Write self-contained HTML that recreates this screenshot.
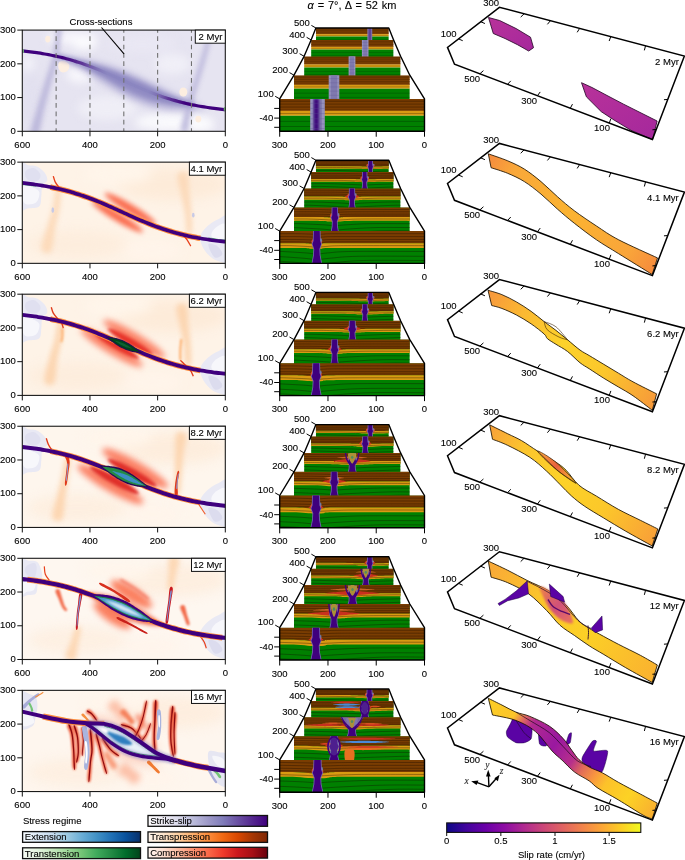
<!DOCTYPE html>
<html><head><meta charset="utf-8"><style>
html,body{margin:0;padding:0;background:#fff;width:685px;height:860px;overflow:hidden}
svg{display:block;font-family:"Liberation Sans", sans-serif;}
text{opacity:0.999;stroke:#000;stroke-width:0.18px;stroke-opacity:0.6}
</style></head><body>
<svg width="685" height="860" viewBox="0 0 685 860">
<defs>
<clipPath id="lc0"><rect x="22.30" y="30.10" width="203.00" height="101.20"/></clipPath>
<filter id="b4" filterUnits="userSpaceOnUse" x="-100" y="-100" width="900" height="1100" color-interpolation-filters="sRGB"><feGaussianBlur stdDeviation="4"/></filter>
<filter id="b2_6" filterUnits="userSpaceOnUse" x="-100" y="-100" width="900" height="1100" color-interpolation-filters="sRGB"><feGaussianBlur stdDeviation="2.6"/></filter>
<filter id="b2_4" filterUnits="userSpaceOnUse" x="-100" y="-100" width="900" height="1100" color-interpolation-filters="sRGB"><feGaussianBlur stdDeviation="2.4"/></filter>
<filter id="b3_2" filterUnits="userSpaceOnUse" x="-100" y="-100" width="900" height="1100" color-interpolation-filters="sRGB"><feGaussianBlur stdDeviation="3.2"/></filter>
<filter id="b2_8" filterUnits="userSpaceOnUse" x="-100" y="-100" width="900" height="1100" color-interpolation-filters="sRGB"><feGaussianBlur stdDeviation="2.8"/></filter>
<filter id="b0_6" filterUnits="userSpaceOnUse" x="-100" y="-100" width="900" height="1100" color-interpolation-filters="sRGB"><feGaussianBlur stdDeviation="0.6"/></filter>
<linearGradient id="fg0" gradientUnits="userSpaceOnUse" x1="0" y1="0" x2="203" y2="0"><stop offset="0" stop-color="#3f007d"/><stop offset="0.2" stop-color="#3f007d"/><stop offset="0.3" stop-color="#54278f" stop-opacity="0.85"/><stop offset="0.42" stop-color="#807dba" stop-opacity="0.25"/><stop offset="0.62" stop-color="#807dba" stop-opacity="0.25"/><stop offset="0.72" stop-color="#54278f" stop-opacity="0.85"/><stop offset="0.8" stop-color="#3f007d"/><stop offset="1" stop-color="#3f007d"/></linearGradient>
<filter id="b2_2" filterUnits="userSpaceOnUse" x="-100" y="-100" width="900" height="1100" color-interpolation-filters="sRGB"><feGaussianBlur stdDeviation="2.2"/></filter>
<clipPath id="lc1"><rect x="22.30" y="162.15" width="203.00" height="101.20"/></clipPath>
<filter id="b6" filterUnits="userSpaceOnUse" x="-100" y="-100" width="900" height="1100" color-interpolation-filters="sRGB"><feGaussianBlur stdDeviation="6"/></filter>
<filter id="b2_5" filterUnits="userSpaceOnUse" x="-100" y="-100" width="900" height="1100" color-interpolation-filters="sRGB"><feGaussianBlur stdDeviation="2.5"/></filter>
<filter id="b0_3" filterUnits="userSpaceOnUse" x="-100" y="-100" width="900" height="1100" color-interpolation-filters="sRGB"><feGaussianBlur stdDeviation="0.3"/></filter>
<clipPath id="lc2"><rect x="22.30" y="294.20" width="203.00" height="101.20"/></clipPath>
<filter id="b3" filterUnits="userSpaceOnUse" x="-100" y="-100" width="900" height="1100" color-interpolation-filters="sRGB"><feGaussianBlur stdDeviation="3"/></filter>
<filter id="b1_5" filterUnits="userSpaceOnUse" x="-100" y="-100" width="900" height="1100" color-interpolation-filters="sRGB"><feGaussianBlur stdDeviation="1.5"/></filter>
<filter id="b0_35" filterUnits="userSpaceOnUse" x="-100" y="-100" width="900" height="1100" color-interpolation-filters="sRGB"><feGaussianBlur stdDeviation="0.35"/></filter>
<filter id="b0_8" filterUnits="userSpaceOnUse" x="-100" y="-100" width="900" height="1100" color-interpolation-filters="sRGB"><feGaussianBlur stdDeviation="0.8"/></filter>
<clipPath id="lc3"><rect x="22.30" y="426.25" width="203.00" height="101.20"/></clipPath>
<filter id="b1_6" filterUnits="userSpaceOnUse" x="-100" y="-100" width="900" height="1100" color-interpolation-filters="sRGB"><feGaussianBlur stdDeviation="1.6"/></filter>
<filter id="b0_4" filterUnits="userSpaceOnUse" x="-100" y="-100" width="900" height="1100" color-interpolation-filters="sRGB"><feGaussianBlur stdDeviation="0.4"/></filter>
<clipPath id="lc4"><rect x="22.30" y="558.30" width="203.00" height="101.20"/></clipPath>
<filter id="b2" filterUnits="userSpaceOnUse" x="-100" y="-100" width="900" height="1100" color-interpolation-filters="sRGB"><feGaussianBlur stdDeviation="2"/></filter>
<filter id="b1_2" filterUnits="userSpaceOnUse" x="-100" y="-100" width="900" height="1100" color-interpolation-filters="sRGB"><feGaussianBlur stdDeviation="1.2"/></filter>
<filter id="b1_8" filterUnits="userSpaceOnUse" x="-100" y="-100" width="900" height="1100" color-interpolation-filters="sRGB"><feGaussianBlur stdDeviation="1.8"/></filter>
<filter id="b1_3" filterUnits="userSpaceOnUse" x="-100" y="-100" width="900" height="1100" color-interpolation-filters="sRGB"><feGaussianBlur stdDeviation="1.3"/></filter>
<filter id="b1" filterUnits="userSpaceOnUse" x="-100" y="-100" width="900" height="1100" color-interpolation-filters="sRGB"><feGaussianBlur stdDeviation="1"/></filter>
<clipPath id="lc5"><rect x="22.30" y="690.35" width="203.00" height="101.20"/></clipPath>
<filter id="b0_5" filterUnits="userSpaceOnUse" x="-100" y="-100" width="900" height="1100" color-interpolation-filters="sRGB"><feGaussianBlur stdDeviation="0.5"/></filter>
<filter id="b0_2" filterUnits="userSpaceOnUse" x="-100" y="-100" width="900" height="1100" color-interpolation-filters="sRGB"><feGaussianBlur stdDeviation="0.2"/></filter>
<filter id="b0_7" filterUnits="userSpaceOnUse" x="-100" y="-100" width="900" height="1100" color-interpolation-filters="sRGB"><feGaussianBlur stdDeviation="0.7"/></filter>
<clipPath id="ms1"><rect x="315.90" y="28.00" width="72.90" height="16.27"/></clipPath>
<clipPath id="ms2"><rect x="311.10" y="39.90" width="82.50" height="18.41"/></clipPath>
<clipPath id="ms3"><rect x="304.10" y="56.30" width="96.50" height="21.54"/></clipPath>
<clipPath id="ms4"><rect x="294.00" y="75.20" width="115.80" height="25.85"/></clipPath>
<clipPath id="ms5"><rect x="279.70" y="98.90" width="144.80" height="32.32"/></clipPath>
<clipPath id="ms6"><rect x="315.90" y="160.20" width="72.90" height="16.27"/></clipPath>
<clipPath id="ms7"><rect x="311.10" y="172.10" width="82.50" height="18.41"/></clipPath>
<clipPath id="ms8"><rect x="304.10" y="188.50" width="96.50" height="21.54"/></clipPath>
<clipPath id="ms9"><rect x="294.00" y="207.40" width="115.80" height="25.85"/></clipPath>
<clipPath id="ms10"><rect x="279.70" y="231.10" width="144.80" height="32.32"/></clipPath>
<clipPath id="ms11"><rect x="315.90" y="292.40" width="72.90" height="16.27"/></clipPath>
<clipPath id="ms12"><rect x="311.10" y="304.30" width="82.50" height="18.41"/></clipPath>
<clipPath id="ms13"><rect x="304.10" y="320.70" width="96.50" height="21.54"/></clipPath>
<clipPath id="ms14"><rect x="294.00" y="339.60" width="115.80" height="25.85"/></clipPath>
<clipPath id="ms15"><rect x="279.70" y="363.30" width="144.80" height="32.32"/></clipPath>
<clipPath id="ms16"><rect x="315.90" y="424.60" width="72.90" height="16.27"/></clipPath>
<clipPath id="ms17"><rect x="311.10" y="436.50" width="82.50" height="18.41"/></clipPath>
<clipPath id="ms18"><rect x="304.10" y="452.90" width="96.50" height="21.54"/></clipPath>
<clipPath id="ms19"><rect x="294.00" y="471.80" width="115.80" height="25.85"/></clipPath>
<clipPath id="ms20"><rect x="279.70" y="495.50" width="144.80" height="32.32"/></clipPath>
<clipPath id="ms21"><rect x="315.90" y="556.80" width="72.90" height="16.27"/></clipPath>
<clipPath id="ms22"><rect x="311.10" y="568.70" width="82.50" height="18.41"/></clipPath>
<clipPath id="ms23"><rect x="304.10" y="585.10" width="96.50" height="21.54"/></clipPath>
<clipPath id="ms24"><rect x="294.00" y="604.00" width="115.80" height="25.85"/></clipPath>
<clipPath id="ms25"><rect x="279.70" y="627.70" width="144.80" height="32.32"/></clipPath>
<clipPath id="ms26"><rect x="315.90" y="689.00" width="72.90" height="16.27"/></clipPath>
<clipPath id="ms27"><rect x="311.10" y="700.90" width="82.50" height="18.41"/></clipPath>
<clipPath id="ms28"><rect x="304.10" y="717.30" width="96.50" height="21.54"/></clipPath>
<clipPath id="ms29"><rect x="294.00" y="736.20" width="115.80" height="25.85"/></clipPath>
<clipPath id="ms30"><rect x="279.70" y="759.90" width="144.80" height="32.32"/></clipPath>
<linearGradient id="rg0" x1="0" y1="0" x2="1" y2="1"><stop offset="0" stop-color="#b8329a"/><stop offset="1" stop-color="#a5289c"/></linearGradient>
<linearGradient id="rg1" gradientUnits="userSpaceOnUse" x1="488" y1="156.1" x2="655" y2="266.1"><stop offset="0" stop-color="#f58a3e"/><stop offset="0.15" stop-color="#f9a83a"/><stop offset="0.5" stop-color="#fbb331"/><stop offset="0.85" stop-color="#f9a53a"/><stop offset="1" stop-color="#f68c3c"/></linearGradient>
<linearGradient id="rg2" gradientUnits="userSpaceOnUse" x1="488" y1="292.2" x2="655" y2="402.2"><stop offset="0" stop-color="#f7963c"/><stop offset="0.2" stop-color="#fbb832"/><stop offset="0.45" stop-color="#fcd22a"/><stop offset="0.7" stop-color="#fbc72c"/><stop offset="1" stop-color="#f79a3a"/></linearGradient>
<linearGradient id="rg3" gradientUnits="userSpaceOnUse" x1="488" y1="428.4" x2="655" y2="538.4"><stop offset="0" stop-color="#f8a03a"/><stop offset="0.2" stop-color="#fbc42e"/><stop offset="0.45" stop-color="#fcd228"/><stop offset="0.7" stop-color="#fcc82a"/><stop offset="1" stop-color="#f8a038"/></linearGradient>
<linearGradient id="rl3" gradientUnits="userSpaceOnUse" x1="540" y1="453.4" x2="575" y2="483.4"><stop offset="0" stop-color="#f8a040"/><stop offset="0.45" stop-color="#e8603c"/><stop offset="1" stop-color="#fbc030"/></linearGradient>
<linearGradient id="rg4" gradientUnits="userSpaceOnUse" x1="488" y1="564.5" x2="655" y2="674.5"><stop offset="0" stop-color="#f9a838"/><stop offset="0.3" stop-color="#fbc42c"/><stop offset="0.6" stop-color="#fcd026"/><stop offset="1" stop-color="#fab230"/></linearGradient>
<linearGradient id="rl5" gradientUnits="userSpaceOnUse" x1="545" y1="589.5" x2="572" y2="620.5"><stop offset="0" stop-color="#e87a50"/><stop offset="0.5" stop-color="#d0507a"/><stop offset="1" stop-color="#e87060"/></linearGradient>
<linearGradient id="rg5" gradientUnits="userSpaceOnUse" x1="488" y1="700.6" x2="655" y2="810.6"><stop offset="0" stop-color="#fcce25"/><stop offset="0.15" stop-color="#fbc42a"/><stop offset="0.2" stop-color="#e06a60"/><stop offset="0.25" stop-color="#b12a90"/><stop offset="0.4" stop-color="#9a18a0"/><stop offset="0.52" stop-color="#b8308a"/><stop offset="0.58" stop-color="#e06a5a"/><stop offset="0.65" stop-color="#f89540"/><stop offset="0.72" stop-color="#fcc22a"/><stop offset="0.85" stop-color="#fcd225"/><stop offset="1" stop-color="#f9b030"/></linearGradient>
<linearGradient id="gPurples" x1="0" y1="0" x2="1" y2="0"><stop offset="0.000" stop-color="#fcfbfd"/><stop offset="0.125" stop-color="#efedf5"/><stop offset="0.250" stop-color="#dadaeb"/><stop offset="0.375" stop-color="#bcbddc"/><stop offset="0.500" stop-color="#9e9ac8"/><stop offset="0.625" stop-color="#807dba"/><stop offset="0.750" stop-color="#6a51a3"/><stop offset="0.875" stop-color="#54278f"/><stop offset="1.000" stop-color="#3f007d"/></linearGradient>
<linearGradient id="gBlues" x1="0" y1="0" x2="1" y2="0"><stop offset="0.000" stop-color="#f7fbff"/><stop offset="0.125" stop-color="#deebf7"/><stop offset="0.250" stop-color="#c6dbef"/><stop offset="0.375" stop-color="#9ecae1"/><stop offset="0.500" stop-color="#6baed6"/><stop offset="0.625" stop-color="#4292c6"/><stop offset="0.750" stop-color="#2171b5"/><stop offset="0.875" stop-color="#08519c"/><stop offset="1.000" stop-color="#08306b"/></linearGradient>
<linearGradient id="gGreens" x1="0" y1="0" x2="1" y2="0"><stop offset="0.000" stop-color="#f7fcf5"/><stop offset="0.125" stop-color="#e5f5e0"/><stop offset="0.250" stop-color="#c7e9c0"/><stop offset="0.375" stop-color="#a1d99b"/><stop offset="0.500" stop-color="#74c476"/><stop offset="0.625" stop-color="#41ab5d"/><stop offset="0.750" stop-color="#238b45"/><stop offset="0.875" stop-color="#006d2c"/><stop offset="1.000" stop-color="#00441b"/></linearGradient>
<linearGradient id="gOranges" x1="0" y1="0" x2="1" y2="0"><stop offset="0.000" stop-color="#fff5eb"/><stop offset="0.125" stop-color="#fee6ce"/><stop offset="0.250" stop-color="#fdd0a2"/><stop offset="0.375" stop-color="#fdae6b"/><stop offset="0.500" stop-color="#fd8d3c"/><stop offset="0.625" stop-color="#f16913"/><stop offset="0.750" stop-color="#d94801"/><stop offset="0.875" stop-color="#a63603"/><stop offset="1.000" stop-color="#7f2704"/></linearGradient>
<linearGradient id="gReds" x1="0" y1="0" x2="1" y2="0"><stop offset="0.000" stop-color="#fff5f0"/><stop offset="0.125" stop-color="#fee0d2"/><stop offset="0.250" stop-color="#fcbba1"/><stop offset="0.375" stop-color="#fc9272"/><stop offset="0.500" stop-color="#fb6a4a"/><stop offset="0.625" stop-color="#ef3b2c"/><stop offset="0.750" stop-color="#cb181d"/><stop offset="0.875" stop-color="#a50f15"/><stop offset="1.000" stop-color="#67000d"/></linearGradient>
<linearGradient id="gPlasma" x1="0" y1="0" x2="1" y2="0"><stop offset="0.000" stop-color="#0d0887"/><stop offset="0.100" stop-color="#41049d"/><stop offset="0.200" stop-color="#6a00a8"/><stop offset="0.300" stop-color="#8f0da4"/><stop offset="0.400" stop-color="#b12a90"/><stop offset="0.500" stop-color="#cc4778"/><stop offset="0.600" stop-color="#e16462"/><stop offset="0.700" stop-color="#f2844b"/><stop offset="0.800" stop-color="#fca636"/><stop offset="0.900" stop-color="#fcce25"/><stop offset="1.000" stop-color="#f0f921"/></linearGradient>
</defs>
<g clip-path="url(#lc0)"><g transform="translate(22.30 30.10)">
<rect x="-2" y="-2" width="208" height="106" fill="#e6e4f1"/><g filter="url(#b4)"><ellipse cx="50" cy="8" rx="26" ry="6" fill="#f8f7fc"/><ellipse cx="62" cy="14" rx="12" ry="6" fill="#fbfbfd"/><ellipse cx="58" cy="44" rx="14" ry="9" fill="#f7f6fb"/><ellipse cx="150" cy="92" rx="38" ry="9" fill="#f9f9fc"/><ellipse cx="178" cy="94" rx="14" ry="8" fill="#fbfbfd"/><ellipse cx="10" cy="66" rx="9" ry="28" fill="#e2e0ef"/><ellipse cx="120" cy="14" rx="35" ry="9" fill="#e9e7f3"/><ellipse cx="85" cy="78" rx="30" ry="12" fill="#efeef6"/><ellipse cx="150" cy="34" rx="18" ry="10" fill="#f0eff7"/><ellipse cx="6" cy="34" rx="6" ry="8" fill="#f3f2f9"/></g><path d="M15.88,104.97 C18.11,101.29 19.47,89.11 21.52,80.93 C23.56,72.76 25.93,63.96 28.15,55.92 C30.37,47.88 33.27,39.62 34.84,32.69 C36.40,25.77 36.81,20.11 37.53,14.37 C38.26,8.64 39.64,1.05 39.18,-1.73 C38.73,-4.50 35.94,-4.83 34.82,-2.27 C33.70,0.29 33.41,8.03 32.47,13.63 C31.52,19.22 30.93,24.57 29.16,31.31 C27.39,38.05 24.30,46.12 21.85,54.08 C19.40,62.04 16.77,70.91 14.48,79.07 C12.19,87.22 7.89,98.71 8.12,103.03 C8.35,107.35 13.65,108.65 15.88,104.97Z" fill="#b8b4d9" filter="url(#b2_6)" opacity="0.9"/><path d="M186.04,-2.39 C184.68,0.79 183.73,10.18 181.83,17.46 C179.92,24.74 177.03,33.65 174.63,41.28 C172.22,48.91 169.31,56.90 167.39,63.24 C165.47,69.59 164.53,73.34 163.11,79.36 C161.69,85.38 158.52,95.83 158.86,99.37 C159.20,102.92 163.47,103.75 165.14,100.63 C166.81,97.51 167.64,86.62 168.89,80.64 C170.14,74.66 170.87,71.08 172.61,64.76 C174.36,58.44 177.11,50.42 179.37,42.72 C181.63,35.02 184.41,25.93 186.17,18.54 C187.94,11.15 189.98,1.88 189.96,-1.61 C189.94,-5.10 187.39,-5.57 186.04,-2.39Z" fill="#b5b1d8" filter="url(#b2_4)" opacity="0.85"/><path d="M40.00,28.57 C40.00,28.00 44.03,28.54 46.04,28.58 C48.06,28.62 50.07,28.68 52.08,28.79 C54.10,28.90 56.11,29.04 58.12,29.23 C60.14,29.41 62.15,29.64 64.17,29.91 C66.18,30.19 68.19,30.50 70.21,30.86 C72.22,31.23 74.24,31.63 76.25,32.09 C78.26,32.54 80.28,33.04 82.29,33.59 C84.31,34.13 86.32,34.72 88.33,35.35 C90.35,35.98 92.36,36.65 94.38,37.36 C96.39,38.07 98.40,38.82 100.42,39.60 C102.43,40.38 104.44,41.19 106.46,42.03 C108.47,42.87 110.49,43.74 112.50,44.63 C114.51,45.51 116.53,46.43 118.54,47.35 C120.56,48.28 122.57,49.22 124.58,50.17 C126.60,51.13 128.61,52.10 130.62,53.07 C132.64,54.04 134.65,55.02 136.67,55.99 C138.68,56.97 140.69,57.96 142.71,58.94 C144.72,59.92 146.74,60.90 148.75,61.87 C150.76,62.84 152.78,63.81 154.79,64.78 C156.81,65.74 158.82,66.69 160.83,67.64 C162.85,68.58 164.86,69.52 166.88,70.44 C168.89,71.36 170.90,72.27 172.92,73.16 C174.93,74.06 176.94,74.94 178.96,75.80 C180.97,76.66 185.00,77.77 185.00,78.33 C185.00,78.90 180.97,78.93 178.96,79.19 C176.94,79.45 174.93,79.69 172.92,79.89 C170.90,80.09 168.89,80.26 166.88,80.39 C164.86,80.51 162.85,80.60 160.83,80.64 C158.82,80.67 156.81,80.67 154.79,80.60 C152.78,80.54 150.76,80.43 148.75,80.25 C146.74,80.08 144.72,79.85 142.71,79.56 C140.69,79.27 138.68,78.92 136.67,78.51 C134.65,78.10 132.64,77.62 130.62,77.09 C128.61,76.55 126.60,75.95 124.58,75.29 C122.57,74.63 120.56,73.91 118.54,73.13 C116.53,72.35 114.51,71.51 112.50,70.63 C110.49,69.74 108.47,68.79 106.46,67.81 C104.44,66.82 102.43,65.78 100.42,64.71 C98.40,63.64 96.39,62.52 94.38,61.38 C92.36,60.24 90.35,59.06 88.33,57.87 C86.32,56.67 84.31,55.45 82.29,54.21 C80.28,52.98 78.26,51.73 76.25,50.47 C74.24,49.22 72.22,47.95 70.21,46.69 C68.19,45.43 66.18,44.16 64.17,42.91 C62.15,41.66 60.14,40.41 58.12,39.18 C56.11,37.94 54.10,36.72 52.08,35.52 C50.07,34.32 48.06,33.13 46.04,31.97 C44.03,30.82 40.00,29.13 40.00,28.57Z" fill="#bcb8db" filter="url(#b3_2)"/><path d="M60.00,34.25 C60.00,33.90 62.92,34.61 64.38,34.81 C65.83,35.01 67.29,35.23 68.75,35.47 C70.21,35.71 71.67,35.96 73.12,36.24 C74.58,36.52 76.04,36.82 77.50,37.14 C78.96,37.46 80.42,37.80 81.88,38.16 C83.33,38.53 84.79,38.91 86.25,39.32 C87.71,39.73 89.17,40.16 90.62,40.61 C92.08,41.07 93.54,41.54 95.00,42.04 C96.46,42.53 97.92,43.05 99.38,43.59 C100.83,44.12 102.29,44.68 103.75,45.26 C105.21,45.83 106.67,46.43 108.12,47.04 C109.58,47.65 111.04,48.28 112.50,48.93 C113.96,49.57 115.42,50.23 116.88,50.90 C118.33,51.57 119.79,52.25 121.25,52.95 C122.71,53.64 124.17,54.35 125.62,55.06 C127.08,55.77 128.54,56.49 130.00,57.22 C131.46,57.94 132.92,58.67 134.38,59.41 C135.83,60.14 137.29,60.88 138.75,61.62 C140.21,62.35 141.67,63.09 143.12,63.83 C144.58,64.56 146.04,65.30 147.50,66.03 C148.96,66.76 150.42,67.48 151.88,68.20 C153.33,68.92 154.79,69.63 156.25,70.33 C157.71,71.03 159.17,71.73 160.62,72.41 C162.08,73.09 165.00,74.07 165.00,74.41 C165.00,74.76 162.08,74.49 160.62,74.50 C159.17,74.51 157.71,74.50 156.25,74.47 C154.79,74.44 153.33,74.40 151.88,74.32 C150.42,74.25 148.96,74.15 147.50,74.03 C146.04,73.90 144.58,73.75 143.12,73.57 C141.67,73.38 140.21,73.17 138.75,72.93 C137.29,72.69 135.83,72.41 134.38,72.10 C132.92,71.79 131.46,71.45 130.00,71.07 C128.54,70.70 127.08,70.29 125.62,69.84 C124.17,69.40 122.71,68.92 121.25,68.40 C119.79,67.89 118.33,67.34 116.88,66.76 C115.42,66.18 113.96,65.57 112.50,64.93 C111.04,64.28 109.58,63.61 108.12,62.90 C106.67,62.20 105.21,61.47 103.75,60.71 C102.29,59.96 100.83,59.17 99.38,58.37 C97.92,57.57 96.46,56.74 95.00,55.89 C93.54,55.05 92.08,54.18 90.62,53.31 C89.17,52.43 87.71,51.54 86.25,50.64 C84.79,49.73 83.33,48.82 81.88,47.90 C80.42,46.99 78.96,46.06 77.50,45.14 C76.04,44.22 74.58,43.29 73.12,42.37 C71.67,41.44 70.21,40.52 68.75,39.61 C67.29,38.70 65.83,37.79 64.38,36.90 C62.92,36.00 60.00,34.60 60.00,34.25Z" fill="#948fc5" filter="url(#b2_8)"/><g filter="url(#b0_6)" fill="#fdeee0"><ellipse cx="25.5" cy="9" rx="2.6" ry="3.4"/><path d="M37.00,32.00 C38.00,31.00 40.33,30.50 42.00,31.00 C43.67,31.50 46.50,33.33 47.00,35.00 C47.50,36.67 46.33,39.83 45.00,41.00 C43.67,42.17 40.50,42.67 39.00,42.00 C37.50,41.33 36.33,38.67 36.00,37.00 C35.67,35.33 36.00,33.00 37.00,32.00Z"/><ellipse cx="161" cy="62" rx="4" ry="4.6"/><ellipse cx="176" cy="89" rx="3" ry="3.4"/></g><path d="M35.00,26.39 C35.68,26.55 37.73,27.01 39.09,27.34 C40.45,27.68 41.82,28.02 43.18,28.38 C44.55,28.74 45.91,29.11 47.27,29.49 C48.64,29.87 50.00,30.27 51.36,30.68 C52.73,31.09 54.09,31.51 55.45,31.95 C56.82,32.38 58.18,32.83 59.55,33.30 C60.91,33.76 62.27,34.23 63.64,34.72 C65.00,35.21 66.36,35.71 67.73,36.22 C69.09,36.74 70.45,37.26 71.82,37.80 C73.18,38.33 74.55,38.88 75.91,39.43 C77.27,39.99 78.64,40.56 80.00,41.13 C81.36,41.71 82.73,42.29 84.09,42.88 C85.45,43.47 86.82,44.07 88.18,44.68 C89.55,45.28 90.91,45.89 92.27,46.50 C93.64,47.11 95.00,47.73 96.36,48.35 C97.73,48.97 99.09,49.59 100.45,50.21 C101.82,50.83 103.18,51.45 104.55,52.06 C105.91,52.68 107.27,53.30 108.64,53.91 C110.00,54.52 111.36,55.13 112.73,55.73 C114.09,56.33 115.45,56.92 116.82,57.51 C118.18,58.10 119.55,58.68 120.91,59.25 C122.27,59.82 123.64,60.38 125.00,60.94 C126.36,61.49 127.73,62.03 129.09,62.56 C130.45,63.09 131.82,63.61 133.18,64.12 C134.55,64.62 135.91,65.12 137.27,65.60 C138.64,66.08 140.00,66.55 141.36,67.01 C142.73,67.47 144.09,67.91 145.45,68.34 C146.82,68.77 148.18,69.19 149.55,69.59 C150.91,70.00 152.27,70.39 153.64,70.76 C155.00,71.14 156.36,71.51 157.73,71.86 C159.09,72.21 160.45,72.55 161.82,72.88 C163.18,73.20 164.55,73.52 165.91,73.82 C167.27,74.12 169.32,74.54 170.00,74.69" fill="none" stroke="#8a84c0" stroke-width="6" filter="url(#b2_2)" opacity="0.7"/><path d="M-4.00,20.33 C-3.33,20.40 -1.33,20.60 0.00,20.75 C1.33,20.89 2.67,21.04 4.00,21.20 C5.33,21.36 6.67,21.52 8.00,21.69 C9.33,21.86 10.67,22.04 12.00,22.23 C13.33,22.42 14.67,22.61 16.00,22.82 C17.33,23.02 18.67,23.23 20.00,23.46 C21.33,23.68 22.67,23.91 24.00,24.15 C25.33,24.40 26.67,24.65 28.00,24.91 C29.33,25.17 30.67,25.44 32.00,25.73 C33.33,26.01 34.67,26.31 36.00,26.61 C37.33,26.92 38.67,27.24 40.00,27.57 C41.33,27.90 42.67,28.24 44.00,28.59 C45.33,28.95 46.67,29.32 48.00,29.69 C49.33,30.07 50.67,30.47 52.00,30.87 C53.33,31.28 54.67,31.69 56.00,32.12 C57.33,32.55 58.67,33.00 60.00,33.45 C61.33,33.91 62.67,34.37 64.00,34.85 C65.33,35.33 66.67,35.82 68.00,36.33 C69.33,36.83 70.67,37.34 72.00,37.87 C73.33,38.39 74.67,38.93 76.00,39.47 C77.33,40.02 78.67,40.57 80.00,41.13 C81.33,41.69 82.67,42.27 84.00,42.84 C85.33,43.42 86.67,44.01 88.00,44.60 C89.33,45.18 90.67,45.78 92.00,46.38 C93.33,46.98 94.67,47.58 96.00,48.18 C97.33,48.79 98.67,49.39 100.00,50.00 C101.33,50.61 102.67,51.21 104.00,51.82 C105.33,52.42 106.67,53.02 108.00,53.62 C109.33,54.22 110.67,54.82 112.00,55.40 C113.33,55.99 114.67,56.58 116.00,57.16 C117.33,57.73 118.67,58.31 120.00,58.87 C121.33,59.43 122.67,59.98 124.00,60.53 C125.33,61.07 126.67,61.61 128.00,62.13 C129.33,62.66 130.67,63.17 132.00,63.67 C133.33,64.18 134.67,64.67 136.00,65.15 C137.33,65.63 138.67,66.09 140.00,66.55 C141.33,67.00 142.67,67.45 144.00,67.88 C145.33,68.31 146.67,68.72 148.00,69.13 C149.33,69.53 150.67,69.93 152.00,70.31 C153.33,70.68 154.67,71.05 156.00,71.41 C157.33,71.76 158.67,72.10 160.00,72.43 C161.33,72.76 162.67,73.08 164.00,73.39 C165.33,73.69 166.67,73.99 168.00,74.27 C169.33,74.56 170.67,74.83 172.00,75.09 C173.33,75.35 174.67,75.60 176.00,75.85 C177.33,76.09 178.67,76.32 180.00,76.54 C181.33,76.77 182.67,76.98 184.00,77.18 C185.33,77.39 186.67,77.58 188.00,77.77 C189.33,77.96 190.67,78.14 192.00,78.31 C193.33,78.48 194.67,78.64 196.00,78.80 C197.33,78.96 198.67,79.11 200.00,79.25 C201.33,79.40 202.67,79.53 204.00,79.67 C205.33,79.80 207.33,79.98 208.00,80.04" fill="none" stroke="url(#fg0)" stroke-width="3.2"/><path d="M-1,19.2 h2.5 v3.5 h-2.5z" fill="#7ad07a"/><path d="M201.5,77.1 h2.5 v3.5 h-2.5z" fill="#7ad07a"/><line x1="33.83" y1="0" x2="33.83" y2="101.2" stroke="#707070" stroke-width="1.1" stroke-dasharray="4.7,3.65" stroke-dashoffset="2.15"/><line x1="67.67" y1="0" x2="67.67" y2="101.2" stroke="#707070" stroke-width="1.1" stroke-dasharray="4.7,3.65" stroke-dashoffset="2.15"/><line x1="101.50" y1="0" x2="101.50" y2="101.2" stroke="#707070" stroke-width="1.1" stroke-dasharray="4.7,3.65" stroke-dashoffset="2.15"/><line x1="135.33" y1="0" x2="135.33" y2="101.2" stroke="#707070" stroke-width="1.1" stroke-dasharray="4.7,3.65" stroke-dashoffset="2.15"/><line x1="169.17" y1="0" x2="169.17" y2="101.2" stroke="#707070" stroke-width="1.1" stroke-dasharray="4.7,3.65" stroke-dashoffset="2.15"/>
</g></g>
<rect x="22.30" y="30.10" width="203.00" height="101.20" fill="none" stroke="#1a1a1a" stroke-width="1.1"/>
<rect x="195.30" y="30.10" width="30.00" height="13.10" fill="#fff" stroke="#111" stroke-width="1"/>
<text x="222.30" y="39.70" font-size="9.5" text-anchor="end" >2 Myr</text>
<line x1="17.30" y1="131.30" x2="22.30" y2="131.30" stroke="#111" stroke-width="1"/>
<text x="15.80" y="134.00" font-size="9.5" text-anchor="end" >0</text>
<line x1="17.30" y1="97.57" x2="22.30" y2="97.57" stroke="#111" stroke-width="1"/>
<text x="15.80" y="100.27" font-size="9.5" text-anchor="end" >100</text>
<line x1="17.30" y1="63.83" x2="22.30" y2="63.83" stroke="#111" stroke-width="1"/>
<text x="15.80" y="66.53" font-size="9.5" text-anchor="end" >200</text>
<line x1="17.30" y1="30.10" x2="22.30" y2="30.10" stroke="#111" stroke-width="1"/>
<text x="15.80" y="32.80" font-size="9.5" text-anchor="end" >300</text>
<line x1="22.30" y1="131.30" x2="22.30" y2="136.30" stroke="#111" stroke-width="1"/>
<text x="22.30" y="147.60" font-size="9.5" text-anchor="middle" >600</text>
<line x1="89.97" y1="131.30" x2="89.97" y2="136.30" stroke="#111" stroke-width="1"/>
<text x="89.97" y="147.60" font-size="9.5" text-anchor="middle" >400</text>
<line x1="157.63" y1="131.30" x2="157.63" y2="136.30" stroke="#111" stroke-width="1"/>
<text x="157.63" y="147.60" font-size="9.5" text-anchor="middle" >200</text>
<line x1="225.30" y1="131.30" x2="225.30" y2="136.30" stroke="#111" stroke-width="1"/>
<text x="225.30" y="147.60" font-size="9.5" text-anchor="middle" >0</text>
<g clip-path="url(#lc1)"><g transform="translate(22.30 162.15)">
<rect x="-2" y="-2" width="208" height="106" fill="#fef3e7"/><g filter="url(#b6)" opacity="1.0"><ellipse cx="150" cy="22" rx="55" ry="16" fill="#fdebd9"/><ellipse cx="55" cy="82" rx="50" ry="14" fill="#fdeddd"/><ellipse cx="95" cy="12" rx="35" ry="10" fill="#fff5ea"/><ellipse cx="130" cy="88" rx="30" ry="10" fill="#fff4ea"/></g><g filter="url(#b0_6)"><path d="M-3.00,2.00 C-1.50,-5.00 3.17,2.67 6.00,3.00 C8.83,3.33 11.33,2.83 14.00,4.00 C16.67,5.17 20.17,7.67 22.00,10.00 C23.83,12.33 25.33,15.67 25.00,18.00 C24.67,20.33 21.00,21.33 20.00,24.00 C19.00,26.67 19.50,30.67 19.00,34.00 C18.50,37.33 19.17,42.00 17.00,44.00 C14.83,46.00 9.33,45.83 6.00,46.00 C2.67,46.17 -1.50,52.33 -3.00,45.00 C-4.50,37.67 -4.50,9.00 -3.00,2.00Z" fill="#e9e9f4"/><path d="M1.00,24.00 C2.67,22.17 7.33,24.00 10.00,25.00 C12.67,26.00 16.33,27.50 17.00,30.00 C17.67,32.50 16.17,38.00 14.00,40.00 C11.83,42.00 6.33,42.67 4.00,42.00 C1.67,41.33 0.50,39.00 0.00,36.00 C-0.50,33.00 -0.67,25.83 1.00,24.00Z" fill="#f7f7fb"/><path d="M4.00,8.00 C5.50,6.67 9.67,5.33 12.00,6.00 C14.33,6.67 17.33,10.00 18.00,12.00 C18.67,14.00 17.67,16.83 16.00,18.00 C14.33,19.17 10.17,19.67 8.00,19.00 C5.83,18.33 3.67,15.83 3.00,14.00 C2.33,12.17 2.50,9.33 4.00,8.00Z" fill="#e0e0f0"/><path d="M207.00,56.00 C205.17,48.83 199.67,55.67 196.00,57.00 C192.33,58.33 188.00,61.17 185.00,64.00 C182.00,66.83 178.67,70.33 178.00,74.00 C177.33,77.67 179.00,82.33 181.00,86.00 C183.00,89.67 186.83,93.67 190.00,96.00 C193.17,98.33 197.17,99.33 200.00,100.00 C202.83,100.67 205.83,107.33 207.00,100.00 C208.17,92.67 208.83,63.17 207.00,56.00Z" fill="#e9e9f4"/><path d="M203.00,62.00 C201.50,60.17 196.33,63.33 194.00,65.00 C191.67,66.67 189.17,69.83 189.00,72.00 C188.83,74.17 190.67,77.33 193.00,78.00 C195.33,78.67 201.33,78.67 203.00,76.00 C204.67,73.33 204.50,63.83 203.00,62.00Z" fill="#f7f7fb"/><path d="M186.00,82.00 C186.50,80.17 192.67,82.33 195.00,84.00 C197.33,85.67 200.50,90.17 200.00,92.00 C199.50,93.83 194.33,96.67 192.00,95.00 C189.67,93.33 185.50,83.83 186.00,82.00Z" fill="#dcdcee"/></g><path d="M33.51,25.74 C32.22,28.76 32.15,38.02 30.72,44.41 C29.29,50.80 26.88,56.97 24.94,64.06 C23.01,71.14 18.46,82.77 19.11,86.94 C19.77,91.11 26.56,92.56 28.89,89.06 C31.21,85.56 31.66,73.19 33.06,65.94 C34.46,58.70 36.38,52.20 37.28,45.59 C38.19,38.98 39.11,29.57 38.49,26.26 C37.86,22.95 34.81,22.71 33.51,25.74Z" fill="#fcd9b8" filter="url(#b2_5)" opacity="0.9"/><path d="M169.50,69.86 C170.30,66.78 169.71,58.06 169.32,51.65 C168.92,45.24 167.85,38.11 167.12,31.38 C166.39,24.65 166.96,14.36 164.94,11.26 C162.93,8.15 156.07,9.18 155.06,12.74 C154.04,16.30 157.61,26.02 158.88,32.62 C160.15,39.22 161.75,46.10 162.68,52.35 C163.62,58.60 163.37,67.22 164.50,70.14 C165.64,73.06 168.69,72.94 169.50,69.86Z" fill="#fcd9b8" filter="url(#b2_5)" opacity="0.9"/><ellipse cx="108.0" cy="46.5" rx="30.0" ry="4.2" fill="#fa6a4c" transform="rotate(31.0 108.0 46.5)" filter="url(#b2_4)"/><ellipse cx="95.0" cy="54.5" rx="30.0" ry="4.2" fill="#fa6a4c" transform="rotate(31.0 95.0 54.5)" filter="url(#b2_4)"/><path d="M28.00,24.91 C28.68,25.05 30.70,25.45 32.05,25.74 C33.41,26.03 34.76,26.33 36.11,26.64 C37.46,26.95 38.81,27.27 40.16,27.61 C41.51,27.94 42.86,28.29 44.22,28.65 C45.57,29.01 46.92,29.39 48.27,29.77 C49.62,30.16 50.97,30.56 52.32,30.97 C53.68,31.38 55.03,31.81 56.38,32.25 C57.73,32.68 59.08,33.13 60.43,33.60 C61.78,34.06 63.14,34.54 64.49,35.03 C65.84,35.52 67.19,36.02 68.54,36.53 C69.89,37.04 71.24,37.57 72.59,38.10 C73.95,38.64 75.30,39.18 76.65,39.74 C78.00,40.29 79.35,40.86 80.70,41.43 C82.05,42.00 83.41,42.58 84.76,43.17 C86.11,43.76 87.46,44.36 88.81,44.95 C90.16,45.55 91.51,46.16 92.86,46.77 C94.22,47.38 95.57,47.99 96.92,48.60 C98.27,49.21 99.62,49.83 100.97,50.44 C102.32,51.06 103.68,51.67 105.03,52.28 C106.38,52.89 107.73,53.50 109.08,54.11 C110.43,54.71 111.78,55.31 113.14,55.91 C114.49,56.50 115.84,57.09 117.19,57.67 C118.54,58.25 119.89,58.82 121.24,59.39 C122.59,59.95 123.95,60.51 125.30,61.06 C126.65,61.60 128.00,62.14 129.35,62.66 C130.70,63.19 132.05,63.70 133.41,64.20 C134.76,64.70 136.11,65.19 137.46,65.67 C138.81,66.14 140.16,66.61 141.51,67.06 C142.86,67.51 144.22,67.95 145.57,68.38 C146.92,68.80 148.27,69.22 149.62,69.61 C150.97,70.01 152.32,70.40 153.68,70.78 C155.03,71.15 156.38,71.51 157.73,71.86 C159.08,72.21 160.43,72.54 161.78,72.87 C163.14,73.19 164.49,73.50 165.84,73.80 C167.19,74.10 168.54,74.39 169.89,74.67 C171.24,74.94 172.59,75.21 173.95,75.47 C175.30,75.72 177.32,76.08 178.00,76.20" fill="none" stroke="#fd8d3c" stroke-width="5.6" opacity="1.0"/><path d="M31.00,14.00 C31.33,15.00 32.00,18.08 33.00,20.00 C34.00,21.92 36.33,24.58 37.00,25.50" fill="none" stroke="#e8401c" stroke-width="1.3" filter="url(#b0_3)"/><path d="M161.00,73.00 C161.67,73.83 163.75,76.17 165.00,78.00 C166.25,79.83 167.92,83.00 168.50,84.00" fill="none" stroke="#e8401c" stroke-width="1.3" filter="url(#b0_3)"/><g fill="#c8cae6"><ellipse cx="30.5" cy="48" rx="1.3" ry="2.8"/><ellipse cx="171" cy="53" rx="1.3" ry="2.4"/></g><path d="M0.00,22.25 C1.33,22.40 5.67,22.90 8.00,23.19 C10.33,23.49 13.00,23.88 14.00,24.02" fill="none" stroke="#41ab5d" stroke-width="1.1" opacity="0.85"/><path d="M186.00,75.98 C187.67,76.20 193.00,76.94 196.00,77.30 C199.00,77.67 202.67,78.02 204.00,78.17" fill="none" stroke="#41ab5d" stroke-width="1.1" opacity="0.85"/><path d="M-4.00,20.33 C-3.33,20.40 -1.33,20.60 0.00,20.75 C1.33,20.89 2.67,21.04 4.00,21.20 C5.33,21.36 6.67,21.52 8.00,21.69 C9.33,21.86 10.67,22.04 12.00,22.23 C13.33,22.42 14.67,22.61 16.00,22.82 C17.33,23.02 18.67,23.23 20.00,23.46 C21.33,23.68 22.67,23.91 24.00,24.15 C25.33,24.40 26.67,24.65 28.00,24.91 C29.33,25.17 30.67,25.44 32.00,25.73 C33.33,26.01 34.67,26.31 36.00,26.61 C37.33,26.92 38.67,27.24 40.00,27.57 C41.33,27.90 42.67,28.24 44.00,28.59 C45.33,28.95 46.67,29.32 48.00,29.69 C49.33,30.07 50.67,30.47 52.00,30.87 C53.33,31.28 54.67,31.69 56.00,32.12 C57.33,32.55 58.67,33.00 60.00,33.45 C61.33,33.91 62.67,34.37 64.00,34.85 C65.33,35.33 66.67,35.82 68.00,36.33 C69.33,36.83 70.67,37.34 72.00,37.87 C73.33,38.39 74.67,38.93 76.00,39.47 C77.33,40.02 78.67,40.57 80.00,41.13 C81.33,41.69 82.67,42.27 84.00,42.84 C85.33,43.42 86.67,44.01 88.00,44.60 C89.33,45.18 90.67,45.78 92.00,46.38 C93.33,46.98 94.67,47.58 96.00,48.18 C97.33,48.79 98.67,49.39 100.00,50.00 C101.33,50.61 102.67,51.21 104.00,51.82 C105.33,52.42 106.67,53.02 108.00,53.62 C109.33,54.22 110.67,54.82 112.00,55.40 C113.33,55.99 114.67,56.58 116.00,57.16 C117.33,57.73 118.67,58.31 120.00,58.87 C121.33,59.43 122.67,59.98 124.00,60.53 C125.33,61.07 126.67,61.61 128.00,62.13 C129.33,62.66 130.67,63.17 132.00,63.67 C133.33,64.18 134.67,64.67 136.00,65.15 C137.33,65.63 138.67,66.09 140.00,66.55 C141.33,67.00 142.67,67.45 144.00,67.88 C145.33,68.31 146.67,68.72 148.00,69.13 C149.33,69.53 150.67,69.93 152.00,70.31 C153.33,70.68 154.67,71.05 156.00,71.41 C157.33,71.76 158.67,72.10 160.00,72.43 C161.33,72.76 162.67,73.08 164.00,73.39 C165.33,73.69 166.67,73.99 168.00,74.27 C169.33,74.56 170.67,74.83 172.00,75.09 C173.33,75.35 174.67,75.60 176.00,75.85 C177.33,76.09 178.67,76.32 180.00,76.54 C181.33,76.77 182.67,76.98 184.00,77.18 C185.33,77.39 186.67,77.58 188.00,77.77 C189.33,77.96 190.67,78.14 192.00,78.31 C193.33,78.48 194.67,78.64 196.00,78.80 C197.33,78.96 198.67,79.11 200.00,79.25 C201.33,79.40 202.67,79.53 204.00,79.67 C205.33,79.80 207.33,79.98 208.00,80.04" fill="none" stroke="#3f007d" stroke-width="3.6"/>
</g></g>
<rect x="22.30" y="162.15" width="203.00" height="101.20" fill="none" stroke="#1a1a1a" stroke-width="1.1"/>
<rect x="189.40" y="162.15" width="35.90" height="13.10" fill="#fff" stroke="#111" stroke-width="1"/>
<text x="222.30" y="171.75" font-size="9.5" text-anchor="end" >4.1 Myr</text>
<line x1="17.30" y1="263.35" x2="22.30" y2="263.35" stroke="#111" stroke-width="1"/>
<text x="15.80" y="266.05" font-size="9.5" text-anchor="end" >0</text>
<line x1="17.30" y1="229.62" x2="22.30" y2="229.62" stroke="#111" stroke-width="1"/>
<text x="15.80" y="232.32" font-size="9.5" text-anchor="end" >100</text>
<line x1="17.30" y1="195.88" x2="22.30" y2="195.88" stroke="#111" stroke-width="1"/>
<text x="15.80" y="198.58" font-size="9.5" text-anchor="end" >200</text>
<line x1="17.30" y1="162.15" x2="22.30" y2="162.15" stroke="#111" stroke-width="1"/>
<text x="15.80" y="164.85" font-size="9.5" text-anchor="end" >300</text>
<line x1="22.30" y1="263.35" x2="22.30" y2="268.35" stroke="#111" stroke-width="1"/>
<text x="22.30" y="279.65" font-size="9.5" text-anchor="middle" >600</text>
<line x1="89.97" y1="263.35" x2="89.97" y2="268.35" stroke="#111" stroke-width="1"/>
<text x="89.97" y="279.65" font-size="9.5" text-anchor="middle" >400</text>
<line x1="157.63" y1="263.35" x2="157.63" y2="268.35" stroke="#111" stroke-width="1"/>
<text x="157.63" y="279.65" font-size="9.5" text-anchor="middle" >200</text>
<line x1="225.30" y1="263.35" x2="225.30" y2="268.35" stroke="#111" stroke-width="1"/>
<text x="225.30" y="279.65" font-size="9.5" text-anchor="middle" >0</text>
<g clip-path="url(#lc2)"><g transform="translate(22.30 294.20)">
<rect x="-2" y="-2" width="208" height="106" fill="#fef3e7"/><g filter="url(#b6)" opacity="1.0"><ellipse cx="150" cy="22" rx="55" ry="16" fill="#fdebd9"/><ellipse cx="55" cy="82" rx="50" ry="14" fill="#fdeddd"/><ellipse cx="95" cy="12" rx="35" ry="10" fill="#fff5ea"/><ellipse cx="130" cy="88" rx="30" ry="10" fill="#fff4ea"/></g><g filter="url(#b0_6)"><path d="M-3.00,2.00 C-1.50,-5.00 3.17,2.67 6.00,3.00 C8.83,3.33 11.33,2.83 14.00,4.00 C16.67,5.17 20.17,7.67 22.00,10.00 C23.83,12.33 25.33,15.67 25.00,18.00 C24.67,20.33 21.00,21.33 20.00,24.00 C19.00,26.67 19.50,30.67 19.00,34.00 C18.50,37.33 19.17,42.00 17.00,44.00 C14.83,46.00 9.33,45.83 6.00,46.00 C2.67,46.17 -1.50,52.33 -3.00,45.00 C-4.50,37.67 -4.50,9.00 -3.00,2.00Z" fill="#e9e9f4"/><path d="M1.00,24.00 C2.67,22.17 7.33,24.00 10.00,25.00 C12.67,26.00 16.33,27.50 17.00,30.00 C17.67,32.50 16.17,38.00 14.00,40.00 C11.83,42.00 6.33,42.67 4.00,42.00 C1.67,41.33 0.50,39.00 0.00,36.00 C-0.50,33.00 -0.67,25.83 1.00,24.00Z" fill="#f7f7fb"/><path d="M4.00,8.00 C5.50,6.67 9.67,5.33 12.00,6.00 C14.33,6.67 17.33,10.00 18.00,12.00 C18.67,14.00 17.67,16.83 16.00,18.00 C14.33,19.17 10.17,19.67 8.00,19.00 C5.83,18.33 3.67,15.83 3.00,14.00 C2.33,12.17 2.50,9.33 4.00,8.00Z" fill="#e0e0f0"/><path d="M207.00,56.00 C205.17,48.83 199.67,55.67 196.00,57.00 C192.33,58.33 188.00,61.17 185.00,64.00 C182.00,66.83 178.67,70.33 178.00,74.00 C177.33,77.67 179.00,82.33 181.00,86.00 C183.00,89.67 186.83,93.67 190.00,96.00 C193.17,98.33 197.17,99.33 200.00,100.00 C202.83,100.67 205.83,107.33 207.00,100.00 C208.17,92.67 208.83,63.17 207.00,56.00Z" fill="#e9e9f4"/><path d="M203.00,62.00 C201.50,60.17 196.33,63.33 194.00,65.00 C191.67,66.67 189.17,69.83 189.00,72.00 C188.83,74.17 190.67,77.33 193.00,78.00 C195.33,78.67 201.33,78.67 203.00,76.00 C204.67,73.33 204.50,63.83 203.00,62.00Z" fill="#f7f7fb"/><path d="M186.00,82.00 C186.50,80.17 192.67,82.33 195.00,84.00 C197.33,85.67 200.50,90.17 200.00,92.00 C199.50,93.83 194.33,96.67 192.00,95.00 C189.67,93.33 185.50,83.83 186.00,82.00Z" fill="#dcdcee"/></g><path d="M35.52,27.71 C34.22,30.39 34.16,38.31 32.72,44.38 C31.29,50.45 28.70,57.02 26.92,64.15 C25.15,71.27 21.24,83.02 22.07,87.14 C22.91,91.26 29.76,92.40 31.93,88.86 C34.09,85.31 33.85,73.06 35.08,65.85 C36.30,58.65 38.37,51.88 39.28,45.62 C40.18,39.36 41.11,31.28 40.48,28.29 C39.86,25.31 36.81,25.03 35.52,27.71Z" fill="#fcd5b0" filter="url(#b2_5)" opacity="0.95"/><path d="M168.50,69.86 C169.30,66.78 168.71,58.06 168.32,51.65 C167.92,45.24 166.85,38.11 166.12,31.38 C165.39,24.65 165.96,14.36 163.94,11.26 C161.93,8.15 155.07,9.18 154.06,12.74 C153.04,16.30 156.61,26.02 157.88,32.62 C159.15,39.22 160.75,46.10 161.68,52.35 C162.62,58.60 162.37,67.22 163.50,70.14 C164.64,73.06 167.69,72.94 168.50,69.86Z" fill="#fcd5b0" filter="url(#b2_5)" opacity="0.95"/><ellipse cx="112.0" cy="44.7" rx="36.0" ry="6.0" fill="#fb8064" transform="rotate(31.0 112.0 44.7)" filter="url(#b3)"/><ellipse cx="89.3" cy="53.5" rx="36.0" ry="6.0" fill="#fb8064" transform="rotate(31.0 89.3 53.5)" filter="url(#b3)"/><ellipse cx="108.0" cy="47.5" rx="26.0" ry="3.5" fill="#e8352a" transform="rotate(30.0 108.0 47.5)" filter="url(#b1_5)"/><ellipse cx="94.0" cy="51.5" rx="26.0" ry="3.5" fill="#e8352a" transform="rotate(30.0 94.0 51.5)" filter="url(#b1_5)"/><path d="M28.00,24.91 C28.68,25.05 30.70,25.45 32.05,25.74 C33.41,26.03 34.76,26.33 36.11,26.64 C37.46,26.95 38.81,27.27 40.16,27.61 C41.51,27.94 42.86,28.29 44.22,28.65 C45.57,29.01 46.92,29.39 48.27,29.77 C49.62,30.16 50.97,30.56 52.32,30.97 C53.68,31.38 55.03,31.81 56.38,32.25 C57.73,32.68 59.08,33.13 60.43,33.60 C61.78,34.06 63.14,34.54 64.49,35.03 C65.84,35.52 67.19,36.02 68.54,36.53 C69.89,37.04 71.24,37.57 72.59,38.10 C73.95,38.64 75.30,39.18 76.65,39.74 C78.00,40.29 79.35,40.86 80.70,41.43 C82.05,42.00 83.41,42.58 84.76,43.17 C86.11,43.76 87.46,44.36 88.81,44.95 C90.16,45.55 91.51,46.16 92.86,46.77 C94.22,47.38 95.57,47.99 96.92,48.60 C98.27,49.21 99.62,49.83 100.97,50.44 C102.32,51.06 103.68,51.67 105.03,52.28 C106.38,52.89 107.73,53.50 109.08,54.11 C110.43,54.71 111.78,55.31 113.14,55.91 C114.49,56.50 115.84,57.09 117.19,57.67 C118.54,58.25 119.89,58.82 121.24,59.39 C122.59,59.95 123.95,60.51 125.30,61.06 C126.65,61.60 128.00,62.14 129.35,62.66 C130.70,63.19 132.05,63.70 133.41,64.20 C134.76,64.70 136.11,65.19 137.46,65.67 C138.81,66.14 140.16,66.61 141.51,67.06 C142.86,67.51 144.22,67.95 145.57,68.38 C146.92,68.80 148.27,69.22 149.62,69.61 C150.97,70.01 152.32,70.40 153.68,70.78 C155.03,71.15 156.38,71.51 157.73,71.86 C159.08,72.21 160.43,72.54 161.78,72.87 C163.14,73.19 164.49,73.50 165.84,73.80 C167.19,74.10 168.54,74.39 169.89,74.67 C171.24,74.94 172.59,75.21 173.95,75.47 C175.30,75.72 177.32,76.08 178.00,76.20" fill="none" stroke="#fd8d3c" stroke-width="5.6" opacity="1.0"/><path d="M29.00,13.00 C29.33,14.00 30.00,17.17 31.00,19.00 C32.00,20.83 33.67,22.50 35.00,24.00 C36.33,25.50 38.00,26.33 39.00,28.00 C40.00,29.67 40.67,33.00 41.00,34.00" fill="none" stroke="#e03a1a" stroke-width="1.4" filter="url(#b0_35)"/><path d="M40.00,34.00 C40.00,35.33 40.17,39.67 40.00,42.00 C39.83,44.33 39.17,47.00 39.00,48.00" fill="none" stroke="#fdae6b" stroke-width="2" filter="url(#b0_8)"/><path d="M158.00,66.00 C158.83,66.83 161.33,69.33 163.00,71.00 C164.67,72.67 166.67,74.17 168.00,76.00 C169.33,77.83 170.50,81.00 171.00,82.00" fill="none" stroke="#e03a1a" stroke-width="1.4" filter="url(#b0_35)"/><path d="M158.00,66.00 C158.00,64.17 157.83,58.50 158.00,55.00 C158.17,51.50 158.83,46.67 159.00,45.00" fill="none" stroke="#fdae6b" stroke-width="2" filter="url(#b0_8)"/><path d="M-4.00,20.33 C-3.33,20.40 -1.33,20.60 0.00,20.75 C1.33,20.89 2.67,21.04 4.00,21.20 C5.33,21.36 6.67,21.52 8.00,21.69 C9.33,21.86 10.67,22.04 12.00,22.23 C13.33,22.42 14.67,22.61 16.00,22.82 C17.33,23.02 18.67,23.23 20.00,23.46 C21.33,23.68 22.67,23.91 24.00,24.15 C25.33,24.40 26.67,24.65 28.00,24.91 C29.33,25.17 30.67,25.44 32.00,25.73 C33.33,26.01 34.67,26.31 36.00,26.61 C37.33,26.92 38.67,27.24 40.00,27.57 C41.33,27.90 42.67,28.24 44.00,28.59 C45.33,28.95 46.67,29.32 48.00,29.69 C49.33,30.07 50.67,30.47 52.00,30.87 C53.33,31.28 54.67,31.69 56.00,32.12 C57.33,32.55 58.67,33.00 60.00,33.45 C61.33,33.91 62.67,34.37 64.00,34.85 C65.33,35.33 66.67,35.82 68.00,36.33 C69.33,36.83 70.67,37.34 72.00,37.87 C73.33,38.39 74.67,38.93 76.00,39.47 C77.33,40.02 78.67,40.57 80.00,41.13 C81.33,41.69 82.67,42.27 84.00,42.84 C85.33,43.42 86.67,44.01 88.00,44.60 C89.33,45.18 90.67,45.78 92.00,46.38 C93.33,46.98 94.67,47.58 96.00,48.18 C97.33,48.79 98.67,49.39 100.00,50.00 C101.33,50.61 102.67,51.21 104.00,51.82 C105.33,52.42 106.67,53.02 108.00,53.62 C109.33,54.22 110.67,54.82 112.00,55.40 C113.33,55.99 114.67,56.58 116.00,57.16 C117.33,57.73 118.67,58.31 120.00,58.87 C121.33,59.43 122.67,59.98 124.00,60.53 C125.33,61.07 126.67,61.61 128.00,62.13 C129.33,62.66 130.67,63.17 132.00,63.67 C133.33,64.18 134.67,64.67 136.00,65.15 C137.33,65.63 138.67,66.09 140.00,66.55 C141.33,67.00 142.67,67.45 144.00,67.88 C145.33,68.31 146.67,68.72 148.00,69.13 C149.33,69.53 150.67,69.93 152.00,70.31 C153.33,70.68 154.67,71.05 156.00,71.41 C157.33,71.76 158.67,72.10 160.00,72.43 C161.33,72.76 162.67,73.08 164.00,73.39 C165.33,73.69 166.67,73.99 168.00,74.27 C169.33,74.56 170.67,74.83 172.00,75.09 C173.33,75.35 174.67,75.60 176.00,75.85 C177.33,76.09 178.67,76.32 180.00,76.54 C181.33,76.77 182.67,76.98 184.00,77.18 C185.33,77.39 186.67,77.58 188.00,77.77 C189.33,77.96 190.67,78.14 192.00,78.31 C193.33,78.48 194.67,78.64 196.00,78.80 C197.33,78.96 198.67,79.11 200.00,79.25 C201.33,79.40 202.67,79.53 204.00,79.67 C205.33,79.80 207.33,79.98 208.00,80.04" fill="none" stroke="#3f007d" stroke-width="3.8"/><path d="M83.00,42.41 C83.00,42.23 84.03,42.49 84.54,42.53 C85.06,42.57 85.57,42.62 86.08,42.66 C86.60,42.71 87.11,42.76 87.62,42.82 C88.14,42.88 88.65,42.94 89.17,43.01 C89.68,43.08 90.19,43.16 90.71,43.24 C91.22,43.33 91.74,43.42 92.25,43.52 C92.76,43.62 93.28,43.73 93.79,43.85 C94.31,43.97 94.82,44.10 95.33,44.24 C95.85,44.39 96.36,44.54 96.88,44.70 C97.39,44.86 97.90,45.04 98.42,45.22 C98.93,45.41 99.44,45.61 99.96,45.82 C100.47,46.03 100.99,46.25 101.50,46.48 C102.01,46.71 102.53,46.96 103.04,47.22 C103.56,47.47 104.07,47.74 104.58,48.02 C105.10,48.30 105.61,48.59 106.12,48.90 C106.64,49.20 107.15,49.51 107.67,49.83 C108.18,50.16 108.69,50.49 109.21,50.83 C109.72,51.17 110.24,51.52 110.75,51.88 C111.26,52.24 111.78,52.60 112.29,52.98 C112.81,53.35 113.32,53.73 113.83,54.11 C114.35,54.50 114.86,54.89 115.38,55.28 C115.89,55.67 116.40,56.07 116.92,56.47 C117.43,56.86 117.94,57.26 118.46,57.66 C118.97,58.07 120.00,58.68 120.00,58.87 C120.00,59.05 118.97,58.80 118.46,58.76 C117.94,58.72 117.43,58.68 116.92,58.64 C116.40,58.59 115.89,58.55 115.38,58.49 C114.86,58.44 114.35,58.38 113.83,58.31 C113.32,58.24 112.81,58.17 112.29,58.09 C111.78,58.01 111.26,57.92 110.75,57.82 C110.24,57.72 109.72,57.61 109.21,57.49 C108.69,57.38 108.18,57.25 107.67,57.11 C107.15,56.97 106.64,56.82 106.12,56.66 C105.61,56.50 105.10,56.32 104.58,56.14 C104.07,55.95 103.56,55.75 103.04,55.55 C102.53,55.34 102.01,55.11 101.50,54.88 C100.99,54.65 100.47,54.40 99.96,54.15 C99.44,53.89 98.93,53.62 98.42,53.34 C97.90,53.06 97.39,52.76 96.88,52.46 C96.36,52.16 95.85,51.84 95.33,51.52 C94.82,51.20 94.31,50.86 93.79,50.52 C93.28,50.17 92.76,49.82 92.25,49.46 C91.74,49.10 91.22,48.73 90.71,48.36 C90.19,47.98 89.68,47.60 89.17,47.21 C88.65,46.83 88.14,46.43 87.62,46.04 C87.11,45.64 86.60,45.24 86.08,44.84 C85.57,44.44 85.06,44.03 84.54,43.63 C84.03,43.22 83.00,42.59 83.00,42.41Z" fill="#2a0a55"/><path d="M86.00,43.72 C86.00,43.58 86.86,43.81 87.29,43.87 C87.72,43.92 88.15,43.97 88.58,44.03 C89.01,44.08 89.44,44.14 89.88,44.20 C90.31,44.27 90.74,44.33 91.17,44.41 C91.60,44.48 92.03,44.55 92.46,44.64 C92.89,44.72 93.32,44.81 93.75,44.90 C94.18,45.00 94.61,45.10 95.04,45.21 C95.47,45.32 95.90,45.44 96.33,45.56 C96.76,45.69 97.19,45.82 97.62,45.96 C98.06,46.11 98.49,46.26 98.92,46.42 C99.35,46.58 99.78,46.74 100.21,46.92 C100.64,47.10 101.07,47.29 101.50,47.48 C101.93,47.68 102.36,47.88 102.79,48.10 C103.22,48.31 103.65,48.53 104.08,48.76 C104.51,48.99 104.94,49.23 105.38,49.48 C105.81,49.73 106.24,49.99 106.67,50.25 C107.10,50.51 107.53,50.79 107.96,51.06 C108.39,51.34 108.82,51.63 109.25,51.92 C109.68,52.21 110.11,52.51 110.54,52.81 C110.97,53.11 111.40,53.42 111.83,53.73 C112.26,54.04 112.69,54.36 113.12,54.68 C113.56,54.99 113.99,55.32 114.42,55.64 C114.85,55.96 115.28,56.29 115.71,56.61 C116.14,56.94 117.00,57.45 117.00,57.59 C117.00,57.73 116.14,57.50 115.71,57.45 C115.28,57.40 114.85,57.35 114.42,57.30 C113.99,57.24 113.56,57.19 113.12,57.13 C112.69,57.06 112.26,57.00 111.83,56.93 C111.40,56.86 110.97,56.79 110.54,56.71 C110.11,56.62 109.68,56.54 109.25,56.44 C108.82,56.35 108.39,56.25 107.96,56.14 C107.53,56.03 107.10,55.92 106.67,55.79 C106.24,55.67 105.81,55.54 105.38,55.39 C104.94,55.25 104.51,55.10 104.08,54.94 C103.65,54.79 103.22,54.62 102.79,54.44 C102.36,54.26 101.93,54.08 101.50,53.88 C101.07,53.69 100.64,53.48 100.21,53.27 C99.78,53.05 99.35,52.83 98.92,52.60 C98.49,52.37 98.06,52.13 97.62,51.88 C97.19,51.63 96.76,51.37 96.33,51.11 C95.90,50.84 95.47,50.57 95.04,50.29 C94.61,50.01 94.18,49.72 93.75,49.43 C93.32,49.14 92.89,48.84 92.46,48.53 C92.03,48.23 91.60,47.92 91.17,47.61 C90.74,47.29 90.31,46.97 89.88,46.65 C89.44,46.33 89.01,46.01 88.58,45.68 C88.15,45.36 87.72,45.03 87.29,44.70 C86.86,44.37 86.00,43.85 86.00,43.72Z" fill="#00441b"/><path d="M92.00,46.38 C92.00,46.32 92.50,46.49 92.75,46.55 C93.00,46.60 93.25,46.66 93.50,46.72 C93.75,46.78 94.00,46.83 94.25,46.89 C94.50,46.96 94.75,47.02 95.00,47.08 C95.25,47.15 95.50,47.21 95.75,47.28 C96.00,47.35 96.25,47.42 96.50,47.49 C96.75,47.56 97.00,47.64 97.25,47.72 C97.50,47.80 97.75,47.88 98.00,47.97 C98.25,48.05 98.50,48.14 98.75,48.23 C99.00,48.32 99.25,48.42 99.50,48.52 C99.75,48.62 100.00,48.72 100.25,48.82 C100.50,48.93 100.75,49.04 101.00,49.15 C101.25,49.27 101.50,49.39 101.75,49.51 C102.00,49.63 102.25,49.75 102.50,49.88 C102.75,50.01 103.00,50.14 103.25,50.27 C103.50,50.41 103.75,50.55 104.00,50.69 C104.25,50.83 104.50,50.98 104.75,51.12 C105.00,51.27 105.25,51.42 105.50,51.58 C105.75,51.73 106.00,51.88 106.25,52.04 C106.50,52.20 106.75,52.36 107.00,52.52 C107.25,52.68 107.50,52.85 107.75,53.01 C108.00,53.18 108.25,53.34 108.50,53.51 C108.75,53.68 109.00,53.84 109.25,54.01 C109.50,54.18 110.00,54.46 110.00,54.52 C110.00,54.57 109.50,54.41 109.25,54.35 C109.00,54.30 108.75,54.24 108.50,54.18 C108.25,54.12 108.00,54.07 107.75,54.01 C107.50,53.95 107.25,53.88 107.00,53.82 C106.75,53.76 106.50,53.69 106.25,53.62 C106.00,53.56 105.75,53.49 105.50,53.41 C105.25,53.34 105.00,53.27 104.75,53.19 C104.50,53.11 104.25,53.03 104.00,52.94 C103.75,52.86 103.50,52.77 103.25,52.68 C103.00,52.59 102.75,52.49 102.50,52.39 C102.25,52.29 102.00,52.19 101.75,52.08 C101.50,51.98 101.25,51.87 101.00,51.75 C100.75,51.64 100.50,51.52 100.25,51.40 C100.00,51.28 99.75,51.16 99.50,51.03 C99.25,50.90 99.00,50.77 98.75,50.63 C98.50,50.50 98.25,50.36 98.00,50.22 C97.75,50.08 97.50,49.93 97.25,49.78 C97.00,49.63 96.75,49.48 96.50,49.33 C96.25,49.18 96.00,49.02 95.75,48.86 C95.50,48.70 95.25,48.54 95.00,48.38 C94.75,48.22 94.50,48.06 94.25,47.89 C94.00,47.72 93.75,47.56 93.50,47.39 C93.25,47.22 93.00,47.05 92.75,46.89 C92.50,46.72 92.00,46.44 92.00,46.38Z" fill="#11683a" opacity="0.8"/>
</g></g>
<rect x="22.30" y="294.20" width="203.00" height="101.20" fill="none" stroke="#1a1a1a" stroke-width="1.1"/>
<rect x="189.40" y="294.20" width="35.90" height="13.10" fill="#fff" stroke="#111" stroke-width="1"/>
<text x="222.30" y="303.80" font-size="9.5" text-anchor="end" >6.2 Myr</text>
<line x1="17.30" y1="395.40" x2="22.30" y2="395.40" stroke="#111" stroke-width="1"/>
<text x="15.80" y="398.10" font-size="9.5" text-anchor="end" >0</text>
<line x1="17.30" y1="361.67" x2="22.30" y2="361.67" stroke="#111" stroke-width="1"/>
<text x="15.80" y="364.37" font-size="9.5" text-anchor="end" >100</text>
<line x1="17.30" y1="327.93" x2="22.30" y2="327.93" stroke="#111" stroke-width="1"/>
<text x="15.80" y="330.63" font-size="9.5" text-anchor="end" >200</text>
<line x1="17.30" y1="294.20" x2="22.30" y2="294.20" stroke="#111" stroke-width="1"/>
<text x="15.80" y="296.90" font-size="9.5" text-anchor="end" >300</text>
<line x1="22.30" y1="395.40" x2="22.30" y2="400.40" stroke="#111" stroke-width="1"/>
<text x="22.30" y="411.70" font-size="9.5" text-anchor="middle" >600</text>
<line x1="89.97" y1="395.40" x2="89.97" y2="400.40" stroke="#111" stroke-width="1"/>
<text x="89.97" y="411.70" font-size="9.5" text-anchor="middle" >400</text>
<line x1="157.63" y1="395.40" x2="157.63" y2="400.40" stroke="#111" stroke-width="1"/>
<text x="157.63" y="411.70" font-size="9.5" text-anchor="middle" >200</text>
<line x1="225.30" y1="395.40" x2="225.30" y2="400.40" stroke="#111" stroke-width="1"/>
<text x="225.30" y="411.70" font-size="9.5" text-anchor="middle" >0</text>
<g clip-path="url(#lc3)"><g transform="translate(22.30 426.25)">
<rect x="-2" y="-2" width="208" height="106" fill="#fef6ed"/><g filter="url(#b6)" opacity="0.8"><ellipse cx="150" cy="22" rx="55" ry="16" fill="#fdebd9"/><ellipse cx="55" cy="82" rx="50" ry="14" fill="#fdeddd"/><ellipse cx="95" cy="12" rx="35" ry="10" fill="#fff5ea"/><ellipse cx="130" cy="88" rx="30" ry="10" fill="#fff4ea"/></g><g filter="url(#b0_6)"><path d="M-3.00,2.00 C-1.50,-5.00 3.17,2.67 6.00,3.00 C8.83,3.33 11.33,2.83 14.00,4.00 C16.67,5.17 20.17,7.67 22.00,10.00 C23.83,12.33 25.33,15.67 25.00,18.00 C24.67,20.33 21.00,21.33 20.00,24.00 C19.00,26.67 19.50,30.67 19.00,34.00 C18.50,37.33 19.17,42.00 17.00,44.00 C14.83,46.00 9.33,45.83 6.00,46.00 C2.67,46.17 -1.50,52.33 -3.00,45.00 C-4.50,37.67 -4.50,9.00 -3.00,2.00Z" fill="#e9e9f4"/><path d="M1.00,24.00 C2.67,22.17 7.33,24.00 10.00,25.00 C12.67,26.00 16.33,27.50 17.00,30.00 C17.67,32.50 16.17,38.00 14.00,40.00 C11.83,42.00 6.33,42.67 4.00,42.00 C1.67,41.33 0.50,39.00 0.00,36.00 C-0.50,33.00 -0.67,25.83 1.00,24.00Z" fill="#f7f7fb"/><path d="M4.00,8.00 C5.50,6.67 9.67,5.33 12.00,6.00 C14.33,6.67 17.33,10.00 18.00,12.00 C18.67,14.00 17.67,16.83 16.00,18.00 C14.33,19.17 10.17,19.67 8.00,19.00 C5.83,18.33 3.67,15.83 3.00,14.00 C2.33,12.17 2.50,9.33 4.00,8.00Z" fill="#e0e0f0"/><path d="M207.00,56.00 C205.17,48.83 199.67,55.67 196.00,57.00 C192.33,58.33 188.00,61.17 185.00,64.00 C182.00,66.83 178.67,70.33 178.00,74.00 C177.33,77.67 179.00,82.33 181.00,86.00 C183.00,89.67 186.83,93.67 190.00,96.00 C193.17,98.33 197.17,99.33 200.00,100.00 C202.83,100.67 205.83,107.33 207.00,100.00 C208.17,92.67 208.83,63.17 207.00,56.00Z" fill="#e9e9f4"/><path d="M203.00,62.00 C201.50,60.17 196.33,63.33 194.00,65.00 C191.67,66.67 189.17,69.83 189.00,72.00 C188.83,74.17 190.67,77.33 193.00,78.00 C195.33,78.67 201.33,78.67 203.00,76.00 C204.67,73.33 204.50,63.83 203.00,62.00Z" fill="#f7f7fb"/><path d="M186.00,82.00 C186.50,80.17 192.67,82.33 195.00,84.00 C197.33,85.67 200.50,90.17 200.00,92.00 C199.50,93.83 194.33,96.67 192.00,95.00 C189.67,93.33 185.50,83.83 186.00,82.00Z" fill="#dcdcee"/></g><path d="M43.53,31.59 C42.08,34.42 41.16,43.12 39.72,49.40 C38.28,55.67 36.51,62.27 34.91,69.22 C33.30,76.17 29.25,87.16 30.08,91.11 C30.92,95.05 37.75,96.28 39.92,92.89 C42.09,89.51 42.03,77.83 43.09,70.78 C44.15,63.73 45.38,57.00 46.28,50.60 C47.17,44.21 48.92,35.58 48.47,32.41 C48.01,29.24 44.99,28.76 43.53,31.59Z" fill="#fcd5b0" filter="url(#b2_5)" opacity="0.95"/><path d="M157.50,66.14 C158.63,63.19 158.72,54.48 159.33,48.18 C159.94,41.87 160.38,34.92 161.15,28.31 C161.93,21.70 165.16,11.97 163.98,8.50 C162.79,5.03 155.88,4.30 154.02,7.50 C152.17,10.70 153.07,20.97 152.85,27.69 C152.62,34.41 152.73,41.46 152.67,47.82 C152.61,54.19 151.70,62.81 152.50,65.86 C153.31,68.91 156.36,69.09 157.50,66.14Z" fill="#fcd5b0" filter="url(#b2_5)" opacity="0.95"/><ellipse cx="113.0" cy="42.0" rx="38.0" ry="7.0" fill="#fb8064" transform="rotate(30.0 113.0 42.0)" filter="url(#b3)"/><ellipse cx="88.0" cy="58.0" rx="38.0" ry="7.0" fill="#fb8064" transform="rotate(30.0 88.0 58.0)" filter="url(#b3)"/><ellipse cx="110.0" cy="46.5" rx="28.0" ry="4.0" fill="#e0302a" transform="rotate(29.0 110.0 46.5)" filter="url(#b1_6)"/><ellipse cx="92.0" cy="54.0" rx="28.0" ry="4.0" fill="#e0302a" transform="rotate(29.0 92.0 54.0)" filter="url(#b1_6)"/><path d="M28.00,24.91 C28.68,25.05 30.70,25.45 32.05,25.74 C33.41,26.03 34.76,26.33 36.11,26.64 C37.46,26.95 38.81,27.27 40.16,27.61 C41.51,27.94 42.86,28.29 44.22,28.65 C45.57,29.01 46.92,29.39 48.27,29.77 C49.62,30.16 50.97,30.56 52.32,30.97 C53.68,31.38 55.03,31.81 56.38,32.25 C57.73,32.68 59.08,33.13 60.43,33.60 C61.78,34.06 63.14,34.54 64.49,35.03 C65.84,35.52 67.19,36.02 68.54,36.53 C69.89,37.04 71.24,37.57 72.59,38.10 C73.95,38.64 75.30,39.18 76.65,39.74 C78.00,40.29 79.35,40.86 80.70,41.43 C82.05,42.00 83.41,42.58 84.76,43.17 C86.11,43.76 87.46,44.36 88.81,44.95 C90.16,45.55 91.51,46.16 92.86,46.77 C94.22,47.38 95.57,47.99 96.92,48.60 C98.27,49.21 99.62,49.83 100.97,50.44 C102.32,51.06 103.68,51.67 105.03,52.28 C106.38,52.89 107.73,53.50 109.08,54.11 C110.43,54.71 111.78,55.31 113.14,55.91 C114.49,56.50 115.84,57.09 117.19,57.67 C118.54,58.25 119.89,58.82 121.24,59.39 C122.59,59.95 123.95,60.51 125.30,61.06 C126.65,61.60 128.00,62.14 129.35,62.66 C130.70,63.19 132.05,63.70 133.41,64.20 C134.76,64.70 136.11,65.19 137.46,65.67 C138.81,66.14 140.16,66.61 141.51,67.06 C142.86,67.51 144.22,67.95 145.57,68.38 C146.92,68.80 148.27,69.22 149.62,69.61 C150.97,70.01 152.32,70.40 153.68,70.78 C155.03,71.15 156.38,71.51 157.73,71.86 C159.08,72.21 160.43,72.54 161.78,72.87 C163.14,73.19 164.49,73.50 165.84,73.80 C167.19,74.10 168.54,74.39 169.89,74.67 C171.24,74.94 172.59,75.21 173.95,75.47 C175.30,75.72 177.32,76.08 178.00,76.20" fill="none" stroke="#fd8d3c" stroke-width="5.6" opacity="1.0"/><path d="M24.00,12.00 C24.33,13.00 25.17,16.17 26.00,18.00 C26.83,19.83 28.50,22.17 29.00,23.00" fill="none" stroke="#e03a1a" stroke-width="1.4" filter="url(#b0_35)"/><path d="M42.46,29.44 C42.31,30.69 44.40,33.34 44.64,36.08 C44.87,38.82 44.21,42.24 43.87,45.87 C43.54,49.51 42.52,55.85 42.61,57.89 C42.69,59.93 43.81,60.07 44.39,58.11 C44.98,56.15 45.63,49.83 46.13,46.13 C46.62,42.43 47.46,38.85 47.36,35.92 C47.27,32.99 46.36,29.64 45.54,28.56 C44.72,27.48 42.61,28.19 42.46,29.44Z" fill="#e03a1a" filter="url(#b0_4)"/><path d="M45.00,37.97 C44.76,39.29 44.78,43.29 44.55,45.96 C44.32,48.62 43.63,52.60 43.60,53.95 C43.58,55.30 44.09,55.37 44.40,54.05 C44.70,52.73 45.18,48.71 45.45,46.04 C45.72,43.37 46.07,39.38 46.00,38.03 C45.92,36.69 45.24,36.65 45.00,37.97Z" fill="#8c9ad6"/><path d="M155.50,68.00 C155.95,66.35 154.96,61.75 155.20,58.11 C155.43,54.47 156.90,48.19 156.89,46.15 C156.87,44.11 155.79,43.89 155.11,45.85 C154.43,47.81 153.24,54.20 152.80,57.89 C152.37,61.58 152.05,66.32 152.50,68.00 C152.95,69.68 155.05,69.65 155.50,68.00Z" fill="#e03a1a" filter="url(#b0_4)"/><path d="M155.00,62.04 C155.24,60.88 155.21,57.38 155.45,55.05 C155.68,52.72 156.37,49.24 156.40,48.06 C156.42,46.87 155.91,46.79 155.60,47.94 C155.30,49.09 154.82,52.62 154.55,54.95 C154.29,57.29 153.93,60.78 154.00,61.96 C154.08,63.14 154.76,63.19 155.00,62.04Z" fill="#8c9ad6"/><path d="M175.00,76.00 C175.67,77.00 177.67,80.00 179.00,82.00 C180.33,84.00 182.33,87.00 183.00,88.00" fill="none" stroke="#f06030" stroke-width="1.2" filter="url(#b0_4)"/><path d="M-4.00,20.33 C-3.33,20.40 -1.33,20.60 0.00,20.75 C1.33,20.89 2.67,21.04 4.00,21.20 C5.33,21.36 6.67,21.52 8.00,21.69 C9.33,21.86 10.67,22.04 12.00,22.23 C13.33,22.42 14.67,22.61 16.00,22.82 C17.33,23.02 18.67,23.23 20.00,23.46 C21.33,23.68 22.67,23.91 24.00,24.15 C25.33,24.40 26.67,24.65 28.00,24.91 C29.33,25.17 30.67,25.44 32.00,25.73 C33.33,26.01 34.67,26.31 36.00,26.61 C37.33,26.92 38.67,27.24 40.00,27.57 C41.33,27.90 42.67,28.24 44.00,28.59 C45.33,28.95 46.67,29.32 48.00,29.69 C49.33,30.07 50.67,30.47 52.00,30.87 C53.33,31.28 54.67,31.69 56.00,32.12 C57.33,32.55 58.67,33.00 60.00,33.45 C61.33,33.91 62.67,34.37 64.00,34.85 C65.33,35.33 66.67,35.82 68.00,36.33 C69.33,36.83 70.67,37.34 72.00,37.87 C73.33,38.39 74.67,38.93 76.00,39.47 C77.33,40.02 78.67,40.57 80.00,41.13 C81.33,41.69 82.67,42.27 84.00,42.84 C85.33,43.42 86.67,44.01 88.00,44.60 C89.33,45.18 90.67,45.78 92.00,46.38 C93.33,46.98 94.67,47.58 96.00,48.18 C97.33,48.79 98.67,49.39 100.00,50.00 C101.33,50.61 102.67,51.21 104.00,51.82 C105.33,52.42 106.67,53.02 108.00,53.62 C109.33,54.22 110.67,54.82 112.00,55.40 C113.33,55.99 114.67,56.58 116.00,57.16 C117.33,57.73 118.67,58.31 120.00,58.87 C121.33,59.43 122.67,59.98 124.00,60.53 C125.33,61.07 126.67,61.61 128.00,62.13 C129.33,62.66 130.67,63.17 132.00,63.67 C133.33,64.18 134.67,64.67 136.00,65.15 C137.33,65.63 138.67,66.09 140.00,66.55 C141.33,67.00 142.67,67.45 144.00,67.88 C145.33,68.31 146.67,68.72 148.00,69.13 C149.33,69.53 150.67,69.93 152.00,70.31 C153.33,70.68 154.67,71.05 156.00,71.41 C157.33,71.76 158.67,72.10 160.00,72.43 C161.33,72.76 162.67,73.08 164.00,73.39 C165.33,73.69 166.67,73.99 168.00,74.27 C169.33,74.56 170.67,74.83 172.00,75.09 C173.33,75.35 174.67,75.60 176.00,75.85 C177.33,76.09 178.67,76.32 180.00,76.54 C181.33,76.77 182.67,76.98 184.00,77.18 C185.33,77.39 186.67,77.58 188.00,77.77 C189.33,77.96 190.67,78.14 192.00,78.31 C193.33,78.48 194.67,78.64 196.00,78.80 C197.33,78.96 198.67,79.11 200.00,79.25 C201.33,79.40 202.67,79.53 204.00,79.67 C205.33,79.80 207.33,79.98 208.00,80.04" fill="none" stroke="#3f007d" stroke-width="4"/><path d="M77.00,39.28 C77.00,39.01 78.39,39.28 79.08,39.29 C79.78,39.29 80.47,39.30 81.17,39.32 C81.86,39.34 82.56,39.36 83.25,39.39 C83.94,39.43 84.64,39.47 85.33,39.52 C86.03,39.58 86.72,39.64 87.42,39.72 C88.11,39.80 88.81,39.89 89.50,39.99 C90.19,40.10 90.89,40.22 91.58,40.36 C92.28,40.49 92.97,40.64 93.67,40.81 C94.36,40.98 95.06,41.17 95.75,41.37 C96.44,41.58 97.14,41.80 97.83,42.04 C98.53,42.28 99.22,42.54 99.92,42.82 C100.61,43.10 101.31,43.39 102.00,43.71 C102.69,44.02 103.39,44.36 104.08,44.71 C104.78,45.06 105.47,45.43 106.17,45.82 C106.86,46.21 107.56,46.61 108.25,47.04 C108.94,47.46 109.64,47.90 110.33,48.35 C111.03,48.80 111.72,49.27 112.42,49.75 C113.11,50.23 113.81,50.73 114.50,51.24 C115.19,51.74 115.89,52.26 116.58,52.79 C117.28,53.32 117.97,53.86 118.67,54.40 C119.36,54.95 120.06,55.50 120.75,56.06 C121.44,56.61 122.14,57.18 122.83,57.74 C123.53,58.31 124.22,58.87 124.92,59.44 C125.61,60.01 127.00,60.86 127.00,61.14 C127.00,61.41 125.61,61.11 124.92,61.08 C124.22,61.06 123.53,61.04 122.83,61.00 C122.14,60.97 121.44,60.93 120.75,60.88 C120.06,60.83 119.36,60.77 118.67,60.70 C117.97,60.63 117.28,60.55 116.58,60.46 C115.89,60.37 115.19,60.27 114.50,60.15 C113.81,60.03 113.11,59.90 112.42,59.75 C111.72,59.60 111.03,59.44 110.33,59.26 C109.64,59.08 108.94,58.89 108.25,58.68 C107.56,58.46 106.86,58.24 106.17,57.99 C105.47,57.75 104.78,57.48 104.08,57.20 C103.39,56.92 102.69,56.62 102.00,56.31 C101.31,55.99 100.61,55.66 99.92,55.31 C99.22,54.96 98.53,54.59 97.83,54.21 C97.14,53.83 96.44,53.43 95.75,53.01 C95.06,52.60 94.36,52.17 93.67,51.73 C92.97,51.28 92.28,50.82 91.58,50.35 C90.89,49.88 90.19,49.40 89.50,48.90 C88.81,48.41 88.11,47.90 87.42,47.39 C86.72,46.88 86.03,46.35 85.33,45.82 C84.64,45.29 83.94,44.76 83.25,44.22 C82.56,43.68 81.86,43.13 81.17,42.58 C80.47,42.03 79.78,41.48 79.08,40.93 C78.39,40.38 77.00,39.56 77.00,39.28Z" fill="#2a0a55"/><path d="M80.00,40.53 C80.00,40.33 81.22,40.61 81.83,40.66 C82.44,40.70 83.06,40.75 83.67,40.81 C84.28,40.86 84.89,40.92 85.50,40.98 C86.11,41.05 86.72,41.12 87.33,41.20 C87.94,41.28 88.56,41.37 89.17,41.47 C89.78,41.57 90.39,41.68 91.00,41.80 C91.61,41.91 92.22,42.04 92.83,42.19 C93.44,42.33 94.06,42.48 94.67,42.65 C95.28,42.82 95.89,43.00 96.50,43.19 C97.11,43.39 97.72,43.59 98.33,43.81 C98.94,44.03 99.56,44.27 100.17,44.52 C100.78,44.77 101.39,45.03 102.00,45.31 C102.61,45.59 103.22,45.88 103.83,46.18 C104.44,46.49 105.06,46.81 105.67,47.14 C106.28,47.47 106.89,47.82 107.50,48.18 C108.11,48.53 108.72,48.91 109.33,49.29 C109.94,49.67 110.56,50.06 111.17,50.47 C111.78,50.87 112.39,51.29 113.00,51.71 C113.61,52.13 114.22,52.57 114.83,53.01 C115.44,53.44 116.06,53.89 116.67,54.34 C117.28,54.80 117.89,55.26 118.50,55.72 C119.11,56.18 119.72,56.65 120.33,57.11 C120.94,57.58 121.56,58.05 122.17,58.52 C122.78,58.99 124.00,59.72 124.00,59.93 C124.00,60.14 122.78,59.82 122.17,59.76 C121.56,59.70 120.94,59.64 120.33,59.57 C119.72,59.50 119.11,59.43 118.50,59.35 C117.89,59.27 117.28,59.19 116.67,59.09 C116.06,59.00 115.44,58.90 114.83,58.79 C114.22,58.68 113.61,58.56 113.00,58.43 C112.39,58.30 111.78,58.16 111.17,58.01 C110.56,57.85 109.94,57.69 109.33,57.52 C108.72,57.34 108.11,57.15 107.50,56.95 C106.89,56.75 106.28,56.54 105.67,56.32 C105.06,56.09 104.44,55.85 103.83,55.60 C103.22,55.35 102.61,55.09 102.00,54.81 C101.39,54.53 100.78,54.24 100.17,53.94 C99.56,53.63 98.94,53.32 98.33,52.99 C97.72,52.66 97.11,52.32 96.50,51.97 C95.89,51.62 95.28,51.25 94.67,50.88 C94.06,50.50 93.44,50.12 92.83,49.72 C92.22,49.33 91.61,48.92 91.00,48.51 C90.39,48.10 89.78,47.68 89.17,47.25 C88.56,46.83 87.94,46.39 87.33,45.95 C86.72,45.51 86.11,45.07 85.50,44.62 C84.89,44.17 84.28,43.72 83.67,43.26 C83.06,42.81 82.44,42.35 81.83,41.90 C81.22,41.44 80.00,40.74 80.00,40.53Z" fill="#238b45"/><path d="M90.00,44.88 C90.00,44.78 90.86,45.04 91.29,45.12 C91.72,45.20 92.15,45.28 92.58,45.37 C93.01,45.45 93.44,45.54 93.88,45.63 C94.31,45.72 94.74,45.81 95.17,45.91 C95.60,46.00 96.03,46.10 96.46,46.21 C96.89,46.31 97.32,46.42 97.75,46.54 C98.18,46.65 98.61,46.78 99.04,46.90 C99.47,47.03 99.90,47.16 100.33,47.30 C100.76,47.44 101.19,47.58 101.62,47.74 C102.06,47.89 102.49,48.05 102.92,48.21 C103.35,48.38 103.78,48.55 104.21,48.73 C104.64,48.91 105.07,49.10 105.50,49.29 C105.93,49.49 106.36,49.69 106.79,49.90 C107.22,50.11 107.65,50.32 108.08,50.55 C108.51,50.77 108.94,51.00 109.38,51.23 C109.81,51.47 110.24,51.71 110.67,51.96 C111.10,52.21 111.53,52.46 111.96,52.72 C112.39,52.98 112.82,53.25 113.25,53.52 C113.68,53.79 114.11,54.06 114.54,54.34 C114.97,54.62 115.40,54.90 115.83,55.18 C116.26,55.47 116.69,55.76 117.12,56.05 C117.56,56.34 117.99,56.63 118.42,56.92 C118.85,57.22 119.28,57.51 119.71,57.80 C120.14,58.10 121.00,58.58 121.00,58.69 C121.00,58.79 120.14,58.53 119.71,58.44 C119.28,58.36 118.85,58.28 118.42,58.19 C117.99,58.10 117.56,58.01 117.12,57.92 C116.69,57.83 116.26,57.73 115.83,57.63 C115.40,57.53 114.97,57.43 114.54,57.32 C114.11,57.21 113.68,57.10 113.25,56.98 C112.82,56.86 112.39,56.74 111.96,56.61 C111.53,56.48 111.10,56.35 110.67,56.20 C110.24,56.06 109.81,55.92 109.38,55.76 C108.94,55.61 108.51,55.45 108.08,55.28 C107.65,55.11 107.22,54.94 106.79,54.76 C106.36,54.58 105.93,54.39 105.50,54.19 C105.07,54.00 104.64,53.80 104.21,53.59 C103.78,53.38 103.35,53.17 102.92,52.95 C102.49,52.73 102.06,52.50 101.62,52.26 C101.19,52.03 100.76,51.79 100.33,51.54 C99.90,51.30 99.47,51.05 99.04,50.79 C98.61,50.53 98.18,50.27 97.75,50.00 C97.32,49.74 96.89,49.47 96.46,49.19 C96.03,48.92 95.60,48.64 95.17,48.36 C94.74,48.08 94.31,47.79 93.88,47.50 C93.44,47.22 93.01,46.93 92.58,46.64 C92.15,46.35 91.72,46.05 91.29,45.76 C90.86,45.47 90.00,44.99 90.00,44.88Z" fill="#3d8ec4"/>
</g></g>
<rect x="22.30" y="426.25" width="203.00" height="101.20" fill="none" stroke="#1a1a1a" stroke-width="1.1"/>
<rect x="189.40" y="426.25" width="35.90" height="13.10" fill="#fff" stroke="#111" stroke-width="1"/>
<text x="222.30" y="435.85" font-size="9.5" text-anchor="end" >8.2 Myr</text>
<line x1="17.30" y1="527.45" x2="22.30" y2="527.45" stroke="#111" stroke-width="1"/>
<text x="15.80" y="530.15" font-size="9.5" text-anchor="end" >0</text>
<line x1="17.30" y1="493.72" x2="22.30" y2="493.72" stroke="#111" stroke-width="1"/>
<text x="15.80" y="496.42" font-size="9.5" text-anchor="end" >100</text>
<line x1="17.30" y1="459.98" x2="22.30" y2="459.98" stroke="#111" stroke-width="1"/>
<text x="15.80" y="462.68" font-size="9.5" text-anchor="end" >200</text>
<line x1="17.30" y1="426.25" x2="22.30" y2="426.25" stroke="#111" stroke-width="1"/>
<text x="15.80" y="428.95" font-size="9.5" text-anchor="end" >300</text>
<line x1="22.30" y1="527.45" x2="22.30" y2="532.45" stroke="#111" stroke-width="1"/>
<text x="22.30" y="543.75" font-size="9.5" text-anchor="middle" >600</text>
<line x1="89.97" y1="527.45" x2="89.97" y2="532.45" stroke="#111" stroke-width="1"/>
<text x="89.97" y="543.75" font-size="9.5" text-anchor="middle" >400</text>
<line x1="157.63" y1="527.45" x2="157.63" y2="532.45" stroke="#111" stroke-width="1"/>
<text x="157.63" y="543.75" font-size="9.5" text-anchor="middle" >200</text>
<line x1="225.30" y1="527.45" x2="225.30" y2="532.45" stroke="#111" stroke-width="1"/>
<text x="225.30" y="543.75" font-size="9.5" text-anchor="middle" >0</text>
<g clip-path="url(#lc4)"><g transform="translate(22.30 558.30)">
<rect x="-2" y="-2" width="208" height="106" fill="#fef7f0"/><g filter="url(#b6)" opacity="0.7"><ellipse cx="150" cy="22" rx="55" ry="16" fill="#fdebd9"/><ellipse cx="55" cy="82" rx="50" ry="14" fill="#fdeddd"/><ellipse cx="95" cy="12" rx="35" ry="10" fill="#fff5ea"/><ellipse cx="130" cy="88" rx="30" ry="10" fill="#fff4ea"/></g><g filter="url(#b0_6)"><path d="M-3.00,2.00 C-1.50,-3.60 3.17,2.20 6.00,2.40 C8.83,2.60 12.07,2.27 14.00,3.20 C15.93,4.13 16.60,5.53 17.60,8.00 C18.60,10.47 20.27,15.33 20.00,18.00 C19.73,20.67 16.80,22.47 16.00,24.00 C15.20,25.53 15.60,25.33 15.20,27.20 C14.80,29.07 15.13,33.60 13.60,35.20 C12.07,36.80 8.77,36.67 6.00,36.80 C3.23,36.93 -1.50,41.80 -3.00,36.00 C-4.50,30.20 -4.50,7.60 -3.00,2.00Z" fill="#e9e9f4"/><path d="M1.00,24.00 C2.67,22.17 7.90,25.00 10.00,25.00 C12.10,25.00 13.40,22.83 13.60,24.00 C13.80,25.17 12.80,30.40 11.20,32.00 C9.60,33.60 5.87,32.93 4.00,33.60 C2.13,34.27 0.50,37.60 0.00,36.00 C-0.50,34.40 -0.67,25.83 1.00,24.00Z" fill="#f7f7fb"/><path d="M4.00,8.00 C5.50,6.47 10.27,4.53 12.00,4.80 C13.73,5.07 14.27,7.40 14.40,9.60 C14.53,11.80 13.87,16.43 12.80,18.00 C11.73,19.57 9.63,19.67 8.00,19.00 C6.37,18.33 3.67,15.83 3.00,14.00 C2.33,12.17 2.50,9.53 4.00,8.00Z" fill="#e0e0f0"/><path d="M207.00,56.00 C205.17,48.83 199.67,55.67 196.00,57.00 C192.33,58.33 188.00,61.17 185.00,64.00 C182.00,66.83 178.67,70.33 178.00,74.00 C177.33,77.67 179.00,82.33 181.00,86.00 C183.00,89.67 186.83,93.67 190.00,96.00 C193.17,98.33 197.17,99.33 200.00,100.00 C202.83,100.67 205.83,107.33 207.00,100.00 C208.17,92.67 208.83,63.17 207.00,56.00Z" fill="#e9e9f4"/><path d="M203.00,62.00 C201.50,60.17 196.33,63.33 194.00,65.00 C191.67,66.67 189.17,69.83 189.00,72.00 C188.83,74.17 190.67,77.33 193.00,78.00 C195.33,78.67 201.33,78.67 203.00,76.00 C204.67,73.33 204.50,63.83 203.00,62.00Z" fill="#f7f7fb"/><path d="M186.00,82.00 C186.50,80.17 192.67,82.33 195.00,84.00 C197.33,85.67 200.50,90.17 200.00,92.00 C199.50,93.83 194.33,96.67 192.00,95.00 C189.67,93.33 185.50,83.83 186.00,82.00Z" fill="#dcdcee"/></g><path d="M53.58,69.36 C51.91,71.59 50.11,79.14 48.38,84.03 C46.64,88.93 42.43,95.84 43.17,98.71 C43.91,101.59 50.76,103.41 52.83,101.29 C54.91,99.16 54.69,91.07 55.62,85.97 C56.55,80.86 58.76,73.41 58.42,70.64 C58.08,67.88 55.26,67.12 53.58,69.36Z" fill="#fcd5b0" filter="url(#b2_5)" opacity="0.9"/><path d="M150.48,30.33 C151.84,27.97 152.64,20.44 153.72,15.50 C154.80,10.55 158.07,3.35 156.96,0.66 C155.84,-2.03 148.82,-2.97 147.04,-0.66 C145.26,1.65 146.54,9.45 146.28,14.50 C146.03,19.56 144.82,27.03 145.52,29.67 C146.22,32.31 149.11,32.69 150.48,30.33Z" fill="#fcd5b0" filter="url(#b2_5)" opacity="0.9"/><ellipse cx="109.0" cy="36.0" rx="24.0" ry="7.0" fill="#fb8060" transform="rotate(32.0 109.0 36.0)" filter="url(#b3_2)"/><ellipse cx="90.0" cy="57.0" rx="22.0" ry="7.0" fill="#fb8060" transform="rotate(34.0 90.0 57.0)" filter="url(#b3_2)"/><path d="M64.00,34.85 C64.00,34.50 66.17,34.94 67.25,35.00 C68.33,35.06 69.42,35.13 70.50,35.21 C71.58,35.29 72.67,35.39 73.75,35.50 C74.83,35.61 75.92,35.74 77.00,35.88 C78.08,36.03 79.17,36.19 80.25,36.37 C81.33,36.55 82.42,36.75 83.50,36.97 C84.58,37.19 85.67,37.43 86.75,37.70 C87.83,37.96 88.92,38.25 90.00,38.56 C91.08,38.86 92.17,39.20 93.25,39.55 C94.33,39.90 95.42,40.28 96.50,40.68 C97.58,41.08 98.67,41.51 99.75,41.95 C100.83,42.40 101.92,42.87 103.00,43.36 C104.08,43.85 105.17,44.37 106.25,44.90 C107.33,45.44 108.42,45.99 109.50,46.57 C110.58,47.14 111.67,47.73 112.75,48.34 C113.83,48.96 114.92,49.59 116.00,50.23 C117.08,50.87 118.17,51.53 119.25,52.20 C120.33,52.87 121.42,53.56 122.50,54.25 C123.58,54.95 124.67,55.66 125.75,56.37 C126.83,57.08 127.92,57.80 129.00,58.52 C130.08,59.25 131.17,59.98 132.25,60.71 C133.33,61.44 134.42,62.17 135.50,62.90 C136.58,63.62 137.67,64.35 138.75,65.08 C139.83,65.80 142.00,66.87 142.00,67.22 C142.00,67.57 139.83,67.19 138.75,67.16 C137.67,67.13 136.58,67.09 135.50,67.04 C134.42,66.98 133.33,66.92 132.25,66.83 C131.17,66.74 130.08,66.64 129.00,66.52 C127.92,66.40 126.83,66.27 125.75,66.11 C124.67,65.95 123.58,65.77 122.50,65.57 C121.42,65.37 120.33,65.14 119.25,64.90 C118.17,64.65 117.08,64.38 116.00,64.08 C114.92,63.79 113.83,63.47 112.75,63.13 C111.67,62.78 110.58,62.41 109.50,62.02 C108.42,61.63 107.33,61.21 106.25,60.76 C105.17,60.32 104.08,59.85 103.00,59.36 C101.92,58.87 100.83,58.36 99.75,57.82 C98.67,57.28 97.58,56.72 96.50,56.14 C95.42,55.56 94.33,54.95 93.25,54.33 C92.17,53.71 91.08,53.07 90.00,52.41 C88.92,51.76 87.83,51.08 86.75,50.39 C85.67,49.70 84.58,49.00 83.50,48.28 C82.42,47.57 81.33,46.84 80.25,46.11 C79.17,45.37 78.08,44.63 77.00,43.88 C75.92,43.13 74.83,42.38 73.75,41.62 C72.67,40.87 71.58,40.11 70.50,39.35 C69.42,38.60 68.33,37.84 67.25,37.09 C66.17,36.34 64.00,35.20 64.00,34.85Z" fill="#ee5a3a" filter="url(#b2)"/><path d="M77.93,26.58 C80.02,28.10 86.85,31.12 91.43,33.94 C96.01,36.76 102.87,42.23 105.43,43.50 C107.99,44.76 108.91,43.41 106.77,41.50 C104.63,39.60 97.22,34.84 92.57,32.06 C87.92,29.28 81.31,25.73 78.87,24.82 C76.43,23.91 75.83,25.06 77.93,26.58Z" fill="#d8301e" filter="url(#b0_6)"/><path d="M95.36,60.97 C97.54,62.48 104.89,65.51 109.53,67.88 C114.18,70.26 120.80,74.21 123.21,75.20 C125.62,76.19 126.11,75.31 123.99,73.80 C121.86,72.29 115.06,68.61 110.47,66.12 C105.88,63.62 98.96,59.69 96.44,58.83 C93.92,57.97 93.18,59.46 95.36,60.97Z" fill="#c8201a" filter="url(#b0_6)"/><path d="M33.13,32.70 C33.04,34.25 35.28,37.95 36.38,40.61 C37.47,43.27 38.58,46.64 39.69,48.66 C40.80,50.67 42.16,52.28 43.04,52.72 C43.92,53.16 45.08,52.18 44.96,51.28 C44.84,50.38 43.20,49.33 42.31,47.34 C41.42,45.36 40.53,42.07 39.62,39.39 C38.72,36.72 37.96,32.41 36.87,31.30 C35.79,30.18 33.21,31.15 33.13,32.70Z" fill="#f26a4a" filter="url(#b1_2)"/><path d="M98.32,23.11 C100.25,24.80 106.95,28.08 111.26,31.07 C115.57,34.06 121.79,39.71 124.21,41.03 C126.63,42.35 127.70,40.99 125.79,38.97 C123.88,36.95 117.09,31.94 112.74,28.93 C108.39,25.92 102.08,21.86 99.68,20.89 C97.28,19.92 96.39,21.41 98.32,23.11Z" fill="#f5806a" filter="url(#b1_8)"/><path d="M157.91,48.70 C157.78,50.41 160.17,54.61 161.29,57.57 C162.42,60.53 163.67,65.11 164.67,66.44 C165.68,67.77 167.32,67.23 167.33,65.56 C167.33,63.89 165.58,59.47 164.71,56.43 C163.83,53.39 163.22,48.59 162.09,47.30 C160.95,46.02 158.05,46.98 157.91,48.70Z" fill="#f26a4a" filter="url(#b1_3)"/><path d="M178.00,78.00 C178.67,79.00 181.00,82.00 182.00,84.00 C183.00,86.00 183.67,89.00 184.00,90.00" fill="none" stroke="#e8401c" stroke-width="1.2" filter="url(#b0_3)"/><path d="M22.00,8.00 C22.17,9.33 22.17,13.67 23.00,16.00 C23.83,18.33 26.33,21.00 27.00,22.00" fill="none" stroke="#e8401c" stroke-width="1.2" filter="url(#b0_3)"/><path d="M5.00,21.32 C5.68,21.40 7.71,21.65 9.06,21.83 C10.42,22.01 11.77,22.19 13.12,22.39 C14.48,22.59 15.83,22.79 17.19,23.00 C18.54,23.21 19.90,23.44 21.25,23.67 C22.60,23.90 23.96,24.14 25.31,24.39 C26.67,24.65 28.02,24.91 29.38,25.18 C30.73,25.46 32.08,25.74 33.44,26.04 C34.79,26.33 36.15,26.64 37.50,26.96 C38.85,27.28 40.21,27.62 41.56,27.96 C42.92,28.30 44.27,28.66 45.62,29.03 C46.98,29.40 48.33,29.79 49.69,30.18 C51.04,30.58 52.40,30.99 53.75,31.41 C55.10,31.83 56.46,32.27 57.81,32.72 C59.17,33.16 60.52,33.62 61.88,34.10 C63.23,34.57 64.58,35.06 65.94,35.56 C67.29,36.06 68.65,36.57 70.00,37.09 C71.35,37.61 72.71,38.14 74.06,38.69 C75.42,39.23 76.77,39.78 78.12,40.35 C79.48,40.91 80.83,41.48 82.19,42.06 C83.54,42.64 84.90,43.23 86.25,43.82 C87.60,44.42 88.96,45.02 90.31,45.62 C91.67,46.23 93.02,46.84 94.38,47.45 C95.73,48.06 97.08,48.68 98.44,49.29 C99.79,49.90 101.15,50.52 102.50,51.14 C103.85,51.75 105.21,52.36 106.56,52.97 C107.92,53.58 109.27,54.19 110.62,54.79 C111.98,55.40 113.33,56.00 114.69,56.59 C116.04,57.18 117.40,57.76 118.75,58.34 C120.10,58.91 121.46,59.48 122.81,60.04 C124.17,60.60 125.52,61.15 126.88,61.69 C128.23,62.23 129.58,62.75 130.94,63.27 C132.29,63.79 133.65,64.29 135.00,64.79 C136.35,65.28 137.71,65.76 139.06,66.23 C140.42,66.70 141.77,67.15 143.12,67.59 C144.48,68.04 145.83,68.46 147.19,68.88 C148.54,69.30 149.90,69.70 151.25,70.09 C152.60,70.48 153.96,70.86 155.31,71.22 C156.67,71.59 158.02,71.94 159.38,72.28 C160.73,72.62 162.08,72.94 163.44,73.26 C164.79,73.57 166.15,73.87 167.50,74.17 C168.85,74.46 170.21,74.74 171.56,75.00 C172.92,75.27 174.27,75.53 175.62,75.78 C176.98,76.03 178.33,76.26 179.69,76.49 C181.04,76.72 182.40,76.94 183.75,77.14 C185.10,77.35 186.46,77.55 187.81,77.74 C189.17,77.93 190.52,78.12 191.88,78.29 C193.23,78.47 194.58,78.63 195.94,78.79 C197.29,78.95 199.32,79.18 200.00,79.25" fill="none" stroke="#fd8d3c" stroke-width="5.8" opacity="1.0"/><path d="M57.02,35.78 C56.31,37.37 56.15,42.46 55.71,45.81 C55.28,49.16 54.76,51.86 54.41,55.89 C54.05,59.91 53.44,67.57 53.60,69.94 C53.77,72.30 54.90,72.37 55.40,70.06 C55.90,67.76 56.11,60.09 56.59,56.11 C57.08,52.14 57.72,49.51 58.29,46.19 C58.85,42.88 60.19,37.96 59.98,36.22 C59.77,34.49 57.73,34.18 57.02,35.78Z" fill="#cb181d"/><path d="M57.51,37.90 C57.09,39.20 56.82,42.90 56.41,45.91 C55.99,48.92 55.34,52.44 55.00,55.95 C54.67,59.46 54.37,65.13 54.40,66.97 C54.43,68.82 54.93,68.85 55.20,67.03 C55.47,65.20 55.60,59.54 56.00,56.05 C56.40,52.56 57.11,49.08 57.59,46.09 C58.08,43.10 58.91,39.47 58.89,38.10 C58.88,36.74 57.92,36.59 57.51,37.90Z" fill="#7d8fd0"/><path d="M145.69,64.15 C146.35,62.20 146.76,55.84 147.29,52.18 C147.82,48.52 148.35,45.85 148.89,42.19 C149.42,38.52 150.72,32.25 150.49,30.19 C150.26,28.12 148.24,27.88 147.51,29.81 C146.78,31.75 146.58,38.14 146.11,41.81 C145.65,45.48 145.18,48.15 144.71,51.82 C144.24,55.50 143.15,61.80 143.31,63.85 C143.47,65.91 145.03,66.09 145.69,64.15Z" fill="#cb181d"/><path d="M145.20,62.05 C145.55,60.40 146.01,55.39 146.50,52.07 C146.98,48.74 147.59,45.25 148.09,42.09 C148.59,38.93 149.49,34.63 149.49,33.10 C149.50,31.57 148.54,31.43 148.11,32.90 C147.68,34.37 147.34,38.74 146.91,41.91 C146.47,45.08 145.92,48.59 145.50,51.93 C145.09,55.27 144.45,60.27 144.40,61.95 C144.35,63.64 144.85,63.70 145.20,62.05Z" fill="#7d8fd0"/><path d="M-4.00,20.33 C-3.33,20.40 -1.33,20.60 0.00,20.75 C1.33,20.89 2.67,21.04 4.00,21.20 C5.33,21.36 6.67,21.52 8.00,21.69 C9.33,21.86 10.67,22.04 12.00,22.23 C13.33,22.42 14.67,22.61 16.00,22.82 C17.33,23.02 18.67,23.23 20.00,23.46 C21.33,23.68 22.67,23.91 24.00,24.15 C25.33,24.40 26.67,24.65 28.00,24.91 C29.33,25.17 30.67,25.44 32.00,25.73 C33.33,26.01 34.67,26.31 36.00,26.61 C37.33,26.92 38.67,27.24 40.00,27.57 C41.33,27.90 42.67,28.24 44.00,28.59 C45.33,28.95 46.67,29.32 48.00,29.69 C49.33,30.07 50.67,30.47 52.00,30.87 C53.33,31.28 54.67,31.69 56.00,32.12 C57.33,32.55 58.67,33.00 60.00,33.45 C61.33,33.91 62.67,34.37 64.00,34.85 C65.33,35.33 66.67,35.82 68.00,36.33 C69.33,36.83 70.67,37.34 72.00,37.87 C73.33,38.39 74.67,38.93 76.00,39.47 C77.33,40.02 79.33,40.86 80.00,41.13" fill="none" stroke="#3f007d" stroke-width="4.2"/><path d="M128.00,62.13 C128.67,62.39 130.67,63.17 132.00,63.67 C133.33,64.18 134.67,64.67 136.00,65.15 C137.33,65.63 138.67,66.09 140.00,66.55 C141.33,67.00 142.67,67.45 144.00,67.88 C145.33,68.31 146.67,68.72 148.00,69.13 C149.33,69.53 150.67,69.93 152.00,70.31 C153.33,70.68 154.67,71.05 156.00,71.41 C157.33,71.76 158.67,72.10 160.00,72.43 C161.33,72.76 162.67,73.08 164.00,73.39 C165.33,73.69 166.67,73.99 168.00,74.27 C169.33,74.56 170.67,74.83 172.00,75.09 C173.33,75.35 174.67,75.60 176.00,75.85 C177.33,76.09 178.67,76.32 180.00,76.54 C181.33,76.77 182.67,76.98 184.00,77.18 C185.33,77.39 186.67,77.58 188.00,77.77 C189.33,77.96 190.67,78.14 192.00,78.31 C193.33,78.48 194.67,78.64 196.00,78.80 C197.33,78.96 198.67,79.11 200.00,79.25 C201.33,79.40 202.67,79.53 204.00,79.67 C205.33,79.80 207.33,79.98 208.00,80.04" fill="none" stroke="#3f007d" stroke-width="4.2"/><path d="M68.00,36.03 C68.00,35.68 69.83,35.99 70.75,35.98 C71.67,35.98 72.58,35.97 73.50,35.99 C74.42,36.00 75.33,36.02 76.25,36.06 C77.17,36.10 78.08,36.15 79.00,36.21 C79.92,36.28 80.83,36.36 81.75,36.46 C82.67,36.56 83.58,36.68 84.50,36.82 C85.42,36.96 86.33,37.12 87.25,37.30 C88.17,37.48 89.08,37.68 90.00,37.91 C90.92,38.14 91.83,38.38 92.75,38.66 C93.67,38.93 94.58,39.22 95.50,39.54 C96.42,39.86 97.33,40.21 98.25,40.58 C99.17,40.95 100.08,41.34 101.00,41.75 C101.92,42.17 102.83,42.61 103.75,43.07 C104.67,43.54 105.58,44.02 106.50,44.53 C107.42,45.04 108.33,45.57 109.25,46.12 C110.17,46.67 111.08,47.24 112.00,47.83 C112.92,48.42 113.83,49.03 114.75,49.65 C115.67,50.27 116.58,50.91 117.50,51.56 C118.42,52.22 119.33,52.88 120.25,53.56 C121.17,54.23 122.08,54.92 123.00,55.62 C123.92,56.31 124.83,57.02 125.75,57.72 C126.67,58.43 127.58,59.14 128.50,59.86 C129.42,60.57 130.33,61.28 131.25,61.99 C132.17,62.70 134.00,63.78 134.00,64.12 C134.00,64.46 132.17,64.09 131.25,64.06 C130.33,64.03 129.42,63.99 128.50,63.94 C127.58,63.90 126.67,63.84 125.75,63.77 C124.83,63.70 123.92,63.62 123.00,63.52 C122.08,63.42 121.17,63.31 120.25,63.18 C119.33,63.05 118.42,62.90 117.50,62.74 C116.58,62.57 115.67,62.39 114.75,62.18 C113.83,61.98 112.92,61.76 112.00,61.51 C111.08,61.27 110.17,61.00 109.25,60.72 C108.33,60.43 107.42,60.12 106.50,59.79 C105.58,59.46 104.67,59.11 103.75,58.74 C102.83,58.37 101.92,57.97 101.00,57.55 C100.08,57.14 99.17,56.70 98.25,56.24 C97.33,55.78 96.42,55.30 95.50,54.81 C94.58,54.31 93.67,53.79 92.75,53.25 C91.83,52.72 90.92,52.16 90.00,51.59 C89.08,51.02 88.17,50.44 87.25,49.84 C86.33,49.24 85.42,48.62 84.50,47.99 C83.58,47.37 82.67,46.73 81.75,46.08 C80.83,45.43 79.92,44.78 79.00,44.11 C78.08,43.45 77.17,42.78 76.25,42.11 C75.33,41.43 74.42,40.75 73.50,40.08 C72.58,39.40 71.67,38.72 70.75,38.04 C69.83,37.37 68.00,36.37 68.00,36.03Z" fill="#3f007d"/><path d="M72.00,37.57 C72.00,37.34 73.61,37.72 74.42,37.80 C75.22,37.88 76.03,37.97 76.83,38.06 C77.64,38.16 78.44,38.26 79.25,38.37 C80.06,38.49 80.86,38.61 81.67,38.74 C82.47,38.87 83.28,39.01 84.08,39.17 C84.89,39.33 85.69,39.49 86.50,39.67 C87.31,39.86 88.11,40.05 88.92,40.26 C89.72,40.47 90.53,40.69 91.33,40.93 C92.14,41.17 92.94,41.42 93.75,41.69 C94.56,41.96 95.36,42.25 96.17,42.55 C96.97,42.85 97.78,43.17 98.58,43.50 C99.39,43.84 100.19,44.19 101.00,44.55 C101.81,44.92 102.61,45.30 103.42,45.70 C104.22,46.10 105.03,46.51 105.83,46.94 C106.64,47.36 107.44,47.80 108.25,48.26 C109.06,48.71 109.86,49.18 110.67,49.66 C111.47,50.14 112.28,50.64 113.08,51.14 C113.89,51.64 114.69,52.16 115.50,52.68 C116.31,53.20 117.11,53.73 117.92,54.27 C118.72,54.81 119.53,55.36 120.33,55.91 C121.14,56.46 121.94,57.01 122.75,57.57 C123.56,58.13 124.36,58.69 125.17,59.25 C125.97,59.81 126.78,60.38 127.58,60.94 C128.39,61.50 130.00,62.38 130.00,62.61 C130.00,62.84 128.39,62.42 127.58,62.32 C126.78,62.22 125.97,62.11 125.17,62.00 C124.36,61.88 123.56,61.76 122.75,61.63 C121.94,61.50 121.14,61.36 120.33,61.21 C119.53,61.06 118.72,60.90 117.92,60.73 C117.11,60.55 116.31,60.37 115.50,60.17 C114.69,59.98 113.89,59.77 113.08,59.55 C112.28,59.33 111.47,59.09 110.67,58.84 C109.86,58.59 109.06,58.33 108.25,58.05 C107.44,57.77 106.64,57.48 105.83,57.17 C105.03,56.87 104.22,56.55 103.42,56.21 C102.61,55.87 101.81,55.52 101.00,55.15 C100.19,54.79 99.39,54.41 98.58,54.01 C97.78,53.62 96.97,53.21 96.17,52.79 C95.36,52.37 94.56,51.93 93.75,51.49 C92.94,51.04 92.14,50.58 91.33,50.11 C90.53,49.64 89.72,49.16 88.92,48.67 C88.11,48.18 87.31,47.68 86.50,47.17 C85.69,46.66 84.89,46.15 84.08,45.62 C83.28,45.10 82.47,44.57 81.67,44.04 C80.86,43.51 80.06,42.97 79.25,42.43 C78.44,41.89 77.64,41.35 76.83,40.81 C76.03,40.27 75.22,39.72 74.42,39.18 C73.61,38.64 72.00,37.80 72.00,37.57Z" fill="#1f8a45"/><path d="M75.00,38.76 C75.00,38.58 76.44,38.97 77.17,39.08 C77.89,39.18 78.61,39.30 79.33,39.41 C80.06,39.53 80.78,39.65 81.50,39.79 C82.22,39.92 82.94,40.05 83.67,40.20 C84.39,40.35 85.11,40.50 85.83,40.66 C86.56,40.83 87.28,41.00 88.00,41.18 C88.72,41.37 89.44,41.56 90.17,41.77 C90.89,41.97 91.61,42.19 92.33,42.42 C93.06,42.65 93.78,42.89 94.50,43.14 C95.22,43.39 95.94,43.66 96.67,43.94 C97.39,44.21 98.11,44.50 98.83,44.81 C99.56,45.11 100.28,45.43 101.00,45.75 C101.72,46.08 102.44,46.42 103.17,46.78 C103.89,47.13 104.61,47.49 105.33,47.87 C106.06,48.25 106.78,48.63 107.50,49.03 C108.22,49.43 108.94,49.84 109.67,50.26 C110.39,50.67 111.11,51.10 111.83,51.54 C112.56,51.98 113.28,52.42 114.00,52.87 C114.72,53.33 115.44,53.79 116.17,54.25 C116.89,54.71 117.61,55.19 118.33,55.66 C119.06,56.13 119.78,56.61 120.50,57.09 C121.22,57.57 121.94,58.06 122.67,58.54 C123.39,59.03 124.11,59.51 124.83,59.99 C125.56,60.48 127.00,61.25 127.00,61.44 C127.00,61.62 125.56,61.21 124.83,61.09 C124.11,60.97 123.39,60.85 122.67,60.72 C121.94,60.59 121.22,60.45 120.50,60.31 C119.78,60.17 119.06,60.02 118.33,59.86 C117.61,59.70 116.89,59.54 116.17,59.36 C115.44,59.19 114.72,59.01 114.00,58.81 C113.28,58.62 112.56,58.42 111.83,58.20 C111.11,57.99 110.39,57.77 109.67,57.53 C108.94,57.30 108.22,57.05 107.50,56.79 C106.78,56.53 106.06,56.26 105.33,55.98 C104.61,55.70 103.89,55.41 103.17,55.10 C102.44,54.80 101.72,54.48 101.00,54.15 C100.28,53.83 99.56,53.49 98.83,53.14 C98.11,52.78 97.39,52.42 96.67,52.05 C95.94,51.68 95.22,51.29 94.50,50.90 C93.78,50.51 93.06,50.10 92.33,49.69 C91.61,49.28 90.89,48.86 90.17,48.43 C89.44,48.00 88.72,47.57 88.00,47.12 C87.28,46.68 86.56,46.23 85.83,45.78 C85.11,45.32 84.39,44.86 83.67,44.40 C82.94,43.94 82.22,43.47 81.50,43.00 C80.78,42.53 80.06,42.06 79.33,41.59 C78.61,41.12 77.89,40.64 77.17,40.17 C76.44,39.70 75.00,38.95 75.00,38.76Z" fill="#4a98cc"/><path d="M82.00,41.68 C82.00,41.57 83.08,41.90 83.62,42.02 C84.17,42.13 84.71,42.24 85.25,42.36 C85.79,42.48 86.33,42.60 86.88,42.73 C87.42,42.85 87.96,42.98 88.50,43.12 C89.04,43.25 89.58,43.39 90.12,43.54 C90.67,43.68 91.21,43.83 91.75,43.99 C92.29,44.14 92.83,44.31 93.38,44.48 C93.92,44.65 94.46,44.82 95.00,45.01 C95.54,45.19 96.08,45.38 96.62,45.58 C97.17,45.78 97.71,45.99 98.25,46.20 C98.79,46.41 99.33,46.64 99.88,46.87 C100.42,47.10 100.96,47.34 101.50,47.58 C102.04,47.83 102.58,48.08 103.12,48.34 C103.67,48.60 104.21,48.87 104.75,49.15 C105.29,49.43 105.83,49.71 106.38,50.00 C106.92,50.29 107.46,50.59 108.00,50.90 C108.54,51.20 109.08,51.51 109.62,51.83 C110.17,52.14 110.71,52.47 111.25,52.79 C111.79,53.12 112.33,53.45 112.88,53.79 C113.42,54.12 113.96,54.46 114.50,54.80 C115.04,55.15 115.58,55.49 116.12,55.84 C116.67,56.19 117.21,56.54 117.75,56.89 C118.29,57.24 118.83,57.59 119.38,57.94 C119.92,58.29 121.00,58.87 121.00,58.99 C121.00,59.10 119.92,58.74 119.38,58.62 C118.83,58.49 118.29,58.36 117.75,58.23 C117.21,58.10 116.67,57.97 116.12,57.83 C115.58,57.69 115.04,57.55 114.50,57.40 C113.96,57.26 113.42,57.11 112.88,56.95 C112.33,56.80 111.79,56.64 111.25,56.47 C110.71,56.30 110.17,56.13 109.62,55.95 C109.08,55.77 108.54,55.59 108.00,55.40 C107.46,55.21 106.92,55.01 106.38,54.81 C105.83,54.60 105.29,54.39 104.75,54.17 C104.21,53.96 103.67,53.73 103.12,53.50 C102.58,53.27 102.04,53.03 101.50,52.78 C100.96,52.54 100.42,52.28 99.88,52.02 C99.33,51.76 98.79,51.50 98.25,51.22 C97.71,50.95 97.17,50.67 96.62,50.38 C96.08,50.10 95.54,49.81 95.00,49.51 C94.46,49.21 93.92,48.91 93.38,48.60 C92.83,48.29 92.29,47.98 91.75,47.66 C91.21,47.35 90.67,47.03 90.12,46.70 C89.58,46.38 89.04,46.05 88.50,45.72 C87.96,45.39 87.42,45.05 86.88,44.72 C86.33,44.38 85.79,44.05 85.25,43.71 C84.71,43.37 84.17,43.03 83.62,42.69 C83.08,42.36 82.00,41.80 82.00,41.68Z" fill="#d2e6f3" filter="url(#b1)"/>
</g></g>
<rect x="22.30" y="558.30" width="203.00" height="101.20" fill="none" stroke="#1a1a1a" stroke-width="1.1"/>
<rect x="191.50" y="558.30" width="33.80" height="13.10" fill="#fff" stroke="#111" stroke-width="1"/>
<text x="222.30" y="567.90" font-size="9.5" text-anchor="end" >12 Myr</text>
<line x1="17.30" y1="659.50" x2="22.30" y2="659.50" stroke="#111" stroke-width="1"/>
<text x="15.80" y="662.20" font-size="9.5" text-anchor="end" >0</text>
<line x1="17.30" y1="625.77" x2="22.30" y2="625.77" stroke="#111" stroke-width="1"/>
<text x="15.80" y="628.47" font-size="9.5" text-anchor="end" >100</text>
<line x1="17.30" y1="592.03" x2="22.30" y2="592.03" stroke="#111" stroke-width="1"/>
<text x="15.80" y="594.73" font-size="9.5" text-anchor="end" >200</text>
<line x1="17.30" y1="558.30" x2="22.30" y2="558.30" stroke="#111" stroke-width="1"/>
<text x="15.80" y="561.00" font-size="9.5" text-anchor="end" >300</text>
<line x1="22.30" y1="659.50" x2="22.30" y2="664.50" stroke="#111" stroke-width="1"/>
<text x="22.30" y="675.80" font-size="9.5" text-anchor="middle" >600</text>
<line x1="89.97" y1="659.50" x2="89.97" y2="664.50" stroke="#111" stroke-width="1"/>
<text x="89.97" y="675.80" font-size="9.5" text-anchor="middle" >400</text>
<line x1="157.63" y1="659.50" x2="157.63" y2="664.50" stroke="#111" stroke-width="1"/>
<text x="157.63" y="675.80" font-size="9.5" text-anchor="middle" >200</text>
<line x1="225.30" y1="659.50" x2="225.30" y2="664.50" stroke="#111" stroke-width="1"/>
<text x="225.30" y="675.80" font-size="9.5" text-anchor="middle" >0</text>
<g clip-path="url(#lc5)"><g transform="translate(22.30 690.35)">
<rect x="-2" y="-2" width="208" height="106" fill="#fef6ee"/><g filter="url(#b6)" opacity="0.7"><ellipse cx="150" cy="22" rx="55" ry="16" fill="#fdebd9"/><ellipse cx="55" cy="82" rx="50" ry="14" fill="#fdeddd"/><ellipse cx="95" cy="12" rx="35" ry="10" fill="#fff5ea"/><ellipse cx="130" cy="88" rx="30" ry="10" fill="#fff4ea"/></g><g filter="url(#b0_6)"><path d="M-3.00,3.00 C-1.17,-2.50 5.17,3.17 8.00,4.00 C10.83,4.83 12.83,5.67 14.00,8.00 C15.17,10.33 15.17,14.67 15.00,18.00 C14.83,21.33 13.83,25.00 13.00,28.00 C12.17,31.00 12.67,34.50 10.00,36.00 C7.33,37.50 -0.83,42.50 -3.00,37.00 C-5.17,31.50 -4.83,8.50 -3.00,3.00Z" fill="#e6e6f2"/><path d="M0.00,24.00 C1.33,22.50 6.00,23.67 8.00,25.00 C10.00,26.33 12.67,30.17 12.00,32.00 C11.33,33.83 6.00,35.67 4.00,36.00 C2.00,36.33 0.67,36.00 0.00,34.00 C-0.67,32.00 -1.33,25.50 0.00,24.00Z" fill="#f6f6fa"/><path d="M186.00,62.00 C187.33,59.00 192.83,61.33 196.00,62.00 C199.17,62.67 203.50,60.50 205.00,66.00 C206.50,71.50 206.83,90.67 205.00,95.00 C203.17,99.33 196.83,94.50 194.00,92.00 C191.17,89.50 189.33,85.00 188.00,80.00 C186.67,75.00 184.67,65.00 186.00,62.00Z" fill="#e6e6f2"/><path d="M190.00,66.00 C190.67,64.67 197.67,66.33 200.00,68.00 C202.33,69.67 204.67,74.67 204.00,76.00 C203.33,77.33 198.33,77.67 196.00,76.00 C193.67,74.33 189.33,67.33 190.00,66.00Z" fill="#f6f6fa"/></g><path d="M2.13,18.13 C3.64,17.33 6.49,13.25 8.92,11.06 C11.35,8.86 15.66,6.30 16.72,4.96 C17.78,3.62 16.89,2.38 15.28,3.04 C13.67,3.70 9.65,6.80 7.08,8.94 C4.51,11.08 0.69,14.34 -0.13,15.87 C-0.96,17.40 0.62,18.93 2.13,18.13Z" fill="#a8acd8" filter="url(#b0_6)"/><path d="M6.11,13.45 C6.13,14.25 7.58,16.05 8.06,17.35 C8.55,18.65 8.55,20.67 9.03,21.24 C9.51,21.81 10.82,21.52 10.97,20.76 C11.12,19.99 10.45,18.02 9.94,16.65 C9.42,15.28 8.53,13.09 7.89,12.55 C7.26,12.02 6.08,12.65 6.11,13.45Z" fill="#74c476" filter="url(#b0_4)"/><path d="M13.00,7.00 C13.67,6.58 15.67,5.33 17.00,4.50 C18.33,3.67 20.33,2.42 21.00,2.00" fill="none" stroke="#f59040" stroke-width="1.2" filter="url(#b0_3)"/><path d="M191.15,80.85 C191.36,81.62 193.11,82.64 194.09,83.78 C195.07,84.93 196.23,87.30 197.04,87.72 C197.85,88.14 199.15,87.20 198.96,86.28 C198.77,85.36 196.93,83.41 195.91,82.22 C194.89,81.03 193.64,79.38 192.85,79.15 C192.06,78.92 190.94,80.08 191.15,80.85Z" fill="#74c476" filter="url(#b0_5)"/><path d="M184.93,78.54 C185.26,80.05 187.67,84.21 189.04,86.55 C190.42,88.88 192.20,91.74 193.17,92.55 C194.13,93.37 195.20,92.63 194.83,91.45 C194.46,90.26 192.25,87.78 190.96,85.45 C189.66,83.12 188.08,78.62 187.07,77.46 C186.07,76.31 184.60,77.02 184.93,78.54Z" fill="#a8acd8" filter="url(#b0_6)"/><path d="M85.46,16.54 C85.43,18.86 90.05,20.95 92.34,23.41 C94.64,25.87 96.83,31.08 99.24,31.29 C101.64,31.51 106.69,27.16 106.76,24.71 C106.83,22.26 102.03,19.13 99.66,16.59 C97.28,14.05 94.90,9.47 92.54,9.46 C90.17,9.46 85.50,14.21 85.46,16.54Z" fill="#fcc0a8" filter="url(#b3)"/><path d="M95.40,81.80 C95.56,84.31 100.81,85.27 103.53,87.27 C106.25,89.26 109.25,93.93 111.71,93.76 C114.17,93.59 118.50,88.74 118.29,86.24 C118.09,83.73 113.08,81.07 110.47,78.73 C107.85,76.39 105.11,71.69 102.60,72.20 C100.09,72.71 95.24,79.29 95.40,81.80Z" fill="#fcc0a8" filter="url(#b3)"/><path d="M112.50,26.66 C112.33,28.20 115.13,30.43 116.45,32.57 C117.76,34.71 118.87,38.83 120.40,39.49 C121.92,40.14 125.41,38.19 125.60,36.51 C125.80,34.83 122.91,31.62 121.55,29.43 C120.20,27.23 119.00,23.80 117.50,23.34 C115.99,22.88 112.68,25.12 112.50,26.66Z" fill="#f9a088" filter="url(#b2)"/><path d="M97.93,22.47 C98.34,24.05 102.17,26.44 103.91,28.44 C105.66,30.44 106.98,33.98 108.39,34.49 C109.81,35.00 112.53,33.07 112.41,31.51 C112.29,29.96 109.51,27.26 107.69,25.16 C105.86,23.06 103.09,19.38 101.47,18.93 C99.84,18.48 97.52,20.88 97.93,22.47Z" fill="#f5805a" filter="url(#b1_5)"/><path d="M80.89,63.58 C80.82,65.39 84.03,68.89 85.64,71.42 C87.26,73.94 89.06,77.97 90.59,78.74 C92.12,79.51 94.85,77.75 94.81,76.06 C94.77,74.37 91.81,71.16 90.36,68.58 C88.91,66.01 87.68,61.45 86.11,60.62 C84.53,59.78 80.97,61.78 80.89,63.58Z" fill="#f8906c" filter="url(#b2)"/><path d="M60.00,24.45 C60.00,24.06 62.22,24.43 63.33,24.44 C64.44,24.45 65.56,24.46 66.67,24.50 C67.78,24.53 68.89,24.58 70.00,24.64 C71.11,24.71 72.22,24.79 73.33,24.90 C74.44,25.00 75.56,25.12 76.67,25.27 C77.78,25.41 78.89,25.58 80.00,25.77 C81.11,25.96 82.22,26.17 83.33,26.42 C84.44,26.66 85.56,26.92 86.67,27.21 C87.78,27.51 88.89,27.82 90.00,28.17 C91.11,28.51 92.22,28.89 93.33,29.29 C94.44,29.68 95.56,30.11 96.67,30.56 C97.78,31.02 98.89,31.50 100.00,32.00 C101.11,32.50 102.22,33.04 103.33,33.59 C104.44,34.15 105.56,34.73 106.67,35.33 C107.78,35.93 108.89,36.56 110.00,37.20 C111.11,37.85 112.22,38.51 113.33,39.20 C114.44,39.88 115.56,40.59 116.67,41.30 C117.78,42.02 118.89,42.76 120.00,43.50 C121.11,44.25 122.22,45.01 123.33,45.78 C124.44,46.54 125.56,47.32 126.67,48.10 C127.78,48.89 128.89,49.68 130.00,50.47 C131.11,51.26 132.22,52.05 133.33,52.84 C134.44,53.63 135.56,54.43 136.67,55.21 C137.78,56.00 140.00,57.16 140.00,57.55 C140.00,57.94 137.78,57.57 136.67,57.56 C135.56,57.55 134.44,57.54 133.33,57.50 C132.22,57.47 131.11,57.42 130.00,57.36 C128.89,57.29 127.78,57.21 126.67,57.10 C125.56,57.00 124.44,56.88 123.33,56.73 C122.22,56.59 121.11,56.42 120.00,56.23 C118.89,56.04 117.78,55.83 116.67,55.58 C115.56,55.34 114.44,55.08 113.33,54.79 C112.22,54.49 111.11,54.18 110.00,53.83 C108.89,53.49 107.78,53.11 106.67,52.71 C105.56,52.32 104.44,51.89 103.33,51.44 C102.22,50.98 101.11,50.50 100.00,50.00 C98.89,49.50 97.78,48.96 96.67,48.41 C95.56,47.85 94.44,47.27 93.33,46.67 C92.22,46.07 91.11,45.44 90.00,44.80 C88.89,44.15 87.78,43.49 86.67,42.80 C85.56,42.12 84.44,41.41 83.33,40.70 C82.22,39.98 81.11,39.24 80.00,38.50 C78.89,37.75 77.78,36.99 76.67,36.22 C75.56,35.46 74.44,34.68 73.33,33.90 C72.22,33.11 71.11,32.32 70.00,31.53 C68.89,30.74 67.78,29.95 66.67,29.16 C65.56,28.37 64.44,27.57 63.33,26.79 C62.22,26.00 60.00,24.84 60.00,24.45Z" fill="#fcc8b4" filter="url(#b4)" opacity="0.7"/><path d="M60.00,43.45 C60.00,43.06 62.22,43.43 63.33,43.44 C64.44,43.45 65.56,43.46 66.67,43.50 C67.78,43.53 68.89,43.58 70.00,43.64 C71.11,43.71 72.22,43.79 73.33,43.90 C74.44,44.00 75.56,44.12 76.67,44.27 C77.78,44.41 78.89,44.58 80.00,44.77 C81.11,44.96 82.22,45.17 83.33,45.42 C84.44,45.66 85.56,45.92 86.67,46.21 C87.78,46.51 88.89,46.82 90.00,47.17 C91.11,47.51 92.22,47.89 93.33,48.29 C94.44,48.68 95.56,49.11 96.67,49.56 C97.78,50.02 98.89,50.50 100.00,51.00 C101.11,51.50 102.22,52.04 103.33,52.59 C104.44,53.15 105.56,53.73 106.67,54.33 C107.78,54.93 108.89,55.56 110.00,56.20 C111.11,56.85 112.22,57.51 113.33,58.20 C114.44,58.88 115.56,59.59 116.67,60.30 C117.78,61.02 118.89,61.76 120.00,62.50 C121.11,63.25 122.22,64.01 123.33,64.78 C124.44,65.54 125.56,66.32 126.67,67.10 C127.78,67.89 128.89,68.68 130.00,69.47 C131.11,70.26 132.22,71.05 133.33,71.84 C134.44,72.63 135.56,73.43 136.67,74.21 C137.78,75.00 140.00,76.16 140.00,76.55 C140.00,76.94 137.78,76.57 136.67,76.56 C135.56,76.55 134.44,76.54 133.33,76.50 C132.22,76.47 131.11,76.42 130.00,76.36 C128.89,76.29 127.78,76.21 126.67,76.10 C125.56,76.00 124.44,75.88 123.33,75.73 C122.22,75.59 121.11,75.42 120.00,75.23 C118.89,75.04 117.78,74.83 116.67,74.58 C115.56,74.34 114.44,74.08 113.33,73.79 C112.22,73.49 111.11,73.18 110.00,72.83 C108.89,72.49 107.78,72.11 106.67,71.71 C105.56,71.32 104.44,70.89 103.33,70.44 C102.22,69.98 101.11,69.50 100.00,69.00 C98.89,68.50 97.78,67.96 96.67,67.41 C95.56,66.85 94.44,66.27 93.33,65.67 C92.22,65.07 91.11,64.44 90.00,63.80 C88.89,63.15 87.78,62.49 86.67,61.80 C85.56,61.12 84.44,60.41 83.33,59.70 C82.22,58.98 81.11,58.24 80.00,57.50 C78.89,56.75 77.78,55.99 76.67,55.22 C75.56,54.46 74.44,53.68 73.33,52.90 C72.22,52.11 71.11,51.32 70.00,50.53 C68.89,49.74 67.78,48.95 66.67,48.16 C65.56,47.37 64.44,46.57 63.33,45.79 C62.22,45.00 60.00,43.84 60.00,43.45Z" fill="#fcc8b4" filter="url(#b4)" opacity="0.7"/><path d="M44.67,35.19 C44.48,36.90 47.00,40.08 47.81,44.07 C48.61,48.05 49.04,53.56 49.49,59.12 C49.94,64.69 49.80,74.43 50.50,77.47 C51.20,80.50 53.26,80.43 53.70,77.33 C54.13,74.23 53.43,64.54 53.11,58.88 C52.79,53.21 52.49,47.51 51.79,43.33 C51.10,39.16 50.12,35.16 48.93,33.81 C47.74,32.45 44.86,33.48 44.67,35.19Z" fill="#ee5a3a" filter="url(#b0_8)"/><path d="M46.12,34.72 C46.39,36.31 48.38,39.77 49.14,43.82 C49.91,47.87 50.29,53.44 50.69,59.04 C51.09,64.64 51.21,74.37 51.54,77.42 C51.87,80.48 52.60,80.45 52.66,77.38 C52.72,74.30 52.28,64.59 51.91,58.96 C51.54,53.33 51.19,47.69 50.46,43.58 C49.72,39.47 48.21,35.75 47.48,34.28 C46.76,32.80 45.84,33.13 46.12,34.72Z" fill="#8a0a10" filter="url(#b0_2)"/><path d="M50.08,36.58 C49.95,38.52 52.62,42.84 53.32,47.08 C54.02,51.32 54.37,58.05 54.30,62.04 C54.23,66.04 52.66,69.46 52.92,71.04 C53.19,72.63 55.08,73.04 55.88,71.56 C56.67,70.08 57.50,66.33 57.70,62.16 C57.90,57.98 57.68,50.98 57.08,46.52 C56.48,42.06 55.28,37.08 54.12,35.42 C52.95,33.76 50.21,34.64 50.08,36.58Z" fill="#ee5a3a" filter="url(#b0_8)"/><path d="M51.45,36.19 C51.76,38.03 53.92,42.58 54.58,46.89 C55.24,51.21 55.54,58.03 55.43,62.08 C55.31,66.13 53.97,69.66 53.88,71.21 C53.80,72.76 54.47,72.91 54.92,71.39 C55.37,69.87 56.42,66.23 56.57,62.12 C56.72,58.01 56.46,51.09 55.82,46.71 C55.18,42.32 53.48,37.57 52.75,35.81 C52.02,34.06 51.15,34.34 51.45,36.19Z" fill="#8a0a10" filter="url(#b0_2)"/><path d="M66.11,40.77 C65.69,43.87 67.73,53.94 67.80,59.00 C67.87,64.06 66.94,66.04 66.51,71.13 C66.08,76.23 64.92,86.46 65.20,89.58 C65.49,92.69 67.41,92.84 68.20,89.82 C68.98,86.80 69.32,76.60 69.89,71.47 C70.46,66.33 71.53,64.17 71.60,59.00 C71.67,53.83 71.21,43.47 70.29,40.43 C69.38,37.39 66.52,37.68 66.11,40.77Z" fill="#ee5a3a" filter="url(#b0_8)"/><path d="M67.53,40.65 C67.56,43.73 69.06,53.90 69.08,59.00 C69.09,64.10 68.11,66.13 67.63,71.24 C67.14,76.35 66.24,86.57 66.18,89.66 C66.11,92.74 66.79,92.79 67.22,89.74 C67.66,86.69 68.26,76.48 68.77,71.36 C69.29,66.23 70.31,64.14 70.33,59.00 C70.34,53.86 69.34,43.60 68.87,40.55 C68.41,37.49 67.49,37.58 67.53,40.65Z" fill="#8a0a10" filter="url(#b0_2)"/><path d="M78.79,49.52 C79.55,51.70 84.09,57.42 86.77,60.21 C89.45,63.01 93.21,65.66 94.87,66.28 C96.53,66.89 97.64,65.34 96.73,63.92 C95.83,62.51 91.85,60.59 89.43,57.79 C87.01,54.98 83.99,48.46 82.21,47.08 C80.44,45.71 78.03,47.33 78.79,49.52Z" fill="#ee5a3a" filter="url(#b0_8)"/><path d="M79.95,48.69 C81.05,50.61 85.07,56.60 87.66,59.40 C90.24,62.21 94.06,64.63 95.47,65.51 C96.89,66.39 97.28,65.84 96.13,64.69 C94.97,63.54 91.06,61.39 88.54,58.60 C86.03,55.80 82.48,49.56 81.05,47.91 C79.62,46.26 78.85,46.78 79.95,48.69Z" fill="#8a0a10" filter="url(#b0_2)"/><path d="M131.16,11.41 C130.33,14.19 130.85,22.42 130.68,28.31 C130.50,34.21 130.02,41.42 130.09,46.80 C130.16,52.18 130.40,58.33 131.10,60.59 C131.80,62.86 133.86,62.71 134.30,60.41 C134.73,58.11 133.64,52.12 133.71,46.80 C133.78,41.48 134.40,34.35 134.72,28.49 C135.05,22.62 136.23,14.44 135.64,11.59 C135.04,8.75 131.99,8.62 131.16,11.41Z" fill="#ee5a3a" filter="url(#b0_8)"/><path d="M132.68,11.47 C132.33,14.28 132.27,22.48 132.03,28.37 C131.80,34.26 131.27,41.44 131.29,46.80 C131.30,52.16 131.81,58.25 132.14,60.53 C132.47,62.81 133.20,62.76 133.26,60.47 C133.32,58.18 132.50,52.14 132.51,46.80 C132.53,41.46 133.10,34.31 133.37,28.43 C133.63,22.55 134.23,14.36 134.12,11.53 C134.01,8.70 133.03,8.66 132.68,11.47Z" fill="#8a0a10" filter="url(#b0_2)"/><path d="M148.07,17.41 C147.09,20.42 146.87,30.23 146.68,35.90 C146.48,41.58 146.43,46.53 146.89,51.44 C147.35,56.35 148.47,63.13 149.42,65.36 C150.37,67.60 152.40,67.20 152.58,64.84 C152.76,62.47 150.82,55.95 150.51,51.16 C150.20,46.37 150.39,41.66 150.72,36.10 C151.06,30.54 152.97,20.91 152.53,17.79 C152.09,14.68 149.04,14.39 148.07,17.41Z" fill="#ee5a3a" filter="url(#b0_8)"/><path d="M149.58,17.54 C149.09,20.59 148.28,30.33 148.03,35.97 C147.79,41.60 147.69,46.48 148.09,51.35 C148.49,56.22 149.87,62.92 150.45,65.19 C151.02,67.47 151.74,67.33 151.55,65.01 C151.36,62.68 149.68,56.08 149.31,51.25 C148.95,46.42 149.08,41.63 149.37,36.03 C149.65,30.43 150.98,20.74 151.02,17.66 C151.05,14.58 150.08,14.49 149.58,17.54Z" fill="#8a0a10" filter="url(#b0_2)"/><path d="M150.78,23.73 C150.09,27.03 150.15,37.30 150.24,43.70 C150.33,50.10 150.69,59.10 151.30,62.16 C151.91,65.21 153.56,65.12 153.90,62.04 C154.24,58.97 153.27,50.06 153.36,43.70 C153.45,37.34 154.85,27.20 154.42,23.87 C153.99,20.54 151.48,20.42 150.78,23.73Z" fill="#ee5a3a" filter="url(#b0_8)"/><path d="M152.02,23.78 C151.70,27.09 151.26,37.31 151.28,43.70 C151.30,50.09 151.85,59.06 152.15,62.12 C152.44,65.18 153.03,65.15 153.05,62.08 C153.08,59.01 152.30,50.08 152.32,43.70 C152.34,37.32 153.24,27.14 153.18,23.82 C153.13,20.50 152.33,20.46 152.02,23.78Z" fill="#8a0a10" filter="url(#b0_2)"/><path d="M99.07,36.36 C100.35,37.44 105.53,37.72 107.99,39.12 C110.44,40.52 112.06,42.83 113.81,44.75 C115.56,46.67 117.33,49.94 118.48,50.64 C119.63,51.34 121.10,50.29 120.72,48.96 C120.34,47.63 118.01,44.80 116.19,42.65 C114.38,40.51 112.46,37.75 109.81,36.08 C107.17,34.41 102.12,32.60 100.33,32.64 C98.54,32.69 97.80,35.28 99.07,36.36Z" fill="#ee5a3a" filter="url(#b0_8)"/><path d="M99.50,35.10 C100.95,35.80 106.08,36.61 108.60,38.10 C111.12,39.59 112.83,42.05 114.60,44.05 C116.36,46.05 118.31,49.19 119.21,50.10 C120.11,51.00 120.63,50.63 119.99,49.50 C119.36,48.38 117.20,45.41 115.40,43.35 C113.61,41.28 111.78,38.67 109.20,37.10 C106.62,35.53 101.52,34.24 99.90,33.90 C98.28,33.57 98.05,34.40 99.50,35.10Z" fill="#8a0a10" filter="url(#b0_2)"/><path d="M63.93,22.44 C64.29,23.46 66.90,23.68 68.43,25.07 C69.96,26.47 71.92,30.15 73.10,30.80 C74.28,31.46 75.85,30.38 75.50,29.00 C75.14,27.62 72.51,24.20 70.97,22.53 C69.44,20.85 67.45,18.97 66.27,18.96 C65.10,18.94 63.57,21.42 63.93,22.44Z" fill="#ee5a3a" filter="url(#b0_8)"/><path d="M64.72,21.26 C65.36,21.94 67.75,22.73 69.28,24.22 C70.80,25.72 72.97,29.32 73.88,30.22 C74.79,31.11 75.35,30.72 74.72,29.58 C74.09,28.44 71.66,24.95 70.12,23.38 C68.58,21.80 66.38,20.49 65.48,20.14 C64.58,19.79 64.09,20.58 64.72,21.26Z" fill="#8a0a10" filter="url(#b0_2)"/><path d="M72.11,44.52 C72.01,46.51 74.22,51.45 75.28,55.43 C76.34,59.41 77.24,63.91 78.46,68.40 C79.69,72.89 81.51,80.18 82.65,82.38 C83.80,84.59 85.53,84.08 85.35,81.62 C85.16,79.15 82.64,72.11 81.54,67.60 C80.43,63.09 79.66,58.59 78.72,54.57 C77.78,50.55 76.99,45.16 75.89,43.48 C74.79,41.81 72.21,42.52 72.11,44.52Z" fill="#ee5a3a" filter="url(#b0_8)"/><path d="M73.39,44.17 C73.70,46.05 75.42,51.15 76.43,55.14 C77.45,59.14 78.30,63.64 79.48,68.13 C80.66,72.63 82.70,79.85 83.53,82.13 C84.36,84.42 84.97,84.24 84.47,81.87 C83.97,79.49 81.67,72.37 80.52,67.87 C79.37,63.36 78.55,58.86 77.57,54.86 C76.58,50.85 75.30,45.62 74.61,43.83 C73.91,42.05 73.09,42.28 73.39,44.17Z" fill="#8a0a10" filter="url(#b0_2)"/><path d="M113.63,48.81 C114.99,47.39 117.06,42.36 118.52,38.62 C119.99,34.88 121.30,30.77 122.42,26.38 C123.55,21.99 125.22,14.71 125.27,12.27 C125.32,9.83 123.68,9.50 122.73,11.73 C121.78,13.95 120.79,21.34 119.58,25.62 C118.37,29.89 117.01,33.78 115.48,37.38 C113.94,40.97 110.68,45.28 110.37,47.19 C110.06,49.09 112.27,50.24 113.63,48.81Z" fill="#ee5a3a" filter="url(#b0_8)"/><path d="M112.52,48.26 C113.53,46.67 116.01,41.89 117.50,38.21 C118.99,34.52 120.32,30.48 121.48,26.13 C122.64,21.78 124.10,14.47 124.44,12.10 C124.79,9.72 124.21,9.61 123.56,11.90 C122.90,14.20 121.69,21.56 120.52,25.87 C119.34,30.19 118.01,34.15 116.50,37.79 C114.99,41.44 112.14,45.99 111.48,47.74 C110.81,49.48 111.52,49.85 112.52,48.26Z" fill="#8a0a10" filter="url(#b0_2)"/><path d="M119.23,52.92 C120.63,51.85 123.52,47.73 125.15,44.64 C126.79,41.56 128.72,36.25 129.02,34.41 C129.33,32.57 128.01,32.10 126.98,33.59 C125.95,35.08 124.55,40.44 122.85,43.36 C121.14,46.27 117.37,49.48 116.77,51.08 C116.17,52.67 117.83,54.00 119.23,52.92Z" fill="#ee5a3a" filter="url(#b0_8)"/><path d="M118.40,52.30 C119.53,51.05 122.72,47.24 124.38,44.21 C126.04,41.19 127.81,35.87 128.36,34.14 C128.90,32.42 128.43,32.25 127.64,33.86 C126.85,35.46 125.29,40.81 123.62,43.79 C121.94,46.76 118.47,50.28 117.60,51.70 C116.73,53.12 117.27,53.55 118.40,52.30Z" fill="#8a0a10" filter="url(#b0_2)"/><path d="M58.47,38.13 C58.16,40.15 59.61,45.70 59.68,50.00 C59.75,54.30 58.67,61.58 58.90,63.92 C59.14,66.27 60.53,66.40 61.10,64.08 C61.67,61.76 62.25,54.37 62.32,50.00 C62.39,45.63 62.18,39.85 61.53,37.87 C60.89,35.89 58.77,36.11 58.47,38.13Z" fill="#ee5a3a" filter="url(#b0_8)"/><path d="M59.51,38.04 C59.52,40.05 60.54,45.68 60.56,50.00 C60.58,54.32 59.65,61.63 59.62,63.97 C59.59,66.31 60.08,66.36 60.38,64.03 C60.69,61.70 61.42,54.34 61.44,50.00 C61.46,45.66 60.82,39.95 60.49,37.96 C60.17,35.97 59.50,36.03 59.51,38.04Z" fill="#8a0a10" filter="url(#b0_2)"/><path d="M124.67,72.43 C125.08,73.55 127.58,75.15 129.41,76.89 C131.24,78.63 134.33,82.14 135.65,82.85 C136.97,83.56 138.06,82.47 137.35,81.15 C136.64,79.83 133.13,76.74 131.39,74.91 C129.65,73.08 128.05,70.58 126.93,70.17 C125.81,69.76 124.26,71.31 124.67,72.43Z" fill="#f07a30" filter="url(#b0_5)"/><path d="M59.15,24.85 C59.54,25.78 62.00,27.43 63.17,28.72 C64.35,30.02 65.43,32.15 66.20,32.60 C66.97,33.05 68.03,32.29 67.80,31.40 C67.57,30.51 65.99,28.65 64.83,27.28 C63.67,25.90 61.79,23.56 60.85,23.15 C59.90,22.75 58.76,23.92 59.15,24.85Z" fill="#f59040" filter="url(#b0_4)"/><path d="M59.72,37.93 C59.48,41.57 62.65,52.53 63.00,59.08 C63.35,65.63 61.41,74.18 61.81,77.25 C62.20,80.33 64.50,80.60 65.39,77.55 C66.29,74.49 67.35,65.63 67.20,58.92 C67.05,52.21 65.72,40.76 64.48,37.27 C63.23,33.77 59.97,34.30 59.72,37.93Z" fill="#a9b4de" filter="url(#b0_7)"/><path d="M62.50,52.10 C62.36,53.79 63.52,58.71 63.60,62.01 C63.68,65.32 62.84,70.27 63.00,71.94 C63.17,73.62 64.20,73.72 64.60,72.06 C65.00,70.40 65.42,65.35 65.40,61.99 C65.38,58.63 64.98,53.55 64.50,51.90 C64.01,50.25 62.65,50.41 62.50,52.10Z" fill="#ffffff" filter="url(#b0_5)"/><path d="M134.70,20.79 C134.27,23.35 135.77,31.40 135.70,35.95 C135.64,40.51 134.08,46.03 134.31,48.12 C134.54,50.21 136.32,50.49 137.09,48.48 C137.85,46.47 138.70,40.69 138.90,36.05 C139.10,31.40 139.00,23.15 138.30,20.61 C137.60,18.06 135.14,18.24 134.70,20.79Z" fill="#a9b4de" filter="url(#b0_6)"/><path d="M136.10,26.01 C135.92,27.68 136.15,34.35 136.40,36.01 C136.65,37.67 137.42,37.66 137.60,35.99 C137.78,34.32 137.75,27.65 137.50,25.99 C137.25,24.32 136.28,24.34 136.10,26.01Z" fill="#ffffff" filter="url(#b0_4)"/><path d="M20.70,26.10 C24.53,26.87 36.30,29.55 43.70,30.70 C51.10,31.85 58.72,32.53 65.10,33.00 C71.48,33.47 79.18,33.42 82.00,33.50" fill="none" stroke="#fd8d3c" stroke-width="6.2"/><path d="M150.00,69.50 C151.67,69.92 155.62,70.93 160.00,72.00 C164.38,73.07 171.97,74.98 176.30,75.90 C180.63,76.82 184.38,77.23 186.00,77.50" fill="none" stroke="#fd8d3c" stroke-width="6.0"/><path d="M65.10,33.00 C67.92,33.08 76.77,32.65 82.00,33.50 C87.23,34.35 91.65,35.88 96.50,38.10 C101.35,40.32 106.23,43.65 111.10,46.80 C115.97,49.95 121.80,54.32 125.70,57.00 C129.60,59.68 131.28,61.18 134.50,62.90 C137.72,64.62 141.92,66.08 145.00,67.30 C148.08,68.52 151.67,69.72 153.00,70.20 L153.00,70.20 C151.67,69.93 148.33,69.03 145.00,68.60 C141.67,68.17 137.43,68.07 133.00,67.60 C128.57,67.13 123.27,66.83 118.40,65.80 C113.53,64.77 108.67,63.58 103.80,61.40 C98.93,59.22 94.07,56.10 89.20,52.70 C84.33,49.30 78.25,43.87 74.60,41.00 C70.95,38.13 69.07,36.75 67.30,35.50 C65.53,34.25 64.55,33.83 64.00,33.50Z" fill="#e8f2f8"/><path d="M84.00,41.00 C84.83,40.33 91.67,42.83 95.00,44.00 C98.33,45.17 101.50,46.33 104.00,48.00 C106.50,49.67 110.67,53.00 110.00,54.00 C109.33,55.00 103.33,55.00 100.00,54.00 C96.67,53.00 92.67,50.17 90.00,48.00 C87.33,45.83 83.17,41.67 84.00,41.00Z" fill="#2f7fbf" filter="url(#b1_2)"/><path d="M74.00,37.00 C74.67,36.33 80.00,37.17 82.00,38.00 C84.00,38.83 86.67,41.33 86.00,42.00 C85.33,42.67 80.00,42.83 78.00,42.00 C76.00,41.17 73.33,37.67 74.00,37.00Z" fill="#ffffff" filter="url(#b0_8)"/><path d="M82.00,35.80 C84.42,36.57 91.65,38.18 96.50,40.40 C101.35,42.62 106.23,45.95 111.10,49.10 C115.97,52.25 121.80,56.62 125.70,59.30 C129.60,61.98 131.28,63.48 134.50,65.20 C137.72,66.92 143.25,68.87 145.00,69.60" fill="none" stroke="#238b45" stroke-width="1.0" filter="url(#b0_3)"/><path d="M67.30,33.50 C68.52,34.42 70.95,36.13 74.60,39.00 C78.25,41.87 84.33,47.30 89.20,50.70 C94.07,54.10 98.93,57.22 103.80,59.40 C108.67,61.58 113.53,62.77 118.40,63.80 C123.27,64.83 128.57,65.13 133.00,65.60 C137.43,66.07 143.00,66.43 145.00,66.60" fill="none" stroke="#238b45" stroke-width="1.0" filter="url(#b0_3)"/><path d="M65.10,33.00 C67.92,33.08 76.77,32.65 82.00,33.50 C87.23,34.35 91.65,35.88 96.50,38.10 C101.35,40.32 106.23,43.65 111.10,46.80 C115.97,49.95 121.80,54.32 125.70,57.00 C129.60,59.68 131.28,61.18 134.50,62.90 C137.72,64.62 141.92,66.08 145.00,67.30 C148.08,68.52 151.67,69.72 153.00,70.20" fill="none" stroke="#8a80c0" stroke-width="6" filter="url(#b1_5)" opacity="0.6"/><path d="M64.00,33.50 C64.55,33.83 65.53,34.25 67.30,35.50 C69.07,36.75 70.95,38.13 74.60,41.00 C78.25,43.87 84.33,49.30 89.20,52.70 C94.07,56.10 98.93,59.22 103.80,61.40 C108.67,63.58 113.53,64.77 118.40,65.80 C123.27,66.83 128.57,67.13 133.00,67.60 C137.43,68.07 141.67,68.17 145.00,68.60 C148.33,69.03 151.67,69.93 153.00,70.20" fill="none" stroke="#8a80c0" stroke-width="6" filter="url(#b1_5)" opacity="0.6"/><path d="M-4.00,20.33 C0.12,21.29 12.75,24.37 20.70,26.10 C28.65,27.83 36.30,29.55 43.70,30.70 C51.10,31.85 58.72,32.53 65.10,33.00 C71.48,33.47 76.77,32.65 82.00,33.50 C87.23,34.35 91.65,35.88 96.50,38.10 C101.35,40.32 106.23,43.65 111.10,46.80 C115.97,49.95 121.80,54.32 125.70,57.00 C129.60,59.68 131.28,61.18 134.50,62.90 C137.72,64.62 141.92,66.08 145.00,67.30 C148.08,68.52 151.67,69.72 153.00,70.20" fill="none" stroke="#3f007d" stroke-width="4.0"/><path d="M64.00,33.50 C64.55,33.83 65.53,34.25 67.30,35.50 C69.07,36.75 70.95,38.13 74.60,41.00 C78.25,43.87 84.33,49.30 89.20,52.70 C94.07,56.10 98.93,59.22 103.80,61.40 C108.67,63.58 113.53,64.77 118.40,65.80 C123.27,66.83 128.57,67.13 133.00,67.60 C137.43,68.07 141.67,68.17 145.00,68.60 C148.33,69.03 151.67,69.93 153.00,70.20" fill="none" stroke="#3f007d" stroke-width="3.4"/><path d="M145.00,68.20 C146.33,68.53 147.78,68.92 153.00,70.20 C158.22,71.48 167.13,74.02 176.30,75.90 C185.47,77.78 202.72,80.57 208.00,81.50" fill="none" stroke="#3f007d" stroke-width="4.6"/>
</g></g>
<rect x="22.30" y="690.35" width="203.00" height="101.20" fill="none" stroke="#1a1a1a" stroke-width="1.1"/>
<rect x="191.50" y="690.35" width="33.80" height="13.10" fill="#fff" stroke="#111" stroke-width="1"/>
<text x="222.30" y="699.95" font-size="9.5" text-anchor="end" >16 Myr</text>
<line x1="17.30" y1="791.55" x2="22.30" y2="791.55" stroke="#111" stroke-width="1"/>
<text x="15.80" y="794.25" font-size="9.5" text-anchor="end" >0</text>
<line x1="17.30" y1="757.82" x2="22.30" y2="757.82" stroke="#111" stroke-width="1"/>
<text x="15.80" y="760.52" font-size="9.5" text-anchor="end" >100</text>
<line x1="17.30" y1="724.08" x2="22.30" y2="724.08" stroke="#111" stroke-width="1"/>
<text x="15.80" y="726.78" font-size="9.5" text-anchor="end" >200</text>
<line x1="17.30" y1="690.35" x2="22.30" y2="690.35" stroke="#111" stroke-width="1"/>
<text x="15.80" y="693.05" font-size="9.5" text-anchor="end" >300</text>
<line x1="22.30" y1="791.55" x2="22.30" y2="796.55" stroke="#111" stroke-width="1"/>
<text x="22.30" y="807.85" font-size="9.5" text-anchor="middle" >600</text>
<line x1="89.97" y1="791.55" x2="89.97" y2="796.55" stroke="#111" stroke-width="1"/>
<text x="89.97" y="807.85" font-size="9.5" text-anchor="middle" >400</text>
<line x1="157.63" y1="791.55" x2="157.63" y2="796.55" stroke="#111" stroke-width="1"/>
<text x="157.63" y="807.85" font-size="9.5" text-anchor="middle" >200</text>
<line x1="225.30" y1="791.55" x2="225.30" y2="796.55" stroke="#111" stroke-width="1"/>
<text x="225.30" y="807.85" font-size="9.5" text-anchor="middle" >0</text>
<text x="101.00" y="25.40" font-size="9.5" text-anchor="middle" >Cross-sections</text>
<line x1="101.5" y1="27.5" x2="124" y2="53.8" stroke="#000" stroke-width="1.1"/>
<g clip-path="url(#ms1)"><rect x="315.90" y="28.00" width="72.90" height="6.10" fill="#7a3d02"/><rect x="315.90" y="34.10" width="72.90" height="2.39" fill="#d99a12"/><rect x="315.90" y="36.49" width="72.90" height="7.78" fill="#008000"/><rect x="315.90" y="28.81" width="72.90" height="0.73" fill="#5c2d00" opacity="0.9"/><rect x="315.90" y="30.28" width="72.90" height="0.73" fill="#5c2d00" opacity="0.7"/><rect x="315.90" y="31.74" width="72.90" height="0.73" fill="#5c2d00" opacity="0.8"/><rect x="315.90" y="33.21" width="72.90" height="0.73" fill="#5c2d00" opacity="0.6"/><rect x="315.90" y="33.61" width="72.90" height="0.49" fill="#b07010" opacity="0.5"/><rect x="315.90" y="35.16" width="72.90" height="0.41" fill="#000" opacity="0.3"/><rect x="315.90" y="39.06" width="72.90" height="0.41" fill="#000" opacity="0.3"/><rect x="315.90" y="41.67" width="72.90" height="0.41" fill="#000" opacity="0.3"/><rect x="367.40" y="26.00" width="4.80" height="20.27" fill="#9591bd" filter="url(#b0_5)"/><rect x="368.36" y="28.00" width="2.88" height="16.27" fill="#7f79ae"/><rect x="368.96" y="28.00" width="1.68" height="16.27" fill="#3f0a7d" filter="url(#b0_8)"/><rect x="367.40" y="29.95" width="4.80" height="0.49" fill="#5a5090" opacity="0.3"/><rect x="367.40" y="32.56" width="4.80" height="0.49" fill="#5a5090" opacity="0.3"/><rect x="367.40" y="35.16" width="4.80" height="0.49" fill="#5a5090" opacity="0.3"/><rect x="367.40" y="37.76" width="4.80" height="0.49" fill="#5a5090" opacity="0.3"/><rect x="367.40" y="40.37" width="4.80" height="0.49" fill="#5a5090" opacity="0.3"/><rect x="367.40" y="42.64" width="4.80" height="0.49" fill="#5a5090" opacity="0.3"/></g><g clip-path="url(#ms2)"><rect x="311.10" y="39.90" width="82.50" height="6.91" fill="#7a3d02"/><rect x="311.10" y="46.81" width="82.50" height="2.71" fill="#d99a12"/><rect x="311.10" y="49.51" width="82.50" height="8.80" fill="#008000"/><rect x="311.10" y="40.82" width="82.50" height="0.83" fill="#5c2d00" opacity="0.9"/><rect x="311.10" y="42.48" width="82.50" height="0.83" fill="#5c2d00" opacity="0.7"/><rect x="311.10" y="44.14" width="82.50" height="0.83" fill="#5c2d00" opacity="0.8"/><rect x="311.10" y="45.79" width="82.50" height="0.83" fill="#5c2d00" opacity="0.6"/><rect x="311.10" y="46.25" width="82.50" height="0.55" fill="#b07010" opacity="0.5"/><rect x="311.10" y="48.00" width="82.50" height="0.46" fill="#000" opacity="0.3"/><rect x="311.10" y="52.42" width="82.50" height="0.46" fill="#000" opacity="0.3"/><rect x="311.10" y="55.37" width="82.50" height="0.46" fill="#000" opacity="0.3"/><rect x="361.90" y="37.90" width="6.60" height="22.41" fill="#9591bd" filter="url(#b0_5)"/><rect x="363.22" y="39.90" width="3.96" height="18.41" fill="#7f79ae"/><rect x="361.90" y="42.11" width="6.60" height="0.55" fill="#5a5090" opacity="0.3"/><rect x="361.90" y="45.06" width="6.60" height="0.55" fill="#5a5090" opacity="0.3"/><rect x="361.90" y="48.00" width="6.60" height="0.55" fill="#5a5090" opacity="0.3"/><rect x="361.90" y="50.95" width="6.60" height="0.55" fill="#5a5090" opacity="0.3"/><rect x="361.90" y="53.89" width="6.60" height="0.55" fill="#5a5090" opacity="0.3"/><rect x="361.90" y="56.47" width="6.60" height="0.55" fill="#5a5090" opacity="0.3"/></g><g clip-path="url(#ms3)"><rect x="304.10" y="56.30" width="96.50" height="8.08" fill="#7a3d02"/><rect x="304.10" y="64.38" width="96.50" height="3.17" fill="#d99a12"/><rect x="304.10" y="67.54" width="96.50" height="10.30" fill="#008000"/><rect x="304.10" y="57.38" width="96.50" height="0.97" fill="#5c2d00" opacity="0.9"/><rect x="304.10" y="59.32" width="96.50" height="0.97" fill="#5c2d00" opacity="0.7"/><rect x="304.10" y="61.25" width="96.50" height="0.97" fill="#5c2d00" opacity="0.8"/><rect x="304.10" y="63.19" width="96.50" height="0.97" fill="#5c2d00" opacity="0.6"/><rect x="304.10" y="63.73" width="96.50" height="0.65" fill="#b07010" opacity="0.5"/><rect x="304.10" y="65.78" width="96.50" height="0.54" fill="#000" opacity="0.3"/><rect x="304.10" y="70.95" width="96.50" height="0.54" fill="#000" opacity="0.3"/><rect x="304.10" y="74.39" width="96.50" height="0.54" fill="#000" opacity="0.3"/><rect x="348.60" y="54.30" width="6.80" height="25.54" fill="#9591bd" filter="url(#b0_5)"/><rect x="349.96" y="56.30" width="4.08" height="21.54" fill="#7f79ae"/><rect x="348.60" y="58.88" width="6.80" height="0.65" fill="#5a5090" opacity="0.3"/><rect x="348.60" y="62.33" width="6.80" height="0.65" fill="#5a5090" opacity="0.3"/><rect x="348.60" y="65.78" width="6.80" height="0.65" fill="#5a5090" opacity="0.3"/><rect x="348.60" y="69.22" width="6.80" height="0.65" fill="#5a5090" opacity="0.3"/><rect x="348.60" y="72.67" width="6.80" height="0.65" fill="#5a5090" opacity="0.3"/><rect x="348.60" y="75.68" width="6.80" height="0.65" fill="#5a5090" opacity="0.3"/></g><g clip-path="url(#ms4)"><rect x="294.00" y="75.20" width="115.80" height="9.69" fill="#7a3d02"/><rect x="294.00" y="84.89" width="115.80" height="3.80" fill="#d99a12"/><rect x="294.00" y="88.69" width="115.80" height="12.35" fill="#008000"/><rect x="294.00" y="76.49" width="115.80" height="1.16" fill="#5c2d00" opacity="0.9"/><rect x="294.00" y="78.82" width="115.80" height="1.16" fill="#5c2d00" opacity="0.7"/><rect x="294.00" y="81.14" width="115.80" height="1.16" fill="#5c2d00" opacity="0.8"/><rect x="294.00" y="83.47" width="115.80" height="1.16" fill="#5c2d00" opacity="0.6"/><rect x="294.00" y="84.12" width="115.80" height="0.78" fill="#b07010" opacity="0.5"/><rect x="294.00" y="86.57" width="115.80" height="0.65" fill="#000" opacity="0.3"/><rect x="294.00" y="92.78" width="115.80" height="0.65" fill="#000" opacity="0.3"/><rect x="294.00" y="96.91" width="115.80" height="0.65" fill="#000" opacity="0.3"/><rect x="328.70" y="73.20" width="10.60" height="29.85" fill="#9591bd" filter="url(#b0_5)"/><rect x="330.82" y="75.20" width="6.36" height="25.85" fill="#7f79ae"/><rect x="328.70" y="78.30" width="10.60" height="0.78" fill="#5a5090" opacity="0.3"/><rect x="328.70" y="82.44" width="10.60" height="0.78" fill="#5a5090" opacity="0.3"/><rect x="328.70" y="86.57" width="10.60" height="0.78" fill="#5a5090" opacity="0.3"/><rect x="328.70" y="90.71" width="10.60" height="0.78" fill="#5a5090" opacity="0.3"/><rect x="328.70" y="94.84" width="10.60" height="0.78" fill="#5a5090" opacity="0.3"/><rect x="328.70" y="98.46" width="10.60" height="0.78" fill="#5a5090" opacity="0.3"/></g><g clip-path="url(#ms5)"><rect x="279.70" y="98.90" width="144.80" height="12.12" fill="#7a3d02"/><rect x="279.70" y="111.02" width="144.80" height="4.75" fill="#d99a12"/><rect x="279.70" y="115.77" width="144.80" height="15.45" fill="#008000"/><rect x="279.70" y="100.52" width="144.80" height="1.45" fill="#5c2d00" opacity="0.9"/><rect x="279.70" y="103.42" width="144.80" height="1.45" fill="#5c2d00" opacity="0.7"/><rect x="279.70" y="106.33" width="144.80" height="1.45" fill="#5c2d00" opacity="0.8"/><rect x="279.70" y="109.24" width="144.80" height="1.45" fill="#5c2d00" opacity="0.6"/><rect x="279.70" y="110.05" width="144.80" height="0.97" fill="#b07010" opacity="0.5"/><rect x="279.70" y="113.12" width="144.80" height="0.81" fill="#000" opacity="0.3"/><rect x="279.70" y="120.88" width="144.80" height="0.81" fill="#000" opacity="0.3"/><rect x="279.70" y="126.05" width="144.80" height="0.81" fill="#000" opacity="0.3"/><rect x="310.20" y="96.90" width="14.60" height="36.32" fill="#9591bd" filter="url(#b0_5)"/><rect x="313.12" y="98.90" width="8.76" height="32.32" fill="#7f79ae"/><rect x="313.75" y="98.90" width="5.11" height="32.32" fill="#3f0a7d" filter="url(#b0_8)"/><rect x="310.20" y="102.78" width="14.60" height="0.97" fill="#5a5090" opacity="0.3"/><rect x="310.20" y="107.95" width="14.60" height="0.97" fill="#5a5090" opacity="0.3"/><rect x="310.20" y="113.12" width="14.60" height="0.97" fill="#5a5090" opacity="0.3"/><rect x="310.20" y="118.29" width="14.60" height="0.97" fill="#5a5090" opacity="0.3"/><rect x="310.20" y="123.46" width="14.60" height="0.97" fill="#5a5090" opacity="0.3"/><rect x="310.20" y="127.99" width="14.60" height="0.97" fill="#5a5090" opacity="0.3"/></g><path d="M279.70,131.22 L279.70,98.90 L294.00,75.20 L304.10,56.30 L311.10,39.90 L315.90,28.00 L388.80,28.00 L393.60,39.90 L400.60,56.30 L409.80,75.20 L424.50,98.90 L424.50,131.22Z" fill="none" stroke="#000" stroke-width="1.4" stroke-linejoin="round"/><line x1="274.20" y1="108.40" x2="279.70" y2="108.40" stroke="#000" stroke-width="1"/><line x1="274.20" y1="118.10" x2="279.70" y2="118.10" stroke="#000" stroke-width="1"/><text x="273.20" y="121.00" font-size="9.5" text-anchor="end">-40</text><line x1="274.20" y1="127.30" x2="279.70" y2="127.30" stroke="#000" stroke-width="1"/><line x1="275.20" y1="96.30" x2="279.70" y2="98.90" stroke="#000" stroke-width="1"/><text x="273.70" y="96.50" font-size="9.5" text-anchor="end">100</text><line x1="289.50" y1="72.60" x2="294.00" y2="75.20" stroke="#000" stroke-width="1"/><text x="288.00" y="72.80" font-size="9.5" text-anchor="end">200</text><line x1="299.60" y1="53.70" x2="304.10" y2="56.30" stroke="#000" stroke-width="1"/><text x="298.10" y="53.90" font-size="9.5" text-anchor="end">300</text><line x1="306.60" y1="37.30" x2="311.10" y2="39.90" stroke="#000" stroke-width="1"/><text x="305.10" y="37.50" font-size="9.5" text-anchor="end">400</text><line x1="311.40" y1="25.40" x2="315.90" y2="28.00" stroke="#000" stroke-width="1"/><text x="309.90" y="25.60" font-size="9.5" text-anchor="end">500</text><line x1="279.70" y1="131.22" x2="279.70" y2="136.72" stroke="#000" stroke-width="1"/><text x="279.70" y="147.72" font-size="9.5" text-anchor="middle">300</text><line x1="327.97" y1="131.22" x2="327.97" y2="136.72" stroke="#000" stroke-width="1"/><text x="327.97" y="147.72" font-size="9.5" text-anchor="middle">200</text><line x1="376.23" y1="131.22" x2="376.23" y2="136.72" stroke="#000" stroke-width="1"/><text x="376.23" y="147.72" font-size="9.5" text-anchor="middle">100</text><line x1="424.50" y1="131.22" x2="424.50" y2="136.72" stroke="#000" stroke-width="1"/><text x="424.50" y="147.72" font-size="9.5" text-anchor="middle">0</text>
<g clip-path="url(#ms6)"><rect x="315.90" y="160.20" width="72.90" height="16.27" fill="#008000"/><path d="M314.90,159.20 C321.63,159.20 346.98,159.20 355.30,159.20 C363.62,159.20 362.27,159.20 364.80,159.20 C367.33,159.20 368.60,159.20 370.50,159.20 C372.40,159.20 373.67,159.20 376.20,159.20 C378.73,159.20 383.43,159.20 385.70,159.20 C387.97,159.20 389.12,159.20 389.80,159.20 L389.80,166.30 C389.12,166.30 387.97,166.26 385.70,166.30 C383.43,166.35 378.73,166.51 376.20,166.58 C373.67,166.64 372.40,166.69 370.50,166.69 C368.60,166.69 367.33,166.64 364.80,166.58 C362.27,166.51 363.62,166.35 355.30,166.30 C346.98,166.26 321.63,166.30 314.90,166.30Z" fill="#7a3d02"/><path d="M314.90,166.30 C321.63,166.30 346.98,166.26 355.30,166.30 C363.62,166.35 362.27,166.51 364.80,166.58 C367.33,166.64 368.60,166.69 370.50,166.69 C372.40,166.69 373.67,166.64 376.20,166.58 C378.73,166.51 383.43,166.35 385.70,166.30 C387.97,166.26 389.12,166.30 389.80,166.30 L389.80,168.69 C389.12,168.69 387.97,168.63 385.70,168.69 C383.43,168.75 378.73,168.96 376.20,169.05 C373.67,169.13 372.40,169.20 370.50,169.20 C368.60,169.20 367.33,169.13 364.80,169.05 C362.27,168.96 363.62,168.75 355.30,168.69 C346.98,168.63 321.63,168.69 314.90,168.69Z" fill="#d99a12"/><path d="M314.90,161.50 C320.75,161.50 341.85,161.47 349.98,161.50 C358.11,161.53 360.51,161.64 363.66,161.70 C366.81,161.75 367.49,161.81 368.90,161.83 C370.31,161.85 370.69,161.85 372.10,161.83 C373.51,161.81 374.19,161.75 377.34,161.70 C380.49,161.64 388.94,161.53 391.02,161.50 C393.10,161.47 390.00,161.50 389.80,161.50" fill="none" stroke="#140a00" stroke-width="0.5" opacity="0.7"/><path d="M314.90,162.97 C320.75,162.97 341.85,162.93 349.98,162.97 C358.11,163.00 360.51,163.11 363.66,163.16 C366.81,163.22 367.49,163.27 368.90,163.29 C370.31,163.31 370.69,163.31 372.10,163.29 C373.51,163.27 374.19,163.22 377.34,163.16 C380.49,163.11 388.94,163.00 391.02,162.97 C393.10,162.93 390.00,162.97 389.80,162.97" fill="none" stroke="#140a00" stroke-width="0.5" opacity="0.7"/><path d="M314.90,164.43 C320.75,164.43 341.85,164.40 349.98,164.43 C358.11,164.46 360.51,164.57 363.66,164.63 C366.81,164.68 367.49,164.73 368.90,164.76 C370.31,164.78 370.69,164.78 372.10,164.76 C373.51,164.73 374.19,164.68 377.34,164.63 C380.49,164.57 388.94,164.46 391.02,164.43 C393.10,164.40 390.00,164.43 389.80,164.43" fill="none" stroke="#140a00" stroke-width="0.5" opacity="0.7"/><path d="M314.90,165.57 C320.53,165.57 340.64,165.53 348.70,165.57 C356.75,165.61 359.87,165.74 363.23,165.81 C366.60,165.88 367.42,165.95 368.90,165.97 C370.38,166.00 370.62,166.00 372.10,165.97 C373.58,165.95 374.40,165.88 377.77,165.81 C381.13,165.74 390.30,165.61 392.30,165.57 C394.31,165.53 390.22,165.57 389.80,165.57" fill="none" stroke="#140a00" stroke-width="0.5" opacity="0.7"/><path d="M314.90,167.52 C319.68,167.52 335.80,167.45 343.57,167.52 C351.34,167.59 357.30,167.83 361.52,167.95 C365.74,168.07 367.14,168.19 368.90,168.24 C370.66,168.29 370.34,168.29 372.10,168.24 C373.86,168.19 375.26,168.07 379.48,167.95 C383.70,167.83 395.71,167.59 397.43,167.52 C399.15,167.45 391.07,167.52 389.80,167.52" fill="none" stroke="#140a00" stroke-width="0.5" opacity="0.7"/><path d="M314.90,170.45 C318.40,170.45 328.53,170.33 335.87,170.45 C343.22,170.57 353.45,170.96 358.96,171.16 C364.46,171.36 366.71,171.56 368.90,171.64 C371.09,171.71 369.91,171.71 372.10,171.64 C374.29,171.56 376.54,171.36 382.04,171.16 C387.55,170.96 403.83,170.57 405.13,170.45 C406.42,170.33 392.35,170.45 389.80,170.45" fill="none" stroke="#140a00" stroke-width="0.5" opacity="0.7"/><path d="M314.90,172.89 C317.33,172.89 322.47,172.73 329.46,172.89 C336.45,173.05 350.25,173.57 356.82,173.84 C363.39,174.10 366.35,174.36 368.90,174.47 C371.45,174.57 369.55,174.57 372.10,174.47 C374.65,174.36 377.61,174.10 384.18,173.84 C390.75,173.57 410.60,173.05 411.54,172.89 C412.48,172.73 393.42,172.89 389.80,172.89" fill="none" stroke="#140a00" stroke-width="0.5" opacity="0.7"/><path d="M314.90,175.01 C316.40,175.01 317.22,174.82 323.90,175.01 C330.58,175.20 347.47,175.84 354.97,176.15 C362.47,176.47 366.04,176.79 368.90,176.92 C371.76,177.05 369.24,177.05 372.10,176.92 C374.96,176.79 378.53,176.47 386.03,176.15 C393.53,175.84 416.47,175.20 417.10,175.01 C417.73,174.82 394.35,175.01 389.80,175.01" fill="none" stroke="#140a00" stroke-width="0.5" opacity="0.7"/><ellipse cx="370.50" cy="165.57" rx="4.10" ry="1.95" fill="#e04a2a" filter="url(#b0_5)"/><ellipse cx="373.30" cy="164.76" rx="1.20" ry="0.98" fill="#5a8fd0" opacity="0.7" filter="url(#b0_3)"/><path d="M368.10,159.20 L372.90,159.20 L373.06,165.08 L373.70,166.71 L372.74,169.15 L372.90,172.40 L373.86,177.47 L367.14,177.47 L368.10,172.40 L368.26,169.15 L367.30,166.71 L367.94,165.08Z" fill="#7467b0" filter="url(#b0_5)"/><path d="M368.90,159.20 L372.10,159.20 L372.26,165.08 L372.90,166.71 L371.94,169.15 L372.10,172.40 L373.06,177.47 L367.94,177.47 L368.90,172.40 L369.06,169.15 L368.10,166.71 L368.74,165.08Z" fill="#3f007d"/></g><g clip-path="url(#ms7)"><rect x="311.10" y="172.10" width="82.50" height="18.41" fill="#008000"/><path d="M310.10,171.10 C316.67,171.10 341.35,171.10 349.50,171.10 C357.65,171.10 356.47,171.10 359.00,171.10 C361.53,171.10 362.80,171.10 364.70,171.10 C366.60,171.10 367.87,171.10 370.40,171.10 C372.93,171.10 375.87,171.10 379.90,171.10 C383.93,171.10 392.15,171.10 394.60,171.10 L394.60,179.01 C392.15,179.01 383.93,178.95 379.90,179.01 C375.87,179.06 372.93,179.24 370.40,179.31 C367.87,179.39 366.60,179.45 364.70,179.45 C362.80,179.45 361.53,179.39 359.00,179.31 C356.47,179.24 357.65,179.06 349.50,179.01 C341.35,178.95 316.67,179.01 310.10,179.01Z" fill="#7a3d02"/><path d="M310.10,179.01 C316.67,179.01 341.35,178.95 349.50,179.01 C357.65,179.06 356.47,179.24 359.00,179.31 C361.53,179.39 362.80,179.45 364.70,179.45 C366.60,179.45 367.87,179.39 370.40,179.31 C372.93,179.24 375.87,179.06 379.90,179.01 C383.93,178.95 392.15,179.01 394.60,179.01 L394.60,181.71 C392.15,181.71 383.93,181.65 379.90,181.71 C375.87,181.78 372.93,182.02 370.40,182.11 C367.87,182.21 366.60,182.29 364.70,182.29 C362.80,182.29 361.53,182.21 359.00,182.11 C356.47,182.02 357.65,181.78 349.50,181.71 C341.35,181.65 316.67,181.71 310.10,181.71Z" fill="#d99a12"/><path d="M310.10,173.57 C315.78,173.57 336.22,173.54 344.18,173.57 C352.14,173.61 354.74,173.73 357.86,173.79 C360.98,173.86 361.46,173.92 362.90,173.94 C364.34,173.97 365.06,173.97 366.50,173.94 C367.94,173.92 368.42,173.86 371.54,173.79 C374.66,173.73 381.38,173.61 385.22,173.57 C389.06,173.54 393.04,173.57 394.60,173.57" fill="none" stroke="#140a00" stroke-width="0.5" opacity="0.7"/><path d="M310.10,175.23 C315.78,175.23 336.22,175.19 344.18,175.23 C352.14,175.27 354.74,175.39 357.86,175.45 C360.98,175.51 361.46,175.57 362.90,175.60 C364.34,175.62 365.06,175.62 366.50,175.60 C367.94,175.57 368.42,175.51 371.54,175.45 C374.66,175.39 381.38,175.27 385.22,175.23 C389.06,175.19 393.04,175.23 394.60,175.23" fill="none" stroke="#140a00" stroke-width="0.5" opacity="0.7"/><path d="M310.10,176.89 C315.78,176.89 336.22,176.85 344.18,176.89 C352.14,176.92 354.74,177.05 357.86,177.11 C360.98,177.17 361.46,177.23 362.90,177.26 C364.34,177.28 365.06,177.28 366.50,177.26 C367.94,177.23 368.42,177.17 371.54,177.11 C374.66,177.05 381.38,176.92 385.22,176.89 C389.06,176.85 393.04,176.89 394.60,176.89" fill="none" stroke="#140a00" stroke-width="0.5" opacity="0.7"/><path d="M310.10,178.18 C315.57,178.18 335.01,178.13 342.90,178.18 C350.79,178.22 354.10,178.37 357.43,178.45 C360.77,178.53 361.39,178.60 362.90,178.63 C364.41,178.66 364.99,178.66 366.50,178.63 C368.01,178.60 368.63,178.53 371.97,178.45 C375.30,178.37 382.73,178.22 386.50,178.18 C390.27,178.13 393.25,178.18 394.60,178.18" fill="none" stroke="#140a00" stroke-width="0.5" opacity="0.7"/><path d="M310.10,180.39 C314.71,180.39 330.16,180.31 337.77,180.39 C345.37,180.47 351.53,180.74 355.72,180.87 C359.91,181.01 361.10,181.14 362.90,181.20 C364.70,181.25 364.70,181.25 366.50,181.20 C368.30,181.14 369.49,181.01 373.68,180.87 C377.87,180.74 388.15,180.47 391.63,180.39 C395.12,180.31 394.11,180.39 394.60,180.39" fill="none" stroke="#140a00" stroke-width="0.5" opacity="0.7"/><path d="M310.10,183.70 C313.43,183.70 322.90,183.57 330.07,183.70 C337.25,183.83 347.69,184.28 353.16,184.51 C358.63,184.73 360.68,184.95 362.90,185.04 C365.12,185.13 364.28,185.13 366.50,185.04 C368.72,184.95 370.77,184.73 376.24,184.51 C381.71,184.28 396.27,183.83 399.33,183.70 C402.39,183.57 395.39,183.70 394.60,183.70" fill="none" stroke="#140a00" stroke-width="0.5" opacity="0.7"/><path d="M310.10,186.46 C312.36,186.46 316.84,186.28 323.66,186.46 C330.48,186.64 344.48,187.24 351.02,187.53 C357.56,187.83 360.32,188.13 362.90,188.25 C365.48,188.36 363.92,188.36 366.50,188.25 C369.08,188.13 371.84,187.83 378.38,187.53 C384.92,187.24 403.04,186.64 405.74,186.46 C408.44,186.28 396.46,186.46 394.60,186.46" fill="none" stroke="#140a00" stroke-width="0.5" opacity="0.7"/><path d="M310.10,188.86 C311.43,188.86 311.59,188.64 318.10,188.86 C324.61,189.07 341.70,189.80 349.17,190.16 C356.63,190.52 360.01,190.88 362.90,191.02 C365.79,191.17 363.61,191.17 366.50,191.02 C369.39,190.88 372.77,190.52 380.23,190.16 C387.70,189.80 408.90,189.07 411.30,188.86 C413.69,188.64 397.38,188.86 394.60,188.86" fill="none" stroke="#140a00" stroke-width="0.5" opacity="0.7"/><ellipse cx="364.70" cy="178.18" rx="4.30" ry="2.21" fill="#e04a2a" filter="url(#b0_5)"/><ellipse cx="367.70" cy="177.26" rx="1.20" ry="1.10" fill="#5a8fd0" opacity="0.7" filter="url(#b0_3)"/><path d="M362.10,171.10 L367.30,171.10 L367.48,177.62 L368.20,179.47 L367.12,182.23 L367.30,185.91 L368.38,191.51 L361.02,191.51 L362.10,185.91 L362.28,182.23 L361.20,179.47 L361.92,177.62Z" fill="#7467b0" filter="url(#b0_5)"/><path d="M362.90,171.10 L366.50,171.10 L366.68,177.62 L367.40,179.47 L366.32,182.23 L366.50,185.91 L367.58,191.51 L361.82,191.51 L362.90,185.91 L363.08,182.23 L362.00,179.47 L362.72,177.62Z" fill="#3f007d"/></g><g clip-path="url(#ms8)"><rect x="304.10" y="188.50" width="96.50" height="21.54" fill="#008000"/><path d="M303.10,187.50 C308.72,187.50 329.60,187.50 336.80,187.50 C344.00,187.50 343.77,187.50 346.30,187.50 C348.83,187.50 350.10,187.50 352.00,187.50 C353.90,187.50 355.17,187.50 357.70,187.50 C360.23,187.50 359.88,187.50 367.20,187.50 C374.52,187.50 395.87,187.50 401.60,187.50 L401.60,196.58 C395.87,196.58 374.52,196.52 367.20,196.58 C359.88,196.64 360.23,196.85 357.70,196.94 C355.17,197.03 353.90,197.09 352.00,197.09 C350.10,197.09 348.83,197.03 346.30,196.94 C343.77,196.85 344.00,196.64 336.80,196.58 C329.60,196.52 308.72,196.58 303.10,196.58Z" fill="#7a3d02"/><path d="M303.10,196.58 C308.72,196.58 329.60,196.52 336.80,196.58 C344.00,196.64 343.77,196.85 346.30,196.94 C348.83,197.03 350.10,197.09 352.00,197.09 C353.90,197.09 355.17,197.03 357.70,196.94 C360.23,196.85 359.88,196.64 367.20,196.58 C374.52,196.52 395.87,196.58 401.60,196.58 L401.60,199.74 C395.87,199.74 374.52,199.66 367.20,199.74 C359.88,199.82 360.23,200.10 357.70,200.21 C355.17,200.33 353.90,200.42 352.00,200.42 C350.10,200.42 348.83,200.33 346.30,200.21 C343.77,200.10 344.00,199.82 336.80,199.74 C329.60,199.66 308.72,199.74 303.10,199.74Z" fill="#d99a12"/><path d="M303.10,190.22 C307.83,190.22 324.47,190.18 331.48,190.22 C338.49,190.27 342.11,190.41 345.16,190.48 C348.21,190.55 348.29,190.63 349.80,190.65 C351.31,190.68 352.69,190.68 354.20,190.65 C355.71,190.63 355.79,190.55 358.84,190.48 C361.89,190.41 365.39,190.27 372.52,190.22 C379.65,190.18 396.75,190.22 401.60,190.22" fill="none" stroke="#140a00" stroke-width="0.5" opacity="0.7"/><path d="M303.10,192.16 C307.83,192.16 324.47,192.12 331.48,192.16 C338.49,192.20 342.11,192.35 345.16,192.42 C348.21,192.49 348.29,192.56 349.80,192.59 C351.31,192.62 352.69,192.62 354.20,192.59 C355.71,192.56 355.79,192.49 358.84,192.42 C361.89,192.35 365.39,192.20 372.52,192.16 C379.65,192.12 396.75,192.16 401.60,192.16" fill="none" stroke="#140a00" stroke-width="0.5" opacity="0.7"/><path d="M303.10,194.10 C307.83,194.10 324.47,194.06 331.48,194.10 C338.49,194.14 342.11,194.29 345.16,194.36 C348.21,194.43 348.29,194.50 349.80,194.53 C351.31,194.56 352.69,194.56 354.20,194.53 C355.71,194.50 355.79,194.43 358.84,194.36 C361.89,194.29 365.39,194.14 372.52,194.10 C379.65,194.06 396.75,194.10 401.60,194.10" fill="none" stroke="#140a00" stroke-width="0.5" opacity="0.7"/><path d="M303.10,195.61 C307.62,195.61 323.26,195.55 330.20,195.61 C337.14,195.66 341.47,195.84 344.73,195.93 C348.00,196.02 348.22,196.11 349.80,196.14 C351.38,196.18 352.62,196.18 354.20,196.14 C355.78,196.11 356.00,196.02 359.27,195.93 C362.53,195.84 366.75,195.66 373.80,195.61 C380.86,195.55 396.97,195.61 401.60,195.61" fill="none" stroke="#140a00" stroke-width="0.5" opacity="0.7"/><path d="M303.10,198.19 C306.76,198.19 318.41,198.10 325.07,198.19 C331.72,198.29 338.90,198.60 343.02,198.76 C347.14,198.92 347.94,199.08 349.80,199.14 C351.66,199.20 352.34,199.20 354.20,199.14 C356.06,199.08 356.86,198.92 360.98,198.76 C365.10,198.60 372.16,198.29 378.93,198.19 C385.70,198.10 397.82,198.19 401.60,198.19" fill="none" stroke="#140a00" stroke-width="0.5" opacity="0.7"/><path d="M303.10,202.07 C305.48,202.07 311.15,201.91 317.37,202.07 C323.60,202.23 335.05,202.75 340.46,203.01 C345.86,203.27 347.51,203.53 349.80,203.64 C352.09,203.74 351.91,203.74 354.20,203.64 C356.49,203.53 358.14,203.27 363.54,203.01 C368.95,202.75 380.28,202.23 386.63,202.07 C392.97,201.91 399.10,202.07 401.60,202.07" fill="none" stroke="#140a00" stroke-width="0.5" opacity="0.7"/><path d="M303.10,205.30 C304.41,205.30 305.09,205.09 310.96,205.30 C316.83,205.51 331.85,206.20 338.32,206.55 C344.79,206.90 347.15,207.25 349.80,207.39 C352.45,207.52 351.55,207.52 354.20,207.39 C356.85,207.25 359.21,206.90 365.68,206.55 C372.15,206.20 387.05,205.51 393.04,205.30 C399.03,205.09 400.17,205.30 401.60,205.30" fill="none" stroke="#140a00" stroke-width="0.5" opacity="0.7"/><path d="M303.10,208.10 C303.48,208.10 299.84,207.85 305.40,208.10 C310.96,208.35 329.07,209.20 336.47,209.62 C343.87,210.04 346.84,210.46 349.80,210.63 C352.76,210.80 351.24,210.80 354.20,210.63 C357.16,210.46 360.13,210.04 367.53,209.62 C374.93,209.20 392.92,208.35 398.60,208.10 C404.28,207.85 401.10,208.10 401.60,208.10" fill="none" stroke="#140a00" stroke-width="0.5" opacity="0.7"/><path d="M344.98,196.75 C344.98,196.29 346.70,195.50 347.87,195.05 C349.04,194.60 350.62,194.05 352.00,194.05 C353.38,194.05 354.96,194.60 356.13,195.05 C357.30,195.50 359.02,196.29 359.02,196.75 C359.02,197.22 357.30,197.54 356.13,197.85 C354.96,198.17 353.38,198.65 352.00,198.65 C350.62,198.65 349.04,198.17 347.87,197.85 C346.70,197.54 344.98,197.22 344.98,196.75Z" fill="#c8301e" filter="url(#b0_4)"/><ellipse cx="352.00" cy="195.61" rx="4.70" ry="2.58" fill="#e04a2a" filter="url(#b0_5)"/><ellipse cx="355.40" cy="194.53" rx="1.20" ry="1.29" fill="#5a8fd0" opacity="0.7" filter="url(#b0_3)"/><path d="M349.00,187.50 L355.00,187.50 L355.22,194.96 L356.10,197.12 L354.78,200.35 L355.00,204.65 L356.32,211.04 L347.68,211.04 L349.00,204.65 L349.22,200.35 L347.90,197.12 L348.78,194.96Z" fill="#7467b0" filter="url(#b0_5)"/><path d="M349.80,187.50 L354.20,187.50 L354.42,194.96 L355.30,197.12 L353.98,200.35 L354.20,204.65 L355.52,211.04 L348.48,211.04 L349.80,204.65 L350.02,200.35 L348.70,197.12 L349.58,194.96Z" fill="#3f007d"/></g><g clip-path="url(#ms9)"><rect x="294.00" y="207.40" width="115.80" height="25.85" fill="#008000"/><path d="M293.00,206.40 C297.43,206.40 313.58,206.40 319.60,206.40 C325.62,206.40 326.57,206.40 329.10,206.40 C331.63,206.40 332.90,206.40 334.80,206.40 C336.70,206.40 337.97,206.40 340.50,206.40 C343.03,206.40 338.28,206.40 350.00,206.40 C361.72,206.40 400.67,206.40 410.80,206.40 L410.80,217.09 C400.67,217.09 361.72,217.02 350.00,217.09 C338.28,217.16 343.03,217.42 340.50,217.53 C337.97,217.63 336.70,217.71 334.80,217.71 C332.90,217.71 331.63,217.63 329.10,217.53 C326.57,217.42 325.62,217.16 319.60,217.09 C313.58,217.02 297.43,217.09 293.00,217.09Z" fill="#7a3d02"/><path d="M293.00,217.09 C297.43,217.09 313.58,217.02 319.60,217.09 C325.62,217.16 326.57,217.42 329.10,217.53 C331.63,217.63 332.90,217.71 334.80,217.71 C336.70,217.71 337.97,217.63 340.50,217.53 C343.03,217.42 338.28,217.16 350.00,217.09 C361.72,217.02 400.67,217.09 410.80,217.09 L410.80,220.89 C400.67,220.89 361.72,220.80 350.00,220.89 C338.28,220.99 343.03,221.32 340.50,221.46 C337.97,221.59 336.70,221.70 334.80,221.70 C332.90,221.70 331.63,221.59 329.10,221.46 C326.57,221.32 325.62,220.99 319.60,220.89 C313.58,220.80 297.43,220.89 293.00,220.89Z" fill="#d99a12"/><path d="M293.00,209.47 C296.55,209.47 308.45,209.42 314.28,209.47 C320.11,209.52 324.92,209.69 327.96,209.78 C331.00,209.86 330.98,209.95 332.50,209.98 C334.02,210.02 335.58,210.02 337.10,209.98 C338.62,209.95 338.60,209.86 341.64,209.78 C344.68,209.69 343.79,209.52 355.32,209.47 C366.85,209.42 401.55,209.47 410.80,209.47" fill="none" stroke="#140a00" stroke-width="0.5" opacity="0.7"/><path d="M293.00,211.79 C296.55,211.79 308.45,211.74 314.28,211.79 C320.11,211.85 324.92,212.02 327.96,212.10 C331.00,212.19 330.98,212.28 332.50,212.31 C334.02,212.35 335.58,212.35 337.10,212.31 C338.62,212.28 338.60,212.19 341.64,212.10 C344.68,212.02 343.79,211.85 355.32,211.79 C366.85,211.74 401.55,211.79 410.80,211.79" fill="none" stroke="#140a00" stroke-width="0.5" opacity="0.7"/><path d="M293.00,214.12 C296.55,214.12 308.45,214.07 314.28,214.12 C320.11,214.17 324.92,214.34 327.96,214.43 C331.00,214.52 330.98,214.60 332.50,214.64 C334.02,214.67 335.58,214.67 337.10,214.64 C338.62,214.60 338.60,214.52 341.64,214.43 C344.68,214.34 343.79,214.17 355.32,214.12 C366.85,214.07 401.55,214.12 410.80,214.12" fill="none" stroke="#140a00" stroke-width="0.5" opacity="0.7"/><path d="M293.00,215.93 C296.33,215.93 307.24,215.87 313.00,215.93 C318.75,215.99 324.28,216.21 327.53,216.31 C330.78,216.42 330.91,216.53 332.50,216.57 C334.09,216.61 335.51,216.61 337.10,216.57 C338.69,216.53 338.82,216.42 342.07,216.31 C345.32,216.21 345.15,215.99 356.60,215.93 C368.06,215.87 401.77,215.93 410.80,215.93" fill="none" stroke="#140a00" stroke-width="0.5" opacity="0.7"/><path d="M293.00,219.03 C295.48,219.03 302.40,218.92 307.87,219.03 C313.34,219.14 321.72,219.52 325.82,219.71 C329.93,219.90 330.62,220.09 332.50,220.17 C334.38,220.24 335.22,220.24 337.10,220.17 C338.98,220.09 339.67,219.90 343.78,219.71 C347.88,219.52 350.56,219.14 361.73,219.03 C372.90,218.92 402.62,219.03 410.80,219.03" fill="none" stroke="#140a00" stroke-width="0.5" opacity="0.7"/><path d="M293.00,223.68 C294.20,223.68 295.13,223.50 300.17,223.68 C305.22,223.87 317.87,224.50 323.26,224.81 C328.65,225.13 330.19,225.44 332.50,225.56 C334.81,225.69 334.79,225.69 337.10,225.56 C339.41,225.44 340.95,225.13 346.34,224.81 C351.73,224.50 358.68,223.87 369.43,223.68 C380.17,223.50 403.90,223.68 410.80,223.68" fill="none" stroke="#140a00" stroke-width="0.5" opacity="0.7"/><path d="M293.00,227.56 C293.13,227.56 289.07,227.31 293.76,227.56 C298.45,227.81 314.66,228.64 321.12,229.06 C327.58,229.48 329.84,229.90 332.50,230.06 C335.16,230.23 334.44,230.23 337.10,230.06 C339.76,229.90 342.02,229.48 348.48,229.06 C354.94,228.64 365.45,227.81 375.84,227.56 C386.23,227.31 404.97,227.56 410.80,227.56" fill="none" stroke="#140a00" stroke-width="0.5" opacity="0.7"/><path d="M293.00,230.92 C292.20,230.92 283.82,230.62 288.20,230.92 C292.58,231.22 311.88,232.24 319.27,232.74 C326.65,233.25 329.53,233.76 332.50,233.96 C335.47,234.16 334.13,234.16 337.10,233.96 C340.07,233.76 342.95,233.25 350.33,232.74 C357.72,232.24 371.32,231.22 381.40,230.92 C391.48,230.62 405.90,230.92 410.80,230.92" fill="none" stroke="#140a00" stroke-width="0.5" opacity="0.7"/><ellipse cx="334.80" cy="215.93" rx="4.80" ry="3.10" fill="#e04a2a" filter="url(#b0_5)"/><ellipse cx="338.30" cy="214.64" rx="1.20" ry="1.55" fill="#5a8fd0" opacity="0.7" filter="url(#b0_3)"/><path d="M331.70,206.40 L337.90,206.40 L338.13,215.15 L339.05,217.74 L337.67,221.62 L337.90,226.78 L339.28,234.25 L330.32,234.25 L331.70,226.78 L331.93,221.62 L330.55,217.74 L331.47,215.15Z" fill="#7467b0" filter="url(#b0_5)"/><path d="M332.50,206.40 L337.10,206.40 L337.33,215.15 L338.25,217.74 L336.87,221.62 L337.10,226.78 L338.48,234.25 L331.12,234.25 L332.50,226.78 L332.73,221.62 L331.35,217.74 L332.27,215.15Z" fill="#3f007d"/></g><g clip-path="url(#ms10)"><rect x="279.70" y="231.10" width="144.80" height="32.32" fill="#008000"/><path d="M278.70,230.10 C282.52,230.10 296.20,230.10 301.60,230.10 C307.00,230.10 308.57,230.10 311.10,230.10 C313.63,230.10 314.90,230.10 316.80,230.10 C318.70,230.10 319.97,230.10 322.50,230.10 C325.03,230.10 314.83,230.10 332.00,230.10 C349.17,230.10 409.92,230.10 425.50,230.10 L425.50,243.22 C409.92,243.22 349.17,243.13 332.00,243.22 C314.83,243.31 325.03,243.63 322.50,243.76 C319.97,243.89 318.70,244.00 316.80,244.00 C314.90,244.00 313.63,243.89 311.10,243.76 C308.57,243.63 307.00,243.31 301.60,243.22 C296.20,243.13 282.52,243.22 278.70,243.22Z" fill="#7a3d02"/><path d="M278.70,243.22 C282.52,243.22 296.20,243.13 301.60,243.22 C307.00,243.31 308.57,243.63 311.10,243.76 C313.63,243.89 314.90,244.00 316.80,244.00 C318.70,244.00 319.97,243.89 322.50,243.76 C325.03,243.63 314.83,243.31 332.00,243.22 C349.17,243.13 409.92,243.22 425.50,243.22 L425.50,247.97 C409.92,247.97 349.17,247.85 332.00,247.97 C314.83,248.09 325.03,248.51 322.50,248.68 C319.97,248.84 318.70,248.98 316.80,248.98 C314.90,248.98 313.63,248.84 311.10,248.68 C308.57,248.51 307.00,248.09 301.60,247.97 C296.20,247.85 282.52,247.97 278.70,247.97Z" fill="#d99a12"/><path d="M278.70,233.69 C281.63,233.69 291.07,233.62 296.28,233.69 C301.49,233.75 307.02,233.97 309.96,234.07 C312.90,234.18 312.28,234.29 313.90,234.33 C315.52,234.38 318.08,234.38 319.70,234.33 C321.32,234.29 320.70,234.18 323.64,234.07 C326.58,233.97 320.34,233.75 337.32,233.69 C354.30,233.62 410.80,233.69 425.50,233.69" fill="none" stroke="#140a00" stroke-width="0.5" opacity="0.7"/><path d="M278.70,236.59 C281.63,236.59 291.07,236.53 296.28,236.59 C301.49,236.66 307.02,236.87 309.96,236.98 C312.90,237.09 312.28,237.20 313.90,237.24 C315.52,237.28 318.08,237.28 319.70,237.24 C321.32,237.20 320.70,237.09 323.64,236.98 C326.58,236.87 320.34,236.66 337.32,236.59 C354.30,236.53 410.80,236.59 425.50,236.59" fill="none" stroke="#140a00" stroke-width="0.5" opacity="0.7"/><path d="M278.70,239.50 C281.63,239.50 291.07,239.44 296.28,239.50 C301.49,239.57 307.02,239.78 309.96,239.89 C312.90,240.00 312.28,240.11 313.90,240.15 C315.52,240.19 318.08,240.19 319.70,240.15 C321.32,240.11 320.70,240.00 323.64,239.89 C326.58,239.78 320.34,239.57 337.32,239.50 C354.30,239.44 410.80,239.50 425.50,239.50" fill="none" stroke="#140a00" stroke-width="0.5" opacity="0.7"/><path d="M278.70,241.77 C281.42,241.77 289.86,241.69 295.00,241.77 C300.14,241.85 306.38,242.11 309.53,242.25 C312.68,242.38 312.21,242.51 313.90,242.57 C315.59,242.62 318.01,242.62 319.70,242.57 C321.39,242.51 320.92,242.38 324.07,242.25 C327.22,242.11 321.70,241.85 338.60,241.77 C355.51,241.69 411.02,241.77 425.50,241.77" fill="none" stroke="#140a00" stroke-width="0.5" opacity="0.7"/><path d="M278.70,245.64 C280.56,245.64 285.01,245.50 289.87,245.64 C294.72,245.79 303.82,246.26 307.82,246.50 C311.83,246.73 311.92,246.97 313.90,247.07 C315.88,247.16 317.72,247.16 319.70,247.07 C321.68,246.97 321.77,246.73 325.78,246.50 C329.78,246.26 327.11,245.79 343.73,245.64 C360.35,245.50 411.87,245.64 425.50,245.64" fill="none" stroke="#140a00" stroke-width="0.5" opacity="0.7"/><path d="M278.70,251.46 C279.28,251.46 277.75,251.23 282.17,251.46 C286.60,251.70 299.97,252.48 305.26,252.87 C310.55,253.27 311.49,253.66 313.90,253.81 C316.31,253.97 317.29,253.97 319.70,253.81 C322.11,253.66 323.05,253.27 328.34,252.87 C333.63,252.48 335.23,251.70 351.43,251.46 C367.62,251.23 413.15,251.46 425.50,251.46" fill="none" stroke="#140a00" stroke-width="0.5" opacity="0.7"/><path d="M278.70,256.31 C278.21,256.31 271.69,256.00 275.76,256.31 C279.83,256.62 296.76,257.66 303.12,258.19 C309.48,258.71 311.14,259.23 313.90,259.44 C316.66,259.65 316.94,259.65 319.70,259.44 C322.46,259.23 324.12,258.71 330.48,258.19 C336.84,257.66 342.00,256.62 357.84,256.31 C373.68,256.00 414.22,256.31 425.50,256.31" fill="none" stroke="#140a00" stroke-width="0.5" opacity="0.7"/><path d="M278.70,260.51 C277.28,260.51 266.44,260.13 270.20,260.51 C273.96,260.89 293.98,262.16 301.27,262.79 C308.55,263.42 310.83,264.06 313.90,264.31 C316.97,264.56 316.63,264.56 319.70,264.31 C322.77,264.06 325.05,263.42 332.33,262.79 C339.62,262.16 347.87,260.89 363.40,260.51 C378.93,260.13 415.15,260.51 425.50,260.51" fill="none" stroke="#140a00" stroke-width="0.5" opacity="0.7"/><ellipse cx="316.80" cy="241.77" rx="5.40" ry="3.88" fill="#e04a2a" filter="url(#b0_5)"/><ellipse cx="320.90" cy="240.15" rx="1.20" ry="1.94" fill="#5a8fd0" opacity="0.7" filter="url(#b0_3)"/><path d="M313.10,230.10 L320.50,230.10 L320.79,240.80 L321.95,244.03 L320.21,248.88 L320.50,255.34 L322.24,264.42 L311.36,264.42 L313.10,255.34 L313.39,248.88 L311.65,244.03 L312.81,240.80Z" fill="#7467b0" filter="url(#b0_5)"/><path d="M313.90,230.10 L319.70,230.10 L319.99,240.80 L321.15,244.03 L319.41,248.88 L319.70,255.34 L321.44,264.42 L312.16,264.42 L313.90,255.34 L314.19,248.88 L312.45,244.03 L313.61,240.80Z" fill="#3f007d"/></g><path d="M279.70,263.42 L279.70,231.10 L294.00,207.40 L304.10,188.50 L311.10,172.10 L315.90,160.20 L388.80,160.20 L393.60,172.10 L400.60,188.50 L409.80,207.40 L424.50,231.10 L424.50,263.42Z" fill="none" stroke="#000" stroke-width="1.4" stroke-linejoin="round"/><line x1="274.20" y1="240.60" x2="279.70" y2="240.60" stroke="#000" stroke-width="1"/><line x1="274.20" y1="250.30" x2="279.70" y2="250.30" stroke="#000" stroke-width="1"/><text x="273.20" y="253.20" font-size="9.5" text-anchor="end">-40</text><line x1="274.20" y1="259.50" x2="279.70" y2="259.50" stroke="#000" stroke-width="1"/><line x1="275.20" y1="228.50" x2="279.70" y2="231.10" stroke="#000" stroke-width="1"/><text x="273.70" y="228.70" font-size="9.5" text-anchor="end">100</text><line x1="289.50" y1="204.80" x2="294.00" y2="207.40" stroke="#000" stroke-width="1"/><text x="288.00" y="205.00" font-size="9.5" text-anchor="end">200</text><line x1="299.60" y1="185.90" x2="304.10" y2="188.50" stroke="#000" stroke-width="1"/><text x="298.10" y="186.10" font-size="9.5" text-anchor="end">300</text><line x1="306.60" y1="169.50" x2="311.10" y2="172.10" stroke="#000" stroke-width="1"/><text x="305.10" y="169.70" font-size="9.5" text-anchor="end">400</text><line x1="311.40" y1="157.60" x2="315.90" y2="160.20" stroke="#000" stroke-width="1"/><text x="309.90" y="157.80" font-size="9.5" text-anchor="end">500</text><line x1="279.70" y1="263.42" x2="279.70" y2="268.92" stroke="#000" stroke-width="1"/><text x="279.70" y="279.92" font-size="9.5" text-anchor="middle">300</text><line x1="327.97" y1="263.42" x2="327.97" y2="268.92" stroke="#000" stroke-width="1"/><text x="327.97" y="279.92" font-size="9.5" text-anchor="middle">200</text><line x1="376.23" y1="263.42" x2="376.23" y2="268.92" stroke="#000" stroke-width="1"/><text x="376.23" y="279.92" font-size="9.5" text-anchor="middle">100</text><line x1="424.50" y1="263.42" x2="424.50" y2="268.92" stroke="#000" stroke-width="1"/><text x="424.50" y="279.92" font-size="9.5" text-anchor="middle">0</text>
<g clip-path="url(#ms11)"><rect x="315.90" y="292.40" width="72.90" height="16.27" fill="#008000"/><path d="M314.90,291.40 C321.20,291.40 344.57,291.40 352.70,291.40 C360.83,291.40 360.77,291.40 363.70,291.40 C366.63,291.40 368.10,291.40 370.30,291.40 C372.50,291.40 373.97,291.40 376.90,291.40 C379.83,291.40 385.75,291.40 387.90,291.40 C390.05,291.40 389.48,291.40 389.80,291.40 L389.80,298.50 C389.48,298.50 390.05,298.45 387.90,298.50 C385.75,298.55 379.83,298.74 376.90,298.82 C373.97,298.90 372.50,298.96 370.30,298.96 C368.10,298.96 366.63,298.90 363.70,298.82 C360.77,298.74 360.83,298.55 352.70,298.50 C344.57,298.45 321.20,298.50 314.90,298.50Z" fill="#7a3d02"/><path d="M314.90,298.50 C321.20,298.50 344.57,298.45 352.70,298.50 C360.83,298.55 360.77,298.74 363.70,298.82 C366.63,298.90 368.10,298.96 370.30,298.96 C372.50,298.96 373.97,298.90 376.90,298.82 C379.83,298.74 385.75,298.55 387.90,298.50 C390.05,298.45 389.48,298.50 389.80,298.50 L389.80,300.89 C389.48,300.89 390.05,300.82 387.90,300.89 C385.75,300.96 379.83,301.21 376.90,301.31 C373.97,301.41 372.50,301.49 370.30,301.49 C368.10,301.49 366.63,301.41 363.70,301.31 C360.77,301.21 360.83,300.96 352.70,300.89 C344.57,300.82 321.20,300.89 314.90,300.89Z" fill="#d99a12"/><path d="M314.90,293.70 C320.17,293.70 338.63,293.67 346.54,293.70 C354.45,293.73 358.70,293.84 362.38,293.90 C366.06,293.95 367.00,294.01 368.60,294.03 C370.20,294.05 370.40,294.05 372.00,294.03 C373.60,294.01 374.54,293.95 378.22,293.90 C381.90,293.84 392.13,293.73 394.06,293.70 C395.99,293.67 390.51,293.70 389.80,293.70" fill="none" stroke="#140a00" stroke-width="0.5" opacity="0.7"/><path d="M314.90,295.17 C320.17,295.17 338.63,295.13 346.54,295.17 C354.45,295.20 358.70,295.31 362.38,295.36 C366.06,295.42 367.00,295.47 368.60,295.49 C370.20,295.51 370.40,295.51 372.00,295.49 C373.60,295.47 374.54,295.42 378.22,295.36 C381.90,295.31 392.13,295.20 394.06,295.17 C395.99,295.13 390.51,295.17 389.80,295.17" fill="none" stroke="#140a00" stroke-width="0.5" opacity="0.7"/><path d="M314.90,296.63 C320.17,296.63 338.63,296.60 346.54,296.63 C354.45,296.66 358.70,296.77 362.38,296.83 C366.06,296.88 367.00,296.93 368.60,296.96 C370.20,296.98 370.40,296.98 372.00,296.96 C373.60,296.93 374.54,296.88 378.22,296.83 C381.90,296.77 392.13,296.66 394.06,296.63 C395.99,296.60 390.51,296.63 389.80,296.63" fill="none" stroke="#140a00" stroke-width="0.5" opacity="0.7"/><path d="M314.90,297.77 C319.93,297.77 337.22,297.73 345.06,297.77 C352.89,297.81 357.96,297.94 361.88,298.01 C365.81,298.08 366.91,298.15 368.60,298.17 C370.29,298.20 370.31,298.20 372.00,298.17 C373.69,298.15 374.79,298.08 378.72,298.01 C382.64,297.94 393.70,297.81 395.55,297.77 C397.39,297.73 390.76,297.77 389.80,297.77" fill="none" stroke="#140a00" stroke-width="0.5" opacity="0.7"/><path d="M314.90,299.72 C318.94,299.72 331.61,299.65 339.12,299.72 C346.62,299.79 354.99,300.03 359.91,300.15 C364.82,300.27 366.58,300.39 368.60,300.44 C370.62,300.49 369.98,300.49 372.00,300.44 C374.02,300.39 375.78,300.27 380.69,300.15 C385.61,300.03 399.97,299.79 401.49,299.72 C403.00,299.65 391.75,299.72 389.80,299.72" fill="none" stroke="#140a00" stroke-width="0.5" opacity="0.7"/><path d="M314.90,302.65 C317.45,302.65 323.20,302.53 330.21,302.65 C337.21,302.77 350.54,303.16 356.94,303.36 C363.33,303.56 366.09,303.76 368.60,303.84 C371.11,303.91 369.49,303.91 372.00,303.84 C374.51,303.76 377.27,303.56 383.67,303.36 C390.06,303.16 409.37,302.77 410.39,302.65 C411.42,302.53 393.23,302.65 389.80,302.65" fill="none" stroke="#140a00" stroke-width="0.5" opacity="0.7"/><path d="M314.90,305.09 C316.21,305.09 316.19,304.93 322.78,305.09 C329.37,305.25 346.82,305.77 354.46,306.04 C362.10,306.30 365.68,306.56 368.60,306.67 C371.52,306.77 369.08,306.77 372.00,306.67 C374.92,306.56 378.50,306.30 386.14,306.04 C393.78,305.77 417.21,305.25 417.82,305.09 C418.43,304.93 394.47,305.09 389.80,305.09" fill="none" stroke="#140a00" stroke-width="0.5" opacity="0.7"/><path d="M314.90,307.21 C315.14,307.21 310.11,307.02 316.35,307.21 C322.58,307.40 343.61,308.04 352.31,308.35 C361.02,308.67 365.32,308.99 368.60,309.12 C371.88,309.25 368.72,309.25 372.00,309.12 C375.28,308.99 379.58,308.67 388.29,308.35 C396.99,308.04 424.00,307.40 424.25,307.21 C424.51,307.02 395.54,307.21 389.80,307.21" fill="none" stroke="#140a00" stroke-width="0.5" opacity="0.7"/><path d="M367.14,298.76 C367.14,298.29 367.49,297.51 368.02,297.06 C368.54,296.61 369.54,296.06 370.30,296.06 C371.06,296.06 372.06,296.61 372.58,297.06 C373.11,297.51 373.46,298.29 373.46,298.76 C373.46,299.22 373.11,299.54 372.58,299.86 C372.06,300.17 371.06,300.66 370.30,300.66 C369.54,300.66 368.54,300.17 368.02,299.86 C367.49,299.54 367.14,299.22 367.14,298.76Z" fill="#c8301e" filter="url(#b0_4)"/><ellipse cx="370.30" cy="297.77" rx="4.20" ry="1.95" fill="#e04a2a" filter="url(#b0_5)"/><ellipse cx="373.20" cy="296.96" rx="1.20" ry="0.98" fill="#5a8fd0" opacity="0.7" filter="url(#b0_3)"/><path d="M367.80,291.40 L372.80,291.40 L372.97,297.28 L373.65,298.91 L372.63,301.35 L372.80,304.60 L373.82,309.67 L366.78,309.67 L367.80,304.60 L367.97,301.35 L366.95,298.91 L367.63,297.28Z" fill="#7467b0" filter="url(#b0_5)"/><path d="M368.60,291.40 L372.00,291.40 L372.17,297.28 L372.85,298.91 L371.83,301.35 L372.00,304.60 L373.02,309.67 L367.58,309.67 L368.60,304.60 L368.77,301.35 L367.75,298.91 L368.43,297.28Z" fill="#3f007d"/></g><g clip-path="url(#ms12)"><rect x="311.10" y="304.30" width="82.50" height="18.41" fill="#008000"/><path d="M310.10,303.30 C316.30,303.30 339.27,303.30 347.30,303.30 C355.33,303.30 355.37,303.30 358.30,303.30 C361.23,303.30 362.70,303.30 364.90,303.30 C367.10,303.30 368.57,303.30 371.50,303.30 C374.43,303.30 378.65,303.30 382.50,303.30 C386.35,303.30 392.58,303.30 394.60,303.30 L394.60,311.21 C392.58,311.21 386.35,311.15 382.50,311.21 C378.65,311.27 374.43,311.48 371.50,311.57 C368.57,311.65 367.10,311.72 364.90,311.72 C362.70,311.72 361.23,311.65 358.30,311.57 C355.37,311.48 355.33,311.27 347.30,311.21 C339.27,311.15 316.30,311.21 310.10,311.21Z" fill="#7a3d02"/><path d="M310.10,311.21 C316.30,311.21 339.27,311.15 347.30,311.21 C355.33,311.27 355.37,311.48 358.30,311.57 C361.23,311.65 362.70,311.72 364.90,311.72 C367.10,311.72 368.57,311.65 371.50,311.57 C374.43,311.48 378.65,311.27 382.50,311.21 C386.35,311.15 392.58,311.21 394.60,311.21 L394.60,313.91 C392.58,313.91 386.35,313.83 382.50,313.91 C378.65,313.99 374.43,314.27 371.50,314.38 C368.57,314.49 367.10,314.58 364.90,314.58 C362.70,314.58 361.23,314.49 358.30,314.38 C355.37,314.27 355.33,313.99 347.30,313.91 C339.27,313.83 316.30,313.91 310.10,313.91Z" fill="#d99a12"/><path d="M310.10,305.77 C315.27,305.77 333.33,305.74 341.14,305.77 C348.95,305.81 353.34,305.93 356.98,305.99 C360.62,306.06 361.36,306.12 363.00,306.14 C364.64,306.17 365.16,306.17 366.80,306.14 C368.44,306.12 369.18,306.06 372.82,305.99 C376.46,305.93 385.03,305.81 388.66,305.77 C392.29,305.74 393.61,305.77 394.60,305.77" fill="none" stroke="#140a00" stroke-width="0.5" opacity="0.7"/><path d="M310.10,307.43 C315.27,307.43 333.33,307.39 341.14,307.43 C348.95,307.47 353.34,307.59 356.98,307.65 C360.62,307.71 361.36,307.77 363.00,307.80 C364.64,307.82 365.16,307.82 366.80,307.80 C368.44,307.77 369.18,307.71 372.82,307.65 C376.46,307.59 385.03,307.47 388.66,307.43 C392.29,307.39 393.61,307.43 394.60,307.43" fill="none" stroke="#140a00" stroke-width="0.5" opacity="0.7"/><path d="M310.10,309.09 C315.27,309.09 333.33,309.05 341.14,309.09 C348.95,309.12 353.34,309.25 356.98,309.31 C360.62,309.37 361.36,309.43 363.00,309.46 C364.64,309.48 365.16,309.48 366.80,309.46 C368.44,309.43 369.18,309.37 372.82,309.31 C376.46,309.25 385.03,309.12 388.66,309.09 C392.29,309.05 393.61,309.09 394.60,309.09" fill="none" stroke="#140a00" stroke-width="0.5" opacity="0.7"/><path d="M310.10,310.38 C315.03,310.38 331.92,310.33 339.65,310.38 C347.39,310.42 352.59,310.57 356.48,310.65 C360.38,310.73 361.28,310.80 363.00,310.83 C364.72,310.86 365.08,310.86 366.80,310.83 C368.52,310.80 369.42,310.73 373.31,310.65 C377.21,310.57 386.60,310.42 390.14,310.38 C393.69,310.33 393.86,310.38 394.60,310.38" fill="none" stroke="#140a00" stroke-width="0.5" opacity="0.7"/><path d="M310.10,312.59 C314.04,312.59 326.31,312.51 333.71,312.59 C341.12,312.67 349.62,312.94 354.50,313.07 C359.39,313.21 360.95,313.34 363.00,313.40 C365.05,313.45 364.75,313.45 366.80,313.40 C368.85,313.34 370.41,313.21 375.29,313.07 C380.18,312.94 392.87,312.67 396.08,312.59 C399.30,312.51 394.85,312.59 394.60,312.59" fill="none" stroke="#140a00" stroke-width="0.5" opacity="0.7"/><path d="M310.10,315.90 C312.55,315.90 317.90,315.77 324.80,315.90 C331.71,316.03 345.17,316.48 351.53,316.71 C357.90,316.93 360.46,317.15 363.00,317.24 C365.54,317.33 364.26,317.33 366.80,317.24 C369.34,317.15 371.90,316.93 378.26,316.71 C384.63,316.48 402.27,316.03 405.00,315.90 C407.72,315.77 396.33,315.90 394.60,315.90" fill="none" stroke="#140a00" stroke-width="0.5" opacity="0.7"/><path d="M310.10,318.66 C311.31,318.66 310.89,318.48 317.38,318.66 C323.87,318.84 341.46,319.44 349.06,319.73 C356.66,320.03 360.04,320.33 363.00,320.45 C365.96,320.56 363.84,320.56 366.80,320.45 C369.76,320.33 373.14,320.03 380.74,319.73 C388.34,319.44 410.11,318.84 412.42,318.66 C414.73,318.48 397.57,318.66 394.60,318.66" fill="none" stroke="#140a00" stroke-width="0.5" opacity="0.7"/><path d="M310.10,321.06 C310.24,321.06 304.81,320.84 310.94,321.06 C317.08,321.27 338.24,322.00 346.91,322.36 C355.59,322.72 359.69,323.08 363.00,323.22 C366.31,323.37 363.49,323.37 366.80,323.22 C370.11,323.08 374.21,322.72 382.88,322.36 C391.56,322.00 416.90,321.27 418.86,321.06 C420.81,320.84 398.64,321.06 394.60,321.06" fill="none" stroke="#140a00" stroke-width="0.5" opacity="0.7"/><path d="M360.52,311.43 C360.52,310.96 361.28,310.18 362.01,309.73 C362.74,309.28 363.94,308.73 364.90,308.73 C365.86,308.73 367.06,309.28 367.79,309.73 C368.52,310.18 369.27,310.96 369.27,311.43 C369.27,311.90 368.52,312.21 367.79,312.53 C367.06,312.85 365.86,313.33 364.90,313.33 C363.94,313.33 362.74,312.85 362.01,312.53 C361.28,312.21 360.52,311.90 360.52,311.43Z" fill="#c8301e" filter="url(#b0_4)"/><ellipse cx="364.90" cy="310.38" rx="4.40" ry="2.21" fill="#e04a2a" filter="url(#b0_5)"/><ellipse cx="368.00" cy="309.46" rx="1.20" ry="1.10" fill="#5a8fd0" opacity="0.7" filter="url(#b0_3)"/><path d="M362.20,303.30 L367.60,303.30 L367.79,309.82 L368.55,311.67 L367.41,314.43 L367.60,318.11 L368.74,323.71 L361.06,323.71 L362.20,318.11 L362.39,314.43 L361.25,311.67 L362.01,309.82Z" fill="#7467b0" filter="url(#b0_5)"/><path d="M363.00,303.30 L366.80,303.30 L366.99,309.82 L367.75,311.67 L366.61,314.43 L366.80,318.11 L367.94,323.71 L361.86,323.71 L363.00,318.11 L363.19,314.43 L362.05,311.67 L362.81,309.82Z" fill="#3f007d"/></g><g clip-path="url(#ms13)"><rect x="304.10" y="320.70" width="96.50" height="21.54" fill="#008000"/><path d="M303.10,319.70 C308.37,319.70 327.60,319.70 334.70,319.70 C341.80,319.70 342.77,319.70 345.70,319.70 C348.63,319.70 350.10,319.70 352.30,319.70 C354.50,319.70 355.97,319.70 358.90,319.70 C361.83,319.70 362.78,319.70 369.90,319.70 C377.02,319.70 396.32,319.70 401.60,319.70 L401.60,328.78 C396.32,328.78 377.02,328.71 369.90,328.78 C362.78,328.85 361.83,329.10 358.90,329.20 C355.97,329.30 354.50,329.38 352.30,329.38 C350.10,329.38 348.63,329.30 345.70,329.20 C342.77,329.10 341.80,328.85 334.70,328.78 C327.60,328.71 308.37,328.78 303.10,328.78Z" fill="#7a3d02"/><path d="M303.10,328.78 C308.37,328.78 327.60,328.71 334.70,328.78 C341.80,328.85 342.77,329.10 345.70,329.20 C348.63,329.30 350.10,329.38 352.30,329.38 C354.50,329.38 355.97,329.30 358.90,329.20 C361.83,329.10 362.78,328.85 369.90,328.78 C377.02,328.71 396.32,328.78 401.60,328.78 L401.60,331.94 C396.32,331.94 377.02,331.85 369.90,331.94 C362.78,332.03 361.83,332.36 358.90,332.49 C355.97,332.62 354.50,332.73 352.30,332.73 C350.10,332.73 348.63,332.62 345.70,332.49 C342.77,332.36 341.80,332.03 334.70,331.94 C327.60,331.85 308.37,331.94 303.10,331.94Z" fill="#d99a12"/><path d="M303.10,322.42 C307.34,322.42 321.66,322.38 328.54,322.42 C335.42,322.47 340.84,322.61 344.38,322.68 C347.92,322.75 348.06,322.83 349.80,322.85 C351.54,322.88 353.06,322.88 354.80,322.85 C356.54,322.83 356.68,322.75 360.22,322.68 C363.76,322.61 369.16,322.47 376.06,322.42 C382.96,322.38 397.34,322.42 401.60,322.42" fill="none" stroke="#140a00" stroke-width="0.5" opacity="0.7"/><path d="M303.10,324.36 C307.34,324.36 321.66,324.32 328.54,324.36 C335.42,324.40 340.84,324.55 344.38,324.62 C347.92,324.69 348.06,324.76 349.80,324.79 C351.54,324.82 353.06,324.82 354.80,324.79 C356.54,324.76 356.68,324.69 360.22,324.62 C363.76,324.55 369.16,324.40 376.06,324.36 C382.96,324.32 397.34,324.36 401.60,324.36" fill="none" stroke="#140a00" stroke-width="0.5" opacity="0.7"/><path d="M303.10,326.30 C307.34,326.30 321.66,326.26 328.54,326.30 C335.42,326.34 340.84,326.49 344.38,326.56 C347.92,326.63 348.06,326.70 349.80,326.73 C351.54,326.76 353.06,326.76 354.80,326.73 C356.54,326.70 356.68,326.63 360.22,326.56 C363.76,326.49 369.16,326.34 376.06,326.30 C382.96,326.26 397.34,326.30 401.60,326.30" fill="none" stroke="#140a00" stroke-width="0.5" opacity="0.7"/><path d="M303.10,327.81 C307.09,327.81 320.26,327.75 327.06,327.81 C333.85,327.86 340.09,328.04 343.88,328.13 C347.68,328.22 347.98,328.31 349.80,328.34 C351.62,328.38 352.98,328.38 354.80,328.34 C356.62,328.31 356.92,328.22 360.72,328.13 C364.51,328.04 370.73,327.86 377.55,327.81 C384.36,327.75 397.59,327.81 401.60,327.81" fill="none" stroke="#140a00" stroke-width="0.5" opacity="0.7"/><path d="M303.10,330.39 C306.10,330.39 314.65,330.30 321.12,330.39 C327.58,330.49 337.12,330.80 341.91,330.96 C346.69,331.12 347.65,331.28 349.80,331.34 C351.95,331.40 352.65,331.40 354.80,331.34 C356.95,331.28 357.91,331.12 362.69,330.96 C367.48,330.80 377.00,330.49 383.49,330.39 C389.97,330.30 398.58,330.39 401.60,330.39" fill="none" stroke="#140a00" stroke-width="0.5" opacity="0.7"/><path d="M303.10,334.27 C304.62,334.27 306.23,334.11 312.21,334.27 C318.18,334.43 332.67,334.95 338.94,335.21 C345.20,335.47 347.16,335.73 349.80,335.84 C352.44,335.94 352.16,335.94 354.80,335.84 C357.44,335.73 359.40,335.47 365.67,335.21 C371.93,334.95 386.41,334.43 392.39,334.27 C398.38,334.11 400.07,334.27 401.60,334.27" fill="none" stroke="#140a00" stroke-width="0.5" opacity="0.7"/><path d="M303.10,337.50 C303.38,337.50 299.22,337.29 304.78,337.50 C310.34,337.71 328.96,338.40 336.46,338.75 C343.96,339.10 346.74,339.45 349.80,339.59 C352.86,339.72 351.74,339.72 354.80,339.59 C357.86,339.45 360.64,339.10 368.14,338.75 C375.64,338.40 394.24,337.71 399.82,337.50 C405.40,337.29 401.30,337.50 401.60,337.50" fill="none" stroke="#140a00" stroke-width="0.5" opacity="0.7"/><path d="M303.10,340.30 C302.31,340.30 293.14,340.05 298.35,340.30 C303.55,340.55 325.74,341.40 334.31,341.82 C342.89,342.24 346.39,342.66 349.80,342.83 C353.21,343.00 351.39,343.00 354.80,342.83 C358.21,342.66 361.71,342.24 370.29,341.82 C378.86,341.40 401.04,340.55 406.25,340.30 C411.47,340.05 402.38,340.30 401.60,340.30" fill="none" stroke="#140a00" stroke-width="0.5" opacity="0.7"/><path d="M344.01,328.95 C344.01,328.49 346.10,327.70 347.48,327.25 C348.87,326.80 350.69,326.25 352.30,326.25 C353.91,326.25 355.73,326.80 357.12,327.25 C358.50,327.70 360.59,328.49 360.59,328.95 C360.59,329.42 358.50,329.74 357.12,330.05 C355.73,330.37 353.91,330.85 352.30,330.85 C350.69,330.85 348.87,330.37 347.48,330.05 C346.10,329.74 344.01,329.42 344.01,328.95Z" fill="#c8301e" filter="url(#b0_4)"/><ellipse cx="352.30" cy="327.81" rx="5.00" ry="2.58" fill="#e04a2a" filter="url(#b0_5)"/><ellipse cx="356.00" cy="326.73" rx="1.20" ry="1.29" fill="#5a8fd0" opacity="0.7" filter="url(#b0_3)"/><path d="M349.00,319.70 L355.60,319.70 L355.85,327.16 L356.85,329.32 L355.35,332.55 L355.60,336.85 L357.10,343.24 L347.50,343.24 L349.00,336.85 L349.25,332.55 L347.75,329.32 L348.75,327.16Z" fill="#7467b0" filter="url(#b0_5)"/><path d="M349.80,319.70 L354.80,319.70 L355.05,327.16 L356.05,329.32 L354.55,332.55 L354.80,336.85 L356.30,343.24 L348.30,343.24 L349.80,336.85 L350.05,332.55 L348.55,329.32 L349.55,327.16Z" fill="#3f007d"/></g><g clip-path="url(#ms14)"><rect x="294.00" y="339.60" width="115.80" height="25.85" fill="#008000"/><path d="M293.00,338.60 C297.00,338.60 311.17,338.60 317.00,338.60 C322.83,338.60 325.07,338.60 328.00,338.60 C330.93,338.60 332.40,338.60 334.60,338.60 C336.80,338.60 338.27,338.60 341.20,338.60 C344.13,338.60 340.60,338.60 352.20,338.60 C363.80,338.60 401.03,338.60 410.80,338.60 L410.80,349.29 C401.03,349.29 363.80,349.21 352.20,349.29 C340.60,349.38 344.13,349.68 341.20,349.80 C338.27,349.92 336.80,350.02 334.60,350.02 C332.40,350.02 330.93,349.92 328.00,349.80 C325.07,349.68 322.83,349.38 317.00,349.29 C311.17,349.21 297.00,349.29 293.00,349.29Z" fill="#7a3d02"/><path d="M293.00,349.29 C297.00,349.29 311.17,349.21 317.00,349.29 C322.83,349.38 325.07,349.68 328.00,349.80 C330.93,349.92 332.40,350.02 334.60,350.02 C336.80,350.02 338.27,349.92 341.20,349.80 C344.13,349.68 340.60,349.38 352.20,349.29 C363.80,349.21 401.03,349.29 410.80,349.29 L410.80,353.09 C401.03,353.09 363.80,352.98 352.20,353.09 C340.60,353.20 344.13,353.59 341.20,353.75 C338.27,353.91 336.80,354.03 334.60,354.03 C332.40,354.03 330.93,353.91 328.00,353.75 C325.07,353.59 322.83,353.20 317.00,353.09 C311.17,352.98 297.00,353.09 293.00,353.09Z" fill="#d99a12"/><path d="M293.00,341.67 C295.97,341.67 305.23,341.62 310.84,341.67 C316.45,341.72 323.12,341.89 326.68,341.98 C330.24,342.06 330.48,342.15 332.20,342.18 C333.92,342.22 335.28,342.22 337.00,342.18 C338.72,342.15 338.96,342.06 342.52,341.98 C346.08,341.89 346.98,341.72 358.36,341.67 C369.74,341.62 402.06,341.67 410.80,341.67" fill="none" stroke="#140a00" stroke-width="0.5" opacity="0.7"/><path d="M293.00,343.99 C295.97,343.99 305.23,343.94 310.84,343.99 C316.45,344.05 323.12,344.22 326.68,344.30 C330.24,344.39 330.48,344.48 332.20,344.51 C333.92,344.55 335.28,344.55 337.00,344.51 C338.72,344.48 338.96,344.39 342.52,344.30 C346.08,344.22 346.98,344.05 358.36,343.99 C369.74,343.94 402.06,343.99 410.80,343.99" fill="none" stroke="#140a00" stroke-width="0.5" opacity="0.7"/><path d="M293.00,346.32 C295.97,346.32 305.23,346.27 310.84,346.32 C316.45,346.37 323.12,346.54 326.68,346.63 C330.24,346.72 330.48,346.80 332.20,346.84 C333.92,346.87 335.28,346.87 337.00,346.84 C338.72,346.80 338.96,346.72 342.52,346.63 C346.08,346.54 346.98,346.37 358.36,346.32 C369.74,346.27 402.06,346.32 410.80,346.32" fill="none" stroke="#140a00" stroke-width="0.5" opacity="0.7"/><path d="M293.00,348.13 C295.73,348.13 303.82,348.07 309.36,348.13 C314.89,348.19 322.38,348.41 326.19,348.51 C329.99,348.62 330.40,348.73 332.20,348.77 C334.00,348.81 335.20,348.81 337.00,348.77 C338.80,348.73 339.21,348.62 343.02,348.51 C346.82,348.41 348.55,348.19 359.85,348.13 C371.14,348.07 402.31,348.13 410.80,348.13" fill="none" stroke="#140a00" stroke-width="0.5" opacity="0.7"/><path d="M293.00,351.23 C294.74,351.23 298.21,351.12 303.42,351.23 C308.62,351.34 319.41,351.72 324.21,351.91 C329.00,352.10 330.07,352.29 332.20,352.37 C334.33,352.44 334.87,352.44 337.00,352.37 C339.13,352.29 340.20,352.10 345.00,351.91 C349.79,351.72 354.82,351.34 365.79,351.23 C376.75,351.12 403.30,351.23 410.80,351.23" fill="none" stroke="#140a00" stroke-width="0.5" opacity="0.7"/><path d="M293.00,355.88 C293.25,355.88 289.80,355.70 294.50,355.88 C299.21,356.07 314.95,356.70 321.24,357.01 C327.52,357.33 329.57,357.64 332.20,357.76 C334.83,357.89 334.37,357.89 337.00,357.76 C339.63,357.64 341.68,357.33 347.97,357.01 C354.25,356.70 364.22,356.07 374.70,355.88 C385.17,355.70 404.78,355.88 410.80,355.88" fill="none" stroke="#140a00" stroke-width="0.5" opacity="0.7"/><path d="M293.00,359.76 C292.01,359.76 282.79,359.51 287.08,359.76 C291.37,360.01 311.24,360.84 318.76,361.26 C326.28,361.68 329.16,362.10 332.20,362.26 C335.24,362.43 333.96,362.43 337.00,362.26 C340.04,362.10 342.92,361.68 350.44,361.26 C357.96,360.84 372.06,360.01 382.12,359.76 C392.18,359.51 406.02,359.76 410.80,359.76" fill="none" stroke="#140a00" stroke-width="0.5" opacity="0.7"/><path d="M293.00,363.12 C290.94,363.12 276.71,362.82 280.64,363.12 C284.58,363.42 308.02,364.44 316.62,364.94 C325.21,365.45 328.80,365.96 332.20,366.16 C335.60,366.36 333.60,366.36 337.00,366.16 C340.40,365.96 343.99,365.45 352.59,364.94 C361.18,364.44 378.85,363.42 388.56,363.12 C398.26,362.82 407.09,363.12 410.80,363.12" fill="none" stroke="#140a00" stroke-width="0.5" opacity="0.7"/><path d="M327.57,349.40 C327.57,348.94 329.18,348.15 330.35,347.70 C331.52,347.25 333.18,346.70 334.60,346.70 C336.02,346.70 337.68,347.25 338.85,347.70 C340.02,348.15 341.63,348.94 341.63,349.40 C341.63,349.87 340.02,350.19 338.85,350.50 C337.68,350.82 336.02,351.30 334.60,351.30 C333.18,351.30 331.52,350.82 330.35,350.50 C329.18,350.19 327.57,349.87 327.57,349.40Z" fill="#c8301e" filter="url(#b0_4)"/><ellipse cx="334.60" cy="348.13" rx="4.90" ry="3.10" fill="#e04a2a" filter="url(#b0_5)"/><ellipse cx="338.20" cy="346.84" rx="1.20" ry="1.55" fill="#5a8fd0" opacity="0.7" filter="url(#b0_3)"/><path d="M331.40,338.60 L337.80,338.60 L338.04,347.35 L339.00,349.94 L337.56,353.82 L337.80,358.98 L339.24,366.45 L329.96,366.45 L331.40,358.98 L331.64,353.82 L330.20,349.94 L331.16,347.35Z" fill="#7467b0" filter="url(#b0_5)"/><path d="M332.20,338.60 L337.00,338.60 L337.24,347.35 L338.20,349.94 L336.76,353.82 L337.00,358.98 L338.44,366.45 L330.76,366.45 L332.20,358.98 L332.44,353.82 L331.00,349.94 L331.96,347.35Z" fill="#3f007d"/></g><g clip-path="url(#ms15)"><rect x="279.70" y="363.30" width="144.80" height="32.32" fill="#008000"/><path d="M278.70,362.30 C282.02,362.30 293.45,362.30 298.60,362.30 C303.75,362.30 306.67,362.30 309.60,362.30 C312.53,362.30 314.00,362.30 316.20,362.30 C318.40,362.30 319.87,362.30 322.80,362.30 C325.73,362.30 316.68,362.30 333.80,362.30 C350.92,362.30 410.22,362.30 425.50,362.30 L425.50,375.42 C410.22,375.42 350.92,375.31 333.80,375.42 C316.68,375.53 325.73,375.90 322.80,376.05 C319.87,376.20 318.40,376.32 316.20,376.32 C314.00,376.32 312.53,376.20 309.60,376.05 C306.67,375.90 303.75,375.53 298.60,375.42 C293.45,375.31 282.02,375.42 278.70,375.42Z" fill="#7a3d02"/><path d="M278.70,375.42 C282.02,375.42 293.45,375.31 298.60,375.42 C303.75,375.53 306.67,375.90 309.60,376.05 C312.53,376.20 314.00,376.32 316.20,376.32 C318.40,376.32 319.87,376.20 322.80,376.05 C325.73,375.90 316.68,375.53 333.80,375.42 C350.92,375.31 410.22,375.42 425.50,375.42 L425.50,380.17 C410.22,380.17 350.92,380.03 333.80,380.17 C316.68,380.31 325.73,380.80 322.80,380.99 C319.87,381.19 318.40,381.35 316.20,381.35 C314.00,381.35 312.53,381.19 309.60,380.99 C306.67,380.80 303.75,380.31 298.60,380.17 C293.45,380.03 282.02,380.17 278.70,380.17Z" fill="#d99a12"/><path d="M278.70,365.89 C280.99,365.89 287.51,365.82 292.44,365.89 C297.37,365.95 304.82,366.17 308.28,366.27 C311.74,366.38 311.38,366.49 313.20,366.53 C315.02,366.58 317.38,366.58 319.20,366.53 C321.02,366.49 320.66,366.38 324.12,366.27 C327.58,366.17 323.06,365.95 339.96,365.89 C356.86,365.82 411.24,365.89 425.50,365.89" fill="none" stroke="#140a00" stroke-width="0.5" opacity="0.7"/><path d="M278.70,368.79 C280.99,368.79 287.51,368.73 292.44,368.79 C297.37,368.86 304.82,369.07 308.28,369.18 C311.74,369.29 311.38,369.40 313.20,369.44 C315.02,369.48 317.38,369.48 319.20,369.44 C321.02,369.40 320.66,369.29 324.12,369.18 C327.58,369.07 323.06,368.86 339.96,368.79 C356.86,368.73 411.24,368.79 425.50,368.79" fill="none" stroke="#140a00" stroke-width="0.5" opacity="0.7"/><path d="M278.70,371.70 C280.99,371.70 287.51,371.64 292.44,371.70 C297.37,371.77 304.82,371.98 308.28,372.09 C311.74,372.20 311.38,372.31 313.20,372.35 C315.02,372.39 317.38,372.39 319.20,372.35 C321.02,372.31 320.66,372.20 324.12,372.09 C327.58,371.98 323.06,371.77 339.96,371.70 C356.86,371.64 411.24,371.70 425.50,371.70" fill="none" stroke="#140a00" stroke-width="0.5" opacity="0.7"/><path d="M278.70,373.97 C280.74,373.97 286.11,373.89 290.95,373.97 C295.80,374.05 304.08,374.31 307.78,374.45 C311.49,374.58 311.30,374.71 313.20,374.77 C315.10,374.82 317.30,374.82 319.20,374.77 C321.10,374.71 320.91,374.58 324.62,374.45 C328.32,374.31 324.63,374.05 341.44,373.97 C358.26,373.89 411.49,373.97 425.50,373.97" fill="none" stroke="#140a00" stroke-width="0.5" opacity="0.7"/><path d="M278.70,377.84 C279.75,377.84 280.50,377.70 285.01,377.84 C289.53,377.99 301.11,378.46 305.81,378.70 C310.50,378.93 310.97,379.17 313.20,379.27 C315.43,379.36 316.97,379.36 319.20,379.27 C321.43,379.17 321.90,378.93 326.59,378.70 C331.29,378.46 330.90,377.99 347.38,377.84 C363.87,377.70 412.48,377.84 425.50,377.84" fill="none" stroke="#140a00" stroke-width="0.5" opacity="0.7"/><path d="M278.70,383.66 C278.27,383.66 272.08,383.43 276.11,383.66 C280.13,383.90 296.65,384.68 302.83,385.07 C309.02,385.47 310.47,385.86 313.20,386.01 C315.93,386.17 316.47,386.17 319.20,386.01 C321.93,385.86 323.38,385.47 329.56,385.07 C335.75,384.68 340.31,383.90 356.29,383.66 C372.28,383.43 413.97,383.66 425.50,383.66" fill="none" stroke="#140a00" stroke-width="0.5" opacity="0.7"/><path d="M278.70,388.51 C277.03,388.51 265.07,388.20 268.68,388.51 C272.29,388.82 292.94,389.86 300.36,390.39 C307.78,390.91 310.06,391.43 313.20,391.64 C316.34,391.85 316.06,391.85 319.20,391.64 C322.34,391.43 324.62,390.91 332.04,390.39 C339.46,389.86 348.14,388.82 363.72,388.51 C379.30,388.20 415.20,388.51 425.50,388.51" fill="none" stroke="#140a00" stroke-width="0.5" opacity="0.7"/><path d="M278.70,392.71 C275.96,392.71 258.99,392.33 262.25,392.71 C265.50,393.09 289.72,394.36 298.21,394.99 C306.71,395.62 309.70,396.26 313.20,396.51 C316.70,396.76 315.70,396.76 319.20,396.51 C322.70,396.26 325.69,395.62 334.19,394.99 C342.68,394.36 354.94,393.09 370.15,392.71 C385.37,392.33 416.28,392.71 425.50,392.71" fill="none" stroke="#140a00" stroke-width="0.5" opacity="0.7"/><path d="M310.30,375.43 C310.30,374.97 311.06,374.18 312.04,373.73 C313.02,373.28 314.81,372.73 316.20,372.73 C317.59,372.73 319.38,373.28 320.36,373.73 C321.34,374.18 322.10,374.97 322.10,375.43 C322.10,375.90 321.34,376.22 320.36,376.53 C319.38,376.85 317.59,377.33 316.20,377.33 C314.81,377.33 313.02,376.85 312.04,376.53 C311.06,376.22 310.30,375.90 310.30,375.43Z" fill="#c8301e" filter="url(#b0_4)"/><ellipse cx="316.20" cy="373.97" rx="5.50" ry="3.88" fill="#e04a2a" filter="url(#b0_5)"/><ellipse cx="320.40" cy="372.35" rx="1.20" ry="1.94" fill="#5a8fd0" opacity="0.7" filter="url(#b0_3)"/><path d="M312.40,362.30 L320.00,362.30 L320.30,373.00 L321.50,376.23 L319.70,381.08 L320.00,387.54 L321.80,396.62 L310.60,396.62 L312.40,387.54 L312.70,381.08 L310.90,376.23 L312.10,373.00Z" fill="#7467b0" filter="url(#b0_5)"/><path d="M313.20,362.30 L319.20,362.30 L319.50,373.00 L320.70,376.23 L318.90,381.08 L319.20,387.54 L321.00,396.62 L311.40,396.62 L313.20,387.54 L313.50,381.08 L311.70,376.23 L312.90,373.00Z" fill="#3f007d"/></g><path d="M279.70,395.62 L279.70,363.30 L294.00,339.60 L304.10,320.70 L311.10,304.30 L315.90,292.40 L388.80,292.40 L393.60,304.30 L400.60,320.70 L409.80,339.60 L424.50,363.30 L424.50,395.62Z" fill="none" stroke="#000" stroke-width="1.4" stroke-linejoin="round"/><line x1="274.20" y1="372.80" x2="279.70" y2="372.80" stroke="#000" stroke-width="1"/><line x1="274.20" y1="382.50" x2="279.70" y2="382.50" stroke="#000" stroke-width="1"/><text x="273.20" y="385.40" font-size="9.5" text-anchor="end">-40</text><line x1="274.20" y1="391.70" x2="279.70" y2="391.70" stroke="#000" stroke-width="1"/><line x1="275.20" y1="360.70" x2="279.70" y2="363.30" stroke="#000" stroke-width="1"/><text x="273.70" y="360.90" font-size="9.5" text-anchor="end">100</text><line x1="289.50" y1="337.00" x2="294.00" y2="339.60" stroke="#000" stroke-width="1"/><text x="288.00" y="337.20" font-size="9.5" text-anchor="end">200</text><line x1="299.60" y1="318.10" x2="304.10" y2="320.70" stroke="#000" stroke-width="1"/><text x="298.10" y="318.30" font-size="9.5" text-anchor="end">300</text><line x1="306.60" y1="301.70" x2="311.10" y2="304.30" stroke="#000" stroke-width="1"/><text x="305.10" y="301.90" font-size="9.5" text-anchor="end">400</text><line x1="311.40" y1="289.80" x2="315.90" y2="292.40" stroke="#000" stroke-width="1"/><text x="309.90" y="290.00" font-size="9.5" text-anchor="end">500</text><line x1="279.70" y1="395.62" x2="279.70" y2="401.12" stroke="#000" stroke-width="1"/><text x="279.70" y="412.12" font-size="9.5" text-anchor="middle">300</text><line x1="327.97" y1="395.62" x2="327.97" y2="401.12" stroke="#000" stroke-width="1"/><text x="327.97" y="412.12" font-size="9.5" text-anchor="middle">200</text><line x1="376.23" y1="395.62" x2="376.23" y2="401.12" stroke="#000" stroke-width="1"/><text x="376.23" y="412.12" font-size="9.5" text-anchor="middle">100</text><line x1="424.50" y1="395.62" x2="424.50" y2="401.12" stroke="#000" stroke-width="1"/><text x="424.50" y="412.12" font-size="9.5" text-anchor="middle">0</text>
<g clip-path="url(#ms16)"><rect x="315.90" y="424.60" width="72.90" height="16.27" fill="#008000"/><path d="M314.90,423.60 C320.80,423.60 342.32,423.60 350.30,423.60 C358.28,423.60 359.47,423.60 362.80,423.60 C366.13,423.60 367.80,423.60 370.30,423.60 C372.80,423.60 374.47,423.60 377.80,423.60 C381.13,423.60 388.30,423.60 390.30,423.60 C392.30,423.60 389.88,423.60 389.80,423.60 L389.80,430.70 C389.88,430.70 392.30,430.64 390.30,430.70 C388.30,430.76 381.13,430.98 377.80,431.07 C374.47,431.15 372.80,431.22 370.30,431.22 C367.80,431.22 366.13,431.15 362.80,431.07 C359.47,430.98 358.28,430.76 350.30,430.70 C342.32,430.64 320.80,430.70 314.90,430.70Z" fill="#7a3d02"/><path d="M314.90,430.70 C320.80,430.70 342.32,430.64 350.30,430.70 C358.28,430.76 359.47,430.98 362.80,431.07 C366.13,431.15 367.80,431.22 370.30,431.22 C372.80,431.22 374.47,431.15 377.80,431.07 C381.13,430.98 388.30,430.76 390.30,430.70 C392.30,430.64 389.88,430.70 389.80,430.70 L389.80,433.09 C389.88,433.09 392.30,433.01 390.30,433.09 C388.30,433.17 381.13,433.45 377.80,433.57 C374.47,433.68 372.80,433.77 370.30,433.77 C367.80,433.77 366.13,433.68 362.80,433.57 C359.47,433.45 358.28,433.17 350.30,433.09 C342.32,433.01 320.80,433.09 314.90,433.09Z" fill="#d99a12"/><path d="M314.90,425.90 C319.63,425.90 335.57,425.87 343.30,425.90 C351.03,425.93 357.10,426.04 361.30,426.10 C365.50,426.15 366.70,426.21 368.50,426.23 C370.30,426.25 370.30,426.25 372.10,426.23 C373.90,426.21 375.10,426.15 379.30,426.10 C383.50,426.04 395.55,425.93 397.30,425.90 C399.05,425.87 391.05,425.90 389.80,425.90" fill="none" stroke="#140a00" stroke-width="0.5" opacity="0.7"/><path d="M314.90,427.37 C319.63,427.37 335.57,427.33 343.30,427.37 C351.03,427.40 357.10,427.51 361.30,427.56 C365.50,427.62 366.70,427.67 368.50,427.69 C370.30,427.71 370.30,427.71 372.10,427.69 C373.90,427.67 375.10,427.62 379.30,427.56 C383.50,427.51 395.55,427.40 397.30,427.37 C399.05,427.33 391.05,427.37 389.80,427.37" fill="none" stroke="#140a00" stroke-width="0.5" opacity="0.7"/><path d="M314.90,428.83 C319.63,428.83 335.57,428.80 343.30,428.83 C351.03,428.86 357.10,428.97 361.30,429.03 C365.50,429.08 366.70,429.13 368.50,429.16 C370.30,429.18 370.30,429.18 372.10,429.16 C373.90,429.13 375.10,429.08 379.30,429.03 C383.50,428.97 395.55,428.86 397.30,428.83 C399.05,428.80 391.05,428.83 389.80,428.83" fill="none" stroke="#140a00" stroke-width="0.5" opacity="0.7"/><path d="M314.90,429.97 C319.35,429.97 333.97,429.93 341.61,429.97 C349.25,430.01 356.26,430.14 360.74,430.21 C365.22,430.28 366.61,430.35 368.50,430.37 C370.39,430.40 370.21,430.40 372.10,430.37 C373.99,430.35 375.38,430.28 379.86,430.21 C384.34,430.14 397.33,430.01 398.99,429.97 C400.64,429.93 391.33,429.97 389.80,429.97" fill="none" stroke="#140a00" stroke-width="0.5" opacity="0.7"/><path d="M314.90,431.92 C318.23,431.92 327.60,431.85 334.86,431.92 C342.13,431.99 352.88,432.23 358.49,432.35 C364.09,432.47 366.23,432.59 368.50,432.64 C370.77,432.69 369.83,432.69 372.10,432.64 C374.37,432.59 376.51,432.47 382.11,432.35 C387.72,432.23 404.46,431.99 405.74,431.92 C407.02,431.85 392.46,431.92 389.80,431.92" fill="none" stroke="#140a00" stroke-width="0.5" opacity="0.7"/><path d="M314.90,434.85 C316.54,434.85 318.04,434.73 324.74,434.85 C331.44,434.97 347.82,435.36 355.11,435.56 C362.41,435.76 365.67,435.96 368.50,436.04 C371.33,436.11 369.27,436.11 372.10,436.04 C374.93,435.96 378.19,435.76 385.49,435.56 C392.78,435.36 415.14,434.97 415.86,434.85 C416.58,434.73 394.14,434.85 389.80,434.85" fill="none" stroke="#140a00" stroke-width="0.5" opacity="0.7"/><path d="M314.90,437.29 C315.13,437.29 310.07,437.13 316.30,437.29 C322.53,437.45 343.60,437.97 352.30,438.24 C361.00,438.50 365.20,438.76 368.50,438.87 C371.80,438.97 368.80,438.97 372.10,438.87 C375.40,438.76 379.60,438.50 388.30,438.24 C397.00,437.97 424.05,437.45 424.30,437.29 C424.55,437.13 395.55,437.29 389.80,437.29" fill="none" stroke="#140a00" stroke-width="0.5" opacity="0.7"/><path d="M314.90,439.41 C313.91,439.41 303.16,439.22 308.99,439.41 C314.81,439.60 339.94,440.24 349.86,440.55 C359.78,440.87 364.79,441.19 368.50,441.32 C372.21,441.45 368.39,441.45 372.10,441.32 C375.81,441.19 380.82,440.87 390.74,440.55 C400.66,440.24 431.77,439.60 431.61,439.41 C431.46,439.22 396.77,439.41 389.80,439.41" fill="none" stroke="#140a00" stroke-width="0.5" opacity="0.7"/><path d="M365.58,430.96 C365.58,430.49 366.55,429.71 367.33,429.26 C368.12,428.81 369.31,428.26 370.30,428.26 C371.29,428.26 372.48,428.81 373.27,429.26 C374.05,429.71 375.02,430.49 375.02,430.96 C375.02,431.42 374.05,431.74 373.27,432.06 C372.48,432.37 371.29,432.86 370.30,432.86 C369.31,432.86 368.12,432.37 367.33,432.06 C366.55,431.74 365.58,431.42 365.58,430.96Z" fill="#c8301e" filter="url(#b0_4)"/><ellipse cx="370.30" cy="429.97" rx="4.30" ry="1.95" fill="#e04a2a" filter="url(#b0_5)"/><ellipse cx="373.30" cy="429.16" rx="1.20" ry="0.98" fill="#5a8fd0" opacity="0.7" filter="url(#b0_3)"/><path d="M367.70,423.60 L372.90,423.60 L373.08,429.48 L373.80,431.11 L372.72,433.55 L372.90,436.80 L373.98,441.87 L366.62,441.87 L367.70,436.80 L367.88,433.55 L366.80,431.11 L367.52,429.48Z" fill="#7467b0" filter="url(#b0_5)"/><path d="M368.50,423.60 L372.10,423.60 L372.28,429.48 L373.00,431.11 L371.92,433.55 L372.10,436.80 L373.18,441.87 L367.42,441.87 L368.50,436.80 L368.68,433.55 L367.60,431.11 L368.32,429.48Z" fill="#3f007d"/></g><g clip-path="url(#ms17)"><rect x="311.10" y="436.50" width="82.50" height="18.41" fill="#008000"/><path d="M310.10,435.50 C315.95,435.50 337.27,435.50 345.20,435.50 C353.13,435.50 354.37,435.50 357.70,435.50 C361.03,435.50 362.70,435.50 365.20,435.50 C367.70,435.50 369.37,435.50 372.70,435.50 C376.03,435.50 381.55,435.50 385.20,435.50 C388.85,435.50 393.03,435.50 394.60,435.50 L394.60,443.41 C393.03,443.41 388.85,443.34 385.20,443.41 C381.55,443.47 376.03,443.72 372.70,443.82 C369.37,443.92 367.70,443.99 365.20,443.99 C362.70,443.99 361.03,443.92 357.70,443.82 C354.37,443.72 353.13,443.47 345.20,443.41 C337.27,443.34 315.95,443.41 310.10,443.41Z" fill="#7a3d02"/><path d="M310.10,443.41 C315.95,443.41 337.27,443.34 345.20,443.41 C353.13,443.47 354.37,443.72 357.70,443.82 C361.03,443.92 362.70,443.99 365.20,443.99 C367.70,443.99 369.37,443.92 372.70,443.82 C376.03,443.72 381.55,443.47 385.20,443.41 C388.85,443.34 393.03,443.41 394.60,443.41 L394.60,446.11 C393.03,446.11 388.85,446.02 385.20,446.11 C381.55,446.20 376.03,446.52 372.70,446.65 C369.37,446.78 367.70,446.88 365.20,446.88 C362.70,446.88 361.03,446.78 357.70,446.65 C354.37,446.52 353.13,446.20 345.20,446.11 C337.27,446.02 315.95,446.11 310.10,446.11Z" fill="#d99a12"/><path d="M310.10,437.97 C314.78,437.97 330.52,437.94 338.20,437.97 C345.88,438.01 352.05,438.13 356.20,438.19 C360.35,438.26 361.25,438.32 363.10,438.34 C364.95,438.37 365.45,438.37 367.30,438.34 C369.15,438.32 370.05,438.26 374.20,438.19 C378.35,438.13 388.80,438.01 392.20,437.97 C395.60,437.94 394.20,437.97 394.60,437.97" fill="none" stroke="#140a00" stroke-width="0.5" opacity="0.7"/><path d="M310.10,439.63 C314.78,439.63 330.52,439.59 338.20,439.63 C345.88,439.67 352.05,439.79 356.20,439.85 C360.35,439.91 361.25,439.97 363.10,440.00 C364.95,440.02 365.45,440.02 367.30,440.00 C369.15,439.97 370.05,439.91 374.20,439.85 C378.35,439.79 388.80,439.67 392.20,439.63 C395.60,439.59 394.20,439.63 394.60,439.63" fill="none" stroke="#140a00" stroke-width="0.5" opacity="0.7"/><path d="M310.10,441.29 C314.78,441.29 330.52,441.25 338.20,441.29 C345.88,441.32 352.05,441.45 356.20,441.51 C360.35,441.57 361.25,441.63 363.10,441.66 C364.95,441.68 365.45,441.68 367.30,441.66 C369.15,441.63 370.05,441.57 374.20,441.51 C378.35,441.45 388.80,441.32 392.20,441.29 C395.60,441.25 394.20,441.29 394.60,441.29" fill="none" stroke="#140a00" stroke-width="0.5" opacity="0.7"/><path d="M310.10,442.58 C314.50,442.58 328.92,442.53 336.51,442.58 C344.10,442.62 351.21,442.77 355.64,442.85 C360.07,442.93 361.16,443.00 363.10,443.03 C365.04,443.06 365.36,443.06 367.30,443.03 C369.24,443.00 370.33,442.93 374.76,442.85 C379.19,442.77 390.58,442.62 393.89,442.58 C397.19,442.53 394.48,442.58 394.60,442.58" fill="none" stroke="#140a00" stroke-width="0.5" opacity="0.7"/><path d="M310.10,444.79 C313.38,444.79 322.55,444.71 329.76,444.79 C336.98,444.87 347.83,445.14 353.39,445.27 C358.94,445.41 360.78,445.54 363.10,445.60 C365.42,445.65 364.98,445.65 367.30,445.60 C369.62,445.54 371.46,445.41 377.01,445.27 C382.57,445.14 397.71,444.87 400.64,444.79 C403.57,444.71 395.61,444.79 394.60,444.79" fill="none" stroke="#140a00" stroke-width="0.5" opacity="0.7"/><path d="M310.10,448.10 C311.69,448.10 312.99,447.97 319.64,448.10 C326.29,448.23 342.77,448.68 350.01,448.91 C357.26,449.13 360.22,449.35 363.10,449.44 C365.98,449.53 364.42,449.53 367.30,449.44 C370.18,449.35 373.14,449.13 380.39,448.91 C387.63,448.68 408.39,448.23 410.76,448.10 C413.13,447.97 397.29,448.10 394.60,448.10" fill="none" stroke="#140a00" stroke-width="0.5" opacity="0.7"/><path d="M310.10,450.86 C310.28,450.86 305.02,450.68 311.20,450.86 C317.38,451.04 338.55,451.64 347.20,451.93 C355.85,452.23 359.75,452.53 363.10,452.65 C366.45,452.76 363.95,452.76 367.30,452.65 C370.65,452.53 374.55,452.23 383.20,451.93 C391.85,451.64 417.30,451.04 419.20,450.86 C421.10,450.68 398.70,450.86 394.60,450.86" fill="none" stroke="#140a00" stroke-width="0.5" opacity="0.7"/><path d="M310.10,453.26 C309.06,453.26 298.11,453.04 303.89,453.26 C309.66,453.47 334.89,454.20 344.76,454.56 C354.63,454.92 359.34,455.28 363.10,455.42 C366.86,455.57 363.54,455.57 367.30,455.42 C371.06,455.28 375.77,454.92 385.64,454.56 C395.51,454.20 425.02,453.47 426.51,453.26 C428.01,453.04 399.92,453.26 394.60,453.26" fill="none" stroke="#140a00" stroke-width="0.5" opacity="0.7"/><path d="M358.97,443.63 C358.97,443.16 360.41,442.38 361.45,441.93 C362.49,441.48 363.95,440.93 365.20,440.93 C366.45,440.93 367.91,441.48 368.95,441.93 C369.99,442.38 371.43,443.16 371.43,443.63 C371.43,444.10 369.99,444.41 368.95,444.73 C367.91,445.05 366.45,445.53 365.20,445.53 C363.95,445.53 362.49,445.05 361.45,444.73 C360.41,444.41 358.97,444.10 358.97,443.63Z" fill="#c8301e" filter="url(#b0_4)"/><ellipse cx="365.20" cy="442.58" rx="4.60" ry="2.21" fill="#e04a2a" filter="url(#b0_5)"/><ellipse cx="368.50" cy="441.66" rx="1.20" ry="1.10" fill="#5a8fd0" opacity="0.7" filter="url(#b0_3)"/><path d="M362.30,435.50 L368.10,435.50 L368.31,442.02 L369.15,443.87 L367.89,446.63 L368.10,450.31 L369.36,455.91 L361.04,455.91 L362.30,450.31 L362.51,446.63 L361.25,443.87 L362.09,442.02Z" fill="#7467b0" filter="url(#b0_5)"/><path d="M363.10,435.50 L367.30,435.50 L367.51,442.02 L368.35,443.87 L367.09,446.63 L367.30,450.31 L368.56,455.91 L361.84,455.91 L363.10,450.31 L363.31,446.63 L362.05,443.87 L362.89,442.02Z" fill="#3f007d"/></g><g clip-path="url(#ms18)"><rect x="304.10" y="452.90" width="96.50" height="21.54" fill="#008000"/><path d="M303.10,451.90 C307.95,451.90 325.27,451.90 332.20,451.90 C339.13,451.90 341.37,451.90 344.70,451.90 C348.03,451.90 349.70,451.90 352.20,451.90 C354.70,451.90 356.37,451.90 359.70,451.90 C363.03,451.90 365.22,451.90 372.20,451.90 C379.18,451.90 396.70,451.90 401.60,451.90 L401.60,460.98 C396.70,460.98 379.18,460.90 372.20,460.98 C365.22,461.06 363.03,461.34 359.70,461.46 C356.37,461.57 354.70,461.67 352.20,461.67 C349.70,461.67 348.03,461.57 344.70,461.46 C341.37,461.34 339.13,461.06 332.20,460.98 C325.27,460.90 307.95,460.98 303.10,460.98Z" fill="#7a3d02"/><path d="M303.10,460.98 C307.95,460.98 325.27,460.90 332.20,460.98 C339.13,461.06 341.37,461.34 344.70,461.46 C348.03,461.57 349.70,461.67 352.20,461.67 C354.70,461.67 356.37,461.57 359.70,461.46 C363.03,461.34 365.22,461.06 372.20,460.98 C379.18,460.90 396.70,460.98 401.60,460.98 L401.60,464.14 C396.70,464.14 379.18,464.04 372.20,464.14 C365.22,464.25 363.03,464.62 359.70,464.77 C356.37,464.92 354.70,465.04 352.20,465.04 C349.70,465.04 348.03,464.92 344.70,464.77 C341.37,464.62 339.13,464.25 332.20,464.14 C325.27,464.04 307.95,464.14 303.10,464.14Z" fill="#d99a12"/><path d="M303.10,454.62 C306.78,454.62 318.52,454.58 325.20,454.62 C331.88,454.67 339.17,454.81 343.20,454.88 C347.23,454.95 347.43,455.03 349.40,455.05 C351.37,455.08 353.03,455.08 355.00,455.05 C356.97,455.03 357.17,454.95 361.20,454.88 C365.23,454.81 372.47,454.67 379.20,454.62 C385.93,454.58 397.87,454.62 401.60,454.62" fill="none" stroke="#140a00" stroke-width="0.5" opacity="0.7"/><path d="M303.10,456.56 C306.78,456.56 318.52,456.52 325.20,456.56 C331.88,456.60 339.17,456.75 343.20,456.82 C347.23,456.89 347.43,456.96 349.40,456.99 C351.37,457.02 353.03,457.02 355.00,456.99 C356.97,456.96 357.17,456.89 361.20,456.82 C365.23,456.75 372.47,456.60 379.20,456.56 C385.93,456.52 397.87,456.56 401.60,456.56" fill="none" stroke="#140a00" stroke-width="0.5" opacity="0.7"/><path d="M303.10,458.50 C306.78,458.50 318.52,458.46 325.20,458.50 C331.88,458.54 339.17,458.69 343.20,458.76 C347.23,458.83 347.43,458.90 349.40,458.93 C351.37,458.96 353.03,458.96 355.00,458.93 C356.97,458.90 357.17,458.83 361.20,458.76 C365.23,458.69 372.47,458.54 379.20,458.50 C385.93,458.46 397.87,458.50 401.60,458.50" fill="none" stroke="#140a00" stroke-width="0.5" opacity="0.7"/><path d="M303.10,460.01 C306.50,460.01 316.92,459.95 323.51,460.01 C330.10,460.06 338.32,460.24 342.64,460.33 C346.95,460.42 347.34,460.51 349.40,460.54 C351.46,460.58 352.94,460.58 355.00,460.54 C357.06,460.51 357.45,460.42 361.76,460.33 C366.08,460.24 374.25,460.06 380.89,460.01 C387.53,459.95 398.15,460.01 401.60,460.01" fill="none" stroke="#140a00" stroke-width="0.5" opacity="0.7"/><path d="M303.10,462.59 C305.38,462.59 310.55,462.50 316.76,462.59 C322.98,462.69 334.95,463.00 340.39,463.16 C345.83,463.32 346.96,463.48 349.40,463.54 C351.84,463.60 352.56,463.60 355.00,463.54 C357.44,463.48 358.57,463.32 364.01,463.16 C369.45,463.00 381.37,462.69 387.64,462.59 C393.90,462.50 399.27,462.59 401.60,462.59" fill="none" stroke="#140a00" stroke-width="0.5" opacity="0.7"/><path d="M303.10,466.47 C303.69,466.47 300.99,466.31 306.64,466.47 C312.29,466.63 329.89,467.15 337.01,467.41 C344.14,467.67 346.40,467.93 349.40,468.04 C352.40,468.14 352.00,468.14 355.00,468.04 C358.00,467.93 360.26,467.67 367.39,467.41 C374.51,467.15 392.06,466.63 397.76,466.47 C403.46,466.31 400.96,466.47 401.60,466.47" fill="none" stroke="#140a00" stroke-width="0.5" opacity="0.7"/><path d="M303.10,469.70 C302.28,469.70 293.02,469.49 298.20,469.70 C303.38,469.91 325.67,470.60 334.20,470.95 C342.73,471.30 345.93,471.65 349.40,471.79 C352.87,471.92 351.53,471.92 355.00,471.79 C358.47,471.65 361.67,471.30 370.20,470.95 C378.73,470.60 400.97,469.91 406.20,469.70 C411.43,469.49 402.37,469.70 401.60,469.70" fill="none" stroke="#140a00" stroke-width="0.5" opacity="0.7"/><path d="M303.10,472.50 C301.06,472.50 286.11,472.25 290.89,472.50 C295.66,472.75 322.01,473.60 331.76,474.02 C341.51,474.44 345.53,474.86 349.40,475.03 C353.27,475.20 351.13,475.20 355.00,475.03 C358.87,474.86 362.89,474.44 372.64,474.02 C382.39,473.60 408.69,472.75 413.51,472.50 C418.34,472.25 403.59,472.50 401.60,472.50" fill="none" stroke="#140a00" stroke-width="0.5" opacity="0.7"/><path d="M333.96,461.15 C333.96,460.69 340.18,459.90 343.22,459.45 C346.26,459.00 349.21,458.45 352.20,458.45 C355.19,458.45 358.14,459.00 361.18,459.45 C364.22,459.90 370.44,460.69 370.44,461.15 C370.44,461.62 364.22,461.94 361.18,462.25 C358.14,462.57 355.19,463.05 352.20,463.05 C349.21,463.05 346.26,462.57 343.22,462.25 C340.18,461.94 333.96,461.62 333.96,461.15Z" fill="#c8301e" filter="url(#b0_4)"/><path d="M337.05,457.65 C337.05,457.32 347.15,456.15 352.20,456.15 C357.25,456.15 367.35,457.32 367.35,457.65 C367.35,457.99 357.25,458.15 352.20,458.15 C347.15,458.15 337.05,457.99 337.05,457.65Z" fill="#e07030" opacity="0.8" filter="url(#b0_5)"/><ellipse cx="352.20" cy="460.01" rx="5.30" ry="2.58" fill="#e04a2a" filter="url(#b0_5)"/><ellipse cx="356.20" cy="458.93" rx="1.20" ry="1.29" fill="#5a8fd0" opacity="0.7" filter="url(#b0_3)"/><path d="M348.60,451.90 L355.80,451.90 L356.08,459.36 L357.20,461.52 L355.52,464.75 L355.80,469.05 L357.48,475.44 L346.92,475.44 L348.60,469.05 L348.88,464.75 L347.20,461.52 L348.32,459.36Z" fill="#7467b0" filter="url(#b0_5)"/><path d="M349.40,451.90 L355.00,451.90 L355.28,459.36 L356.40,461.52 L354.72,464.75 L355.00,469.05 L356.68,475.44 L347.72,475.44 L349.40,469.05 L349.68,464.75 L348.00,461.52 L349.12,459.36Z" fill="#3f007d"/><path d="M348.12,453.98 C348.80,452.36 355.60,452.36 356.28,453.98 C356.96,455.59 353.56,463.67 352.20,463.67 C350.84,463.67 347.44,455.59 348.12,453.98Z" fill="#b8a030" opacity="0.9"/><path d="M345.40,451.90 C345.63,453.14 345.86,457.04 346.76,459.36 C347.66,461.68 350.13,464.75 350.80,465.82" fill="none" stroke="#3f007d" stroke-width="1.4"/><path d="M359.00,451.90 C358.77,453.14 358.54,457.04 357.64,459.36 C356.74,461.68 354.27,464.75 353.60,465.82" fill="none" stroke="#3f007d" stroke-width="1.4"/><ellipse cx="352.20" cy="457.21" rx="1.20" ry="1.51" fill="#3a8a6a" opacity="0.8"/></g><g clip-path="url(#ms19)"><rect x="294.00" y="471.80" width="115.80" height="25.85" fill="#008000"/><path d="M293.00,470.80 C296.53,470.80 308.58,470.80 314.20,470.80 C319.82,470.80 323.37,470.80 326.70,470.80 C330.03,470.80 331.70,470.80 334.20,470.80 C336.70,470.80 338.37,470.80 341.70,470.80 C345.03,470.80 342.68,470.80 354.20,470.80 C365.72,470.80 401.37,470.80 410.80,470.80 L410.80,481.49 C401.37,481.49 365.72,481.40 354.20,481.49 C342.68,481.59 345.03,481.93 341.70,482.07 C338.37,482.21 336.70,482.32 334.20,482.32 C331.70,482.32 330.03,482.21 326.70,482.07 C323.37,481.93 319.82,481.59 314.20,481.49 C308.58,481.40 296.53,481.49 293.00,481.49Z" fill="#7a3d02"/><path d="M293.00,481.49 C296.53,481.49 308.58,481.40 314.20,481.49 C319.82,481.59 323.37,481.93 326.70,482.07 C330.03,482.21 331.70,482.32 334.20,482.32 C336.70,482.32 338.37,482.21 341.70,482.07 C345.03,481.93 342.68,481.59 354.20,481.49 C365.72,481.40 401.37,481.49 410.80,481.49 L410.80,485.29 C401.37,485.29 365.72,485.17 354.20,485.29 C342.68,485.42 345.03,485.87 341.70,486.04 C338.37,486.22 336.70,486.37 334.20,486.37 C331.70,486.37 330.03,486.22 326.70,486.04 C323.37,485.87 319.82,485.42 314.20,485.29 C308.58,485.17 296.53,485.29 293.00,485.29Z" fill="#d99a12"/><path d="M293.00,473.87 C295.37,473.87 301.83,473.82 307.20,473.87 C312.57,473.92 321.13,474.09 325.20,474.18 C329.27,474.26 329.67,474.35 331.60,474.38 C333.53,474.42 334.87,474.42 336.80,474.38 C338.73,474.35 339.13,474.26 343.20,474.18 C347.27,474.09 349.93,473.92 361.20,473.87 C372.47,473.82 402.53,473.87 410.80,473.87" fill="none" stroke="#140a00" stroke-width="0.5" opacity="0.7"/><path d="M293.00,476.19 C295.37,476.19 301.83,476.14 307.20,476.19 C312.57,476.25 321.13,476.42 325.20,476.50 C329.27,476.59 329.67,476.68 331.60,476.71 C333.53,476.75 334.87,476.75 336.80,476.71 C338.73,476.68 339.13,476.59 343.20,476.50 C347.27,476.42 349.93,476.25 361.20,476.19 C372.47,476.14 402.53,476.19 410.80,476.19" fill="none" stroke="#140a00" stroke-width="0.5" opacity="0.7"/><path d="M293.00,478.52 C295.37,478.52 301.83,478.47 307.20,478.52 C312.57,478.57 321.13,478.74 325.20,478.83 C329.27,478.92 329.67,479.00 331.60,479.04 C333.53,479.07 334.87,479.07 336.80,479.04 C338.73,479.00 339.13,478.92 343.20,478.83 C347.27,478.74 349.93,478.57 361.20,478.52 C372.47,478.47 402.53,478.52 410.80,478.52" fill="none" stroke="#140a00" stroke-width="0.5" opacity="0.7"/><path d="M293.00,480.33 C295.09,480.33 300.24,480.27 305.51,480.33 C310.79,480.39 320.29,480.61 324.64,480.71 C328.99,480.82 329.57,480.93 331.60,480.97 C333.63,481.01 334.77,481.01 336.80,480.97 C338.83,480.93 339.41,480.82 343.76,480.71 C348.11,480.61 351.71,480.39 362.89,480.33 C374.06,480.27 402.81,480.33 410.80,480.33" fill="none" stroke="#140a00" stroke-width="0.5" opacity="0.7"/><path d="M293.00,483.43 C293.96,483.43 293.86,483.32 298.76,483.43 C303.66,483.54 316.91,483.92 322.39,484.11 C327.86,484.30 329.20,484.49 331.60,484.57 C334.00,484.64 334.40,484.64 336.80,484.57 C339.20,484.49 340.54,484.30 346.01,484.11 C351.49,483.92 358.84,483.54 369.64,483.43 C380.44,483.32 403.94,483.43 410.80,483.43" fill="none" stroke="#140a00" stroke-width="0.5" opacity="0.7"/><path d="M293.00,488.08 C292.27,488.08 284.30,487.90 288.64,488.08 C292.97,488.27 311.85,488.90 319.01,489.21 C326.17,489.53 328.64,489.84 331.60,489.96 C334.56,490.09 333.84,490.09 336.80,489.96 C339.76,489.84 342.23,489.53 349.39,489.21 C356.55,488.90 369.53,488.27 379.76,488.08 C390.00,487.90 405.63,488.08 410.80,488.08" fill="none" stroke="#140a00" stroke-width="0.5" opacity="0.7"/><path d="M293.00,491.96 C290.87,491.96 276.33,491.71 280.20,491.96 C284.07,492.21 307.63,493.04 316.20,493.46 C324.77,493.88 328.17,494.30 331.60,494.46 C335.03,494.63 333.37,494.63 336.80,494.46 C340.23,494.30 343.63,493.88 352.20,493.46 C360.77,493.04 378.43,492.21 388.20,491.96 C397.97,491.71 407.03,491.96 410.80,491.96" fill="none" stroke="#140a00" stroke-width="0.5" opacity="0.7"/><path d="M293.00,495.32 C289.65,495.32 269.43,495.02 272.89,495.32 C276.35,495.62 303.98,496.64 313.76,497.14 C323.55,497.65 327.76,498.16 331.60,498.36 C335.44,498.56 332.96,498.56 336.80,498.36 C340.64,498.16 344.85,497.65 354.64,497.14 C364.42,496.64 386.15,495.62 395.51,495.32 C404.87,495.02 408.25,495.32 410.80,495.32" fill="none" stroke="#140a00" stroke-width="0.5" opacity="0.7"/><path d="M322.34,481.60 C322.34,481.14 325.92,480.35 327.89,479.90 C329.87,479.45 332.10,478.90 334.20,478.90 C336.30,478.90 338.53,479.45 340.51,479.90 C342.48,480.35 346.06,481.14 346.06,481.60 C346.06,482.07 342.48,482.39 340.51,482.70 C338.53,483.02 336.30,483.50 334.20,483.50 C332.10,483.50 329.87,483.02 327.89,482.70 C325.92,482.39 322.34,482.07 322.34,481.60Z" fill="#c8301e" filter="url(#b0_4)"/><path d="M324.19,478.10 C324.19,477.77 330.86,476.60 334.20,476.60 C337.54,476.60 344.21,477.77 344.21,478.10 C344.21,478.44 337.54,478.60 334.20,478.60 C330.86,478.60 324.19,478.44 324.19,478.10Z" fill="#e07030" opacity="0.8" filter="url(#b0_5)"/><ellipse cx="334.20" cy="480.33" rx="5.10" ry="3.10" fill="#e04a2a" filter="url(#b0_5)"/><ellipse cx="338.00" cy="479.04" rx="1.20" ry="1.55" fill="#5a8fd0" opacity="0.7" filter="url(#b0_3)"/><path d="M330.80,470.80 L337.60,470.80 L337.86,479.55 L338.90,482.14 L337.34,486.02 L337.60,491.18 L339.16,498.65 L329.24,498.65 L330.80,491.18 L331.06,486.02 L329.50,482.14 L330.54,479.55Z" fill="#7467b0" filter="url(#b0_5)"/><path d="M331.60,470.80 L336.80,470.80 L337.06,479.55 L338.10,482.14 L336.54,486.02 L336.80,491.18 L338.36,498.65 L330.04,498.65 L331.60,491.18 L331.86,486.02 L330.30,482.14 L331.34,479.55Z" fill="#3f007d"/></g><g clip-path="url(#ms20)"><rect x="279.70" y="495.50" width="144.80" height="32.32" fill="#008000"/><path d="M278.70,494.50 C281.58,494.50 291.03,494.50 296.00,494.50 C300.97,494.50 305.17,494.50 308.50,494.50 C311.83,494.50 313.50,494.50 316.00,494.50 C318.50,494.50 320.17,494.50 323.50,494.50 C326.83,494.50 319.00,494.50 336.00,494.50 C353.00,494.50 410.58,494.50 425.50,494.50 L425.50,507.62 C410.58,507.62 353.00,507.50 336.00,507.62 C319.00,507.74 326.83,508.17 323.50,508.34 C320.17,508.52 318.50,508.65 316.00,508.65 C313.50,508.65 311.83,508.52 308.50,508.34 C305.17,508.17 300.97,507.74 296.00,507.62 C291.03,507.50 281.58,507.62 278.70,507.62Z" fill="#7a3d02"/><path d="M278.70,507.62 C281.58,507.62 291.03,507.50 296.00,507.62 C300.97,507.74 305.17,508.17 308.50,508.34 C311.83,508.52 313.50,508.65 316.00,508.65 C318.50,508.65 320.17,508.52 323.50,508.34 C326.83,508.17 319.00,507.74 336.00,507.62 C353.00,507.50 410.58,507.62 425.50,507.62 L425.50,512.37 C410.58,512.37 353.00,512.21 336.00,512.37 C319.00,512.53 326.83,513.09 323.50,513.31 C320.17,513.54 318.50,513.72 316.00,513.72 C313.50,513.72 311.83,513.54 308.50,513.31 C305.17,513.09 300.97,512.53 296.00,512.37 C291.03,512.21 281.58,512.37 278.70,512.37Z" fill="#d99a12"/><path d="M278.70,498.09 C280.42,498.09 284.28,498.02 289.00,498.09 C293.72,498.15 303.02,498.37 307.00,498.47 C310.98,498.58 310.88,498.69 312.90,498.73 C314.92,498.78 317.08,498.78 319.10,498.73 C321.12,498.69 321.02,498.58 325.00,498.47 C328.98,498.37 326.25,498.15 343.00,498.09 C359.75,498.02 411.75,498.09 425.50,498.09" fill="none" stroke="#140a00" stroke-width="0.5" opacity="0.7"/><path d="M278.70,500.99 C280.42,500.99 284.28,500.93 289.00,500.99 C293.72,501.06 303.02,501.27 307.00,501.38 C310.98,501.49 310.88,501.60 312.90,501.64 C314.92,501.68 317.08,501.68 319.10,501.64 C321.12,501.60 321.02,501.49 325.00,501.38 C328.98,501.27 326.25,501.06 343.00,500.99 C359.75,500.93 411.75,500.99 425.50,500.99" fill="none" stroke="#140a00" stroke-width="0.5" opacity="0.7"/><path d="M278.70,503.90 C280.42,503.90 284.28,503.84 289.00,503.90 C293.72,503.97 303.02,504.18 307.00,504.29 C310.98,504.40 310.88,504.51 312.90,504.55 C314.92,504.59 317.08,504.59 319.10,504.55 C321.12,504.51 321.02,504.40 325.00,504.29 C328.98,504.18 326.25,503.97 343.00,503.90 C359.75,503.84 411.75,503.90 425.50,503.90" fill="none" stroke="#140a00" stroke-width="0.5" opacity="0.7"/><path d="M278.70,506.17 C280.14,506.17 282.69,506.09 287.31,506.17 C291.94,506.25 302.17,506.51 306.44,506.65 C310.70,506.78 310.79,506.91 312.90,506.97 C315.01,507.02 316.99,507.02 319.10,506.97 C321.21,506.91 321.30,506.78 325.56,506.65 C329.83,506.51 328.03,506.25 344.69,506.17 C361.34,506.09 412.03,506.17 425.50,506.17" fill="none" stroke="#140a00" stroke-width="0.5" opacity="0.7"/><path d="M278.70,510.04 C279.01,510.04 276.31,509.90 280.56,510.04 C284.81,510.19 298.80,510.66 304.19,510.90 C309.58,511.13 310.41,511.37 312.90,511.47 C315.39,511.56 316.61,511.56 319.10,511.47 C321.59,511.37 322.42,511.13 327.81,510.90 C333.20,510.66 335.16,510.19 351.44,510.04 C367.72,509.90 413.16,510.04 425.50,510.04" fill="none" stroke="#140a00" stroke-width="0.5" opacity="0.7"/><path d="M278.70,515.86 C277.32,515.86 266.75,515.63 270.44,515.86 C274.12,516.10 293.74,516.88 300.81,517.27 C307.89,517.67 309.85,518.06 312.90,518.21 C315.95,518.37 316.05,518.37 319.10,518.21 C322.15,518.06 324.11,517.67 331.19,517.27 C338.26,516.88 345.84,516.10 361.56,515.86 C377.28,515.63 414.84,515.86 425.50,515.86" fill="none" stroke="#140a00" stroke-width="0.5" opacity="0.7"/><path d="M278.70,520.71 C275.92,520.71 258.78,520.40 262.00,520.71 C265.22,521.02 289.52,522.06 298.00,522.59 C306.48,523.11 309.38,523.63 312.90,523.84 C316.42,524.05 315.58,524.05 319.10,523.84 C322.62,523.63 325.52,523.11 334.00,522.59 C342.48,522.06 354.75,521.02 370.00,520.71 C385.25,520.40 416.25,520.71 425.50,520.71" fill="none" stroke="#140a00" stroke-width="0.5" opacity="0.7"/><path d="M278.70,524.91 C274.70,524.91 251.88,524.53 254.69,524.91 C257.50,525.29 285.86,526.56 295.56,527.19 C305.26,527.82 308.98,528.46 312.90,528.71 C316.82,528.96 315.18,528.96 319.10,528.71 C323.02,528.46 326.74,527.82 336.44,527.19 C346.14,526.56 362.47,525.29 377.31,524.91 C392.16,524.53 417.47,524.91 425.50,524.91" fill="none" stroke="#140a00" stroke-width="0.5" opacity="0.7"/><path d="M308.56,507.63 C308.56,507.17 309.92,506.38 311.16,505.93 C312.40,505.48 314.39,504.93 316.00,504.93 C317.61,504.93 319.60,505.48 320.84,505.93 C322.08,506.38 323.44,507.17 323.44,507.63 C323.44,508.10 322.08,508.42 320.84,508.73 C319.60,509.05 317.61,509.53 316.00,509.53 C314.39,509.53 312.40,509.05 311.16,508.73 C309.92,508.42 308.56,508.10 308.56,507.63Z" fill="#c8301e" filter="url(#b0_4)"/><ellipse cx="316.00" cy="506.17" rx="5.60" ry="3.88" fill="#e04a2a" filter="url(#b0_5)"/><ellipse cx="320.30" cy="504.55" rx="1.20" ry="1.94" fill="#5a8fd0" opacity="0.7" filter="url(#b0_3)"/><path d="M312.10,494.50 L319.90,494.50 L320.21,505.20 L321.45,508.43 L319.59,513.28 L319.90,519.74 L321.76,528.82 L310.24,528.82 L312.10,519.74 L312.41,513.28 L310.55,508.43 L311.79,505.20Z" fill="#7467b0" filter="url(#b0_5)"/><path d="M312.90,494.50 L319.10,494.50 L319.41,505.20 L320.65,508.43 L318.79,513.28 L319.10,519.74 L320.96,528.82 L311.04,528.82 L312.90,519.74 L313.21,513.28 L311.35,508.43 L312.59,505.20Z" fill="#3f007d"/></g><path d="M279.70,527.82 L279.70,495.50 L294.00,471.80 L304.10,452.90 L311.10,436.50 L315.90,424.60 L388.80,424.60 L393.60,436.50 L400.60,452.90 L409.80,471.80 L424.50,495.50 L424.50,527.82Z" fill="none" stroke="#000" stroke-width="1.4" stroke-linejoin="round"/><line x1="274.20" y1="505.00" x2="279.70" y2="505.00" stroke="#000" stroke-width="1"/><line x1="274.20" y1="514.70" x2="279.70" y2="514.70" stroke="#000" stroke-width="1"/><text x="273.20" y="517.60" font-size="9.5" text-anchor="end">-40</text><line x1="274.20" y1="523.90" x2="279.70" y2="523.90" stroke="#000" stroke-width="1"/><line x1="275.20" y1="492.90" x2="279.70" y2="495.50" stroke="#000" stroke-width="1"/><text x="273.70" y="493.10" font-size="9.5" text-anchor="end">100</text><line x1="289.50" y1="469.20" x2="294.00" y2="471.80" stroke="#000" stroke-width="1"/><text x="288.00" y="469.40" font-size="9.5" text-anchor="end">200</text><line x1="299.60" y1="450.30" x2="304.10" y2="452.90" stroke="#000" stroke-width="1"/><text x="298.10" y="450.50" font-size="9.5" text-anchor="end">300</text><line x1="306.60" y1="433.90" x2="311.10" y2="436.50" stroke="#000" stroke-width="1"/><text x="305.10" y="434.10" font-size="9.5" text-anchor="end">400</text><line x1="311.40" y1="422.00" x2="315.90" y2="424.60" stroke="#000" stroke-width="1"/><text x="309.90" y="422.20" font-size="9.5" text-anchor="end">500</text><line x1="279.70" y1="527.82" x2="279.70" y2="533.32" stroke="#000" stroke-width="1"/><text x="279.70" y="544.32" font-size="9.5" text-anchor="middle">300</text><line x1="327.97" y1="527.82" x2="327.97" y2="533.32" stroke="#000" stroke-width="1"/><text x="327.97" y="544.32" font-size="9.5" text-anchor="middle">200</text><line x1="376.23" y1="527.82" x2="376.23" y2="533.32" stroke="#000" stroke-width="1"/><text x="376.23" y="544.32" font-size="9.5" text-anchor="middle">100</text><line x1="424.50" y1="527.82" x2="424.50" y2="533.32" stroke="#000" stroke-width="1"/><text x="424.50" y="544.32" font-size="9.5" text-anchor="middle">0</text>
<g clip-path="url(#ms21)"><rect x="315.90" y="556.80" width="72.90" height="16.27" fill="#008000"/><path d="M314.90,555.80 C320.32,555.80 339.65,555.80 347.40,555.80 C355.15,555.80 357.67,555.80 361.40,555.80 C365.13,555.80 367.00,555.80 369.80,555.80 C372.60,555.80 374.47,555.80 378.20,555.80 C381.93,555.80 390.27,555.80 392.20,555.80 C394.13,555.80 390.20,555.80 389.80,555.80 L389.80,562.90 C390.20,562.90 394.13,562.83 392.20,562.90 C390.27,562.97 381.93,563.21 378.20,563.31 C374.47,563.41 372.60,563.49 369.80,563.49 C367.00,563.49 365.13,563.41 361.40,563.31 C357.67,563.21 355.15,562.97 347.40,562.90 C339.65,562.83 320.32,562.90 314.90,562.90Z" fill="#7a3d02"/><path d="M314.90,562.90 C320.32,562.90 339.65,562.83 347.40,562.90 C355.15,562.97 357.67,563.21 361.40,563.31 C365.13,563.41 367.00,563.49 369.80,563.49 C372.60,563.49 374.47,563.41 378.20,563.31 C381.93,563.21 390.27,562.97 392.20,562.90 C394.13,562.83 390.20,562.90 389.80,562.90 L389.80,565.29 C390.20,565.29 394.13,565.20 392.20,565.29 C390.27,565.38 381.93,565.70 378.20,565.83 C374.47,565.95 372.60,566.06 369.80,566.06 C367.00,566.06 365.13,565.95 361.40,565.83 C357.67,565.70 355.15,565.38 347.40,565.29 C339.65,565.20 320.32,565.29 314.90,565.29Z" fill="#d99a12"/><path d="M314.90,558.10 C319.01,558.10 332.09,558.07 339.56,558.10 C347.03,558.13 355.00,558.24 359.72,558.30 C364.44,558.35 365.90,558.41 367.90,558.43 C369.90,558.45 369.70,558.45 371.70,558.43 C373.70,558.41 375.16,558.35 379.88,558.30 C384.60,558.24 398.39,558.13 400.04,558.10 C401.69,558.07 391.51,558.10 389.80,558.10" fill="none" stroke="#140a00" stroke-width="0.5" opacity="0.7"/><path d="M314.90,559.57 C319.01,559.57 332.09,559.53 339.56,559.57 C347.03,559.60 355.00,559.71 359.72,559.76 C364.44,559.82 365.90,559.87 367.90,559.89 C369.90,559.91 369.70,559.91 371.70,559.89 C373.70,559.87 375.16,559.82 379.88,559.76 C384.60,559.71 398.39,559.60 400.04,559.57 C401.69,559.53 391.51,559.57 389.80,559.57" fill="none" stroke="#140a00" stroke-width="0.5" opacity="0.7"/><path d="M314.90,561.03 C319.01,561.03 332.09,561.00 339.56,561.03 C347.03,561.06 355.00,561.17 359.72,561.23 C364.44,561.28 365.90,561.33 367.90,561.36 C369.90,561.38 369.70,561.38 371.70,561.36 C373.70,561.33 375.16,561.28 379.88,561.23 C384.60,561.17 398.39,561.06 400.04,561.03 C401.69,561.00 391.51,561.03 389.80,561.03" fill="none" stroke="#140a00" stroke-width="0.5" opacity="0.7"/><path d="M314.90,562.17 C318.69,562.17 330.31,562.13 337.67,562.17 C345.04,562.21 354.05,562.34 359.09,562.41 C364.13,562.48 365.80,562.55 367.90,562.57 C370.00,562.60 369.60,562.60 371.70,562.57 C373.80,562.55 375.47,562.48 380.51,562.41 C385.55,562.34 400.38,562.21 401.93,562.17 C403.48,562.13 391.82,562.17 389.80,562.17" fill="none" stroke="#140a00" stroke-width="0.5" opacity="0.7"/><path d="M314.90,564.12 C317.44,564.12 323.17,564.05 330.11,564.12 C337.06,564.19 350.27,564.43 356.57,564.55 C362.87,564.67 365.38,564.79 367.90,564.84 C370.42,564.89 369.18,564.89 371.70,564.84 C374.22,564.79 376.73,564.67 383.03,564.55 C389.33,564.43 408.36,564.19 409.49,564.12 C410.62,564.05 393.08,564.12 389.80,564.12" fill="none" stroke="#140a00" stroke-width="0.5" opacity="0.7"/><path d="M314.90,567.05 C315.54,567.05 312.46,566.93 318.77,567.05 C325.09,567.17 344.60,567.56 352.79,567.76 C360.98,567.96 364.75,568.16 367.90,568.24 C371.05,568.31 368.55,568.31 371.70,568.24 C374.85,568.16 378.62,567.96 386.81,567.76 C395.00,567.56 420.33,567.17 420.83,567.05 C421.33,566.93 394.97,567.05 389.80,567.05" fill="none" stroke="#140a00" stroke-width="0.5" opacity="0.7"/><path d="M314.90,569.49 C313.97,569.49 303.53,569.33 309.32,569.49 C315.11,569.65 339.88,570.17 349.64,570.44 C359.40,570.70 364.22,570.96 367.90,571.07 C371.58,571.17 368.02,571.17 371.70,571.07 C375.38,570.96 380.20,570.70 389.96,570.44 C399.72,570.17 430.31,569.65 430.28,569.49 C430.25,569.33 396.55,569.49 389.80,569.49" fill="none" stroke="#140a00" stroke-width="0.5" opacity="0.7"/><path d="M314.90,571.61 C312.60,571.61 295.79,571.42 301.13,571.61 C306.47,571.80 335.78,572.44 346.91,572.75 C358.04,573.07 363.77,573.39 367.90,573.52 C372.03,573.65 367.57,573.65 371.70,573.52 C375.83,573.39 381.56,573.07 392.69,572.75 C403.82,572.44 438.95,571.80 438.47,571.61 C437.99,571.42 397.91,571.61 389.80,571.61" fill="none" stroke="#140a00" stroke-width="0.5" opacity="0.7"/><path d="M364.26,563.16 C364.26,562.69 365.52,561.91 366.44,561.46 C367.37,561.01 368.68,560.46 369.80,560.46 C370.92,560.46 372.23,561.01 373.16,561.46 C374.08,561.91 375.34,562.69 375.34,563.16 C375.34,563.62 374.08,563.94 373.16,564.26 C372.23,564.57 370.92,565.06 369.80,565.06 C368.68,565.06 367.37,564.57 366.44,564.26 C365.52,563.94 364.26,563.62 364.26,563.16Z" fill="#c8301e" filter="url(#b0_4)"/><ellipse cx="369.80" cy="562.17" rx="4.40" ry="1.95" fill="#e04a2a" filter="url(#b0_5)"/><ellipse cx="372.90" cy="561.36" rx="1.20" ry="0.98" fill="#5a8fd0" opacity="0.7" filter="url(#b0_3)"/><path d="M367.10,555.80 L372.50,555.80 L372.69,561.68 L373.45,563.31 L372.31,565.75 L372.50,569.00 L373.64,574.07 L365.96,574.07 L367.10,569.00 L367.29,565.75 L366.15,563.31 L366.91,561.68Z" fill="#7467b0" filter="url(#b0_5)"/><path d="M367.90,555.80 L371.70,555.80 L371.89,561.68 L372.65,563.31 L371.51,565.75 L371.70,569.00 L372.84,574.07 L366.76,574.07 L367.90,569.00 L368.09,565.75 L366.95,563.31 L367.71,561.68Z" fill="#3f007d"/></g><g clip-path="url(#ms22)"><rect x="311.10" y="568.70" width="82.50" height="18.41" fill="#008000"/><path d="M310.10,567.70 C315.65,567.70 335.52,567.70 343.40,567.70 C351.28,567.70 353.67,567.70 357.40,567.70 C361.13,567.70 363.00,567.70 365.80,567.70 C368.60,567.70 370.47,567.70 374.20,567.70 C377.93,567.70 384.80,567.70 388.20,567.70 C391.60,567.70 393.53,567.70 394.60,567.70 L394.60,575.61 C393.53,575.61 391.60,575.53 388.20,575.61 C384.80,575.68 377.93,575.96 374.20,576.07 C370.47,576.18 368.60,576.27 365.80,576.27 C363.00,576.27 361.13,576.18 357.40,576.07 C353.67,575.96 351.28,575.68 343.40,575.61 C335.52,575.53 315.65,575.61 310.10,575.61Z" fill="#7a3d02"/><path d="M310.10,575.61 C315.65,575.61 335.52,575.53 343.40,575.61 C351.28,575.68 353.67,575.96 357.40,576.07 C361.13,576.18 363.00,576.27 365.80,576.27 C368.60,576.27 370.47,576.18 374.20,576.07 C377.93,575.96 384.80,575.68 388.20,575.61 C391.60,575.53 393.53,575.61 394.60,575.61 L394.60,578.31 C393.53,578.31 391.60,578.21 388.20,578.31 C384.80,578.41 377.93,578.77 374.20,578.92 C370.47,579.06 368.60,579.17 365.80,579.17 C363.00,579.17 361.13,579.06 357.40,578.92 C353.67,578.77 351.28,578.41 343.40,578.31 C335.52,578.21 315.65,578.31 310.10,578.31Z" fill="#d99a12"/><path d="M310.10,570.17 C314.34,570.17 327.96,570.14 335.56,570.17 C343.16,570.21 351.06,570.33 355.72,570.39 C360.38,570.46 361.44,570.52 363.50,570.54 C365.56,570.57 366.04,570.57 368.10,570.54 C370.16,570.52 371.22,570.46 375.88,570.39 C380.54,570.33 392.92,570.21 396.04,570.17 C399.16,570.14 394.84,570.17 394.60,570.17" fill="none" stroke="#140a00" stroke-width="0.5" opacity="0.7"/><path d="M310.10,571.83 C314.34,571.83 327.96,571.79 335.56,571.83 C343.16,571.87 351.06,571.99 355.72,572.05 C360.38,572.11 361.44,572.17 363.50,572.20 C365.56,572.22 366.04,572.22 368.10,572.20 C370.16,572.17 371.22,572.11 375.88,572.05 C380.54,571.99 392.92,571.87 396.04,571.83 C399.16,571.79 394.84,571.83 394.60,571.83" fill="none" stroke="#140a00" stroke-width="0.5" opacity="0.7"/><path d="M310.10,573.49 C314.34,573.49 327.96,573.45 335.56,573.49 C343.16,573.52 351.06,573.65 355.72,573.71 C360.38,573.77 361.44,573.83 363.50,573.86 C365.56,573.88 366.04,573.88 368.10,573.86 C370.16,573.83 371.22,573.77 375.88,573.71 C380.54,573.65 392.92,573.52 396.04,573.49 C399.16,573.45 394.84,573.49 394.60,573.49" fill="none" stroke="#140a00" stroke-width="0.5" opacity="0.7"/><path d="M310.10,574.78 C314.03,574.78 326.17,574.73 333.67,574.78 C341.17,574.82 350.12,574.97 355.09,575.05 C360.06,575.13 361.33,575.20 363.50,575.23 C365.67,575.26 365.93,575.26 368.10,575.23 C370.27,575.20 371.54,575.13 376.51,575.05 C381.48,574.97 394.92,574.82 397.93,574.78 C400.94,574.73 395.16,574.78 394.60,574.78" fill="none" stroke="#140a00" stroke-width="0.5" opacity="0.7"/><path d="M310.10,576.99 C312.77,576.99 319.03,576.91 326.11,576.99 C333.19,577.07 346.34,577.34 352.57,577.47 C358.80,577.61 360.91,577.74 363.50,577.80 C366.09,577.85 365.51,577.85 368.10,577.80 C370.69,577.74 372.80,577.61 379.03,577.47 C385.26,577.34 402.89,577.07 405.49,576.99 C408.09,576.91 396.42,576.99 394.60,576.99" fill="none" stroke="#140a00" stroke-width="0.5" opacity="0.7"/><path d="M310.10,580.30 C310.88,580.30 308.32,580.17 314.77,580.30 C321.22,580.43 340.67,580.88 348.79,581.11 C356.91,581.33 360.28,581.55 363.50,581.64 C366.72,581.73 364.88,581.73 368.10,581.64 C371.32,581.55 374.69,581.33 382.81,581.11 C390.93,580.88 414.87,580.43 416.83,580.30 C418.79,580.17 398.31,580.30 394.60,580.30" fill="none" stroke="#140a00" stroke-width="0.5" opacity="0.7"/><path d="M310.10,583.06 C309.30,583.06 299.40,582.88 305.32,583.06 C311.24,583.24 335.94,583.84 345.64,584.13 C355.34,584.43 359.76,584.73 363.50,584.85 C367.24,584.96 364.36,584.96 368.10,584.85 C371.84,584.73 376.26,584.43 385.96,584.13 C395.66,583.84 424.84,583.24 426.28,583.06 C427.72,582.88 399.88,583.06 394.60,583.06" fill="none" stroke="#140a00" stroke-width="0.5" opacity="0.7"/><path d="M310.10,585.46 C307.94,585.46 291.66,585.24 297.13,585.46 C302.60,585.67 331.85,586.40 342.91,586.76 C353.97,587.12 359.30,587.48 363.50,587.62 C367.70,587.77 363.90,587.77 368.10,587.62 C372.30,587.48 377.63,587.12 388.69,586.76 C399.75,586.40 433.49,585.67 434.47,585.46 C435.46,585.24 401.25,585.46 394.60,585.46" fill="none" stroke="#140a00" stroke-width="0.5" opacity="0.7"/><path d="M353.60,575.83 C353.60,575.36 357.51,574.58 359.54,574.13 C361.57,573.68 363.71,573.13 365.80,573.13 C367.89,573.13 370.03,573.68 372.06,574.13 C374.09,574.58 378.00,575.36 378.00,575.83 C378.00,576.30 374.09,576.61 372.06,576.93 C370.03,577.25 367.89,577.73 365.80,577.73 C363.71,577.73 361.57,577.25 359.54,576.93 C357.51,576.61 353.60,576.30 353.60,575.83Z" fill="#c8301e" filter="url(#b0_4)"/><path d="M355.58,572.33 C355.58,572.00 362.39,570.83 365.80,570.83 C369.21,570.83 376.02,572.00 376.02,572.33 C376.02,572.66 369.21,572.83 365.80,572.83 C362.39,572.83 355.58,572.66 355.58,572.33Z" fill="#e07030" opacity="0.8" filter="url(#b0_5)"/><ellipse cx="365.80" cy="574.78" rx="4.80" ry="2.21" fill="#e04a2a" filter="url(#b0_5)"/><ellipse cx="369.30" cy="573.86" rx="1.20" ry="1.10" fill="#5a8fd0" opacity="0.7" filter="url(#b0_3)"/><path d="M362.70,567.70 L368.90,567.70 L369.13,574.22 L370.05,576.07 L368.67,578.83 L368.90,582.51 L370.28,588.11 L361.32,588.11 L362.70,582.51 L362.93,578.83 L361.55,576.07 L362.47,574.22Z" fill="#7467b0" filter="url(#b0_5)"/><path d="M363.50,567.70 L368.10,567.70 L368.33,574.22 L369.25,576.07 L367.87,578.83 L368.10,582.51 L369.48,588.11 L362.12,588.11 L363.50,582.51 L363.73,578.83 L362.35,576.07 L363.27,574.22Z" fill="#3f007d"/><path d="M362.92,569.62 C363.40,568.24 368.20,568.24 368.68,569.62 C369.16,571.00 366.76,577.91 365.80,577.91 C364.84,577.91 362.44,571.00 362.92,569.62Z" fill="#b8a030" opacity="0.9"/><path d="M361.00,567.70 C361.16,568.79 361.35,572.22 361.96,574.22 C362.57,576.23 364.20,578.83 364.65,579.75" fill="none" stroke="#3f007d" stroke-width="1.4"/><path d="M370.60,567.70 C370.44,568.79 370.25,572.22 369.64,574.22 C369.03,576.23 367.40,578.83 366.95,579.75" fill="none" stroke="#3f007d" stroke-width="1.4"/><ellipse cx="365.80" cy="572.38" rx="1.20" ry="1.29" fill="#3a8a6a" opacity="0.8"/></g><g clip-path="url(#ms23)"><rect x="304.10" y="585.10" width="96.50" height="21.54" fill="#008000"/><path d="M303.10,584.10 C307.60,584.10 323.27,584.10 330.10,584.10 C336.93,584.10 340.37,584.10 344.10,584.10 C347.83,584.10 349.70,584.10 352.50,584.10 C355.30,584.10 357.17,584.10 360.90,584.10 C364.63,584.10 368.12,584.10 374.90,584.10 C381.68,584.10 397.15,584.10 401.60,584.10 L401.60,593.18 C397.15,593.18 381.68,593.09 374.90,593.18 C368.12,593.27 364.63,593.59 360.90,593.72 C357.17,593.85 355.30,593.95 352.50,593.95 C349.70,593.95 347.83,593.85 344.10,593.72 C340.37,593.59 336.93,593.27 330.10,593.18 C323.27,593.09 307.60,593.18 303.10,593.18Z" fill="#7a3d02"/><path d="M303.10,593.18 C307.60,593.18 323.27,593.09 330.10,593.18 C336.93,593.27 340.37,593.59 344.10,593.72 C347.83,593.85 349.70,593.95 352.50,593.95 C355.30,593.95 357.17,593.85 360.90,593.72 C364.63,593.59 368.12,593.27 374.90,593.18 C381.68,593.09 397.15,593.18 401.60,593.18 L401.60,596.34 C397.15,596.34 381.68,596.23 374.90,596.34 C368.12,596.46 364.63,596.88 360.90,597.05 C357.17,597.22 355.30,597.35 352.50,597.35 C349.70,597.35 347.83,597.22 344.10,597.05 C340.37,596.88 336.93,596.46 330.10,596.34 C323.27,596.23 307.60,596.34 303.10,596.34Z" fill="#d99a12"/><path d="M303.10,586.82 C306.29,586.82 315.71,586.78 322.26,586.82 C328.81,586.87 337.91,587.01 342.42,587.08 C346.93,587.15 347.09,587.23 349.30,587.25 C351.51,587.28 353.49,587.28 355.70,587.25 C357.91,587.23 358.07,587.15 362.58,587.08 C367.09,587.01 376.24,586.87 382.74,586.82 C389.24,586.78 398.46,586.82 401.60,586.82" fill="none" stroke="#140a00" stroke-width="0.5" opacity="0.7"/><path d="M303.10,588.76 C306.29,588.76 315.71,588.72 322.26,588.76 C328.81,588.80 337.91,588.95 342.42,589.02 C346.93,589.09 347.09,589.16 349.30,589.19 C351.51,589.22 353.49,589.22 355.70,589.19 C357.91,589.16 358.07,589.09 362.58,589.02 C367.09,588.95 376.24,588.80 382.74,588.76 C389.24,588.72 398.46,588.76 401.60,588.76" fill="none" stroke="#140a00" stroke-width="0.5" opacity="0.7"/><path d="M303.10,590.70 C306.29,590.70 315.71,590.66 322.26,590.70 C328.81,590.74 337.91,590.89 342.42,590.96 C346.93,591.03 347.09,591.10 349.30,591.13 C351.51,591.16 353.49,591.16 355.70,591.13 C357.91,591.10 358.07,591.03 362.58,590.96 C367.09,590.89 376.24,590.74 382.74,590.70 C389.24,590.66 398.46,590.70 401.60,590.70" fill="none" stroke="#140a00" stroke-width="0.5" opacity="0.7"/><path d="M303.10,592.21 C305.98,592.21 313.92,592.15 320.37,592.21 C326.82,592.26 336.97,592.44 341.79,592.53 C346.61,592.62 346.98,592.71 349.30,592.74 C351.62,592.78 353.38,592.78 355.70,592.74 C358.02,592.71 358.39,592.62 363.21,592.53 C368.03,592.44 378.23,592.26 384.63,592.21 C391.03,592.15 398.77,592.21 401.60,592.21" fill="none" stroke="#140a00" stroke-width="0.5" opacity="0.7"/><path d="M303.10,594.79 C304.72,594.79 306.78,594.70 312.81,594.79 C318.84,594.89 333.19,595.20 339.27,595.36 C345.35,595.52 346.56,595.68 349.30,595.74 C352.04,595.80 352.96,595.80 355.70,595.74 C358.44,595.68 359.65,595.52 365.73,595.36 C371.81,595.20 386.21,594.89 392.19,594.79 C398.17,594.70 400.03,594.79 401.60,594.79" fill="none" stroke="#140a00" stroke-width="0.5" opacity="0.7"/><path d="M303.10,598.67 C302.83,598.67 296.07,598.51 301.47,598.67 C306.87,598.83 327.52,599.35 335.49,599.61 C343.46,599.87 345.93,600.13 349.30,600.24 C352.67,600.34 352.33,600.34 355.70,600.24 C359.07,600.13 361.54,599.87 369.51,599.61 C377.48,599.35 398.18,598.83 403.53,598.67 C408.88,598.51 401.92,598.67 401.60,598.67" fill="none" stroke="#140a00" stroke-width="0.5" opacity="0.7"/><path d="M303.10,601.90 C301.25,601.90 287.15,601.69 292.02,601.90 C296.89,602.11 322.79,602.80 332.34,603.15 C341.89,603.50 345.41,603.85 349.30,603.99 C353.19,604.12 351.81,604.12 355.70,603.99 C359.59,603.85 363.11,603.50 372.66,603.15 C382.21,602.80 408.16,602.11 412.98,601.90 C417.80,601.69 403.50,601.90 401.60,601.90" fill="none" stroke="#140a00" stroke-width="0.5" opacity="0.7"/><path d="M303.10,604.70 C299.89,604.70 279.41,604.45 283.83,604.70 C288.25,604.95 318.70,605.80 329.61,606.22 C340.52,606.64 344.95,607.06 349.30,607.23 C353.65,607.40 351.35,607.40 355.70,607.23 C360.05,607.06 364.48,606.64 375.39,606.22 C386.30,605.80 416.80,604.95 421.17,604.70 C425.54,604.45 404.86,604.70 401.60,604.70" fill="none" stroke="#140a00" stroke-width="0.5" opacity="0.7"/><path d="M325.18,593.35 C325.18,592.89 335.10,592.10 339.65,591.65 C344.20,591.20 348.22,590.65 352.50,590.65 C356.78,590.65 360.80,591.20 365.35,591.65 C369.90,592.10 379.82,592.89 379.82,593.35 C379.82,593.82 369.90,594.14 365.35,594.45 C360.80,594.77 356.78,595.25 352.50,595.25 C348.22,595.25 344.20,594.77 339.65,594.45 C335.10,594.14 325.18,593.82 325.18,593.35Z" fill="#c8301e" filter="url(#b0_4)"/><path d="M330.00,589.85 C330.00,589.52 345.00,588.35 352.50,588.35 C360.00,588.35 375.00,589.52 375.00,589.85 C375.00,590.19 360.00,590.35 352.50,590.35 C345.00,590.35 330.00,590.19 330.00,589.85Z" fill="#e07030" opacity="0.8" filter="url(#b0_5)"/><ellipse cx="352.50" cy="592.21" rx="5.70" ry="2.58" fill="#e04a2a" filter="url(#b0_5)"/><ellipse cx="356.90" cy="591.13" rx="1.20" ry="1.29" fill="#5a8fd0" opacity="0.7" filter="url(#b0_3)"/><path d="M348.50,584.10 L356.50,584.10 L356.82,591.56 L358.10,593.72 L356.18,596.95 L356.50,601.25 L358.42,607.64 L346.58,607.64 L348.50,601.25 L348.82,596.95 L346.90,593.72 L348.18,591.56Z" fill="#7467b0" filter="url(#b0_5)"/><path d="M349.30,584.10 L355.70,584.10 L356.02,591.56 L357.30,593.72 L355.38,596.95 L355.70,601.25 L357.62,607.64 L347.38,607.64 L349.30,601.25 L349.62,596.95 L347.70,593.72 L348.98,591.56Z" fill="#3f007d"/><path d="M348.18,586.18 C348.90,584.56 356.10,584.56 356.82,586.18 C357.54,587.79 353.94,595.87 352.50,595.87 C351.06,595.87 347.46,587.79 348.18,586.18Z" fill="#b8a030" opacity="0.9"/><path d="M345.30,584.10 C345.54,585.34 345.81,589.24 346.74,591.56 C347.67,593.88 350.21,596.95 350.90,598.02" fill="none" stroke="#3f007d" stroke-width="1.4"/><path d="M359.70,584.10 C359.46,585.34 359.19,589.24 358.26,591.56 C357.33,593.88 354.79,596.95 354.10,598.02" fill="none" stroke="#3f007d" stroke-width="1.4"/><ellipse cx="352.50" cy="589.41" rx="1.20" ry="1.51" fill="#3a8a6a" opacity="0.8"/></g><g clip-path="url(#ms24)"><rect x="294.00" y="604.00" width="115.80" height="25.85" fill="#008000"/><path d="M293.00,603.00 C296.10,603.00 306.17,603.00 311.60,603.00 C317.03,603.00 321.87,603.00 325.60,603.00 C329.33,603.00 331.20,603.00 334.00,603.00 C336.80,603.00 338.67,603.00 342.40,603.00 C346.13,603.00 345.00,603.00 356.40,603.00 C367.80,603.00 401.73,603.00 410.80,603.00 L410.80,613.69 C401.73,613.69 367.80,613.58 356.40,613.69 C345.00,613.80 346.13,614.19 342.40,614.34 C338.67,614.50 336.80,614.62 334.00,614.62 C331.20,614.62 329.33,614.50 325.60,614.34 C321.87,614.19 317.03,613.80 311.60,613.69 C306.17,613.58 296.10,613.69 293.00,613.69Z" fill="#7a3d02"/><path d="M293.00,613.69 C296.10,613.69 306.17,613.58 311.60,613.69 C317.03,613.80 321.87,614.19 325.60,614.34 C329.33,614.50 331.20,614.62 334.00,614.62 C336.80,614.62 338.67,614.50 342.40,614.34 C346.13,614.19 345.00,613.80 356.40,613.69 C367.80,613.58 401.73,613.69 410.80,613.69 L410.80,617.49 C401.73,617.49 367.80,617.35 356.40,617.49 C345.00,617.63 346.13,618.14 342.40,618.34 C338.67,618.54 336.80,618.70 334.00,618.70 C331.20,618.70 329.33,618.54 325.60,618.34 C321.87,618.14 317.03,617.63 311.60,617.49 C306.17,617.35 296.10,617.49 293.00,617.49Z" fill="#d99a12"/><path d="M293.00,606.07 C294.79,606.07 298.61,606.02 303.76,606.07 C308.91,606.12 319.35,606.29 323.92,606.38 C328.49,606.46 329.05,606.55 331.20,606.58 C333.35,606.62 334.65,606.62 336.80,606.58 C338.95,606.55 339.51,606.46 344.08,606.38 C348.65,606.29 353.12,606.12 364.24,606.07 C375.36,606.02 403.04,606.07 410.80,606.07" fill="none" stroke="#140a00" stroke-width="0.5" opacity="0.7"/><path d="M293.00,608.39 C294.79,608.39 298.61,608.34 303.76,608.39 C308.91,608.45 319.35,608.62 323.92,608.70 C328.49,608.79 329.05,608.88 331.20,608.91 C333.35,608.95 334.65,608.95 336.80,608.91 C338.95,608.88 339.51,608.79 344.08,608.70 C348.65,608.62 353.12,608.45 364.24,608.39 C375.36,608.34 403.04,608.39 410.80,608.39" fill="none" stroke="#140a00" stroke-width="0.5" opacity="0.7"/><path d="M293.00,610.72 C294.79,610.72 298.61,610.67 303.76,610.72 C308.91,610.77 319.35,610.94 323.92,611.03 C328.49,611.12 329.05,611.20 331.20,611.24 C333.35,611.27 334.65,611.27 336.80,611.24 C338.95,611.20 339.51,611.12 344.08,611.03 C348.65,610.94 353.12,610.77 364.24,610.72 C375.36,610.67 403.04,610.72 410.80,610.72" fill="none" stroke="#140a00" stroke-width="0.5" opacity="0.7"/><path d="M293.00,612.53 C294.48,612.53 296.82,612.47 301.87,612.53 C306.92,612.59 318.40,612.81 323.29,612.91 C328.18,613.02 328.95,613.13 331.20,613.17 C333.45,613.21 334.55,613.21 336.80,613.17 C339.05,613.13 339.82,613.02 344.71,612.91 C349.60,612.81 355.12,612.59 366.13,612.53 C377.14,612.47 403.36,612.53 410.80,612.53" fill="none" stroke="#140a00" stroke-width="0.5" opacity="0.7"/><path d="M293.00,615.63 C293.22,615.63 289.68,615.52 294.31,615.63 C298.94,615.74 314.62,616.12 320.77,616.31 C326.92,616.50 328.53,616.69 331.20,616.77 C333.87,616.84 334.13,616.84 336.80,616.77 C339.47,616.69 341.08,616.50 347.23,616.31 C353.38,616.12 363.10,615.74 373.69,615.63 C384.28,615.52 404.62,615.63 410.80,615.63" fill="none" stroke="#140a00" stroke-width="0.5" opacity="0.7"/><path d="M293.00,620.28 C291.33,620.28 278.97,620.10 282.97,620.28 C286.97,620.47 308.95,621.10 316.99,621.41 C325.03,621.73 327.90,622.04 331.20,622.16 C334.50,622.29 333.50,622.29 336.80,622.16 C340.10,622.04 342.97,621.73 351.01,621.41 C359.05,621.10 375.06,620.47 385.03,620.28 C395.00,620.10 406.50,620.28 410.80,620.28" fill="none" stroke="#140a00" stroke-width="0.5" opacity="0.7"/><path d="M293.00,624.16 C289.75,624.16 270.05,623.91 273.52,624.16 C276.99,624.41 304.23,625.24 313.84,625.66 C323.45,626.08 327.37,626.50 331.20,626.66 C335.03,626.83 332.97,626.83 336.80,626.66 C340.63,626.50 344.55,626.08 354.16,625.66 C363.77,625.24 385.04,624.41 394.48,624.16 C403.92,623.91 408.08,624.16 410.80,624.16" fill="none" stroke="#140a00" stroke-width="0.5" opacity="0.7"/><path d="M293.00,627.52 C288.39,627.52 262.31,627.22 265.33,627.52 C268.35,627.82 300.13,628.84 311.11,629.34 C322.09,629.85 326.92,630.36 331.20,630.56 C335.48,630.76 332.52,630.76 336.80,630.56 C341.08,630.36 345.91,629.85 356.89,629.34 C367.87,628.84 393.69,627.82 402.67,627.52 C411.66,627.22 409.44,627.52 410.80,627.52" fill="none" stroke="#140a00" stroke-width="0.5" opacity="0.7"/><path d="M308.04,613.80 C308.04,613.34 317.61,612.55 321.94,612.10 C326.26,611.65 329.98,611.10 334.00,611.10 C338.02,611.10 341.74,611.65 346.06,612.10 C350.39,612.55 359.96,613.34 359.96,613.80 C359.96,614.27 350.39,614.59 346.06,614.90 C341.74,615.22 338.02,615.70 334.00,615.70 C329.98,615.70 326.26,615.22 321.94,614.90 C317.61,614.59 308.04,614.27 308.04,613.80Z" fill="#c8301e" filter="url(#b0_4)"/><path d="M312.67,610.30 C312.67,609.97 326.89,608.80 334.00,608.80 C341.11,608.80 355.33,609.97 355.33,610.30 C355.33,610.64 341.11,610.80 334.00,610.80 C326.89,610.80 312.67,610.64 312.67,610.30Z" fill="#e07030" opacity="0.8" filter="url(#b0_5)"/><ellipse cx="334.00" cy="612.53" rx="5.30" ry="3.10" fill="#e04a2a" filter="url(#b0_5)"/><ellipse cx="338.00" cy="611.24" rx="1.20" ry="1.55" fill="#5a8fd0" opacity="0.7" filter="url(#b0_3)"/><path d="M330.40,603.00 L337.60,603.00 L337.88,611.75 L339.00,614.34 L337.32,618.22 L337.60,623.38 L339.28,630.85 L328.72,630.85 L330.40,623.38 L330.68,618.22 L329.00,614.34 L330.12,611.75Z" fill="#7467b0" filter="url(#b0_5)"/><path d="M331.20,603.00 L336.80,603.00 L337.08,611.75 L338.20,614.34 L336.52,618.22 L336.80,623.38 L338.48,630.85 L329.52,630.85 L331.20,623.38 L331.48,618.22 L329.80,614.34 L330.92,611.75Z" fill="#3f007d"/><path d="M330.82,605.29 C331.35,603.35 336.65,603.35 337.18,605.29 C337.71,607.23 335.06,616.92 334.00,616.92 C332.94,616.92 330.29,607.23 330.82,605.29Z" fill="#b8a030" opacity="0.9"/><path d="M328.70,603.00 C328.88,604.46 329.11,609.00 329.76,611.75 C330.41,614.51 332.13,618.22 332.60,619.51" fill="none" stroke="#3f007d" stroke-width="1.4"/><path d="M339.30,603.00 C339.12,604.46 338.89,609.00 338.24,611.75 C337.59,614.51 335.87,618.22 335.40,619.51" fill="none" stroke="#3f007d" stroke-width="1.4"/><ellipse cx="334.00" cy="609.17" rx="1.20" ry="1.81" fill="#3a8a6a" opacity="0.8"/></g><g clip-path="url(#ms25)"><rect x="279.70" y="627.70" width="144.80" height="32.32" fill="#008000"/><path d="M278.70,626.70 C281.18,626.70 288.78,626.70 293.60,626.70 C298.42,626.70 303.87,626.70 307.60,626.70 C311.33,626.70 313.20,626.70 316.00,626.70 C318.80,626.70 320.67,626.70 324.40,626.70 C328.13,626.70 321.55,626.70 338.40,626.70 C355.25,626.70 410.98,626.70 425.50,626.70 L425.50,639.82 C410.98,639.82 355.25,639.68 338.40,639.82 C321.55,639.96 328.13,640.44 324.40,640.63 C320.67,640.83 318.80,640.98 316.00,640.98 C313.20,640.98 311.33,640.83 307.60,640.63 C303.87,640.44 298.42,639.96 293.60,639.82 C288.78,639.68 281.18,639.82 278.70,639.82Z" fill="#7a3d02"/><path d="M278.70,639.82 C281.18,639.82 288.78,639.68 293.60,639.82 C298.42,639.96 303.87,640.44 307.60,640.63 C311.33,640.83 313.20,640.98 316.00,640.98 C318.80,640.98 320.67,640.83 324.40,640.63 C328.13,640.44 321.55,639.96 338.40,639.82 C355.25,639.68 410.98,639.82 425.50,639.82 L425.50,644.57 C410.98,644.57 355.25,644.39 338.40,644.57 C321.55,644.75 328.13,645.38 324.40,645.63 C320.67,645.88 318.80,646.08 316.00,646.08 C313.20,646.08 311.33,645.88 307.60,645.63 C303.87,645.38 298.42,644.75 293.60,644.57 C288.78,644.39 281.18,644.57 278.70,644.57Z" fill="#d99a12"/><path d="M278.70,630.29 C279.88,630.29 281.22,630.22 285.76,630.29 C290.30,630.35 301.40,630.57 305.92,630.67 C310.44,630.78 310.70,630.89 312.90,630.93 C315.10,630.98 316.90,630.98 319.10,630.93 C321.30,630.89 321.56,630.78 326.08,630.67 C330.60,630.57 329.67,630.35 346.24,630.29 C362.81,630.22 412.29,630.29 425.50,630.29" fill="none" stroke="#140a00" stroke-width="0.5" opacity="0.7"/><path d="M278.70,633.19 C279.88,633.19 281.22,633.13 285.76,633.19 C290.30,633.26 301.40,633.47 305.92,633.58 C310.44,633.69 310.70,633.80 312.90,633.84 C315.10,633.88 316.90,633.88 319.10,633.84 C321.30,633.80 321.56,633.69 326.08,633.58 C330.60,633.47 329.67,633.26 346.24,633.19 C362.81,633.13 412.29,633.19 425.50,633.19" fill="none" stroke="#140a00" stroke-width="0.5" opacity="0.7"/><path d="M278.70,636.10 C279.88,636.10 281.22,636.04 285.76,636.10 C290.30,636.17 301.40,636.38 305.92,636.49 C310.44,636.60 310.70,636.71 312.90,636.75 C315.10,636.79 316.90,636.79 319.10,636.75 C321.30,636.71 321.56,636.60 326.08,636.49 C330.60,636.38 329.67,636.17 346.24,636.10 C362.81,636.04 412.29,636.10 425.50,636.10" fill="none" stroke="#140a00" stroke-width="0.5" opacity="0.7"/><path d="M278.70,638.37 C279.56,638.37 279.44,638.29 283.87,638.37 C288.30,638.45 300.45,638.71 305.29,638.85 C310.13,638.98 310.60,639.11 312.90,639.17 C315.20,639.22 316.80,639.22 319.10,639.17 C321.40,639.11 321.87,638.98 326.71,638.85 C331.55,638.71 331.66,638.45 348.13,638.37 C364.60,638.29 412.61,638.37 425.50,638.37" fill="none" stroke="#140a00" stroke-width="0.5" opacity="0.7"/><path d="M278.70,642.24 C278.30,642.24 272.30,642.10 276.31,642.24 C280.32,642.39 296.67,642.86 302.77,643.10 C308.87,643.33 310.18,643.57 312.90,643.67 C315.62,643.76 316.38,643.76 319.10,643.67 C321.82,643.57 323.13,643.33 329.23,643.10 C335.33,642.86 339.64,642.39 355.69,642.24 C371.74,642.10 413.87,642.24 425.50,642.24" fill="none" stroke="#140a00" stroke-width="0.5" opacity="0.7"/><path d="M278.70,648.06 C276.41,648.06 261.59,647.83 264.97,648.06 C268.35,648.30 291.00,649.08 298.99,649.47 C306.98,649.87 309.55,650.26 312.90,650.41 C316.25,650.57 315.75,650.57 319.10,650.41 C322.45,650.26 325.02,649.87 333.01,649.47 C341.00,649.08 351.61,648.30 367.03,648.06 C382.44,647.83 415.75,648.06 425.50,648.06" fill="none" stroke="#140a00" stroke-width="0.5" opacity="0.7"/><path d="M278.70,652.91 C274.84,652.91 252.66,652.60 255.52,652.91 C258.38,653.22 286.28,654.26 295.84,654.79 C305.40,655.31 309.02,655.83 312.90,656.04 C316.78,656.25 315.22,656.25 319.10,656.04 C322.98,655.83 326.60,655.31 336.16,654.79 C345.72,654.26 361.59,653.22 376.48,652.91 C391.37,652.60 417.33,652.91 425.50,652.91" fill="none" stroke="#140a00" stroke-width="0.5" opacity="0.7"/><path d="M278.70,657.11 C273.47,657.11 244.93,656.73 247.33,657.11 C249.73,657.49 282.18,658.76 293.11,659.39 C304.04,660.02 308.57,660.66 312.90,660.91 C317.23,661.16 314.77,661.16 319.10,660.91 C323.43,660.66 327.96,660.02 338.89,659.39 C349.82,658.76 370.24,657.49 384.67,657.11 C399.11,656.73 418.69,657.11 425.50,657.11" fill="none" stroke="#140a00" stroke-width="0.5" opacity="0.7"/><path d="M308.56,639.83 C308.56,639.37 309.92,638.58 311.16,638.13 C312.40,637.68 314.39,637.13 316.00,637.13 C317.61,637.13 319.60,637.68 320.84,638.13 C322.08,638.58 323.44,639.37 323.44,639.83 C323.44,640.30 322.08,640.62 320.84,640.93 C319.60,641.25 317.61,641.73 316.00,641.73 C314.39,641.73 312.40,641.25 311.16,640.93 C309.92,640.62 308.56,640.30 308.56,639.83Z" fill="#c8301e" filter="url(#b0_4)"/><ellipse cx="316.00" cy="638.37" rx="5.60" ry="3.88" fill="#e04a2a" filter="url(#b0_5)"/><ellipse cx="320.30" cy="636.75" rx="1.20" ry="1.94" fill="#5a8fd0" opacity="0.7" filter="url(#b0_3)"/><path d="M312.10,626.70 L319.90,626.70 L320.21,637.40 L321.45,640.63 L319.59,645.48 L319.90,651.94 L321.76,661.02 L310.24,661.02 L312.10,651.94 L312.41,645.48 L310.55,640.63 L311.79,637.40Z" fill="#7467b0" filter="url(#b0_5)"/><path d="M312.90,626.70 L319.10,626.70 L319.41,637.40 L320.65,640.63 L318.79,645.48 L319.10,651.94 L320.96,661.02 L311.04,661.02 L312.90,651.94 L313.21,645.48 L311.35,640.63 L312.59,637.40Z" fill="#3f007d"/></g><path d="M279.70,660.02 L279.70,627.70 L294.00,604.00 L304.10,585.10 L311.10,568.70 L315.90,556.80 L388.80,556.80 L393.60,568.70 L400.60,585.10 L409.80,604.00 L424.50,627.70 L424.50,660.02Z" fill="none" stroke="#000" stroke-width="1.4" stroke-linejoin="round"/><line x1="274.20" y1="637.20" x2="279.70" y2="637.20" stroke="#000" stroke-width="1"/><line x1="274.20" y1="646.90" x2="279.70" y2="646.90" stroke="#000" stroke-width="1"/><text x="273.20" y="649.80" font-size="9.5" text-anchor="end">-40</text><line x1="274.20" y1="656.10" x2="279.70" y2="656.10" stroke="#000" stroke-width="1"/><line x1="275.20" y1="625.10" x2="279.70" y2="627.70" stroke="#000" stroke-width="1"/><text x="273.70" y="625.30" font-size="9.5" text-anchor="end">100</text><line x1="289.50" y1="601.40" x2="294.00" y2="604.00" stroke="#000" stroke-width="1"/><text x="288.00" y="601.60" font-size="9.5" text-anchor="end">200</text><line x1="299.60" y1="582.50" x2="304.10" y2="585.10" stroke="#000" stroke-width="1"/><text x="298.10" y="582.70" font-size="9.5" text-anchor="end">300</text><line x1="306.60" y1="566.10" x2="311.10" y2="568.70" stroke="#000" stroke-width="1"/><text x="305.10" y="566.30" font-size="9.5" text-anchor="end">400</text><line x1="311.40" y1="554.20" x2="315.90" y2="556.80" stroke="#000" stroke-width="1"/><text x="309.90" y="554.40" font-size="9.5" text-anchor="end">500</text><line x1="279.70" y1="660.02" x2="279.70" y2="665.52" stroke="#000" stroke-width="1"/><text x="279.70" y="676.52" font-size="9.5" text-anchor="middle">300</text><line x1="327.97" y1="660.02" x2="327.97" y2="665.52" stroke="#000" stroke-width="1"/><text x="327.97" y="676.52" font-size="9.5" text-anchor="middle">200</text><line x1="376.23" y1="660.02" x2="376.23" y2="665.52" stroke="#000" stroke-width="1"/><text x="376.23" y="676.52" font-size="9.5" text-anchor="middle">100</text><line x1="424.50" y1="660.02" x2="424.50" y2="665.52" stroke="#000" stroke-width="1"/><text x="424.50" y="676.52" font-size="9.5" text-anchor="middle">0</text>
<g clip-path="url(#ms26)"><rect x="315.90" y="689.00" width="72.90" height="16.27" fill="#008000"/><path d="M314.90,688.00 C319.87,688.00 337.15,688.00 344.70,688.00 C352.25,688.00 356.07,688.00 360.20,688.00 C364.33,688.00 366.40,688.00 369.50,688.00 C372.60,688.00 374.67,688.00 378.80,688.00 C382.93,688.00 392.47,688.00 394.30,688.00 C396.13,688.00 390.55,688.00 389.80,688.00 L389.80,695.10 C390.55,695.10 396.13,695.03 394.30,695.10 C392.47,695.18 382.93,695.45 378.80,695.56 C374.67,695.67 372.60,695.75 369.50,695.75 C366.40,695.75 364.33,695.67 360.20,695.56 C356.07,695.45 352.25,695.18 344.70,695.10 C337.15,695.03 319.87,695.10 314.90,695.10Z" fill="#7a3d02"/><path d="M314.90,695.10 C319.87,695.10 337.15,695.03 344.70,695.10 C352.25,695.18 356.07,695.45 360.20,695.56 C364.33,695.67 366.40,695.75 369.50,695.75 C372.60,695.75 374.67,695.67 378.80,695.56 C382.93,695.45 392.47,695.18 394.30,695.10 C396.13,695.03 390.55,695.10 389.80,695.10 L389.80,697.49 C390.55,697.49 396.13,697.39 394.30,697.49 C392.47,697.59 382.93,697.94 378.80,698.09 C374.67,698.23 372.60,698.34 369.50,698.34 C366.40,698.34 364.33,698.23 360.20,698.09 C356.07,697.94 352.25,697.59 344.70,697.49 C337.15,697.39 319.87,697.49 314.90,697.49Z" fill="#d99a12"/><path d="M314.90,690.30 C318.42,690.30 328.78,690.27 336.02,690.30 C343.26,690.33 353.09,690.44 358.34,690.50 C363.59,690.55 365.31,690.61 367.50,690.63 C369.69,690.65 369.31,690.65 371.50,690.63 C373.69,690.61 375.41,690.55 380.66,690.50 C385.91,690.44 401.46,690.33 402.98,690.30 C404.50,690.27 392.00,690.30 389.80,690.30" fill="none" stroke="#140a00" stroke-width="0.5" opacity="0.7"/><path d="M314.90,691.77 C318.42,691.77 328.78,691.73 336.02,691.77 C343.26,691.80 353.09,691.91 358.34,691.96 C363.59,692.02 365.31,692.07 367.50,692.09 C369.69,692.11 369.31,692.11 371.50,692.09 C373.69,692.07 375.41,692.02 380.66,691.96 C385.91,691.91 401.46,691.80 402.98,691.77 C404.50,691.73 392.00,691.77 389.80,691.77" fill="none" stroke="#140a00" stroke-width="0.5" opacity="0.7"/><path d="M314.90,693.23 C318.42,693.23 328.78,693.20 336.02,693.23 C343.26,693.26 353.09,693.37 358.34,693.43 C363.59,693.48 365.31,693.53 367.50,693.56 C369.69,693.58 369.31,693.58 371.50,693.56 C373.69,693.53 375.41,693.48 380.66,693.43 C385.91,693.37 401.46,693.26 402.98,693.23 C404.50,693.20 392.00,693.23 389.80,693.23" fill="none" stroke="#140a00" stroke-width="0.5" opacity="0.7"/><path d="M314.90,694.37 C318.07,694.37 326.80,694.33 333.93,694.37 C341.05,694.41 352.05,694.54 357.64,694.61 C363.24,694.68 365.19,694.75 367.50,694.77 C369.81,694.80 369.19,694.80 371.50,694.77 C373.81,694.75 375.76,694.68 381.36,694.61 C386.95,694.54 403.67,694.41 405.07,694.37 C406.48,694.33 392.35,694.37 389.80,694.37" fill="none" stroke="#140a00" stroke-width="0.5" opacity="0.7"/><path d="M314.90,696.32 C316.68,696.32 318.90,696.25 325.56,696.32 C332.22,696.39 347.86,696.63 354.85,696.75 C361.84,696.87 364.73,696.99 367.50,697.04 C370.27,697.09 368.73,697.09 371.50,697.04 C374.27,696.99 377.16,696.87 384.15,696.75 C391.14,696.63 412.50,696.39 413.44,696.32 C414.38,696.25 393.74,696.32 389.80,696.32" fill="none" stroke="#140a00" stroke-width="0.5" opacity="0.7"/><path d="M314.90,699.25 C314.58,699.25 307.04,699.13 313.00,699.25 C318.96,699.37 341.58,699.76 350.67,699.96 C359.75,700.16 364.03,700.36 367.50,700.44 C370.97,700.51 368.03,700.51 371.50,700.44 C374.97,700.36 379.25,700.16 388.33,699.96 C397.42,699.76 425.75,699.37 426.00,699.25 C426.24,699.13 395.83,699.25 389.80,699.25" fill="none" stroke="#140a00" stroke-width="0.5" opacity="0.7"/><path d="M314.90,701.69 C312.84,701.69 297.16,701.53 302.54,701.69 C307.92,701.85 336.35,702.37 347.18,702.64 C358.01,702.90 363.45,703.16 367.50,703.27 C371.55,703.37 367.45,703.37 371.50,703.27 C375.55,703.16 380.99,702.90 391.82,702.64 C402.65,702.37 436.80,701.85 436.46,701.69 C436.12,701.53 397.58,701.69 389.80,701.69" fill="none" stroke="#140a00" stroke-width="0.5" opacity="0.7"/><path d="M314.90,703.81 C311.33,703.81 288.60,703.62 293.47,703.81 C298.35,704.00 331.82,704.64 344.16,704.95 C356.50,705.27 362.94,705.59 367.50,705.72 C372.06,705.85 366.94,705.85 371.50,705.72 C376.06,705.59 382.50,705.27 394.84,704.95 C407.18,704.64 446.37,704.00 445.53,703.81 C444.69,703.62 399.09,703.81 389.80,703.81" fill="none" stroke="#140a00" stroke-width="0.5" opacity="0.7"/><path d="M364.58,695.36 C364.58,694.89 365.51,694.11 366.33,693.66 C367.15,693.21 368.44,692.66 369.50,692.66 C370.56,692.66 371.85,693.21 372.67,693.66 C373.49,694.11 374.42,694.89 374.42,695.36 C374.42,695.82 373.49,696.14 372.67,696.46 C371.85,696.77 370.56,697.26 369.50,697.26 C368.44,697.26 367.15,696.77 366.33,696.46 C365.51,696.14 364.58,695.82 364.58,695.36Z" fill="#c8301e" filter="url(#b0_4)"/><ellipse cx="369.50" cy="694.37" rx="4.50" ry="1.95" fill="#e04a2a" filter="url(#b0_5)"/><ellipse cx="372.70" cy="693.56" rx="1.20" ry="0.98" fill="#5a8fd0" opacity="0.7" filter="url(#b0_3)"/><path d="M366.70,688.00 L372.30,688.00 L372.50,693.88 L373.30,695.51 L372.10,697.95 L372.30,701.20 L373.50,706.27 L365.50,706.27 L366.70,701.20 L366.90,697.95 L365.70,695.51 L366.50,693.88Z" fill="#7467b0" filter="url(#b0_5)"/><path d="M367.50,688.00 L371.50,688.00 L371.70,693.88 L372.50,695.51 L371.30,697.95 L371.50,701.20 L372.70,706.27 L366.30,706.27 L367.50,701.20 L367.70,697.95 L366.50,695.51 L367.30,693.88Z" fill="#3f007d"/></g><g clip-path="url(#ms27)"><rect x="311.10" y="700.90" width="82.50" height="18.41" fill="#008000"/><path d="M310.10,699.90 C315.08,699.90 332.43,699.90 340.00,699.90 C347.57,699.90 351.37,699.90 355.50,699.90 C359.63,699.90 361.70,699.90 364.80,699.90 C367.90,699.90 369.97,699.90 374.10,699.90 C378.23,699.90 386.18,699.90 389.60,699.90 C393.02,699.90 393.77,699.90 394.60,699.90 L394.60,707.81 C393.77,707.81 393.02,707.72 389.60,707.81 C386.18,707.89 378.23,708.20 374.10,708.32 C369.97,708.44 367.90,708.54 364.80,708.54 C361.70,708.54 359.63,708.44 355.50,708.32 C351.37,708.20 347.57,707.89 340.00,707.81 C332.43,707.72 315.08,707.81 310.10,707.81Z" fill="#7a3d02"/><path d="M310.10,707.81 C315.08,707.81 332.43,707.72 340.00,707.81 C347.57,707.89 351.37,708.20 355.50,708.32 C359.63,708.44 361.70,708.54 364.80,708.54 C367.90,708.54 369.97,708.44 374.10,708.32 C378.23,708.20 386.18,707.89 389.60,707.81 C393.02,707.72 393.77,707.81 394.60,707.81 L394.60,710.51 C393.77,710.51 393.02,710.40 389.60,710.51 C386.18,710.62 378.23,711.02 374.10,711.18 C369.97,711.34 367.90,711.47 364.80,711.47 C361.70,711.47 359.63,711.34 355.50,711.18 C351.37,711.02 347.57,710.62 340.00,710.51 C332.43,710.40 315.08,710.51 310.10,710.51Z" fill="#d99a12"/><path d="M310.10,702.37 C313.64,702.37 324.06,702.34 331.32,702.37 C338.58,702.41 348.53,702.53 353.64,702.59 C358.75,702.66 359.67,702.72 362.00,702.74 C364.33,702.77 365.27,702.77 367.60,702.74 C369.93,702.72 370.85,702.66 375.96,702.59 C381.07,702.53 395.17,702.41 398.28,702.37 C401.39,702.34 395.21,702.37 394.60,702.37" fill="none" stroke="#140a00" stroke-width="0.5" opacity="0.7"/><path d="M310.10,704.03 C313.64,704.03 324.06,703.99 331.32,704.03 C338.58,704.07 348.53,704.19 353.64,704.25 C358.75,704.31 359.67,704.37 362.00,704.40 C364.33,704.42 365.27,704.42 367.60,704.40 C369.93,704.37 370.85,704.31 375.96,704.25 C381.07,704.19 395.17,704.07 398.28,704.03 C401.39,703.99 395.21,704.03 394.60,704.03" fill="none" stroke="#140a00" stroke-width="0.5" opacity="0.7"/><path d="M310.10,705.69 C313.64,705.69 324.06,705.65 331.32,705.69 C338.58,705.72 348.53,705.85 353.64,705.91 C358.75,705.97 359.67,706.03 362.00,706.06 C364.33,706.08 365.27,706.08 367.60,706.06 C369.93,706.03 370.85,705.97 375.96,705.91 C381.07,705.85 395.17,705.72 398.28,705.69 C401.39,705.65 395.21,705.69 394.60,705.69" fill="none" stroke="#140a00" stroke-width="0.5" opacity="0.7"/><path d="M310.10,706.98 C313.29,706.98 322.09,706.93 329.23,706.98 C336.37,707.02 347.48,707.17 352.94,707.25 C358.40,707.33 359.56,707.40 362.00,707.43 C364.44,707.46 365.16,707.46 367.60,707.43 C370.04,707.40 371.20,707.33 376.66,707.25 C382.12,707.17 397.38,707.02 400.37,706.98 C403.36,706.93 395.56,706.98 394.60,706.98" fill="none" stroke="#140a00" stroke-width="0.5" opacity="0.7"/><path d="M310.10,709.19 C311.89,709.19 314.18,709.11 320.86,709.19 C327.53,709.27 343.30,709.54 350.15,709.67 C357.01,709.81 359.09,709.94 362.00,710.00 C364.91,710.05 364.69,710.05 367.60,710.00 C370.51,709.94 372.59,709.81 379.45,709.67 C386.30,709.54 406.22,709.27 408.74,709.19 C411.27,709.11 396.96,709.19 394.60,709.19" fill="none" stroke="#140a00" stroke-width="0.5" opacity="0.7"/><path d="M310.10,712.50 C309.80,712.50 302.32,712.37 308.30,712.50 C314.28,712.63 337.02,713.08 345.97,713.31 C354.92,713.53 358.39,713.75 362.00,713.84 C365.61,713.93 363.99,713.93 367.60,713.84 C371.21,713.75 374.68,713.53 383.63,713.31 C392.58,713.08 419.47,712.63 421.30,712.50 C423.13,712.37 399.05,712.50 394.60,712.50" fill="none" stroke="#140a00" stroke-width="0.5" opacity="0.7"/><path d="M310.10,715.26 C308.06,715.26 292.44,715.08 297.84,715.26 C303.24,715.44 331.79,716.04 342.48,716.33 C353.17,716.63 357.81,716.93 362.00,717.05 C366.19,717.16 363.41,717.16 367.60,717.05 C371.79,716.93 376.43,716.63 387.12,716.33 C397.81,716.04 430.51,715.44 431.76,715.26 C433.01,715.08 400.79,715.26 394.60,715.26" fill="none" stroke="#140a00" stroke-width="0.5" opacity="0.7"/><path d="M310.10,717.66 C306.55,717.66 283.88,717.44 288.77,717.66 C293.67,717.87 327.25,718.60 339.46,718.96 C351.66,719.32 357.31,719.68 362.00,719.82 C366.69,719.97 362.91,719.97 367.60,719.82 C372.29,719.68 377.94,719.32 390.14,718.96 C402.35,718.60 440.08,717.87 440.83,717.66 C441.57,717.44 402.30,717.66 394.60,717.66" fill="none" stroke="#140a00" stroke-width="0.5" opacity="0.7"/><path d="M357.88,708.03 C357.88,707.56 359.20,706.78 360.35,706.33 C361.50,705.88 363.32,705.33 364.80,705.33 C366.28,705.33 368.10,705.88 369.25,706.33 C370.40,706.78 371.73,707.56 371.73,708.03 C371.73,708.50 370.40,708.81 369.25,709.13 C368.10,709.45 366.28,709.93 364.80,709.93 C363.32,709.93 361.50,709.45 360.35,709.13 C359.20,708.81 357.88,708.50 357.88,708.03Z" fill="#c8301e" filter="url(#b0_4)"/><ellipse cx="364.80" cy="706.98" rx="5.30" ry="2.21" fill="#e04a2a" filter="url(#b0_5)"/><ellipse cx="368.80" cy="706.06" rx="1.20" ry="1.10" fill="#5a8fd0" opacity="0.7" filter="url(#b0_3)"/><path d="M361.20,699.90 L368.40,699.90 L368.68,706.42 L369.80,708.27 L368.12,711.03 L368.40,714.71 L370.08,720.31 L359.52,720.31 L361.20,714.71 L361.48,711.03 L359.80,708.27 L360.92,706.42Z" fill="#7467b0" filter="url(#b0_5)"/><path d="M362.00,699.90 L367.60,699.90 L367.88,706.42 L369.00,708.27 L367.32,711.03 L367.60,714.71 L369.28,720.31 L360.32,720.31 L362.00,714.71 L362.28,711.03 L360.60,708.27 L361.72,706.42Z" fill="#3f007d"/><path d="M330.80,702.37 C330.80,702.05 340.80,701.41 345.80,701.41 C350.80,701.41 360.80,702.05 360.80,702.37 C360.80,702.69 350.80,703.33 345.80,703.33 C340.80,703.33 330.80,702.69 330.80,702.37Z" fill="#c83020" filter="url(#b0_4)"/><path d="M332.80,704.58 C332.80,704.18 342.13,703.38 346.80,703.38 C351.47,703.38 360.80,704.18 360.80,704.58 C360.80,704.98 351.47,705.78 346.80,705.78 C342.13,705.78 332.80,704.98 332.80,704.58Z" fill="#4a8ad8" filter="url(#b0_4)"/><path d="M334.80,707.16 C334.80,706.88 343.47,706.32 347.80,706.32 C352.13,706.32 360.80,706.88 360.80,707.16 C360.80,707.44 352.13,708.00 347.80,708.00 C343.47,708.00 334.80,707.44 334.80,707.16Z" fill="#4a8ad8" filter="url(#b0_4)"/><path d="M336.80,709.00 C336.80,708.68 344.80,708.04 348.80,708.04 C352.80,708.04 360.80,708.68 360.80,709.00 C360.80,709.32 352.80,709.96 348.80,709.96 C344.80,709.96 336.80,709.32 336.80,709.00Z" fill="#d04020" filter="url(#b0_4)"/><path d="M368.80,706.42 C368.80,706.18 372.80,705.70 374.80,705.70 C376.80,705.70 380.80,706.18 380.80,706.42 C380.80,706.66 376.80,707.14 374.80,707.14 C372.80,707.14 368.80,706.66 368.80,706.42Z" fill="#d85020" filter="url(#b0_4)"/><ellipse cx="364.80" cy="708.27" rx="4.20" ry="7.00" fill="#8a9ad0" fill-opacity="0.2" stroke="#3f007d" stroke-width="1.6"/></g><g clip-path="url(#ms28)"><rect x="304.10" y="717.30" width="96.50" height="21.54" fill="#008000"/><path d="M303.10,716.30 C307.12,716.30 320.60,716.30 327.20,716.30 C333.80,716.30 338.57,716.30 342.70,716.30 C346.83,716.30 348.90,716.30 352.00,716.30 C355.10,716.30 357.17,716.30 361.30,716.30 C365.43,716.30 370.08,716.30 376.80,716.30 C383.52,716.30 397.47,716.30 401.60,716.30 L401.60,725.38 C397.47,725.38 383.52,725.28 376.80,725.38 C370.08,725.48 365.43,725.84 361.30,725.98 C357.17,726.12 355.10,726.24 352.00,726.24 C348.90,726.24 346.83,726.12 342.70,725.98 C338.57,725.84 333.80,725.48 327.20,725.38 C320.60,725.28 307.12,725.38 303.10,725.38Z" fill="#7a3d02"/><path d="M303.10,725.38 C307.12,725.38 320.60,725.28 327.20,725.38 C333.80,725.48 338.57,725.84 342.70,725.98 C346.83,726.12 348.90,726.24 352.00,726.24 C355.10,726.24 357.17,726.12 361.30,725.98 C365.43,725.84 370.08,725.48 376.80,725.38 C383.52,725.28 397.47,725.38 401.60,725.38 L401.60,728.54 C397.47,728.54 383.52,728.41 376.80,728.54 C370.08,728.67 365.43,729.14 361.30,729.33 C357.17,729.51 355.10,729.66 352.00,729.66 C348.90,729.66 346.83,729.51 342.70,729.33 C338.57,729.14 333.80,728.67 327.20,728.54 C320.60,728.41 307.12,728.54 303.10,728.54Z" fill="#d99a12"/><path d="M303.10,719.02 C305.67,719.02 312.23,718.98 318.52,719.02 C324.81,719.07 335.83,719.21 340.84,719.28 C345.85,719.35 346.17,719.43 348.60,719.45 C351.03,719.48 352.97,719.48 355.40,719.45 C357.83,719.43 358.15,719.35 363.16,719.28 C368.17,719.21 379.07,719.07 385.48,719.02 C391.89,718.98 398.91,719.02 401.60,719.02" fill="none" stroke="#140a00" stroke-width="0.5" opacity="0.7"/><path d="M303.10,720.96 C305.67,720.96 312.23,720.92 318.52,720.96 C324.81,721.00 335.83,721.15 340.84,721.22 C345.85,721.29 346.17,721.36 348.60,721.39 C351.03,721.42 352.97,721.42 355.40,721.39 C357.83,721.36 358.15,721.29 363.16,721.22 C368.17,721.15 379.07,721.00 385.48,720.96 C391.89,720.92 398.91,720.96 401.60,720.96" fill="none" stroke="#140a00" stroke-width="0.5" opacity="0.7"/><path d="M303.10,722.90 C305.67,722.90 312.23,722.86 318.52,722.90 C324.81,722.94 335.83,723.09 340.84,723.16 C345.85,723.23 346.17,723.30 348.60,723.33 C351.03,723.36 352.97,723.36 355.40,723.33 C357.83,723.30 358.15,723.23 363.16,723.16 C368.17,723.09 379.07,722.94 385.48,722.90 C391.89,722.86 398.91,722.90 401.60,722.90" fill="none" stroke="#140a00" stroke-width="0.5" opacity="0.7"/><path d="M303.10,724.41 C305.32,724.41 310.25,724.35 316.43,724.41 C322.60,724.46 334.78,724.64 340.14,724.73 C345.50,724.82 346.06,724.91 348.60,724.94 C351.14,724.98 352.86,724.98 355.40,724.94 C357.94,724.91 358.50,724.82 363.86,724.73 C369.22,724.64 381.28,724.46 387.57,724.41 C393.86,724.35 399.26,724.41 401.60,724.41" fill="none" stroke="#140a00" stroke-width="0.5" opacity="0.7"/><path d="M303.10,726.99 C303.93,726.99 302.35,726.90 308.06,726.99 C313.77,727.09 330.60,727.40 337.35,727.56 C344.11,727.72 345.59,727.88 348.60,727.94 C351.61,728.00 352.39,728.00 355.40,727.94 C358.41,727.88 359.89,727.72 366.65,727.56 C373.40,727.40 390.12,727.09 395.94,726.99 C401.77,726.90 400.66,726.99 401.60,726.99" fill="none" stroke="#140a00" stroke-width="0.5" opacity="0.7"/><path d="M303.10,730.87 C301.83,730.87 290.49,730.71 295.50,730.87 C300.51,731.03 324.32,731.55 333.17,731.81 C342.02,732.07 344.89,732.33 348.60,732.44 C352.31,732.54 351.69,732.54 355.40,732.44 C359.11,732.33 361.98,732.07 370.83,731.81 C379.68,731.55 403.37,731.03 408.50,730.87 C413.63,730.71 402.75,730.87 401.60,730.87" fill="none" stroke="#140a00" stroke-width="0.5" opacity="0.7"/><path d="M303.10,734.10 C300.09,734.10 280.61,733.89 285.04,734.10 C289.47,734.31 319.09,735.00 329.68,735.35 C340.27,735.70 344.31,736.05 348.60,736.19 C352.89,736.32 351.11,736.32 355.40,736.19 C359.69,736.05 363.73,735.70 374.32,735.35 C384.91,735.00 414.41,734.31 418.96,734.10 C423.51,733.89 404.49,734.10 401.60,734.10" fill="none" stroke="#140a00" stroke-width="0.5" opacity="0.7"/><path d="M303.10,736.90 C298.58,736.90 272.05,736.65 275.97,736.90 C279.90,737.15 314.55,738.00 326.66,738.42 C338.76,738.84 343.81,739.26 348.60,739.43 C353.39,739.60 350.61,739.60 355.40,739.43 C360.19,739.26 365.24,738.84 377.34,738.42 C389.45,738.00 423.98,737.15 428.03,736.90 C432.07,736.65 406.00,736.90 401.60,736.90" fill="none" stroke="#140a00" stroke-width="0.5" opacity="0.7"/><path d="M340.88,725.55 C340.88,725.09 343.66,724.30 345.51,723.85 C347.37,723.40 349.84,722.85 352.00,722.85 C354.16,722.85 356.63,723.40 358.49,723.85 C360.34,724.30 363.12,725.09 363.12,725.55 C363.12,726.02 360.34,726.34 358.49,726.65 C356.63,726.97 354.16,727.45 352.00,727.45 C349.84,727.45 347.37,726.97 345.51,726.65 C343.66,726.34 340.88,726.02 340.88,725.55Z" fill="#c8301e" filter="url(#b0_4)"/><ellipse cx="352.00" cy="724.41" rx="5.90" ry="2.58" fill="#e04a2a" filter="url(#b0_5)"/><ellipse cx="356.60" cy="723.33" rx="1.20" ry="1.29" fill="#5a8fd0" opacity="0.7" filter="url(#b0_3)"/><path d="M347.80,716.30 L356.20,716.30 L356.54,723.76 L357.90,725.92 L355.86,729.15 L356.20,733.45 L358.24,739.84 L345.76,739.84 L347.80,733.45 L348.14,729.15 L346.10,725.92 L347.46,723.76Z" fill="#7467b0" filter="url(#b0_5)"/><path d="M348.60,716.30 L355.40,716.30 L355.74,723.76 L357.10,725.92 L355.06,729.15 L355.40,733.45 L357.44,739.84 L346.56,739.84 L348.60,733.45 L348.94,729.15 L346.90,725.92 L348.26,723.76Z" fill="#3f007d"/><path d="M346.23,718.38 C347.19,716.76 356.81,716.76 357.77,718.38 C358.73,719.99 353.92,728.07 352.00,728.07 C350.08,728.07 345.27,719.99 346.23,718.38Z" fill="#b8a030" opacity="0.9"/><path d="M342.38,716.30 C342.70,717.54 342.98,721.44 344.30,723.76 C345.62,726.08 349.30,729.15 350.30,730.22" fill="none" stroke="#3f007d" stroke-width="1.4"/><path d="M361.62,716.30 C361.30,717.54 361.02,721.44 359.70,723.76 C358.38,726.08 354.70,729.15 353.70,730.22" fill="none" stroke="#3f007d" stroke-width="1.4"/><ellipse cx="352.00" cy="721.61" rx="1.20" ry="1.51" fill="#3a8a6a" opacity="0.8"/><path d="M304.00,725.05 C304.00,724.69 318.00,723.97 325.00,723.97 C332.00,723.97 346.00,724.69 346.00,725.05 C346.00,725.41 332.00,726.13 325.00,726.13 C318.00,726.13 304.00,725.41 304.00,725.05Z" fill="#c83020" filter="url(#b0_4)"/><path d="M358.00,725.05 C358.00,724.69 368.67,723.97 374.00,723.97 C379.33,723.97 390.00,724.69 390.00,725.05 C390.00,725.41 379.33,726.13 374.00,726.13 C368.67,726.13 358.00,725.41 358.00,725.05Z" fill="#c83020" filter="url(#b0_4)"/><path d="M322.00,723.33 C322.00,723.09 329.33,722.61 333.00,722.61 C336.67,722.61 344.00,723.09 344.00,723.33 C344.00,723.57 336.67,724.05 333.00,724.05 C329.33,724.05 322.00,723.57 322.00,723.33Z" fill="#d85020" filter="url(#b0_4)"/><path d="M358.00,723.76 C358.00,723.52 366.00,723.04 370.00,723.04 C374.00,723.04 382.00,723.52 382.00,723.76 C382.00,724.00 374.00,724.48 370.00,724.48 C366.00,724.48 358.00,724.00 358.00,723.76Z" fill="#d85020" filter="url(#b0_4)"/><path d="M350.00,726.99 C348.83,726.99 340.50,718.08 340.00,716.30 C339.50,714.52 345.33,714.52 347.00,716.30 C348.67,718.08 351.17,726.99 350.00,726.99Z" fill="#7a70c0" opacity="0.85"/><path d="M350.00,728.07 C349.00,726.99 345.50,723.57 344.00,721.61 C342.50,719.65 341.50,717.18 341.00,716.30" fill="none" stroke="#3f007d" stroke-width="1.3"/><path d="M354.00,726.99 C355.17,726.99 363.50,718.08 364.00,716.30 C364.50,714.52 358.67,714.52 357.00,716.30 C355.33,718.08 352.83,726.99 354.00,726.99Z" fill="#7a70c0" opacity="0.85"/><path d="M354.00,728.07 C355.00,726.99 358.50,723.57 360.00,721.61 C361.50,719.65 362.50,717.18 363.00,716.30" fill="none" stroke="#3f007d" stroke-width="1.3"/></g><g clip-path="url(#ms29)"><rect x="294.00" y="736.20" width="115.80" height="25.85" fill="#008000"/><path d="M293.00,735.20 C295.70,735.20 303.92,735.20 309.20,735.20 C314.48,735.20 320.57,735.20 324.70,735.20 C328.83,735.20 330.90,735.20 334.00,735.20 C337.10,735.20 339.17,735.20 343.30,735.20 C347.43,735.20 347.55,735.20 358.80,735.20 C370.05,735.20 402.13,735.20 410.80,735.20 L410.80,745.89 C402.13,745.89 370.05,745.77 358.80,745.89 C347.55,746.01 347.43,746.44 343.30,746.62 C339.17,746.79 337.10,746.93 334.00,746.93 C330.90,746.93 328.83,746.79 324.70,746.62 C320.57,746.44 314.48,746.01 309.20,745.89 C303.92,745.77 295.70,745.89 293.00,745.89Z" fill="#7a3d02"/><path d="M293.00,745.89 C295.70,745.89 303.92,745.77 309.20,745.89 C314.48,746.01 320.57,746.44 324.70,746.62 C328.83,746.79 330.90,746.93 334.00,746.93 C337.10,746.93 339.17,746.79 343.30,746.62 C347.43,746.44 347.55,746.01 358.80,745.89 C370.05,745.77 402.13,745.89 410.80,745.89 L410.80,749.69 C402.13,749.69 370.05,749.54 358.80,749.69 C347.55,749.85 347.43,750.41 343.30,750.63 C339.17,750.86 337.10,751.04 334.00,751.04 C330.90,751.04 328.83,750.86 324.70,750.63 C320.57,750.41 314.48,749.85 309.20,749.69 C303.92,749.54 295.70,749.69 293.00,749.69Z" fill="#d99a12"/><path d="M293.00,738.27 C294.25,738.27 295.55,738.22 300.52,738.27 C305.49,738.32 317.79,738.49 322.84,738.58 C327.89,738.66 328.41,738.75 330.80,738.78 C333.19,738.82 334.81,738.82 337.20,738.78 C339.59,738.75 340.11,738.66 345.16,738.58 C350.21,738.49 356.54,738.32 367.48,738.27 C378.42,738.22 403.58,738.27 410.80,738.27" fill="none" stroke="#140a00" stroke-width="0.5" opacity="0.7"/><path d="M293.00,740.59 C294.25,740.59 295.55,740.54 300.52,740.59 C305.49,740.65 317.79,740.82 322.84,740.90 C327.89,740.99 328.41,741.08 330.80,741.11 C333.19,741.15 334.81,741.15 337.20,741.11 C339.59,741.08 340.11,740.99 345.16,740.90 C350.21,740.82 356.54,740.65 367.48,740.59 C378.42,740.54 403.58,740.59 410.80,740.59" fill="none" stroke="#140a00" stroke-width="0.5" opacity="0.7"/><path d="M293.00,742.92 C294.25,742.92 295.55,742.87 300.52,742.92 C305.49,742.97 317.79,743.14 322.84,743.23 C327.89,743.32 328.41,743.40 330.80,743.44 C333.19,743.47 334.81,743.47 337.20,743.44 C339.59,743.40 340.11,743.32 345.16,743.23 C350.21,743.14 356.54,742.97 367.48,742.92 C378.42,742.87 403.58,742.92 410.80,742.92" fill="none" stroke="#140a00" stroke-width="0.5" opacity="0.7"/><path d="M293.00,744.73 C293.90,744.73 293.57,744.67 298.43,744.73 C303.28,744.79 316.75,745.01 322.14,745.11 C327.54,745.22 328.29,745.33 330.80,745.37 C333.31,745.41 334.69,745.41 337.20,745.37 C339.71,745.33 340.46,745.22 345.86,745.11 C351.25,745.01 358.75,744.79 369.57,744.73 C380.40,744.67 403.93,744.73 410.80,744.73" fill="none" stroke="#140a00" stroke-width="0.5" opacity="0.7"/><path d="M293.00,747.83 C292.51,747.83 285.67,747.72 290.06,747.83 C294.45,747.94 312.56,748.32 319.35,748.51 C326.14,748.70 327.83,748.89 330.80,748.97 C333.77,749.04 334.23,749.04 337.20,748.97 C340.17,748.89 341.86,748.70 348.65,748.51 C355.44,748.32 367.58,747.94 377.94,747.83 C388.30,747.72 405.32,747.83 410.80,747.83" fill="none" stroke="#140a00" stroke-width="0.5" opacity="0.7"/><path d="M293.00,752.48 C290.42,752.48 273.81,752.30 277.50,752.48 C281.20,752.67 306.28,753.30 315.17,753.61 C324.05,753.93 327.13,754.24 330.80,754.36 C334.47,754.49 333.53,754.49 337.20,754.36 C340.87,754.24 343.95,753.93 352.83,753.61 C361.72,753.30 380.84,752.67 390.50,752.48 C400.16,752.30 407.42,752.48 410.80,752.48" fill="none" stroke="#140a00" stroke-width="0.5" opacity="0.7"/><path d="M293.00,756.36 C288.67,756.36 263.93,756.11 267.04,756.36 C270.15,756.61 301.05,757.44 311.68,757.86 C322.31,758.28 326.55,758.70 330.80,758.86 C335.05,759.03 332.95,759.03 337.20,758.86 C341.45,758.70 345.69,758.28 356.32,757.86 C366.95,757.44 391.88,756.61 400.96,756.36 C410.04,756.11 409.16,756.36 410.80,756.36" fill="none" stroke="#140a00" stroke-width="0.5" opacity="0.7"/><path d="M293.00,759.72 C287.16,759.72 255.36,759.42 257.97,759.72 C260.58,760.02 296.52,761.04 308.66,761.54 C320.80,762.05 326.04,762.56 330.80,762.76 C335.56,762.96 332.44,762.96 337.20,762.76 C341.96,762.56 347.20,762.05 359.34,761.54 C371.48,761.04 401.45,760.02 410.03,759.72 C418.60,759.42 410.67,759.72 410.80,759.72" fill="none" stroke="#140a00" stroke-width="0.5" opacity="0.7"/><path d="M325.01,746.00 C325.01,745.54 326.99,744.75 328.48,744.30 C329.98,743.85 332.16,743.30 334.00,743.30 C335.84,743.30 338.02,743.85 339.52,744.30 C341.01,744.75 342.99,745.54 342.99,746.00 C342.99,746.47 341.01,746.79 339.52,747.10 C338.02,747.42 335.84,747.90 334.00,747.90 C332.16,747.90 329.98,747.42 328.48,747.10 C326.99,746.79 325.01,746.47 325.01,746.00Z" fill="#c8301e" filter="url(#b0_4)"/><ellipse cx="334.00" cy="744.73" rx="5.70" ry="3.10" fill="#e04a2a" filter="url(#b0_5)"/><ellipse cx="338.40" cy="743.44" rx="1.20" ry="1.55" fill="#5a8fd0" opacity="0.7" filter="url(#b0_3)"/><path d="M330.00,735.20 L338.00,735.20 L338.32,743.95 L339.60,746.54 L337.68,750.42 L338.00,755.58 L339.92,763.05 L328.08,763.05 L330.00,755.58 L330.32,750.42 L328.40,746.54 L329.68,743.95Z" fill="#7467b0" filter="url(#b0_5)"/><path d="M330.80,735.20 L337.20,735.20 L337.52,743.95 L338.80,746.54 L336.88,750.42 L337.20,755.58 L339.12,763.05 L328.88,763.05 L330.80,755.58 L331.12,750.42 L329.20,746.54 L330.48,743.95Z" fill="#3f007d"/><path d="M337.00,738.78 C337.00,738.42 356.67,737.70 366.50,737.70 C376.33,737.70 396.00,738.42 396.00,738.78 C396.00,739.14 376.33,739.86 366.50,739.86 C356.67,739.86 337.00,739.14 337.00,738.78Z" fill="#c83020" filter="url(#b0_4)"/><path d="M339.00,741.89 C339.00,741.49 355.67,740.69 364.00,740.69 C372.33,740.69 389.00,741.49 389.00,741.89 C389.00,742.29 372.33,743.09 364.00,743.09 C355.67,743.09 339.00,742.29 339.00,741.89Z" fill="#4a8ad8" filter="url(#b0_4)"/><path d="M338.00,747.06 C338.00,746.70 358.33,745.98 368.50,745.98 C378.67,745.98 399.00,746.70 399.00,747.06 C399.00,747.42 378.67,748.14 368.50,748.14 C358.33,748.14 338.00,747.42 338.00,747.06Z" fill="#d04020" filter="url(#b0_4)"/><path d="M342.00,749.12 C342.00,748.76 356.00,748.04 363.00,748.04 C370.00,748.04 384.00,748.76 384.00,749.12 C384.00,749.48 370.00,750.20 363.00,750.20 C356.00,750.20 342.00,749.48 342.00,749.12Z" fill="#e86a20" filter="url(#b0_4)"/><path d="M320.00,743.95 C320.00,743.67 323.67,743.11 325.50,743.11 C327.33,743.11 331.00,743.67 331.00,743.95 C331.00,744.23 327.33,744.79 325.50,744.79 C323.67,744.79 320.00,744.23 320.00,743.95Z" fill="#d84020" filter="url(#b0_4)"/><path d="M345.00,750.42 C346.33,748.31 352.67,748.31 354.00,750.42 C355.33,752.52 354.33,760.94 353.00,763.05 C351.67,765.15 347.33,765.15 346.00,763.05 C344.67,760.94 343.67,752.52 345.00,750.42Z" fill="#e87020"/><ellipse cx="334.00" cy="746.54" rx="6.08" ry="9.82" fill="#8a9ad0" fill-opacity="0.2" stroke="#3f007d" stroke-width="1.6"/></g><g clip-path="url(#ms30)"><rect x="279.70" y="759.90" width="144.80" height="32.32" fill="#008000"/><path d="M278.70,758.90 C281.03,758.90 287.78,758.90 292.70,758.90 C297.62,758.90 304.07,758.90 308.20,758.90 C312.33,758.90 314.40,758.90 317.50,758.90 C320.60,758.90 322.67,758.90 326.80,758.90 C330.93,758.90 325.85,758.90 342.30,758.90 C358.75,758.90 411.63,758.90 425.50,758.90 L425.50,772.02 C411.63,772.02 358.75,771.87 342.30,772.02 C325.85,772.17 330.93,772.71 326.80,772.92 C322.67,773.14 320.60,773.31 317.50,773.31 C314.40,773.31 312.33,773.14 308.20,772.92 C304.07,772.71 297.62,772.17 292.70,772.02 C287.78,771.87 281.03,772.02 278.70,772.02Z" fill="#7a3d02"/><path d="M278.70,772.02 C281.03,772.02 287.78,771.87 292.70,772.02 C297.62,772.17 304.07,772.71 308.20,772.92 C312.33,773.14 314.40,773.31 317.50,773.31 C320.60,773.31 322.67,773.14 326.80,772.92 C330.93,772.71 325.85,772.17 342.30,772.02 C358.75,771.87 411.63,772.02 425.50,772.02 L425.50,776.77 C411.63,776.77 358.75,776.57 342.30,776.77 C325.85,776.97 330.93,777.67 326.80,777.95 C322.67,778.23 320.60,778.45 317.50,778.45 C314.40,778.45 312.33,778.23 308.20,777.95 C304.07,777.67 297.62,776.97 292.70,776.77 C287.78,776.57 281.03,776.77 278.70,776.77Z" fill="#d99a12"/><path d="M278.70,762.49 C279.59,762.49 279.41,762.42 284.02,762.49 C288.63,762.55 301.29,762.77 306.34,762.87 C311.39,762.98 311.91,763.09 314.30,763.13 C316.69,763.18 318.31,763.18 320.70,763.13 C323.09,763.09 323.61,762.98 328.66,762.87 C333.71,762.77 334.84,762.55 350.98,762.49 C367.12,762.42 413.08,762.49 425.50,762.49" fill="none" stroke="#140a00" stroke-width="0.5" opacity="0.7"/><path d="M278.70,765.39 C279.59,765.39 279.41,765.33 284.02,765.39 C288.63,765.46 301.29,765.67 306.34,765.78 C311.39,765.89 311.91,766.00 314.30,766.04 C316.69,766.08 318.31,766.08 320.70,766.04 C323.09,766.00 323.61,765.89 328.66,765.78 C333.71,765.67 334.84,765.46 350.98,765.39 C367.12,765.33 413.08,765.39 425.50,765.39" fill="none" stroke="#140a00" stroke-width="0.5" opacity="0.7"/><path d="M278.70,768.30 C279.59,768.30 279.41,768.24 284.02,768.30 C288.63,768.37 301.29,768.58 306.34,768.69 C311.39,768.80 311.91,768.91 314.30,768.95 C316.69,768.99 318.31,768.99 320.70,768.95 C323.09,768.91 323.61,768.80 328.66,768.69 C333.71,768.58 334.84,768.37 350.98,768.30 C367.12,768.24 413.08,768.30 425.50,768.30" fill="none" stroke="#140a00" stroke-width="0.5" opacity="0.7"/><path d="M278.70,770.57 C279.24,770.57 277.44,770.49 281.93,770.57 C286.42,770.65 300.25,770.91 305.64,771.05 C311.04,771.18 311.79,771.31 314.30,771.37 C316.81,771.42 318.19,771.42 320.70,771.37 C323.21,771.31 323.96,771.18 329.36,771.05 C334.75,770.91 337.05,770.65 353.07,770.57 C369.10,770.49 413.43,770.57 425.50,770.57" fill="none" stroke="#140a00" stroke-width="0.5" opacity="0.7"/><path d="M278.70,774.44 C277.84,774.44 269.53,774.30 273.56,774.44 C277.58,774.59 296.06,775.06 302.85,775.30 C309.64,775.53 311.33,775.77 314.30,775.87 C317.27,775.96 317.73,775.96 320.70,775.87 C323.67,775.77 325.36,775.53 332.15,775.30 C338.94,775.06 345.88,774.59 361.44,774.44 C377.00,774.30 414.82,774.44 425.50,774.44" fill="none" stroke="#140a00" stroke-width="0.5" opacity="0.7"/><path d="M278.70,780.26 C275.75,780.26 257.67,780.03 261.00,780.26 C264.33,780.50 289.78,781.28 298.67,781.67 C307.55,782.07 310.63,782.46 314.30,782.61 C317.97,782.77 317.03,782.77 320.70,782.61 C324.37,782.46 327.45,782.07 336.33,781.67 C345.22,781.28 359.14,780.50 374.00,780.26 C388.86,780.03 416.92,780.26 425.50,780.26" fill="none" stroke="#140a00" stroke-width="0.5" opacity="0.7"/><path d="M278.70,785.11 C274.01,785.11 247.79,784.80 250.54,785.11 C253.29,785.42 284.55,786.46 295.18,786.99 C305.81,787.51 310.05,788.03 314.30,788.24 C318.55,788.45 316.45,788.45 320.70,788.24 C324.95,788.03 329.19,787.51 339.82,786.99 C350.45,786.46 370.18,785.42 384.46,785.11 C398.74,784.80 418.66,785.11 425.50,785.11" fill="none" stroke="#140a00" stroke-width="0.5" opacity="0.7"/><path d="M278.70,789.31 C272.50,789.31 239.23,788.93 241.47,789.31 C243.72,789.69 280.02,790.96 292.16,791.59 C304.30,792.22 309.54,792.86 314.30,793.11 C319.06,793.36 315.94,793.36 320.70,793.11 C325.46,792.86 330.70,792.22 342.84,791.59 C354.98,790.96 379.75,789.69 393.53,789.31 C407.30,788.93 420.17,789.31 425.50,789.31" fill="none" stroke="#140a00" stroke-width="0.5" opacity="0.7"/><path d="M311.40,772.03 C311.40,771.57 312.13,770.78 313.14,770.33 C314.16,769.88 316.05,769.33 317.50,769.33 C318.95,769.33 320.84,769.88 321.86,770.33 C322.87,770.78 323.60,771.57 323.60,772.03 C323.60,772.50 322.87,772.82 321.86,773.13 C320.84,773.45 318.95,773.93 317.50,773.93 C316.05,773.93 314.16,773.45 313.14,773.13 C312.13,772.82 311.40,772.50 311.40,772.03Z" fill="#c8301e" filter="url(#b0_4)"/><ellipse cx="317.50" cy="770.57" rx="5.70" ry="3.88" fill="#e04a2a" filter="url(#b0_5)"/><ellipse cx="321.90" cy="768.95" rx="1.20" ry="1.94" fill="#5a8fd0" opacity="0.7" filter="url(#b0_3)"/><path d="M313.50,758.90 L321.50,758.90 L321.82,769.60 L323.10,772.83 L321.18,777.68 L321.50,784.14 L323.42,793.22 L311.58,793.22 L313.50,784.14 L313.82,777.68 L311.90,772.83 L313.18,769.60Z" fill="#7467b0" filter="url(#b0_5)"/><path d="M314.30,758.90 L320.70,758.90 L321.02,769.60 L322.30,772.83 L320.38,777.68 L320.70,784.14 L322.62,793.22 L312.38,793.22 L314.30,784.14 L314.62,777.68 L312.70,772.83 L313.98,769.60Z" fill="#3f007d"/></g><path d="M279.70,792.22 L279.70,759.90 L294.00,736.20 L304.10,717.30 L311.10,700.90 L315.90,689.00 L388.80,689.00 L393.60,700.90 L400.60,717.30 L409.80,736.20 L424.50,759.90 L424.50,792.22Z" fill="none" stroke="#000" stroke-width="1.4" stroke-linejoin="round"/><line x1="274.20" y1="769.40" x2="279.70" y2="769.40" stroke="#000" stroke-width="1"/><line x1="274.20" y1="779.10" x2="279.70" y2="779.10" stroke="#000" stroke-width="1"/><text x="273.20" y="782.00" font-size="9.5" text-anchor="end">-40</text><line x1="274.20" y1="788.30" x2="279.70" y2="788.30" stroke="#000" stroke-width="1"/><line x1="275.20" y1="757.30" x2="279.70" y2="759.90" stroke="#000" stroke-width="1"/><text x="273.70" y="757.50" font-size="9.5" text-anchor="end">100</text><line x1="289.50" y1="733.60" x2="294.00" y2="736.20" stroke="#000" stroke-width="1"/><text x="288.00" y="733.80" font-size="9.5" text-anchor="end">200</text><line x1="299.60" y1="714.70" x2="304.10" y2="717.30" stroke="#000" stroke-width="1"/><text x="298.10" y="714.90" font-size="9.5" text-anchor="end">300</text><line x1="306.60" y1="698.30" x2="311.10" y2="700.90" stroke="#000" stroke-width="1"/><text x="305.10" y="698.50" font-size="9.5" text-anchor="end">400</text><line x1="311.40" y1="686.40" x2="315.90" y2="689.00" stroke="#000" stroke-width="1"/><text x="309.90" y="686.60" font-size="9.5" text-anchor="end">500</text><line x1="279.70" y1="792.22" x2="279.70" y2="797.72" stroke="#000" stroke-width="1"/><text x="279.70" y="808.72" font-size="9.5" text-anchor="middle">300</text><line x1="327.97" y1="792.22" x2="327.97" y2="797.72" stroke="#000" stroke-width="1"/><text x="327.97" y="808.72" font-size="9.5" text-anchor="middle">200</text><line x1="376.23" y1="792.22" x2="376.23" y2="797.72" stroke="#000" stroke-width="1"/><text x="376.23" y="808.72" font-size="9.5" text-anchor="middle">100</text><line x1="424.50" y1="792.22" x2="424.50" y2="797.72" stroke="#000" stroke-width="1"/><text x="424.50" y="808.72" font-size="9.5" text-anchor="middle">0</text>
<text x="352.0" y="9.2" font-size="11" text-anchor="middle" word-spacing="0.8"><tspan font-style="italic">&#945;</tspan> = 7&#176;, &#916; = 52 km</text>
<path d="M488.50,17.50 L499.60,20.50 L516.00,28.50 L530.50,37.20 L533.50,47.70 L528.70,51.00 L517.50,44.70 L505.00,38.50 L493.30,33.50Z" fill="url(#rg0)" stroke="#2a0a2a" stroke-width="0.85"/><path d="M581.50,82.70 L592.00,87.50 L608.00,96.00 L623.60,104.20 L657.10,121.00 L652.60,139.60 L631.00,130.30 L614.00,120.00 L601.30,111.70 L586.40,96.80Z" fill="url(#rg0)" stroke="#2a0a2a" stroke-width="0.85"/><path d="M499.40,7.30 L447.50,47.40 L454.50,64.20 L652.40,139.50 L684.40,56.00 Z" fill="none" stroke="#000" stroke-width="1.5" stroke-linejoin="miter"/><line x1="524.10" y1="13.80" x2="520.70" y2="17.10" stroke="#000" stroke-width="1"/><line x1="550.40" y1="20.73" x2="547.40" y2="24.33" stroke="#000" stroke-width="1"/><line x1="579.60" y1="28.41" x2="577.20" y2="32.31" stroke="#000" stroke-width="1"/><line x1="610.77" y1="36.62" x2="609.17" y2="41.02" stroke="#000" stroke-width="1"/><line x1="645.55" y1="45.77" x2="644.35" y2="50.37" stroke="#000" stroke-width="1"/><line x1="480.72" y1="21.74" x2="484.92" y2="23.54" stroke="#000" stroke-width="1"/><line x1="458.50" y1="38.90" x2="462.70" y2="40.70" stroke="#000" stroke-width="1"/><line x1="479.83" y1="73.84" x2="483.43" y2="70.64" stroke="#000" stroke-width="1"/><line x1="507.54" y1="84.38" x2="510.74" y2="80.88" stroke="#000" stroke-width="1"/><line x1="537.42" y1="95.75" x2="540.22" y2="91.95" stroke="#000" stroke-width="1"/><line x1="570.27" y1="108.25" x2="572.47" y2="104.15" stroke="#000" stroke-width="1"/><line x1="609.26" y1="123.08" x2="610.86" y2="118.68" stroke="#000" stroke-width="1"/><line x1="656.24" y1="129.48" x2="652.44" y2="129.78" stroke="#000" stroke-width="1"/><line x1="667.76" y1="99.42" x2="663.96" y2="99.72" stroke="#000" stroke-width="1"/><text x="491.10" y="6.40" font-size="9.5" text-anchor="middle">300</text><text x="448.60" y="37.20" font-size="9.5" text-anchor="middle">100</text><text x="472.10" y="82.00" font-size="9.5" text-anchor="middle">500</text><text x="529.20" y="103.60" font-size="9.5" text-anchor="middle">300</text><text x="602.00" y="130.70" font-size="9.5" text-anchor="middle">100</text><text x="678.80" y="64.50" font-size="9.5" text-anchor="end">2 Myr</text>
<path d="M488.30,153.82 C491.53,154.99 501.68,158.27 507.70,160.82 C513.72,163.37 518.85,165.65 524.40,169.12 C529.95,172.59 535.45,176.99 541.00,181.62 C546.55,186.25 552.15,192.07 557.70,196.92 C563.25,201.77 567.83,205.87 574.30,210.72 C580.77,215.57 589.10,221.17 596.50,226.02 C603.90,230.87 608.53,234.50 618.70,239.82 C628.87,245.14 651.03,254.90 657.50,257.92 L652.20,274.52 C646.62,271.05 627.98,259.50 618.70,253.72 C609.42,247.94 603.90,244.90 596.50,239.82 C589.10,234.74 580.77,228.30 574.30,223.22 C567.83,218.14 563.25,214.17 557.70,209.32 C552.15,204.47 546.55,198.74 541.00,194.12 C535.45,189.50 529.95,185.09 524.40,181.62 C518.85,178.15 513.25,175.64 507.70,173.32 C502.15,171.00 493.87,168.65 491.10,167.72Z" fill="url(#rg1)" stroke="#1a1000" stroke-width="0.85"/><path d="M499.40,143.42 L447.50,183.52 L454.50,200.32 L652.40,275.62 L684.40,192.12 Z" fill="none" stroke="#000" stroke-width="1.5" stroke-linejoin="miter"/><line x1="524.10" y1="149.92" x2="520.70" y2="153.22" stroke="#000" stroke-width="1"/><line x1="550.40" y1="156.85" x2="547.40" y2="160.45" stroke="#000" stroke-width="1"/><line x1="579.60" y1="164.53" x2="577.20" y2="168.43" stroke="#000" stroke-width="1"/><line x1="610.77" y1="172.74" x2="609.17" y2="177.14" stroke="#000" stroke-width="1"/><line x1="645.55" y1="181.89" x2="644.35" y2="186.49" stroke="#000" stroke-width="1"/><line x1="480.72" y1="157.86" x2="484.92" y2="159.66" stroke="#000" stroke-width="1"/><line x1="458.50" y1="175.02" x2="462.70" y2="176.82" stroke="#000" stroke-width="1"/><line x1="479.83" y1="209.96" x2="483.43" y2="206.76" stroke="#000" stroke-width="1"/><line x1="507.54" y1="220.50" x2="510.74" y2="217.00" stroke="#000" stroke-width="1"/><line x1="537.42" y1="231.87" x2="540.22" y2="228.07" stroke="#000" stroke-width="1"/><line x1="570.27" y1="244.37" x2="572.47" y2="240.27" stroke="#000" stroke-width="1"/><line x1="609.26" y1="259.20" x2="610.86" y2="254.80" stroke="#000" stroke-width="1"/><line x1="656.24" y1="265.60" x2="652.44" y2="265.90" stroke="#000" stroke-width="1"/><line x1="667.76" y1="235.54" x2="663.96" y2="235.84" stroke="#000" stroke-width="1"/><text x="491.10" y="142.52" font-size="9.5" text-anchor="middle">300</text><text x="448.60" y="173.32" font-size="9.5" text-anchor="middle">100</text><text x="472.10" y="218.12" font-size="9.5" text-anchor="middle">500</text><text x="529.20" y="239.72" font-size="9.5" text-anchor="middle">300</text><text x="602.00" y="266.82" font-size="9.5" text-anchor="middle">100</text><text x="678.80" y="200.62" font-size="9.5" text-anchor="end">4.1 Myr</text>
<path d="M488.00,290.24 C490.32,290.97 497.15,292.69 501.90,294.64 C506.65,296.59 511.63,299.16 516.50,301.94 C521.37,304.72 526.48,308.06 531.10,311.34 C535.72,314.62 540.07,318.47 544.20,321.64 C548.33,324.81 552.00,327.31 555.90,330.34 C559.80,333.37 563.58,336.56 567.60,339.84 C571.62,343.12 576.40,347.42 580.00,350.04 C583.60,352.66 585.23,353.16 589.20,355.54 C593.17,357.92 598.93,361.41 603.80,364.34 C608.67,367.27 613.53,370.22 618.40,373.14 C623.27,376.06 626.63,378.39 633.00,381.84 C639.37,385.29 652.67,391.84 656.60,393.84 L652.30,410.34 C649.08,407.91 638.65,399.64 633.00,395.74 C627.35,391.84 623.27,389.86 618.40,386.94 C613.53,384.02 608.67,381.27 603.80,378.24 C598.93,375.21 593.17,371.32 589.20,368.74 C585.23,366.16 583.60,365.61 580.00,362.74 C576.40,359.87 571.62,354.62 567.60,351.54 C563.58,348.46 559.25,346.37 555.90,344.24 C552.55,342.11 549.45,340.44 547.50,338.74 C545.55,337.04 546.93,336.52 544.20,334.04 C541.47,331.56 535.72,327.01 531.10,323.84 C526.48,320.67 521.37,317.61 516.50,315.04 C511.63,312.47 506.03,310.02 501.90,308.44 C497.77,306.86 493.40,306.02 491.70,305.54Z" fill="url(#rg2)" stroke="#1a1000" stroke-width="0.85"/><path d="M544.20,321.64 C546.15,322.49 552.00,323.71 555.90,326.74 C559.80,329.77 565.65,337.66 567.60,339.84" fill="none" stroke="#3a2000" stroke-width="0.6"/><path d="M544.20,321.64 C544.70,322.97 544.77,327.09 547.20,329.64 C549.63,332.19 555.40,335.24 558.80,336.94 C562.20,338.64 566.13,339.36 567.60,339.84" fill="none" stroke="#3a2000" stroke-width="0.6"/><path d="M499.40,279.54 L447.50,319.64 L454.50,336.44 L652.40,411.74 L684.40,328.24 Z" fill="none" stroke="#000" stroke-width="1.5" stroke-linejoin="miter"/><line x1="524.10" y1="286.04" x2="520.70" y2="289.34" stroke="#000" stroke-width="1"/><line x1="550.40" y1="292.97" x2="547.40" y2="296.57" stroke="#000" stroke-width="1"/><line x1="579.60" y1="300.65" x2="577.20" y2="304.55" stroke="#000" stroke-width="1"/><line x1="610.77" y1="308.86" x2="609.17" y2="313.26" stroke="#000" stroke-width="1"/><line x1="645.55" y1="318.01" x2="644.35" y2="322.61" stroke="#000" stroke-width="1"/><line x1="480.72" y1="293.98" x2="484.92" y2="295.78" stroke="#000" stroke-width="1"/><line x1="458.50" y1="311.14" x2="462.70" y2="312.94" stroke="#000" stroke-width="1"/><line x1="479.83" y1="346.08" x2="483.43" y2="342.88" stroke="#000" stroke-width="1"/><line x1="507.54" y1="356.62" x2="510.74" y2="353.12" stroke="#000" stroke-width="1"/><line x1="537.42" y1="367.99" x2="540.22" y2="364.19" stroke="#000" stroke-width="1"/><line x1="570.27" y1="380.49" x2="572.47" y2="376.39" stroke="#000" stroke-width="1"/><line x1="609.26" y1="395.32" x2="610.86" y2="390.92" stroke="#000" stroke-width="1"/><line x1="656.24" y1="401.72" x2="652.44" y2="402.02" stroke="#000" stroke-width="1"/><line x1="667.76" y1="371.66" x2="663.96" y2="371.96" stroke="#000" stroke-width="1"/><text x="491.10" y="278.64" font-size="9.5" text-anchor="middle">300</text><text x="448.60" y="309.44" font-size="9.5" text-anchor="middle">100</text><text x="472.10" y="354.24" font-size="9.5" text-anchor="middle">500</text><text x="529.20" y="375.84" font-size="9.5" text-anchor="middle">300</text><text x="602.00" y="402.94" font-size="9.5" text-anchor="middle">100</text><text x="678.80" y="336.74" font-size="9.5" text-anchor="end">6.2 Myr</text>
<path d="M489.70,424.86 C492.70,426.34 502.38,431.13 507.70,433.76 C513.02,436.39 516.63,437.78 521.60,440.66 C526.57,443.54 531.93,447.58 537.50,451.06 C543.07,454.54 550.25,458.38 555.00,461.56 C559.75,464.74 562.00,466.21 566.00,470.16 C570.00,474.11 573.92,480.93 579.00,485.26 C584.08,489.59 589.93,492.14 596.50,496.16 C603.07,500.18 611.10,505.34 618.40,509.36 C625.70,513.38 633.73,516.99 640.30,520.26 C646.87,523.53 654.88,527.51 657.80,528.96 L652.20,545.96 C647.78,543.49 633.77,535.81 625.70,531.16 C617.63,526.51 610.62,522.19 603.80,518.06 C596.98,513.93 590.15,510.01 584.80,506.36 C579.45,502.71 575.83,499.81 571.70,496.16 C567.57,492.51 564.18,488.63 560.00,484.46 C555.82,480.29 551.62,475.68 546.60,471.16 C541.58,466.64 536.38,461.66 529.90,457.36 C523.42,453.06 513.93,448.38 507.70,445.36 C501.47,442.34 495.03,440.28 492.50,439.26Z" fill="url(#rg3)" stroke="#1a1000" stroke-width="0.85"/><path d="M537.50,451.06 C537.50,449.89 548.57,456.21 555.00,461.56 C561.43,466.91 576.10,481.99 576.10,483.16 C576.10,484.33 561.43,473.91 555.00,468.56 C548.57,463.21 537.50,452.23 537.50,451.06Z" fill="url(#rl3)" stroke="#2a1a00" stroke-width="0.6"/><path d="M537.50,451.06 C539.25,452.78 544.25,457.81 548.00,461.36 C551.75,464.91 555.32,468.73 560.00,472.36 C564.68,475.99 573.42,481.36 576.10,483.16" fill="none" stroke="#2a1a00" stroke-width="0.6"/><path d="M499.40,415.66 L447.50,455.76 L454.50,472.56 L652.40,547.86 L684.40,464.36 Z" fill="none" stroke="#000" stroke-width="1.5" stroke-linejoin="miter"/><line x1="524.10" y1="422.16" x2="520.70" y2="425.46" stroke="#000" stroke-width="1"/><line x1="550.40" y1="429.09" x2="547.40" y2="432.69" stroke="#000" stroke-width="1"/><line x1="579.60" y1="436.77" x2="577.20" y2="440.67" stroke="#000" stroke-width="1"/><line x1="610.77" y1="444.98" x2="609.17" y2="449.38" stroke="#000" stroke-width="1"/><line x1="645.55" y1="454.13" x2="644.35" y2="458.73" stroke="#000" stroke-width="1"/><line x1="480.72" y1="430.10" x2="484.92" y2="431.90" stroke="#000" stroke-width="1"/><line x1="458.50" y1="447.26" x2="462.70" y2="449.06" stroke="#000" stroke-width="1"/><line x1="479.83" y1="482.20" x2="483.43" y2="479.00" stroke="#000" stroke-width="1"/><line x1="507.54" y1="492.74" x2="510.74" y2="489.24" stroke="#000" stroke-width="1"/><line x1="537.42" y1="504.11" x2="540.22" y2="500.31" stroke="#000" stroke-width="1"/><line x1="570.27" y1="516.61" x2="572.47" y2="512.51" stroke="#000" stroke-width="1"/><line x1="609.26" y1="531.44" x2="610.86" y2="527.04" stroke="#000" stroke-width="1"/><line x1="656.24" y1="537.84" x2="652.44" y2="538.14" stroke="#000" stroke-width="1"/><line x1="667.76" y1="507.78" x2="663.96" y2="508.08" stroke="#000" stroke-width="1"/><text x="491.10" y="414.76" font-size="9.5" text-anchor="middle">300</text><text x="448.60" y="445.56" font-size="9.5" text-anchor="middle">100</text><text x="472.10" y="490.36" font-size="9.5" text-anchor="middle">500</text><text x="529.20" y="511.96" font-size="9.5" text-anchor="middle">300</text><text x="602.00" y="539.06" font-size="9.5" text-anchor="middle">100</text><text x="678.80" y="472.86" font-size="9.5" text-anchor="end">8.2 Myr</text>
<path d="M488.30,561.08 C491.53,562.61 501.22,567.05 507.70,570.28 C514.18,573.51 520.27,577.01 527.20,580.48 C534.13,583.95 542.83,587.01 549.30,591.08 C555.77,595.15 561.05,599.90 566.00,604.88 C570.95,609.86 575.13,617.08 579.00,620.98 C582.87,624.88 585.80,626.10 589.20,628.28 C592.60,630.46 594.53,631.41 599.40,634.08 C604.27,636.75 611.58,640.75 618.40,644.28 C625.22,647.81 633.82,651.83 640.30,655.28 C646.78,658.73 654.47,663.36 657.30,664.98 L652.20,682.48 C647.78,680.01 633.77,672.35 625.70,667.68 C617.63,663.01 609.88,658.13 603.80,654.48 C597.72,650.83 594.07,648.93 589.20,645.78 C584.33,642.63 579.47,639.00 574.60,635.58 C569.73,632.16 564.67,629.46 560.00,625.28 C555.33,621.10 551.85,615.73 546.60,610.48 C541.35,605.23 534.98,598.41 528.50,593.78 C522.02,589.15 513.93,585.45 507.70,582.68 C501.47,579.91 493.87,578.10 491.10,577.18Z" fill="url(#rg4)" stroke="#1a1000" stroke-width="0.85"/><path d="M540.00,586.48 C542.00,585.81 551.67,591.41 556.00,594.48 C560.33,597.55 563.17,600.21 566.00,604.88 C568.83,609.55 573.67,619.88 573.00,622.48 C572.33,625.08 565.67,622.48 562.00,620.48 C558.33,618.48 554.00,614.15 551.00,610.48 C548.00,606.81 545.83,602.48 544.00,598.48 C542.17,594.48 538.00,587.15 540.00,586.48Z" fill="url(#rl5)" filter="url(#b0_8)"/><path d="M548.00,599.48 C548.83,600.65 550.67,604.48 553.00,606.48 C555.33,608.48 559.17,610.15 562.00,611.48 C564.83,612.81 568.67,613.98 570.00,614.48" fill="none" stroke="#5a0a6a" stroke-width="1.4"/><path d="M527.20,581.38 C530.17,582.90 539.53,587.30 545.00,590.48 C550.47,593.66 554.50,595.48 560.00,600.48 C565.50,605.48 572.83,615.81 578.00,620.48 C583.17,625.15 588.83,627.15 591.00,628.48" fill="none" stroke="#2a0a2a" stroke-width="0.7"/><path d="M588.00,625.48 C588.08,626.65 588.50,630.15 588.50,632.48 C588.50,634.81 588.08,638.31 588.00,639.48" fill="none" stroke="#2a0a2a" stroke-width="0.9"/><path d="M527.20,580.88 L528.50,593.78 L518.80,597.98 L507.70,600.78 L499.40,605.48 L498.00,603.58 L505.00,599.38 L516.10,591.08Z" fill="#5a03a4" stroke="#1a0040" stroke-width="0.5"/><path d="M549.30,584.08 L563.20,596.58 L564.60,602.18 L557.70,599.38 L550.70,596.58Z" fill="#5a03a4" stroke="#1a0040" stroke-width="0.5"/><path d="M591.00,628.48 L602.00,615.98 L602.60,629.88 L595.10,632.68Z" fill="#5a03a4" stroke="#1a0040" stroke-width="0.5"/><path d="M499.40,551.78 L447.50,591.88 L454.50,608.68 L652.40,683.98 L684.40,600.48 Z" fill="none" stroke="#000" stroke-width="1.5" stroke-linejoin="miter"/><line x1="524.10" y1="558.28" x2="520.70" y2="561.58" stroke="#000" stroke-width="1"/><line x1="550.40" y1="565.21" x2="547.40" y2="568.81" stroke="#000" stroke-width="1"/><line x1="579.60" y1="572.89" x2="577.20" y2="576.79" stroke="#000" stroke-width="1"/><line x1="610.77" y1="581.10" x2="609.17" y2="585.50" stroke="#000" stroke-width="1"/><line x1="645.55" y1="590.25" x2="644.35" y2="594.85" stroke="#000" stroke-width="1"/><line x1="480.72" y1="566.22" x2="484.92" y2="568.02" stroke="#000" stroke-width="1"/><line x1="458.50" y1="583.38" x2="462.70" y2="585.18" stroke="#000" stroke-width="1"/><line x1="479.83" y1="618.32" x2="483.43" y2="615.12" stroke="#000" stroke-width="1"/><line x1="507.54" y1="628.86" x2="510.74" y2="625.36" stroke="#000" stroke-width="1"/><line x1="537.42" y1="640.23" x2="540.22" y2="636.43" stroke="#000" stroke-width="1"/><line x1="570.27" y1="652.73" x2="572.47" y2="648.63" stroke="#000" stroke-width="1"/><line x1="609.26" y1="667.56" x2="610.86" y2="663.16" stroke="#000" stroke-width="1"/><line x1="656.24" y1="673.96" x2="652.44" y2="674.26" stroke="#000" stroke-width="1"/><line x1="667.76" y1="643.90" x2="663.96" y2="644.20" stroke="#000" stroke-width="1"/><text x="491.10" y="550.88" font-size="9.5" text-anchor="middle">300</text><text x="448.60" y="581.68" font-size="9.5" text-anchor="middle">100</text><text x="472.10" y="626.48" font-size="9.5" text-anchor="middle">500</text><text x="529.20" y="648.08" font-size="9.5" text-anchor="middle">300</text><text x="602.00" y="675.18" font-size="9.5" text-anchor="middle">100</text><text x="678.80" y="608.98" font-size="9.5" text-anchor="end">12 Myr</text>
<path d="M516.10,712.20 C516.79,711.89 515.88,719.39 517.40,720.50 C518.92,721.61 529.91,721.50 531.30,723.30 C532.69,725.10 531.99,736.56 531.30,738.50 C530.61,740.44 525.92,742.28 524.40,742.70 C522.88,743.12 517.77,743.25 516.10,742.70 C514.43,742.15 508.67,738.31 507.70,737.20 C506.73,736.09 506.12,732.96 506.40,731.60 C506.68,730.24 509.53,725.54 510.50,723.60 C511.47,721.66 515.41,712.51 516.10,712.20Z" fill="#5a03a4" stroke="#1a0040" stroke-width="0.5"/><path d="M538.30,726.10 C537.88,727.35 538.77,742.16 539.60,744.10 C540.43,746.04 546.18,746.75 546.60,745.50 C547.02,744.25 544.63,733.54 543.80,731.60 C542.97,729.66 538.72,724.85 538.30,726.10Z" fill="#5a03a4" stroke="#1a0040" stroke-width="0.5"/><path d="M568.80,734.40 C569.35,733.29 571.36,732.17 571.50,733.00 C571.64,733.83 570.75,741.59 570.20,742.70 C569.65,743.81 566.14,744.93 566.00,744.10 C565.86,743.27 568.25,735.51 568.80,734.40Z" fill="#5a03a4" stroke="#1a0040" stroke-width="0.5"/><path d="M582.60,756.60 C583.57,754.52 590.91,742.83 592.30,741.30 C593.69,739.77 596.36,740.33 596.50,741.30 C596.64,742.27 592.59,750.03 593.70,751.00 C594.81,751.97 606.76,748.92 607.60,751.00 C608.44,753.08 603.76,769.99 602.10,771.80 C600.44,773.61 592.95,770.07 591.00,769.10 C589.05,768.13 583.44,763.35 582.60,762.10 C581.76,760.85 581.63,758.68 582.60,756.60Z" fill="#5a03a4" stroke="#1a0040" stroke-width="0.5"/><path d="M488.30,698.30 C490.58,699.43 497.37,702.78 502.00,705.10 C506.63,707.42 511.45,710.32 516.10,712.20 C520.75,714.08 524.37,714.08 529.90,716.40 C535.43,718.72 543.75,722.40 549.30,726.10 C554.85,729.80 559.42,734.52 563.20,738.60 C566.98,742.68 569.37,747.10 572.00,750.60 C574.63,754.10 576.13,756.87 579.00,759.60 C581.87,762.33 585.32,764.80 589.20,767.00 C593.08,769.20 597.43,770.25 602.30,772.80 C607.17,775.35 612.07,778.77 618.40,782.30 C624.73,785.83 633.82,790.53 640.30,794.00 C646.78,797.47 654.47,801.58 657.30,803.10 L652.20,818.90 C650.70,818.28 648.83,818.37 643.20,815.20 C637.57,812.03 625.93,804.40 618.40,799.90 C610.87,795.40 602.87,791.37 598.00,788.20 C593.13,785.03 593.10,783.58 589.20,780.90 C585.30,778.22 579.13,775.57 574.60,772.10 C570.07,768.63 565.75,763.62 562.00,760.10 C558.25,756.58 556.52,755.75 552.10,751.00 C547.68,746.25 541.50,736.68 535.50,731.60 C529.50,726.52 523.27,723.27 516.10,720.50 C508.93,717.73 496.43,715.92 492.50,715.00Z" fill="url(#rg5)" stroke="#1a1000" stroke-width="0.85"/><path d="M516.10,712.20 C518.42,713.60 524.47,717.20 530.00,720.60 C535.53,724.00 543.77,728.27 549.30,732.60 C554.83,736.93 558.57,741.93 563.20,746.60 C567.83,751.27 572.47,757.27 577.10,760.60 C581.73,763.93 588.68,765.60 591.00,766.60" fill="none" stroke="#1a0a1a" stroke-width="0.7"/><path d="M516.10,720.50 C517.42,722.52 521.52,729.58 524.00,732.60 C526.48,735.62 529.83,737.60 531.00,738.60" fill="none" stroke="#1a0a1a" stroke-width="0.6"/><path d="M499.40,687.90 L447.50,728.00 L454.50,744.80 L652.40,820.10 L684.40,736.60 Z" fill="none" stroke="#000" stroke-width="1.5" stroke-linejoin="miter"/><line x1="524.10" y1="694.40" x2="520.70" y2="697.70" stroke="#000" stroke-width="1"/><line x1="550.40" y1="701.33" x2="547.40" y2="704.93" stroke="#000" stroke-width="1"/><line x1="579.60" y1="709.01" x2="577.20" y2="712.91" stroke="#000" stroke-width="1"/><line x1="610.77" y1="717.22" x2="609.17" y2="721.62" stroke="#000" stroke-width="1"/><line x1="645.55" y1="726.37" x2="644.35" y2="730.97" stroke="#000" stroke-width="1"/><line x1="480.72" y1="702.34" x2="484.92" y2="704.14" stroke="#000" stroke-width="1"/><line x1="458.50" y1="719.50" x2="462.70" y2="721.30" stroke="#000" stroke-width="1"/><line x1="479.83" y1="754.44" x2="483.43" y2="751.24" stroke="#000" stroke-width="1"/><line x1="507.54" y1="764.98" x2="510.74" y2="761.48" stroke="#000" stroke-width="1"/><line x1="537.42" y1="776.35" x2="540.22" y2="772.55" stroke="#000" stroke-width="1"/><line x1="570.27" y1="788.85" x2="572.47" y2="784.75" stroke="#000" stroke-width="1"/><line x1="609.26" y1="803.68" x2="610.86" y2="799.28" stroke="#000" stroke-width="1"/><line x1="656.24" y1="810.08" x2="652.44" y2="810.38" stroke="#000" stroke-width="1"/><line x1="667.76" y1="780.02" x2="663.96" y2="780.32" stroke="#000" stroke-width="1"/><text x="491.10" y="687.00" font-size="9.5" text-anchor="middle">300</text><text x="448.60" y="717.80" font-size="9.5" text-anchor="middle">100</text><text x="472.10" y="762.60" font-size="9.5" text-anchor="middle">500</text><text x="529.20" y="784.20" font-size="9.5" text-anchor="middle">300</text><text x="602.00" y="811.30" font-size="9.5" text-anchor="middle">100</text><text x="678.80" y="745.10" font-size="9.5" text-anchor="end">16 Myr</text>
<g stroke="#000" stroke-width="1.4" fill="none"><path d="M488.9,786.8 L488.4,775"/><path d="M488.9,786.8 L476,782.2"/><path d="M488.9,786.8 L496.5,778.2"/></g><g fill="#000"><path d="M488.2,769.8 L490.6,776.6 L486.0,776.6 Z"/><path d="M471.2,781.2 L478.4,780.4 L476.6,784.9 Z"/><path d="M499.5,774.8 L497.9,781.3 L494.4,778.2 Z"/></g>
<text x="464.6" y="784" font-size="9.5" font-family="Liberation Serif" font-style="italic" fill="#333">x</text>
<text x="485.2" y="767.6" font-size="9.5" font-family="Liberation Serif" font-style="italic" fill="#333">y</text>
<text x="499.8" y="774" font-size="9.5" font-family="Liberation Serif" font-style="italic" fill="#333">z</text>
<text x="22.90" y="824.30" font-size="9.5" text-anchor="start" >Stress regime</text>
<rect x="22.60" y="831.60" width="117.90" height="10.70" fill="url(#gBlues)" stroke="#111" stroke-width="1.3"/>
<text x="24.80" y="840.30" font-size="9.5" text-anchor="start" >Extension</text>
<rect x="22.60" y="847.80" width="117.90" height="10.80" fill="url(#gGreens)" stroke="#111" stroke-width="1.3"/>
<text x="24.80" y="856.60" font-size="9.5" text-anchor="start" >Transtension</text>
<rect x="148.00" y="815.50" width="119.50" height="10.80" fill="url(#gPurples)" stroke="#111" stroke-width="1.3"/>
<text x="150.20" y="824.30" font-size="9.5" text-anchor="start" >Strike-slip</text>
<rect x="148.00" y="831.90" width="119.50" height="10.50" fill="url(#gOranges)" stroke="#111" stroke-width="1.3"/>
<text x="150.20" y="840.40" font-size="9.5" text-anchor="start" >Transpression</text>
<rect x="148.00" y="847.30" width="119.50" height="10.80" fill="url(#gReds)" stroke="#111" stroke-width="1.3"/>
<text x="150.20" y="856.10" font-size="9.5" text-anchor="start" >Compression</text>
<rect x="446.7" y="822.9" width="194.1" height="9.5" fill="url(#gPlasma)" stroke="#111" stroke-width="1.1"/>
<line x1="446.70" y1="832.4" x2="446.70" y2="836" stroke="#111" stroke-width="1"/>
<text x="446.70" y="844.30" font-size="9.5" text-anchor="middle" >0</text>
<line x1="500.85" y1="832.4" x2="500.85" y2="836" stroke="#111" stroke-width="1"/>
<text x="500.85" y="844.30" font-size="9.5" text-anchor="middle" >0.5</text>
<line x1="555.00" y1="832.4" x2="555.00" y2="836" stroke="#111" stroke-width="1"/>
<text x="555.00" y="844.30" font-size="9.5" text-anchor="middle" >1</text>
<line x1="609.15" y1="832.4" x2="609.15" y2="836" stroke="#111" stroke-width="1"/>
<text x="609.15" y="844.30" font-size="9.5" text-anchor="middle" >1.5</text>
<text x="551.50" y="857.50" font-size="9.5" text-anchor="middle" >Slip rate (cm/yr)</text>
</svg>
</body></html>
